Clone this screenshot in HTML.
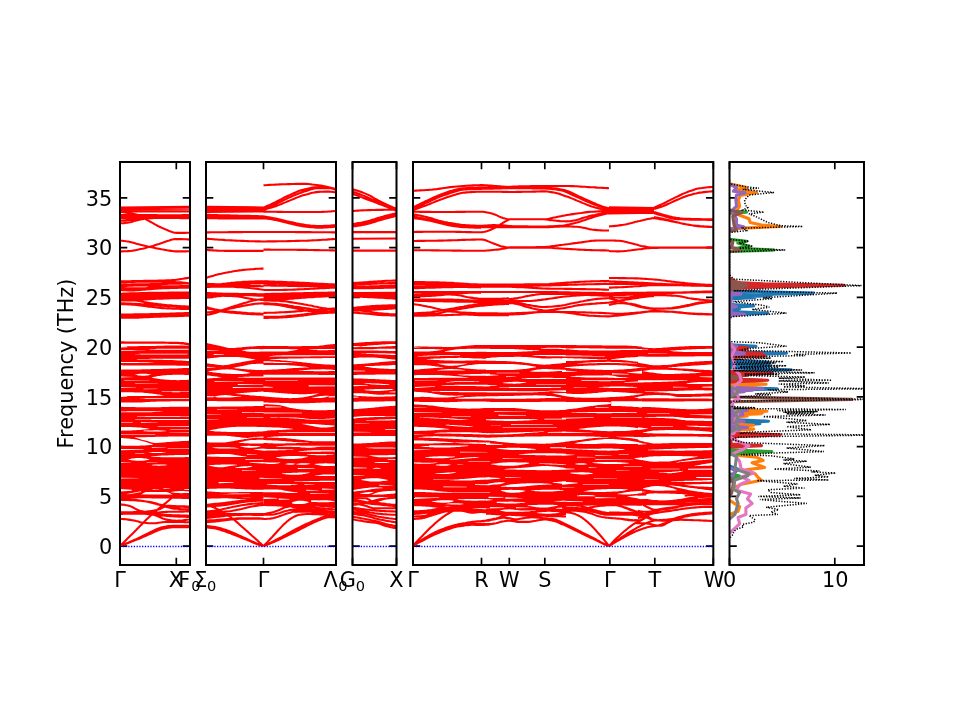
<!DOCTYPE html>
<html lang="en"><head><meta charset="utf-8"><title>Phonon band structure and DOS</title><style>html,body{margin:0;padding:0;background:#fff}body{width:960px;height:720px;overflow:hidden}</style></head><body>
<svg width="960" height="720" viewBox="0 0 960 720" style="display:block">
<rect width="960" height="720" fill="#fff"/>
<defs>
<clipPath id="c0"><rect x="120" y="162" width="70" height="403"/></clipPath>
<clipPath id="c1"><rect x="206" y="162" width="130" height="403"/></clipPath>
<clipPath id="c2"><rect x="352.5" y="162" width="44.0" height="403"/></clipPath>
<clipPath id="c3"><rect x="413" y="162" width="300.29999999999995" height="403"/></clipPath>
<clipPath id="c4"><rect x="729.5" y="162" width="134.5" height="403"/></clipPath>
</defs>
<path d="M120 546.10h7.3M190 546.10h-7.3M120 496.36h7.3M190 496.36h-7.3M120 446.61h7.3M190 446.61h-7.3M120 396.87h7.3M190 396.87h-7.3M120 347.12h7.3M190 347.12h-7.3M120 297.38h7.3M190 297.38h-7.3M120 247.63h7.3M190 247.63h-7.3M120 197.89h7.3M190 197.89h-7.3M120 565v-7.3M120 162v7.3M176.3 565v-7.3M176.3 162v7.3M190 565v-7.3M190 162v7.3M206 546.10h7.3M336 546.10h-7.3M206 496.36h7.3M336 496.36h-7.3M206 446.61h7.3M336 446.61h-7.3M206 396.87h7.3M336 396.87h-7.3M206 347.12h7.3M336 347.12h-7.3M206 297.38h7.3M336 297.38h-7.3M206 247.63h7.3M336 247.63h-7.3M206 197.89h7.3M336 197.89h-7.3M206 565v-7.3M206 162v7.3M263.5 565v-7.3M263.5 162v7.3M336 565v-7.3M336 162v7.3M352.5 546.10h7.3M396.5 546.10h-7.3M352.5 496.36h7.3M396.5 496.36h-7.3M352.5 446.61h7.3M396.5 446.61h-7.3M352.5 396.87h7.3M396.5 396.87h-7.3M352.5 347.12h7.3M396.5 347.12h-7.3M352.5 297.38h7.3M396.5 297.38h-7.3M352.5 247.63h7.3M396.5 247.63h-7.3M352.5 197.89h7.3M396.5 197.89h-7.3M352.5 565v-7.3M352.5 162v7.3M396.5 565v-7.3M396.5 162v7.3M413 546.10h7.3M713.3 546.10h-7.3M413 496.36h7.3M713.3 496.36h-7.3M413 446.61h7.3M713.3 446.61h-7.3M413 396.87h7.3M713.3 396.87h-7.3M413 347.12h7.3M713.3 347.12h-7.3M413 297.38h7.3M713.3 297.38h-7.3M413 247.63h7.3M713.3 247.63h-7.3M413 197.89h7.3M713.3 197.89h-7.3M413 565v-7.3M413 162v7.3M481.5 565v-7.3M481.5 162v7.3M509.3 565v-7.3M509.3 162v7.3M544.8 565v-7.3M544.8 162v7.3M609.8 565v-7.3M609.8 162v7.3M654.8 565v-7.3M654.8 162v7.3M713.3 565v-7.3M713.3 162v7.3M729.5 546.10h7.3M864 546.10h-7.3M729.5 496.36h7.3M864 496.36h-7.3M729.5 446.61h7.3M864 446.61h-7.3M729.5 396.87h7.3M864 396.87h-7.3M729.5 347.12h7.3M864 347.12h-7.3M729.5 297.38h7.3M864 297.38h-7.3M729.5 247.63h7.3M864 247.63h-7.3M729.5 197.89h7.3M864 197.89h-7.3M729.5 565v-7.3M729.5 162v7.3M834.8 565v-7.3M834.8 162v7.3" stroke="#000" stroke-width="1.67" fill="none"/>
<path clip-path="url(#c0)" d="M119.3 341.3L120.8 341.3L122.4 341.3L123.9 341.3L125.4 341.4L126.9 341.4L128.4 341.4L129.9 341.4L131.4 341.4L132.9 341.4L134.4 341.4L135.9 341.4L137.5 341.4L139.0 341.4L140.5 341.4L142.0 341.5L143.5 341.5L145.0 341.5L146.5 341.5L148.0 341.5L149.5 341.5L151.1 341.5L152.6 341.5L154.1 341.6L155.6 341.6L157.1 341.6L157.7 341.6L158.6 341.6L160.1 341.6L161.6 341.6L163.1 341.6L164.6 341.6L166.2 341.7L167.7 341.7L169.2 341.7L170.7 341.7L172.2 341.7L173.7 341.7L175.2 341.8L176.7 341.8L178.2 341.8L178.5 341.8L179.7 341.9L181.3 342.0L182.8 342.1L184.3 342.3L185.8 342.5L187.3 342.7L188.8 343.0L190.3 343.2L191.8 343.5L191.8 497.8L190.3 497.8L188.8 497.8L187.3 497.8L185.8 497.8L184.3 497.8L182.8 497.8L181.3 497.8L179.7 497.8L178.5 497.8L178.2 497.8L176.7 497.8L175.2 497.8L173.7 497.8L172.2 497.8L170.7 497.8L169.2 497.8L167.7 497.8L166.2 497.8L164.6 497.8L163.1 497.8L161.6 497.8L160.1 497.8L158.6 497.8L157.7 497.8L157.1 497.8L155.6 497.8L154.1 497.8L152.6 497.8L151.1 497.8L149.5 497.8L148.0 497.8L146.5 497.8L145.0 497.8L143.5 497.8L142.0 497.8L140.5 497.8L139.0 497.8L137.5 497.8L135.9 497.8L134.4 497.8L132.9 497.8L131.4 497.8L129.9 497.8L128.4 497.8L126.9 497.8L125.4 497.8L123.9 497.8L122.4 497.8L120.8 497.8L119.3 497.8Z" fill="#f00" stroke="none"/>
<path clip-path="url(#c0)" d="M119.3 343.7L120.8 343.7L122.4 343.7L123.9 343.7L125.4 343.7L126.9 343.7L128.4 343.7L129.9 343.7L131.4 343.7L132.9 343.7L134.5 343.7L136.0 343.7L137.5 343.7L139.0 343.7L140.5 343.7L142.0 343.7L143.5 343.7L145.0 343.7L146.6 343.7L148.1 343.7L149.3 343.8L149.6 343.8L151.1 343.8L152.6 343.8L154.1 343.8L155.6 343.8L157.2 343.8L158.7 343.8L160.2 343.8L161.7 343.8L163.2 343.8L164.7 343.8L166.2 343.8L167.7 343.8L169.3 343.9L170.8 343.9L172.3 343.9L173.8 343.9L174.3 343.9L175.3 343.9L176.8 344.0L178.3 344.1L179.8 344.2L181.4 344.4L182.7 344.5L182.9 344.5L184.4 344.7L185.9 345.0L187.4 345.3L188.9 345.6L188.9 345.7L187.4 345.7L185.9 345.7L184.4 345.6L182.9 345.6L182.7 345.6L181.4 345.6L179.8 345.5L178.3 345.5L176.8 345.5L175.3 345.5L174.3 345.5L173.8 345.5L172.3 345.5L170.8 345.5L169.3 345.5L167.7 345.6L166.2 345.6L164.7 345.6L163.2 345.7L161.7 345.7L160.2 345.7L158.7 345.8L157.2 345.8L155.6 345.9L154.1 345.9L152.6 345.9L151.1 346.0L149.6 346.0L149.3 346.0L148.1 346.0L146.6 346.0L145.0 346.1L143.5 346.1L142.0 346.1L140.5 346.1L139.0 346.1L137.5 346.2L136.0 346.2L134.5 346.2L132.9 346.2L131.4 346.2L129.9 346.2L128.4 346.3L126.9 346.3L125.4 346.3L123.9 346.3L122.4 346.3L120.8 346.3L119.3 346.3ZM120.0 350.2L121.6 350.2L123.1 350.2L124.7 350.2L126.3 350.2L127.9 350.3L129.4 350.3L131.0 350.3L132.6 350.3L132.7 350.3L134.2 350.4L135.7 350.4L137.3 350.4L138.9 350.4L140.4 350.4L142.0 350.5L143.6 350.5L145.2 350.5L145.2 350.7L143.6 350.7L142.0 350.7L140.4 350.8L138.9 350.8L137.3 350.8L135.7 350.9L134.2 350.9L132.7 350.9L132.6 350.9L131.0 350.9L129.4 350.9L127.9 351.0L126.3 351.0L124.7 351.0L123.1 351.0L121.6 351.0L120.0 351.0ZM149.3 349.2L150.8 349.1L152.3 349.0L153.9 349.0L155.4 348.9L156.9 348.8L158.4 348.8L159.9 348.8L161.4 348.7L162.9 348.7L164.4 348.7L165.9 348.7L166.0 348.7L167.4 348.7L168.9 348.7L170.4 348.7L171.9 348.7L173.4 348.7L174.9 348.7L176.4 348.7L178.0 348.7L179.5 348.7L181.0 348.7L182.5 348.7L184.0 348.8L185.5 348.8L187.0 348.8L188.5 348.8L188.5 349.8L187.0 349.8L185.5 349.8L184.0 349.8L182.5 349.8L181.0 349.8L179.5 349.8L178.0 349.8L176.4 349.8L174.9 349.8L173.4 349.8L171.9 349.8L170.4 349.8L168.9 349.8L167.4 349.8L166.0 349.8L165.9 349.8L164.4 349.8L162.9 349.8L161.4 349.8L159.9 349.8L158.4 349.7L156.9 349.7L155.4 349.7L153.9 349.6L152.3 349.6L150.8 349.5L149.3 349.5ZM135.2 353.9L136.7 353.9L138.2 353.9L139.7 353.8L141.2 353.8L142.7 353.8L144.2 353.8L145.7 353.7L147.2 353.7L148.7 353.7L150.2 353.7L151.7 353.7L153.2 353.7L154.7 353.7L156.2 353.7L157.7 353.7L157.7 353.7L159.2 353.7L160.7 353.7L162.2 353.7L163.7 353.7L165.2 353.7L166.7 353.7L168.2 353.7L169.7 353.7L171.2 353.7L172.7 353.7L174.2 353.7L175.7 353.7L177.2 353.7L178.7 353.7L180.2 353.7L181.7 353.8L183.2 353.8L184.7 353.8L186.2 353.8L187.7 353.8L187.7 354.3L186.2 354.4L184.7 354.4L183.2 354.4L181.7 354.4L180.2 354.4L178.7 354.4L177.2 354.4L175.7 354.5L174.2 354.5L172.7 354.5L171.2 354.5L169.7 354.5L168.2 354.5L166.7 354.5L165.2 354.5L163.7 354.5L162.2 354.5L160.7 354.5L159.2 354.5L157.7 354.5L157.7 354.5L156.2 354.5L154.7 354.5L153.2 354.5L151.7 354.5L150.2 354.5L148.7 354.5L147.2 354.4L145.7 354.4L144.2 354.4L142.7 354.4L141.2 354.4L139.7 354.3L138.2 354.3L136.7 354.3L135.2 354.2ZM136.8 359.2L138.3 359.1L139.8 359.1L141.3 359.0L142.9 359.0L144.4 359.0L145.9 358.9L147.4 358.9L148.9 358.9L150.4 358.8L151.9 358.8L153.4 358.8L154.9 358.8L156.4 358.7L157.9 358.7L159.4 358.7L160.9 358.7L162.4 358.7L163.9 358.7L165.4 358.7L166.0 358.7L166.9 358.7L168.4 358.7L169.9 358.7L171.4 358.7L172.9 358.7L174.4 358.7L176.0 358.7L177.5 358.7L179.0 358.7L180.5 358.7L182.0 358.7L183.5 358.7L185.0 358.7L186.5 358.8L188.0 358.8L189.5 358.8L191.0 358.8L191.0 361.2L189.5 361.1L188.0 361.0L186.5 360.9L185.0 360.8L183.5 360.7L182.0 360.6L180.5 360.5L179.0 360.4L177.5 360.4L176.0 360.3L174.4 360.2L172.9 360.1L171.4 360.1L169.9 360.0L168.4 360.0L166.9 359.9L166.0 359.9L165.4 359.9L163.9 359.9L162.4 359.8L160.9 359.8L159.4 359.8L157.9 359.7L156.4 359.7L154.9 359.7L153.4 359.7L151.9 359.6L150.4 359.6L148.9 359.6L147.4 359.6L145.9 359.6L144.4 359.5L142.9 359.5L141.3 359.5L139.8 359.5L138.3 359.5L136.8 359.5ZM119.3 361.9L120.9 361.9L122.4 361.9L124.0 361.9L125.5 361.9L127.1 361.9L128.7 361.9L130.2 361.9L131.8 361.9L133.3 362.0L134.9 362.0L136.4 362.0L138.0 362.0L139.5 362.0L141.0 362.0L141.1 362.0L142.6 362.0L144.2 362.0L145.7 362.1L147.3 362.1L148.8 362.2L150.4 362.2L151.9 362.3L153.5 362.3L153.5 362.6L151.9 362.6L150.4 362.7L148.8 362.7L147.3 362.7L145.7 362.8L144.2 362.8L142.6 362.8L141.1 362.8L141.0 362.8L139.5 362.8L138.0 362.9L136.4 362.9L134.9 362.9L133.3 362.9L131.8 362.9L130.2 362.9L128.7 362.9L127.1 362.9L125.5 362.9L124.0 362.9L122.4 362.9L120.9 362.9L119.3 362.9ZM119.3 365.3L120.9 365.3L122.4 365.3L123.9 365.4L125.4 365.4L127.0 365.4L128.5 365.4L130.0 365.4L131.5 365.4L133.1 365.4L134.6 365.4L136.1 365.4L137.6 365.4L139.2 365.4L140.7 365.4L142.2 365.4L143.7 365.4L145.3 365.5L146.8 365.5L148.3 365.5L149.8 365.5L151.4 365.5L152.9 365.5L153.5 365.5L154.4 365.5L155.9 365.5L157.5 365.5L159.0 365.5L160.5 365.5L162.0 365.6L163.6 365.6L165.1 365.6L166.6 365.6L168.1 365.6L169.7 365.6L171.2 365.6L172.7 365.6L174.2 365.6L175.8 365.6L177.3 365.7L178.8 365.7L180.3 365.7L181.9 365.7L183.4 365.7L184.9 365.7L186.4 365.7L188.0 365.7L189.5 365.7L191.0 365.8L191.0 367.8L189.5 367.9L188.0 368.0L186.4 368.0L184.9 368.1L183.4 368.1L181.9 368.2L180.3 368.3L178.8 368.3L177.3 368.4L175.8 368.4L174.2 368.5L172.7 368.5L171.2 368.6L169.7 368.6L168.1 368.7L166.6 368.7L165.1 368.8L163.6 368.8L162.0 368.9L160.5 368.9L159.0 368.9L157.5 369.0L155.9 369.0L154.4 369.1L153.5 369.1L152.9 369.1L151.4 369.1L149.8 369.2L148.3 369.2L146.8 369.2L145.3 369.3L143.7 369.3L142.2 369.3L140.7 369.4L139.2 369.4L137.6 369.4L136.1 369.4L134.6 369.5L133.1 369.5L131.5 369.5L130.0 369.5L128.5 369.6L127.0 369.6L125.4 369.6L123.9 369.6L122.4 369.6L120.9 369.7L119.3 369.7ZM135.2 374.6L136.8 374.3L138.3 374.0L139.9 373.8L141.5 373.7L143.1 373.7L143.5 373.7L144.7 373.7L146.2 373.8L147.8 374.0L149.4 374.2L151.0 374.6L151.0 374.8L149.4 375.1L147.8 375.4L146.2 375.6L144.7 375.7L143.5 375.8L143.1 375.7L141.5 375.7L139.9 375.6L138.3 375.4L136.8 375.1L135.2 374.8ZM119.3 376.6L134.3 376.9L134.3 377.1L119.3 377.4ZM151.8 377.2L153.3 376.9L154.8 376.7L156.4 376.4L157.9 376.1L159.4 375.9L160.9 375.7L162.4 375.5L163.9 375.3L165.4 375.2L166.0 375.2L166.9 375.1L168.4 375.0L169.9 374.9L171.4 374.9L172.9 374.8L174.4 374.7L175.9 374.7L177.4 374.7L178.5 374.7L178.9 374.7L180.5 374.7L182.0 374.7L183.5 374.8L185.0 374.9L186.5 375.0L188.0 375.1L189.5 375.2L191.0 375.3L191.0 379.5L189.5 379.6L188.0 379.8L186.5 379.9L185.0 380.0L183.5 380.1L182.0 380.1L180.5 380.1L178.9 380.2L178.5 380.2L177.4 380.2L175.9 380.1L174.4 380.1L172.9 380.0L171.4 380.0L169.9 379.9L168.4 379.8L166.9 379.7L166.0 379.7L165.4 379.6L163.9 379.5L162.4 379.3L160.9 379.2L159.4 378.9L157.9 378.7L156.4 378.5L154.8 378.2L153.3 377.9L151.8 377.6ZM124.3 380.1L149.3 380.2L149.3 380.5L124.3 380.6ZM135.2 383.2L157.7 383.2L157.7 383.6L135.2 383.7ZM119.3 387.1L136.0 387.3L136.0 387.5L119.3 387.8ZM143.5 388.7L157.7 388.8L157.7 389.0L143.5 389.2ZM119.3 392.2L120.9 392.2L122.4 392.2L123.9 392.2L125.4 392.2L126.9 392.2L128.5 392.2L130.0 392.3L131.5 392.3L133.0 392.3L134.6 392.4L136.1 392.4L137.6 392.5L139.1 392.5L140.7 392.6L141.0 392.6L142.2 392.6L143.7 392.7L145.2 392.9L146.7 393.0L148.3 393.2L149.8 393.4L151.3 393.6L152.8 393.8L153.5 393.8L154.4 393.9L155.9 394.1L157.4 394.4L158.9 394.6L160.5 394.8L162.0 395.1L163.5 395.3L163.5 395.5L162.0 395.6L160.5 395.7L158.9 395.8L157.4 395.8L155.9 395.9L154.4 395.9L153.5 395.9L152.8 395.9L151.3 395.9L149.8 395.9L148.3 395.9L146.7 395.9L145.2 395.9L143.7 395.9L142.2 395.9L141.0 395.9L140.7 395.9L139.1 395.9L137.6 395.9L136.1 395.9L134.6 395.9L133.0 395.9L131.5 395.9L130.0 395.9L128.5 395.9L126.9 395.9L125.4 395.9L123.9 395.9L122.4 395.9L120.9 395.9L119.3 395.9ZM161.8 391.6L163.4 391.5L165.0 391.5L166.6 391.4L168.1 391.4L169.7 391.4L171.3 391.4L172.9 391.3L174.3 391.3L174.4 391.3L176.0 391.3L177.6 391.3L179.1 391.3L180.7 391.4L182.3 391.4L183.9 391.4L185.4 391.4L187.0 391.4L188.6 391.5L190.2 391.5L190.2 392.0L188.6 392.0L187.0 392.1L185.4 392.1L183.9 392.1L182.3 392.1L180.7 392.1L179.1 392.2L177.6 392.2L176.0 392.2L174.4 392.2L174.3 392.2L172.9 392.2L171.3 392.1L169.7 392.1L168.1 392.1L166.6 392.1L165.0 392.0L163.4 392.0L161.8 391.9ZM140.2 398.2L141.7 398.2L143.2 398.2L144.7 398.2L146.2 398.1L147.7 398.1L149.3 398.1L150.8 398.1L152.3 398.0L153.8 398.0L155.3 398.0L156.8 398.0L157.7 398.0L158.3 398.0L159.9 398.0L161.4 398.0L162.9 398.0L164.4 398.0L165.9 398.0L167.4 398.0L169.0 398.0L170.5 398.0L172.0 398.0L173.5 398.0L175.0 398.0L176.5 398.0L178.0 398.0L179.6 398.1L181.1 398.1L182.6 398.1L184.1 398.1L185.6 398.1L187.1 398.1L188.7 398.1L190.2 398.2L190.2 398.7L188.7 398.7L187.1 398.7L185.6 398.7L184.1 398.7L182.6 398.8L181.1 398.8L179.6 398.8L178.0 398.8L176.5 398.8L175.0 398.8L173.5 398.8L172.0 398.8L170.5 398.8L169.0 398.8L167.4 398.8L165.9 398.8L164.4 398.8L162.9 398.8L161.4 398.8L159.9 398.8L158.3 398.8L157.7 398.8L156.8 398.8L155.3 398.8L153.8 398.8L152.3 398.8L150.8 398.8L149.3 398.8L147.7 398.7L146.2 398.7L144.7 398.7L143.2 398.6L141.7 398.6L140.2 398.6ZM119.3 402.3L120.9 402.4L122.4 402.4L123.9 402.5L125.4 402.5L127.0 402.5L128.5 402.6L130.0 402.6L131.5 402.6L133.1 402.6L134.6 402.6L136.1 402.6L136.8 402.6L137.6 402.6L139.2 402.5L140.7 402.5L142.2 402.4L143.7 402.3L145.3 402.2L146.8 402.1L148.3 402.0L149.8 401.9L151.4 401.8L152.9 401.8L153.5 401.8L154.4 401.7L155.9 401.7L157.5 401.6L159.0 401.6L160.5 401.6L162.0 401.5L163.6 401.5L165.1 401.4L166.6 401.4L168.1 401.4L169.7 401.4L171.2 401.3L172.7 401.3L174.2 401.3L174.3 401.3L175.8 401.3L177.3 401.3L178.8 401.3L180.3 401.3L181.9 401.3L183.4 401.3L184.9 401.3L186.4 401.3L188.0 401.3L189.5 401.3L191.0 401.3L191.0 406.8L189.5 406.8L188.0 406.8L186.4 406.8L184.9 406.8L183.4 406.8L181.9 406.8L180.3 406.8L178.8 406.8L177.3 406.8L175.8 406.8L174.3 406.8L174.2 406.8L172.7 406.8L171.2 406.8L169.7 406.8L168.1 406.9L166.6 406.9L165.1 407.0L163.6 407.1L162.0 407.1L160.5 407.2L159.0 407.2L157.5 407.3L155.9 407.3L154.4 407.3L153.5 407.3L152.9 407.3L151.4 407.3L149.8 407.3L148.3 407.3L146.8 407.3L145.3 407.3L143.7 407.3L142.2 407.2L140.7 407.2L139.2 407.2L137.6 407.2L136.8 407.2L136.1 407.2L134.6 407.1L133.1 407.1L131.5 407.1L130.0 407.0L128.5 407.0L127.0 407.0L125.4 406.9L123.9 406.9L122.4 406.8L120.9 406.8L119.3 406.8ZM119.3 411.6L120.9 411.5L122.4 411.5L124.0 411.4L125.5 411.4L127.1 411.3L128.6 411.3L130.2 411.3L131.7 411.2L133.3 411.2L134.8 411.2L136.4 411.2L137.9 411.2L139.5 411.2L141.0 411.2L142.5 411.2L144.1 411.2L145.6 411.2L147.2 411.2L148.7 411.2L150.3 411.2L151.8 411.3L153.4 411.3L154.9 411.3L156.5 411.4L158.0 411.4L159.6 411.5L161.1 411.5L162.7 411.6L162.7 411.8L161.1 411.8L159.6 411.9L158.0 411.9L156.5 412.0L154.9 412.1L153.4 412.1L151.8 412.2L150.3 412.2L148.7 412.2L147.2 412.3L145.6 412.3L144.1 412.3L142.5 412.3L141.0 412.3L139.5 412.3L137.9 412.3L136.4 412.3L134.8 412.3L133.3 412.3L131.7 412.3L130.2 412.3L128.6 412.3L127.1 412.3L125.5 412.3L124.0 412.3L122.4 412.2L120.9 412.2L119.3 412.2ZM136.8 416.2L138.4 416.1L139.9 416.1L141.4 416.1L142.9 416.1L144.5 416.0L146.0 416.0L147.5 416.0L149.0 416.0L150.5 416.0L152.1 415.9L153.6 415.9L155.1 415.9L156.6 415.9L157.7 415.9L158.2 415.9L159.7 415.9L161.2 415.9L162.7 415.9L164.3 415.9L165.8 415.9L167.3 415.9L168.8 415.9L170.4 415.9L171.9 415.9L173.4 416.0L174.9 416.0L176.5 416.0L178.0 416.0L179.5 416.0L181.0 416.0L182.5 416.0L184.1 416.1L185.6 416.1L187.1 416.1L188.6 416.1L190.2 416.2L190.2 416.5L188.6 416.5L187.1 416.6L185.6 416.6L184.1 416.6L182.5 416.6L181.0 416.6L179.5 416.7L178.0 416.7L176.5 416.7L174.9 416.7L173.4 416.7L171.9 416.7L170.4 416.7L168.8 416.7L167.3 416.7L165.8 416.7L164.3 416.7L162.7 416.7L161.2 416.7L159.7 416.7L158.2 416.7L157.7 416.8L156.6 416.7L155.1 416.7L153.6 416.7L152.1 416.7L150.5 416.7L149.0 416.7L147.5 416.7L146.0 416.7L144.5 416.6L142.9 416.6L141.4 416.6L139.9 416.6L138.4 416.5L136.8 416.5ZM135.2 419.3L136.7 419.3L138.2 419.3L139.8 419.3L141.3 419.3L142.8 419.2L144.3 419.2L145.9 419.2L147.4 419.2L148.9 419.2L150.4 419.2L152.0 419.1L153.5 419.1L155.0 419.1L156.6 419.1L158.1 419.1L159.6 419.1L161.1 419.1L162.7 419.1L164.2 419.1L165.7 419.1L166.0 419.1L167.2 419.1L168.8 419.1L170.3 419.1L171.8 419.1L173.4 419.1L174.9 419.1L176.4 419.1L177.9 419.1L179.5 419.1L181.0 419.1L182.5 419.1L184.1 419.1L185.6 419.1L187.1 419.1L188.6 419.2L190.2 419.2L190.2 419.8L188.6 419.8L187.1 419.9L185.6 419.9L184.1 419.9L182.5 419.9L181.0 419.9L179.5 419.9L177.9 419.9L176.4 419.9L174.9 419.9L173.4 419.9L171.8 419.9L170.3 419.9L168.8 419.9L167.2 419.9L166.0 419.9L165.7 419.9L164.2 419.9L162.7 419.9L161.1 419.9L159.6 419.9L158.1 419.9L156.6 419.9L155.0 419.9L153.5 419.9L152.0 419.9L150.4 419.8L148.9 419.8L147.4 419.8L145.9 419.8L144.3 419.8L142.8 419.8L141.3 419.7L139.8 419.7L138.2 419.7L136.7 419.7L135.2 419.7ZM119.3 422.0L132.7 422.1L132.7 422.4L119.3 422.5ZM141.0 422.0L157.7 422.2L157.7 422.5L141.0 422.7ZM119.3 427.0L120.8 427.0L122.3 427.0L123.8 427.0L125.3 427.0L126.8 427.1L128.3 427.1L129.8 427.1L131.3 427.1L132.7 427.2L132.8 427.2L134.3 427.2L135.8 427.3L137.3 427.4L138.8 427.5L140.3 427.6L141.8 427.8L143.3 427.9L144.8 428.1L146.3 428.3L147.8 428.5L149.3 428.7L149.3 429.0L147.8 429.2L146.3 429.3L144.8 429.5L143.3 429.6L141.8 429.7L140.3 429.9L138.8 430.0L137.3 430.1L135.8 430.2L134.3 430.3L132.8 430.3L132.7 430.3L131.3 430.4L129.8 430.4L128.3 430.5L126.8 430.5L125.3 430.6L123.8 430.6L122.3 430.6L120.8 430.7L119.3 430.7ZM157.7 426.5L190.2 426.3L190.2 427.0L157.7 427.0ZM170.2 429.2L190.2 429.2L190.2 429.7L170.2 429.7ZM143.5 430.8L145.0 430.6L146.5 430.5L148.0 430.5L149.5 430.4L151.0 430.4L152.5 430.4L154.0 430.3L155.5 430.3L157.0 430.3L157.7 430.3L158.5 430.3L160.0 430.4L161.5 430.5L163.0 430.6L164.5 430.7L166.0 430.8L166.0 431.2L164.5 431.3L163.0 431.3L161.5 431.4L160.0 431.5L158.5 431.5L157.7 431.5L157.0 431.5L155.5 431.5L154.0 431.5L152.5 431.5L151.0 431.5L149.5 431.4L148.0 431.4L146.5 431.3L145.0 431.3L143.5 431.2ZM169.3 432.4L190.2 432.3L190.2 432.8L169.3 432.8ZM119.3 434.1L155.2 434.1L155.2 434.4L119.3 434.5ZM135.2 437.3L136.7 437.3L138.2 437.3L139.7 437.3L141.2 437.2L142.7 437.2L144.2 437.2L145.2 437.2L145.7 437.2L147.2 437.1L148.7 437.1L150.3 437.0L151.8 437.0L153.3 436.9L154.8 436.9L156.0 436.8L156.3 436.8L157.8 436.8L159.3 436.8L160.8 436.7L162.3 436.7L163.8 436.7L165.3 436.7L166.0 436.7L166.9 436.7L168.4 436.6L169.9 436.6L171.4 436.6L172.9 436.6L174.4 436.6L175.9 436.6L177.4 436.6L178.9 436.5L180.4 436.5L181.9 436.5L183.5 436.5L185.0 436.5L186.5 436.5L188.0 436.5L189.5 436.5L191.0 436.5L191.0 440.7L189.5 440.7L188.0 440.8L186.5 440.9L185.0 441.0L183.5 441.0L181.9 441.1L180.4 441.2L178.9 441.3L177.4 441.4L175.9 441.5L174.4 441.6L172.9 441.7L171.4 441.8L169.9 441.9L168.4 442.0L166.9 442.1L166.0 442.2L165.3 442.2L163.8 442.4L162.3 442.5L160.8 442.7L159.3 442.8L157.8 442.9L156.3 443.0L156.0 443.0L154.8 442.9L153.3 442.7L151.8 442.4L150.3 442.0L148.7 441.5L147.2 441.1L145.7 440.6L145.2 440.5L144.2 440.3L142.7 439.9L141.2 439.4L139.7 439.0L138.2 438.6L136.7 438.1L135.2 437.7ZM119.3 438.0L120.8 438.0L122.4 438.1L123.9 438.2L125.4 438.3L126.9 438.4L128.4 438.5L129.9 438.7L131.5 438.9L132.7 439.0L133.0 439.0L134.5 439.3L136.0 439.5L137.5 439.8L139.0 440.2L140.5 440.6L142.1 441.0L143.5 441.3L143.6 441.4L145.1 441.8L146.6 442.2L148.1 442.7L149.6 443.2L151.2 443.8L152.7 444.3L152.7 444.8L151.2 445.0L149.6 445.1L148.1 445.2L146.6 445.3L145.1 445.4L143.6 445.5L143.5 445.5L142.1 445.6L140.5 445.6L139.0 445.7L137.5 445.7L136.0 445.8L134.5 445.8L133.0 445.8L132.7 445.8L131.5 445.8L129.9 445.8L128.4 445.8L126.9 445.8L125.4 445.7L123.9 445.7L122.4 445.6L120.8 445.6L119.3 445.5ZM119.3 449.0L143.5 449.3L143.5 449.8L119.3 450.2ZM151.8 446.9L166.0 447.2L166.0 447.5L151.8 447.8ZM167.7 448.2L190.2 448.2L190.2 448.8L167.7 448.8ZM135.2 453.2L144.3 453.3L144.3 453.7L135.2 453.8ZM149.3 452.3L150.8 452.2L152.4 452.1L153.9 452.1L155.4 452.0L156.9 452.0L157.7 452.0L158.4 452.0L159.9 452.0L161.5 452.1L163.0 452.2L164.5 452.3L166.0 452.4L166.0 452.6L164.5 452.7L163.0 452.8L161.5 452.9L159.9 453.0L158.4 453.0L157.7 453.0L156.9 453.0L155.4 453.0L153.9 452.9L152.4 452.9L150.8 452.8L149.3 452.7ZM151.0 456.2L152.5 456.1L154.0 456.0L155.5 456.0L157.0 455.9L158.5 455.8L160.0 455.7L161.5 455.6L163.1 455.5L164.6 455.5L166.0 455.4L166.1 455.4L167.6 455.4L169.1 455.3L170.6 455.3L172.1 455.2L173.6 455.2L175.1 455.1L176.6 455.1L178.1 455.0L179.6 455.0L181.1 455.0L182.6 454.9L184.1 454.9L185.6 454.9L187.2 454.9L188.7 454.8L190.2 454.8L190.2 456.9L188.7 457.0L187.2 457.1L185.6 457.1L184.1 457.2L182.6 457.2L181.1 457.2L179.6 457.3L178.1 457.3L176.6 457.3L175.1 457.3L173.6 457.3L172.1 457.3L170.6 457.3L169.1 457.3L167.6 457.3L166.1 457.3L166.0 457.3L164.6 457.3L163.1 457.3L161.5 457.2L160.0 457.1L158.5 457.0L157.0 456.9L155.5 456.8L154.0 456.7L152.5 456.6L151.0 456.4ZM128.5 459.3L130.1 459.0L131.7 458.6L133.3 458.4L134.9 458.2L136.5 458.1L138.1 458.0L139.3 458.0L139.7 458.0L141.3 458.1L142.9 458.2L144.5 458.4L146.1 458.6L147.7 459.0L149.3 459.3L149.3 459.5L147.7 459.9L146.1 460.2L144.5 460.5L142.9 460.7L141.3 460.8L139.7 460.8L139.3 460.8L138.1 460.8L136.5 460.7L134.9 460.6L133.3 460.4L131.7 460.2L130.1 459.9L128.5 459.5ZM119.3 462.2L131.0 462.4L131.0 462.8L119.3 463.0ZM146.8 462.2L157.7 462.3L157.7 462.5L146.8 462.7ZM151.8 464.8L153.4 464.7L155.0 464.6L156.6 464.5L158.2 464.4L159.3 464.4L159.8 464.4L161.3 464.4L162.9 464.5L164.5 464.6L166.1 464.7L167.7 464.9L167.7 465.1L166.1 465.3L164.5 465.4L162.9 465.6L161.3 465.6L159.8 465.7L159.3 465.7L158.2 465.7L156.6 465.6L155.0 465.5L153.4 465.4L151.8 465.2ZM119.3 477.8L138.5 478.0L138.5 478.3L119.3 478.6ZM119.3 489.0L131.8 489.7L131.8 490.8L119.3 491.5ZM152.7 489.0L159.3 489.2L159.3 489.6L152.7 489.8ZM163.5 488.0L170.2 488.2L170.2 488.6L163.5 488.8ZM184.3 489.0L190.2 489.0L190.2 489.8L184.3 489.8ZM171.0 492.0L172.6 491.7L174.2 491.5L175.8 491.3L177.4 491.2L179.0 491.1L180.2 491.1L180.6 491.1L182.2 491.1L183.8 491.1L185.4 491.2L187.0 491.3L188.6 491.5L190.2 491.7L190.2 492.7L188.6 492.9L187.0 493.0L185.4 493.1L183.8 493.1L182.2 493.2L180.6 493.2L180.2 493.2L179.0 493.1L177.4 493.1L175.8 492.9L174.2 492.7L172.6 492.4L171.0 492.2ZM139.3 495.7L140.9 494.7L142.4 493.7L143.9 492.8L145.4 492.2L146.8 492.0L146.9 492.0L148.5 492.0L150.0 492.0L151.5 492.0L153.0 492.0L154.6 492.0L156.1 492.0L157.6 492.0L159.1 492.0L160.6 492.0L162.2 492.0L163.7 492.0L165.2 492.0L166.0 492.0L166.7 492.0L168.2 492.4L169.8 493.1L171.3 494.0L172.8 495.0L174.3 496.0L174.3 496.2L172.8 496.2L171.3 496.2L169.8 496.3L168.2 496.3L166.7 496.3L166.0 496.3L165.2 496.3L163.7 496.3L162.2 496.3L160.6 496.3L159.1 496.3L157.6 496.3L156.1 496.3L154.6 496.3L153.0 496.3L151.5 496.3L150.0 496.3L148.5 496.3L146.9 496.3L146.8 496.3L145.4 496.3L143.9 496.2L142.4 496.1L140.9 496.0L139.3 495.8ZM126.8 494.0L141.0 491.3L141.0 492.0L126.8 494.7ZM119.3 396.0L127.2 396.2L127.2 396.8L119.3 397.0ZM119.3 346.3L127.2 346.6L127.2 347.3L119.3 347.5Z" fill="#fff" stroke="none"/>
<path clip-path="url(#c0)" d="M120.0 207.5L189.3 206.9M120.0 208.4L189.3 208.0M120.0 209.4L189.3 209.2M120.0 210.3L189.3 210.3M120.0 211.3L189.3 211.5M120.0 215.0L122.0 215.0L124.1 215.0L126.1 215.0L128.1 215.0L130.1 215.0L132.2 215.0L134.2 215.0L136.2 215.0L138.3 215.0L140.3 215.0L142.3 215.0L144.3 215.0L145.2 215.0L146.4 215.0L148.4 215.0L150.4 215.0L152.5 215.1L154.5 215.1L156.5 215.1L158.5 215.2L160.6 215.2L162.6 215.2L164.6 215.2L166.7 215.2L167.7 215.2L168.7 215.2L170.7 215.2L172.7 215.2L174.8 215.2L176.8 215.2L178.8 215.2L180.9 215.2L182.9 215.1L184.9 215.1L186.9 215.1L189.0 215.0L191.0 215.0M120.0 216.8L122.0 216.8L124.1 216.8L126.1 216.7L128.1 216.7L130.1 216.6L132.2 216.6L134.2 216.6L136.2 216.6L138.3 216.5L140.3 216.5L142.3 216.5L144.3 216.5L145.2 216.5L146.4 216.5L148.4 216.5L150.4 216.5L152.5 216.5L154.5 216.5L156.5 216.5L158.5 216.5L160.6 216.5L162.6 216.5L164.6 216.5L166.7 216.5L168.7 216.5L170.7 216.5L172.7 216.5L174.8 216.5L176.8 216.5L178.8 216.5L180.9 216.5L182.9 216.5L184.9 216.5L186.9 216.5L189.0 216.5L191.0 216.5M120.0 218.3L122.0 218.3L124.1 218.2L126.1 218.2L128.1 218.1L130.1 218.1L132.2 218.1L134.2 218.0L136.2 218.0L138.3 218.0L140.3 217.9L142.3 217.9L144.3 217.9L145.2 217.9L146.4 217.9L148.4 217.9L150.4 217.9L152.5 217.9L154.5 217.9L156.5 217.9L158.5 217.9L160.6 217.9L162.6 217.9L164.6 217.9L166.7 217.9L168.7 217.9L170.7 217.9L172.7 217.9L174.8 217.9L176.8 217.9L178.8 217.9L180.9 218.0L182.9 218.0L184.9 218.0L186.9 218.0L189.0 218.0L191.0 218.0M120.0 221.0L122.0 220.8L124.1 220.6L126.1 220.4L128.1 220.1L130.1 219.9L132.2 219.6L132.7 219.6L134.2 219.4L136.2 219.1L138.3 218.7L140.3 218.4L142.3 218.2L144.3 218.0L145.2 217.9L146.4 217.9L148.4 217.8L150.4 217.7L152.5 217.6L154.5 217.5L156.5 217.5L158.5 217.4L160.6 217.4L162.6 217.4L164.6 217.3L166.0 217.3L166.7 217.3L168.7 217.3L170.7 217.3L172.7 217.3L174.8 217.3L176.8 217.3L178.8 217.3L180.9 217.3L182.9 217.3L184.9 217.3L186.9 217.3L189.0 217.3L191.0 217.3M120.0 223.3L122.0 223.2L124.1 223.1L126.1 222.8L128.1 222.6L128.5 222.5L130.1 222.2L132.2 221.7L134.2 221.1L136.2 220.6L136.8 220.4L138.3 220.1L140.3 219.6L142.3 219.2L144.3 218.8L145.2 218.8L146.4 218.6L148.4 218.4L150.4 218.2L152.5 218.1L154.5 218.0L156.5 217.9L157.7 217.9L158.5 217.9L160.6 217.9L162.6 217.9L164.6 217.9L166.7 217.9L168.7 217.9L170.7 217.9L172.7 218.0L174.8 218.0L176.8 218.0L178.8 218.0L180.9 218.1L182.9 218.1L184.9 218.1L186.9 218.2L189.0 218.3L191.0 218.3M120.0 211.8L122.0 212.0L124.1 212.3L126.1 212.6L128.1 212.9L130.1 213.3L132.2 213.7L132.7 213.8L134.2 214.1L136.2 214.5L138.3 215.1L140.3 215.7L141.0 216.0L142.3 216.7L144.3 218.2L145.2 218.8L146.4 219.5L148.4 220.6L150.4 221.8L151.0 222.1L152.5 222.9L154.5 224.1L156.5 225.2L157.7 225.8L158.5 226.3L160.6 227.2L162.6 228.1L164.6 229.0L166.0 229.6L166.7 229.9L168.7 230.8L170.7 231.6L172.7 232.2L172.7 232.3L174.8 232.8L176.2 232.9L176.8 232.9L178.8 232.9L180.9 232.9L182.9 232.9L184.9 232.9L186.9 232.8L189.0 232.8L191.0 232.7M119.9 240.5L122.0 240.7L124.1 241.0L126.1 241.3L127.7 241.5L128.2 241.6L130.2 242.0L132.3 242.5L134.3 243.1L136.4 243.7L137.4 243.9L138.5 244.2L140.5 244.7L142.6 245.2L144.6 245.7L146.7 246.2L148.8 246.7L149.6 246.9L150.8 247.1L152.9 247.6L154.9 248.0L157.0 248.4L159.0 248.8L161.1 249.2L161.7 249.3L163.2 249.5L165.2 249.9L167.3 250.3L169.3 250.6L171.4 250.9L172.4 251.0L173.5 251.2L175.5 251.4L176.3 251.4L177.6 251.4L179.6 251.4L181.7 251.4L183.7 251.4L185.8 251.4L187.9 251.3L189.9 251.2M119.9 251.4L122.0 251.4L124.1 251.3L126.1 251.2L128.2 251.1L129.7 251.0L130.2 251.0L132.3 250.7L134.3 250.4L136.4 250.0L137.4 249.8L138.5 249.6L140.5 249.1L142.6 248.7L144.6 248.2L146.7 247.6L148.8 247.1L149.6 246.9L150.8 246.5L152.9 245.9L154.9 245.2L157.0 244.5L159.0 243.9L161.1 243.2L161.7 243.0L163.2 242.5L165.2 241.7L167.3 241.0L169.3 240.4L170.5 240.0L171.4 239.8L173.5 239.3L175.3 239.1L175.5 239.1L177.6 239.1L179.6 239.1L181.7 239.1L183.7 239.2L185.8 239.3L187.9 239.4L189.9 239.6M120.0 281.2L122.0 281.2L124.1 281.2L126.1 281.2L128.1 281.2L130.1 281.2L132.2 281.1L134.2 281.1L136.2 281.1L138.3 281.0L140.3 281.0L142.3 281.0L144.3 280.9L146.4 280.9L148.4 280.9L149.3 280.8L150.4 280.8L152.5 280.8L154.5 280.7L156.5 280.7L158.5 280.6L160.6 280.6L162.6 280.5L164.6 280.5L166.7 280.4L168.7 280.3L170.7 280.2L172.7 280.1L174.3 280.0L174.8 280.0L176.8 279.7L178.8 279.4L180.9 279.0L182.7 278.8L182.9 278.7L184.9 278.4L186.9 278.1L189.0 277.8L191.0 277.5M120.0 282.3L122.0 282.2L124.1 282.2L126.1 282.1L128.1 282.0L130.1 282.0L132.2 281.9L134.2 281.9L136.2 281.8L138.3 281.8L140.3 281.8L142.3 281.7L144.3 281.7L146.4 281.7L148.4 281.7L150.4 281.7L152.5 281.7L154.5 281.7L156.5 281.7L157.7 281.7L158.5 281.7L160.6 281.7L162.6 281.7L164.6 281.7L166.7 281.8L168.7 281.8L170.7 281.9L172.7 282.0L174.8 282.1L176.8 282.2L178.8 282.3L180.9 282.4L182.7 282.5L182.9 282.5L184.9 282.7L186.9 283.1L189.0 283.5L191.0 283.9M120.0 284.6L122.0 284.6L124.1 284.5L126.1 284.5L128.1 284.5L130.1 284.5L132.2 284.4L134.2 284.4L136.2 284.4L138.3 284.3L140.3 284.3L142.3 284.3L144.3 284.2L146.4 284.2L148.4 284.2L149.3 284.2L150.4 284.1L152.5 284.1L154.5 284.1L156.5 284.0L158.5 284.0L160.6 284.0L162.6 283.9L164.6 283.9L166.7 283.9L168.7 283.8L170.7 283.8L172.7 283.7L174.8 283.7L176.8 283.6L178.8 283.6L180.9 283.6L182.9 283.5L184.9 283.5L186.9 283.4L189.0 283.4L191.0 283.3M120.0 286.2L122.0 286.1L124.1 286.0L126.1 285.9L128.1 285.7L130.1 285.7L132.2 285.6L134.2 285.5L136.2 285.5L138.3 285.4L140.3 285.4L141.0 285.4L142.3 285.4L144.3 285.5L146.4 285.5L148.4 285.6L150.4 285.7L152.5 285.8L154.5 285.9L156.5 286.0L158.5 286.1L160.6 286.1L162.6 286.2L164.6 286.2L166.0 286.2L166.7 286.2L168.7 286.2L170.7 286.2L172.7 286.2L174.8 286.2L176.8 286.2L178.8 286.2L180.9 286.1L182.9 286.1L184.9 286.0L186.9 286.0L189.0 285.9L191.0 285.8M120.0 287.9L122.0 288.0L124.1 288.1L126.1 288.2L128.1 288.2L130.1 288.3L132.2 288.3L134.2 288.3L136.2 288.3L138.3 288.3L140.3 288.3L141.0 288.3L142.3 288.3L144.3 288.2L146.4 288.1L148.4 287.9L150.4 287.6L152.5 287.4L154.5 287.3L156.5 287.1L157.7 287.1L158.5 287.1L160.6 287.0L162.6 287.0L164.6 286.9L166.7 286.9L168.7 286.9L170.7 286.8L172.7 286.8L174.8 286.8L176.8 286.7L178.8 286.7L180.9 286.7L182.9 286.7L184.9 286.7L186.9 286.7L189.0 286.7L191.0 286.7M120.0 290.0L122.0 290.1L124.1 290.2L126.1 290.3L128.1 290.4L130.1 290.4L132.2 290.4L132.7 290.4L134.2 290.4L136.2 290.3L138.3 290.2L140.3 290.0L142.3 289.8L144.3 289.6L146.4 289.4L148.4 289.2L149.3 289.2L150.4 289.1L152.5 289.0L154.5 288.8L156.5 288.7L158.5 288.5L160.6 288.4L162.6 288.3L164.6 288.2L166.0 288.2L166.7 288.1L168.7 288.1L170.7 288.0L172.7 288.0L174.8 287.9L176.8 287.9L178.8 287.8L180.9 287.8L182.9 287.7L184.9 287.7L186.9 287.7L189.0 287.7L191.0 287.7M120.0 293.8L122.0 293.7L124.1 293.6L126.1 293.5L128.1 293.5L130.1 293.4L132.2 293.3L134.2 293.3L136.2 293.2L138.3 293.2L140.3 293.1L142.3 293.1L144.3 293.0L146.4 293.0L148.4 292.9L149.3 292.9L150.4 292.9L152.5 292.9L154.5 292.8L156.5 292.8L158.5 292.8L160.6 292.8L162.6 292.7L164.6 292.7L166.7 292.7L168.7 292.6L170.7 292.6L172.7 292.6L174.8 292.6L176.8 292.6L178.8 292.5L180.9 292.5L182.9 292.5L184.9 292.5L186.9 292.5L189.0 292.5L191.0 292.5M120.0 295.0L122.0 295.0L124.1 294.9L126.1 294.9L128.1 294.9L130.1 294.8L132.2 294.8L134.2 294.8L136.2 294.8L138.3 294.7L140.3 294.7L142.3 294.7L144.3 294.6L146.4 294.6L148.4 294.6L149.3 294.6L150.4 294.6L152.5 294.5L154.5 294.5L156.5 294.5L158.5 294.5L160.6 294.5L162.6 294.4L164.6 294.4L166.7 294.4L168.7 294.4L170.7 294.3L172.7 294.3L174.8 294.3L176.8 294.3L178.8 294.3L180.9 294.3L182.9 294.2L184.9 294.2L186.9 294.2L189.0 294.2L191.0 294.2M120.0 296.7L122.0 296.7L124.1 296.7L126.1 296.7L128.1 296.7L130.1 296.7L132.2 296.7L134.2 296.7L136.2 296.7L138.3 296.7L140.3 296.7L141.0 296.7L142.3 296.7L144.3 296.7L146.4 296.6L148.4 296.6L150.4 296.6L152.5 296.6L154.5 296.5L156.5 296.5L158.5 296.4L160.6 296.4L162.6 296.3L164.6 296.2L166.7 296.2L168.7 296.1L170.7 296.0L172.7 295.9L174.8 295.8L176.8 295.7L178.8 295.6L180.9 295.5L182.9 295.4L184.9 295.3L186.9 295.2L189.0 295.1L191.0 295.0M120.0 298.8L122.0 298.8L124.1 298.8L126.1 298.8L128.1 298.8L130.1 298.8L132.2 298.8L134.2 298.8L136.2 298.8L136.8 298.8L138.3 298.7L140.3 298.7L142.3 298.6L144.3 298.6L146.4 298.5L148.4 298.4L150.4 298.2L152.5 298.1L154.5 298.0L156.5 298.0L157.7 297.9L158.5 297.9L160.6 297.8L162.6 297.8L164.6 297.7L166.7 297.6L168.7 297.6L170.7 297.5L172.7 297.5L174.8 297.4L176.8 297.4L178.8 297.3L180.9 297.3L182.9 297.2L184.9 297.2L186.9 297.2L189.0 297.1L191.0 297.1M120.0 300.4L122.0 300.4L124.1 300.4L126.1 300.4L128.1 300.4L130.1 300.4L132.2 300.4L132.7 300.4L134.2 300.4L136.2 300.3L138.3 300.1L140.3 300.0L142.3 299.8L144.3 299.5L146.4 299.4L148.4 299.2L149.3 299.2L150.4 299.1L152.5 299.0L154.5 298.9L156.5 298.8L158.5 298.8L160.6 298.7L162.6 298.6L164.6 298.5L166.7 298.4L168.7 298.4L170.7 298.3L172.7 298.2L174.8 298.2L176.8 298.1L178.8 298.1L180.9 298.0L182.9 298.0L184.9 298.0L186.9 297.9L189.0 297.9L191.0 297.9M120.0 298.8L122.0 298.9L124.1 299.1L126.1 299.3L128.1 299.5L130.1 299.7L132.2 299.9L132.7 300.0L134.2 300.2L136.2 300.5L138.3 300.9L140.3 301.3L142.3 301.7L144.3 302.1L146.4 302.4L148.4 302.8L149.3 302.9L150.4 303.1L152.5 303.4L154.5 303.7L156.5 303.9L158.5 304.2L160.6 304.4L162.6 304.7L164.6 304.9L166.0 305.0L166.7 305.1L168.7 305.2L170.7 305.4L172.7 305.6L174.8 305.7L176.8 305.9L178.8 306.0L180.9 306.2L182.9 306.3L184.9 306.4L186.9 306.5L189.0 306.6L191.0 306.7M120.0 304.2L122.0 304.2L124.1 304.2L126.1 304.3L128.1 304.4L130.1 304.5L132.2 304.6L132.7 304.6L134.2 304.7L136.2 304.9L138.3 305.1L140.3 305.4L142.3 305.7L144.3 306.0L146.4 306.3L148.4 306.6L149.3 306.7L150.4 306.8L152.5 307.0L154.5 307.3L156.5 307.5L158.5 307.7L160.6 307.9L162.6 308.1L164.6 308.3L166.0 308.3L166.7 308.4L168.7 308.4L170.7 308.5L172.7 308.6L174.8 308.7L176.8 308.8L178.8 308.8L180.9 308.9L182.9 308.9L184.9 308.9L186.9 309.0L189.0 309.0L191.0 309.0M120.0 303.3L122.0 303.4L124.1 303.4L126.1 303.5L128.1 303.6L130.1 303.6L132.2 303.7L134.2 303.8L136.2 303.9L138.3 304.0L140.3 304.1L141.0 304.2L142.3 304.2L144.3 304.4L146.4 304.5L148.4 304.7L150.4 304.9L152.5 305.0L154.5 305.2L156.5 305.3L157.7 305.4L158.5 305.5L160.6 305.6L162.6 305.7L164.6 305.9L166.7 306.0L168.7 306.1L170.7 306.2L172.7 306.3L174.8 306.5L176.8 306.6L178.8 306.7L180.9 306.8L182.9 306.9L184.9 307.0L186.9 307.1L189.0 307.2L191.0 307.2M120.0 314.6L122.0 314.6L124.1 314.5L126.1 314.5L128.1 314.5L130.1 314.5L132.2 314.5L134.2 314.4L136.2 314.4L138.3 314.4L140.3 314.3L142.3 314.3L144.3 314.3L146.4 314.2L148.4 314.2L149.3 314.2L150.4 314.1L152.5 314.1L154.5 314.1L156.5 314.0L158.5 314.0L160.6 313.9L162.6 313.9L164.6 313.8L166.7 313.8L168.7 313.7L170.7 313.6L172.7 313.6L174.8 313.5L176.8 313.4L178.8 313.4L180.9 313.3L182.9 313.2L184.9 313.1L186.9 313.1L189.0 313.0L191.0 312.9M120.0 316.7L122.0 316.6L124.1 316.5L126.1 316.5L128.1 316.4L130.1 316.4L132.2 316.3L134.2 316.2L136.2 316.2L138.3 316.1L140.3 316.1L142.3 316.0L144.3 316.0L146.4 315.9L148.4 315.9L149.3 315.8L150.4 315.8L152.5 315.8L154.5 315.7L156.5 315.7L158.5 315.6L160.6 315.6L162.6 315.5L164.6 315.5L166.7 315.4L168.7 315.4L170.7 315.4L172.7 315.3L174.8 315.3L176.8 315.2L178.8 315.2L180.9 315.2L182.9 315.1L184.9 315.1L186.9 315.1L189.0 315.0L191.0 315.0M120.0 317.5L122.0 317.6L124.1 317.6L126.1 317.6L128.1 317.7L130.1 317.7L132.2 317.7L132.7 317.7L134.2 317.7L136.2 317.6L138.3 317.6L140.3 317.5L142.3 317.4L144.3 317.3L146.4 317.2L148.4 317.1L150.4 317.0L152.5 316.9L154.5 316.8L156.5 316.7L157.7 316.7L158.5 316.6L160.6 316.6L162.6 316.5L164.6 316.4L166.7 316.4L168.7 316.3L170.7 316.2L172.7 316.2L174.8 316.1L176.8 316.1L178.8 316.0L180.9 315.9L182.9 315.9L184.9 315.8L186.9 315.8L189.0 315.7L191.0 315.7M120.0 546.1L122.0 544.0L124.1 542.0L126.1 540.0L128.1 537.9L130.1 535.9L132.2 533.9L134.2 531.9L136.2 529.9L136.8 529.2L138.3 527.8L140.3 525.8L142.3 523.7L144.3 521.7L146.4 519.6L148.4 517.7L150.4 515.8L151.0 515.2L152.5 513.9L154.5 512.1L156.5 510.4L158.5 508.7L160.6 507.0L162.6 505.4L164.6 503.8L166.0 502.8L166.7 502.2L168.7 500.5L170.7 498.7L172.7 497.1L174.8 496.0L176.2 495.7L176.8 495.6L178.8 495.5L180.9 495.4L182.9 495.4L184.9 495.3L186.9 495.3L189.0 495.3L191.0 495.2M120.0 546.1L122.0 545.2L124.1 544.4L126.1 543.5L128.1 542.7L130.1 541.8L132.2 540.9L132.7 540.7L134.2 540.0L136.2 539.1L138.3 538.1L140.3 537.2L142.3 536.2L144.3 535.2L145.2 534.8L146.4 534.2L148.4 533.2L150.4 532.1L152.5 531.1L153.5 530.7L154.5 530.2L156.5 529.3L158.5 528.4L160.6 527.7L161.8 527.3L162.6 527.2L164.6 526.8L166.7 526.4L168.7 526.1L170.2 526.0L170.7 526.0L172.7 525.8L174.8 525.7L176.2 525.7L176.8 525.7L178.8 525.7L180.9 525.7L182.9 525.7L184.9 525.7L186.9 525.7L189.0 525.8L191.0 525.8M120.0 546.1L122.0 545.3L124.1 544.6L126.1 543.8L128.1 543.0L130.1 542.2L132.2 541.4L132.7 541.2L134.2 540.6L136.2 539.8L138.3 539.0L140.3 538.2L142.3 537.3L144.3 536.4L145.2 536.1L146.4 535.6L148.4 534.6L150.4 533.7L152.5 532.8L153.5 532.3L154.5 531.9L156.5 531.0L158.5 530.1L160.6 529.4L161.8 529.0L162.6 528.8L164.6 528.4L166.7 528.0L168.7 527.7L170.2 527.5L170.7 527.4L172.7 527.3L174.8 527.1L176.2 527.1L176.8 527.1L178.8 527.1L180.9 527.1L182.9 527.1L184.9 527.1L186.9 527.1L189.0 527.1L191.0 527.1M120.0 495.2L191.0 495.7M120.0 497.8L122.0 497.7L124.1 497.6L126.1 497.6L128.1 497.5L130.1 497.5L132.2 497.4L134.2 497.4L136.2 497.4L138.3 497.3L140.3 497.3L141.0 497.3L142.3 497.3L144.3 497.3L146.4 497.3L148.4 497.3L150.4 497.3L152.5 497.4L154.5 497.4L156.5 497.4L158.5 497.4L160.6 497.4L162.6 497.4L164.6 497.5L166.7 497.5L168.7 497.5L170.7 497.6L172.7 497.6L174.8 497.6L176.8 497.7L178.8 497.7L180.9 497.8L182.9 497.9L184.9 497.9L186.9 498.0L189.0 498.1L191.0 498.2M120.0 499.8L122.0 499.9L124.1 499.9L126.1 500.0L128.1 500.0L130.1 500.1L132.2 500.2L132.7 500.2L134.2 500.3L136.2 500.5L138.3 500.6L140.3 500.8L142.3 501.0L144.3 501.3L146.4 501.5L148.4 501.8L149.3 501.9L150.4 502.1L152.5 502.5L154.5 503.0L156.5 503.6L158.5 504.2L160.6 504.7L162.6 505.2L164.6 505.5L166.0 505.7L166.7 505.7L168.7 505.8L170.7 505.9L172.7 506.0L174.8 506.1L176.8 506.2L178.8 506.3L180.9 506.3L182.9 506.4L184.9 506.4L186.9 506.5L189.0 506.5L191.0 506.5M120.0 499.0L122.0 499.0L124.1 499.1L126.1 499.2L128.1 499.3L130.1 499.5L132.2 499.7L134.2 499.9L136.2 500.1L138.3 500.3L140.3 500.6L141.0 500.7L142.3 500.8L144.3 501.2L146.4 501.6L148.4 502.1L150.4 502.6L152.5 503.1L154.5 503.6L156.5 504.1L157.7 504.4L158.5 504.6L160.6 505.2L162.6 505.8L164.6 506.4L166.7 507.0L168.7 507.6L170.7 508.0L172.7 508.4L174.3 508.6L174.8 508.6L176.8 508.8L178.8 508.9L180.9 509.1L182.9 509.2L184.9 509.3L186.9 509.4L189.0 509.4L191.0 509.4M120.0 504.4L122.0 504.6L124.1 504.8L126.1 505.2L128.1 505.6L128.5 505.7L130.1 506.1L132.2 507.0L134.2 508.1L136.2 509.2L138.3 510.2L140.3 510.9L141.0 511.1L142.3 511.3L144.3 511.7L146.4 512.1L148.4 512.4L150.4 512.6L152.5 512.7L153.5 512.8L154.5 512.7L156.5 512.6L158.5 512.5L160.6 512.3L162.6 512.1L164.6 512.0L166.0 511.9L166.7 511.9L168.7 511.8L170.7 511.8L172.7 511.7L174.8 511.7L176.8 511.7L178.8 511.6L180.9 511.6L182.9 511.6L184.9 511.5L186.9 511.5L189.0 511.5L191.0 511.5M120.0 512.3L122.0 512.3L124.1 512.3L126.1 512.3L128.1 512.3L130.1 512.2L132.2 512.2L134.2 512.1L136.2 512.1L138.3 512.0L140.3 511.9L141.0 511.9L142.3 511.9L144.3 511.7L146.4 511.6L148.4 511.3L150.4 511.1L152.5 510.8L154.5 510.4L156.5 510.1L157.7 509.8L158.5 509.6L160.6 508.7L162.6 507.5L164.6 506.7L166.0 506.5L166.7 506.5L168.7 506.5L170.7 506.5L172.7 506.5L174.8 506.5L176.8 506.6L178.8 506.6L180.9 506.7L182.9 506.8L184.9 506.9L186.9 507.0L189.0 507.1L191.0 507.3M120.0 514.0L122.0 513.9L124.1 513.8L126.1 513.7L128.1 513.7L130.1 513.6L132.2 513.6L134.2 513.6L136.2 513.6L138.3 513.6L140.3 513.6L141.0 513.6L142.3 513.6L144.3 513.7L146.4 513.9L148.4 514.1L150.4 514.4L152.5 514.7L153.5 514.8L154.5 515.0L156.5 515.7L158.5 516.5L160.6 517.5L162.6 518.4L164.6 519.1L166.0 519.4L166.7 519.5L168.7 519.9L170.7 520.2L172.7 520.5L174.8 520.6L176.2 520.7L176.8 520.7L178.8 520.6L180.9 520.5L182.9 520.4L184.9 520.1L186.9 519.8L189.0 519.5L191.0 519.0M120.0 518.8L122.0 519.0L124.1 519.1L126.1 519.3L128.1 519.6L130.1 519.9L132.2 520.2L132.7 520.2L134.2 520.5L136.2 521.1L138.3 521.6L140.3 522.2L142.3 522.6L143.5 522.8L144.3 522.8L146.4 523.0L148.4 523.2L150.4 523.3L152.5 523.3L153.5 523.3L154.5 523.3L156.5 523.1L158.5 522.8L160.6 522.5L162.6 522.2L164.6 522.0L166.0 521.9L166.7 521.9L168.7 521.9L170.7 521.9L172.7 521.9L174.8 521.9L176.8 522.0L178.8 522.0L180.9 522.0L182.9 522.0L184.9 522.1L186.9 522.2L189.0 522.2L191.0 522.3M120.0 513.0L122.0 513.0L124.1 513.0L126.1 513.0L128.1 513.0L130.1 513.0L132.2 513.0L134.2 513.0L136.2 513.0L138.3 513.1L140.3 513.1L142.3 513.1L144.3 513.1L146.4 513.1L148.4 513.2L149.3 513.2L150.4 513.2L152.5 513.3L154.5 513.5L156.5 513.8L158.5 514.0L160.6 514.3L162.6 514.5L164.6 514.7L166.0 514.8L166.7 514.9L168.7 515.0L170.7 515.1L172.7 515.2L174.8 515.3L176.8 515.3L178.8 515.4L180.9 515.5L182.9 515.6L184.9 515.6L186.9 515.6L189.0 515.7L191.0 515.7M120.0 513.3L122.0 513.3L124.1 513.3L126.1 513.4L128.1 513.4L130.1 513.4L132.2 513.4L134.2 513.5L136.2 513.5L138.3 513.5L140.3 513.6L142.3 513.6L144.3 513.7L146.4 513.7L148.4 513.8L149.3 513.8L150.4 513.9L152.5 514.1L154.5 514.3L156.5 514.6L158.5 514.9L160.6 515.2L162.6 515.5L164.6 515.7L166.0 515.8L166.7 515.9L168.7 516.0L170.7 516.1L172.7 516.3L174.8 516.4L176.8 516.5L178.8 516.6L180.9 516.7L182.9 516.8L184.9 516.8L186.9 516.9L189.0 516.9L191.0 516.9" fill="none" stroke="#f00" stroke-width="2.08" stroke-linejoin="round"/>
<path clip-path="url(#c1)" d="M205.3 342.7L206.9 343.0L208.4 343.4L209.9 343.7L211.5 344.0L213.0 344.4L214.5 344.7L216.0 345.0L217.6 345.4L218.7 345.6L219.1 345.7L220.6 346.0L222.2 346.4L223.7 346.8L225.2 347.2L226.8 347.6L228.3 347.9L229.8 348.0L231.2 348.1L231.4 348.1L232.9 348.0L234.4 347.9L235.9 347.8L237.0 347.7L237.5 347.6L239.0 347.5L240.5 347.4L242.1 347.2L243.6 347.1L245.1 347.0L246.7 346.8L248.2 346.7L249.7 346.6L251.3 346.5L252.0 346.4L252.8 346.4L254.3 346.3L255.8 346.2L257.4 346.1L258.9 346.0L260.4 346.0L262.0 345.9L263.5 345.8L263.5 497.0L262.0 497.0L260.4 497.0L258.9 497.0L257.4 497.0L255.8 497.0L254.3 497.0L252.8 497.0L252.0 497.0L251.3 497.0L249.7 497.0L248.2 497.0L246.7 497.0L245.1 497.0L243.6 497.0L242.1 497.0L240.5 497.0L239.0 497.0L237.5 497.0L237.0 497.0L235.9 497.0L234.4 497.0L232.9 497.0L231.4 497.0L231.2 497.0L229.8 497.0L228.3 497.0L226.8 497.0L225.2 497.0L223.7 497.0L222.2 497.0L220.6 497.0L219.1 497.0L218.7 497.0L217.6 497.0L216.0 497.0L214.5 497.0L213.0 497.0L211.5 497.0L209.9 497.0L208.4 497.0L206.9 497.0L205.3 497.0ZM263.5 345.8L265.0 345.9L266.5 345.9L268.0 345.9L269.5 345.9L271.0 346.0L272.5 346.0L274.0 346.0L275.5 346.0L277.0 346.1L278.5 346.1L280.0 346.1L281.5 346.1L283.0 346.1L284.5 346.1L286.0 346.1L287.5 346.1L289.0 346.2L290.5 346.2L292.0 346.2L293.5 346.2L295.0 346.2L295.3 346.2L296.5 346.2L298.0 346.2L299.5 346.2L301.0 346.2L302.5 346.1L304.0 346.1L305.5 346.1L307.0 346.1L308.5 346.1L310.0 346.1L311.5 346.1L313.0 346.0L314.5 346.0L316.0 346.0L316.2 346.0L317.5 345.9L319.0 345.8L320.5 345.6L322.0 345.4L323.5 345.2L325.0 345.0L326.5 344.8L327.0 344.8L328.0 344.6L329.5 344.5L331.0 344.3L332.5 344.2L334.0 344.0L335.5 343.9L337.0 343.8L337.0 505.0L335.5 505.0L334.0 505.0L332.5 505.0L331.0 505.0L329.5 505.0L328.0 505.0L327.0 505.0L326.5 505.0L325.0 505.0L323.5 505.0L322.0 505.0L320.5 505.0L319.0 505.0L317.5 505.0L316.2 505.0L316.0 505.0L314.5 505.0L313.0 505.0L311.5 505.0L310.0 505.0L308.5 505.0L307.0 505.0L305.5 505.0L304.0 505.0L302.5 505.0L301.0 505.0L299.5 505.0L298.0 505.0L296.5 505.0L295.3 505.0L295.0 505.0L293.5 505.0L292.0 505.0L290.5 505.0L289.0 505.0L287.5 505.0L286.0 505.0L284.5 505.0L283.0 505.0L281.5 505.0L280.0 505.0L278.5 505.0L277.0 505.0L275.5 505.0L274.0 505.0L272.5 505.0L271.0 505.0L269.5 505.0L268.0 505.0L266.5 505.0L265.0 505.0L263.5 505.0Z" fill="#f00" stroke="none"/>
<path clip-path="url(#c1)" d="M207.0 349.9L218.7 350.2L218.7 350.5L207.0 350.8ZM213.7 354.1L223.7 354.3L223.7 354.7L213.7 354.9ZM242.0 350.2L243.5 349.9L245.1 349.7L246.6 349.5L248.1 349.3L249.7 349.2L251.2 349.1L252.0 349.1L252.8 349.1L254.3 349.1L255.8 349.1L257.4 349.1L258.9 349.1L260.4 349.2L262.0 349.2L263.5 349.3L263.5 351.3L262.0 351.5L260.4 351.6L258.9 351.7L257.4 351.8L255.8 351.8L254.3 351.8L252.8 351.8L252.0 351.8L251.2 351.8L249.7 351.7L248.1 351.6L246.6 351.4L245.1 351.1L243.5 350.8L242.0 350.5ZM205.3 358.7L206.8 358.5L208.4 358.4L209.9 358.3L211.4 358.1L212.9 358.0L214.4 357.8L214.5 357.8L215.9 357.7L217.5 357.5L219.0 357.3L220.5 357.1L222.0 357.0L222.8 357.0L223.5 357.0L225.0 357.0L226.5 357.0L228.1 357.0L229.6 357.0L231.1 357.0L232.6 357.0L234.1 357.0L235.3 357.0L235.6 357.0L237.2 357.0L238.7 357.1L240.2 357.3L241.7 357.4L243.2 357.6L244.7 357.8L246.2 358.0L247.8 358.2L247.8 358.2L249.3 358.4L250.8 358.7L252.3 358.9L253.8 359.2L255.3 359.5L255.3 359.8L253.8 360.1L252.3 360.3L250.8 360.5L249.3 360.8L247.8 361.0L247.8 361.0L246.2 361.3L244.7 361.5L243.2 361.8L241.7 362.1L240.2 362.4L238.7 362.7L237.2 362.9L235.6 363.2L235.3 363.2L234.1 363.5L232.6 363.8L231.1 364.1L229.6 364.4L228.1 364.7L226.5 364.9L225.0 365.1L223.5 365.2L222.8 365.2L222.0 365.2L220.5 365.1L219.0 364.9L217.5 364.7L215.9 364.5L214.5 364.3L214.4 364.3L212.9 364.1L211.4 363.9L209.9 363.7L208.4 363.5L206.8 363.3L205.3 363.0ZM233.7 367.7L235.2 367.4L236.8 367.1L238.4 366.8L239.9 366.5L241.5 366.2L243.1 365.9L243.7 365.8L244.7 365.5L246.2 365.2L247.8 364.8L249.4 364.4L250.9 364.2L252.0 364.1L252.5 364.1L254.1 364.0L255.6 363.9L257.2 363.8L258.8 363.7L260.4 363.7L261.9 363.7L263.5 363.7L263.5 370.2L261.9 370.1L260.4 370.1L258.8 370.0L257.2 369.9L255.6 369.9L254.1 369.8L252.5 369.7L252.0 369.7L250.9 369.6L249.4 369.5L247.8 369.4L246.2 369.3L244.7 369.2L243.7 369.1L243.1 369.0L241.5 368.9L239.9 368.7L238.4 368.6L236.8 368.4L235.2 368.2L233.7 368.0ZM205.3 366.8L215.3 367.2L215.3 367.5L205.3 367.8ZM208.7 371.3L210.2 371.1L211.8 370.8L213.3 370.6L214.8 370.4L216.4 370.2L217.9 370.0L218.7 369.9L219.5 369.8L221.0 369.7L222.6 369.6L224.1 369.4L225.6 369.4L227.0 369.3L227.2 369.3L228.7 369.4L230.3 369.5L231.8 369.6L233.4 369.8L234.9 370.1L236.4 370.3L238.0 370.5L239.5 370.8L239.5 370.8L241.1 371.0L242.6 371.2L244.2 371.5L245.7 371.8L247.2 372.1L248.8 372.4L250.3 372.7L250.3 373.0L248.8 373.2L247.2 373.5L245.7 373.7L244.2 373.8L242.6 374.0L241.1 374.1L239.5 374.1L239.5 374.1L238.0 374.1L236.4 374.0L234.9 374.0L233.4 374.0L231.8 373.9L230.3 373.8L228.7 373.8L227.2 373.7L227.0 373.7L225.6 373.6L224.1 373.5L222.6 373.4L221.0 373.2L219.5 373.1L218.7 373.0L217.9 372.9L216.4 372.8L214.8 372.6L213.3 372.4L211.8 372.1L210.2 371.9L208.7 371.7ZM205.3 375.3L206.9 375.5L208.5 375.6L210.1 375.8L211.7 376.0L213.2 376.2L214.5 376.3L214.8 376.4L216.4 376.6L218.0 376.8L219.6 377.1L221.2 377.3L221.2 377.5L219.6 377.6L218.0 377.7L216.4 377.9L214.8 378.0L214.5 378.0L213.2 378.1L211.7 378.2L210.1 378.3L208.5 378.4L206.9 378.6L205.3 378.7ZM237.8 377.0L239.3 376.9L240.9 376.9L242.4 376.9L243.9 376.8L245.4 376.8L246.9 376.7L248.4 376.7L249.9 376.6L251.4 376.6L252.0 376.6L252.9 376.6L254.4 376.5L256.0 376.5L257.5 376.5L259.0 376.4L260.5 376.4L262.0 376.4L263.5 376.3L263.5 377.8L262.0 377.8L260.5 377.8L259.0 377.8L257.5 377.8L256.0 377.8L254.4 377.8L252.9 377.8L252.0 377.8L251.4 377.8L249.9 377.8L248.4 377.8L246.9 377.7L245.4 377.7L243.9 377.6L242.4 377.6L240.9 377.5L239.3 377.4L237.8 377.3ZM214.5 381.2L243.7 381.4L243.7 381.8L214.5 382.0ZM237.8 384.1L262.8 384.3L262.8 384.7L237.8 384.9ZM232.8 387.0L263.5 387.2L263.5 387.8L232.8 388.0ZM263.5 349.1L265.1 349.1L266.6 349.1L268.2 349.1L269.7 349.1L271.3 349.1L272.9 349.1L274.4 349.1L276.0 349.1L277.5 349.1L279.1 349.1L280.7 349.1L282.2 349.1L282.8 349.1L283.8 349.1L285.3 349.1L286.9 349.1L288.5 349.1L290.0 349.2L291.6 349.2L293.2 349.2L294.7 349.3L296.3 349.3L297.8 349.3L297.8 349.7L296.3 350.0L294.7 350.2L293.2 350.5L291.6 350.8L290.0 351.0L288.5 351.2L286.9 351.4L285.3 351.5L283.8 351.6L282.8 351.6L282.2 351.6L280.7 351.6L279.1 351.6L277.5 351.6L276.0 351.6L274.4 351.6L272.9 351.6L271.3 351.6L269.7 351.6L268.2 351.6L266.6 351.6L265.1 351.6L263.5 351.6ZM308.7 349.7L310.2 349.5L311.8 349.4L313.4 349.3L315.0 349.2L316.5 349.2L318.1 349.1L319.7 349.1L320.3 349.1L321.3 349.1L322.8 349.1L324.4 349.1L326.0 349.1L327.6 349.1L329.1 349.1L330.7 349.1L332.3 349.1L333.9 349.2L335.4 349.2L337.0 349.2L337.0 350.0L335.4 350.0L333.9 350.1L332.3 350.1L330.7 350.1L329.1 350.1L327.6 350.2L326.0 350.2L324.4 350.2L322.8 350.2L321.3 350.2L320.3 350.2L319.7 350.2L318.1 350.2L316.5 350.1L315.0 350.1L313.4 350.0L311.8 350.0L310.2 349.9L308.7 349.8ZM268.7 356.2L270.2 356.0L271.7 355.9L273.2 355.8L274.7 355.7L276.3 355.6L277.8 355.5L279.3 355.4L280.8 355.4L282.3 355.3L282.8 355.3L283.9 355.3L285.4 355.3L286.9 355.3L288.4 355.3L289.9 355.3L291.4 355.2L293.0 355.2L294.5 355.2L296.0 355.2L297.5 355.2L299.0 355.2L300.6 355.2L302.1 355.2L303.6 355.2L305.1 355.2L306.6 355.2L308.1 355.2L309.7 355.2L311.2 355.2L312.0 355.2L312.7 355.2L314.2 355.2L315.7 355.2L317.3 355.2L318.8 355.2L320.3 355.2L321.8 355.2L323.3 355.2L324.9 355.2L326.4 355.2L327.9 355.2L329.4 355.3L330.9 355.3L332.4 355.3L334.0 355.3L335.5 355.3L337.0 355.3L337.0 356.2L335.5 356.2L334.0 356.2L332.4 356.2L330.9 356.2L329.4 356.2L327.9 356.2L326.4 356.2L324.9 356.2L323.3 356.3L321.8 356.3L320.3 356.3L318.8 356.3L317.3 356.3L315.7 356.3L314.2 356.3L312.7 356.3L312.0 356.3L311.2 356.3L309.7 356.4L308.1 356.4L306.6 356.4L305.1 356.4L303.6 356.4L302.1 356.4L300.6 356.5L299.0 356.5L297.5 356.5L296.0 356.5L294.5 356.5L293.0 356.5L291.4 356.5L289.9 356.6L288.4 356.6L286.9 356.6L285.4 356.6L283.9 356.6L282.8 356.6L282.3 356.6L280.8 356.6L279.3 356.6L277.8 356.5L276.3 356.5L274.7 356.5L273.2 356.4L271.7 356.4L270.2 356.4L268.7 356.3ZM270.3 359.1L271.8 359.0L273.4 359.0L274.9 359.0L276.4 358.9L277.9 358.9L279.4 358.8L280.9 358.8L282.5 358.8L284.0 358.7L285.5 358.7L287.0 358.7L288.5 358.6L290.0 358.6L291.5 358.6L293.1 358.5L294.6 358.5L296.1 358.5L297.6 358.4L299.1 358.4L300.6 358.4L302.2 358.4L303.7 358.3L303.7 358.3L305.2 358.3L306.7 358.3L308.2 358.3L309.7 358.3L311.2 358.3L312.8 358.2L314.3 358.2L315.8 358.2L317.3 358.2L318.8 358.2L320.3 358.2L321.8 358.2L323.4 358.1L324.9 358.1L326.4 358.1L327.9 358.1L329.4 358.1L330.9 358.1L332.5 358.0L334.0 358.0L335.5 358.0L337.0 358.0L337.0 364.9L335.5 364.9L334.0 364.8L332.5 364.8L330.9 364.7L329.4 364.6L327.9 364.5L326.4 364.5L324.9 364.4L323.4 364.3L321.8 364.2L320.3 364.1L318.8 364.0L317.3 363.8L315.8 363.7L314.3 363.6L312.8 363.4L311.2 363.2L309.7 363.1L308.2 362.9L306.7 362.7L305.2 362.6L303.7 362.4L303.7 362.4L302.2 362.3L300.6 362.1L299.1 361.9L297.6 361.8L296.1 361.6L294.6 361.5L293.1 361.3L291.5 361.2L290.0 361.0L288.5 360.9L287.0 360.8L285.5 360.6L284.0 360.5L282.5 360.4L280.9 360.3L279.4 360.1L277.9 360.0L276.4 359.9L274.9 359.8L273.4 359.7L271.8 359.6L270.3 359.5ZM265.3 361.3L266.8 361.4L268.3 361.4L269.8 361.4L271.3 361.5L272.8 361.5L274.3 361.6L275.8 361.7L277.3 361.7L278.8 361.8L280.3 361.9L281.8 361.9L282.8 362.0L283.3 362.0L284.8 362.1L286.3 362.2L287.8 362.3L289.3 362.5L290.8 362.6L292.3 362.7L293.8 362.9L295.3 363.0L295.3 363.2L293.8 363.1L292.3 363.1L290.8 363.1L289.3 363.1L287.8 363.1L286.3 363.1L284.8 363.0L283.3 363.0L282.8 363.0L281.8 363.0L280.3 363.0L278.8 362.9L277.3 362.9L275.8 362.9L274.3 362.9L272.8 362.8L271.3 362.8L269.8 362.8L268.3 362.7L266.8 362.7L265.3 362.7ZM263.5 364.9L265.0 364.9L266.5 364.9L268.0 364.9L269.5 364.9L271.0 364.9L272.5 364.9L274.0 364.9L275.5 364.9L277.1 364.9L278.6 364.9L278.7 364.9L280.1 364.9L281.6 365.0L283.1 365.0L284.6 365.1L286.1 365.1L287.6 365.2L289.1 365.3L290.6 365.4L292.1 365.5L293.6 365.6L295.1 365.7L295.3 365.8L296.6 365.8L298.1 366.0L299.6 366.1L301.1 366.3L302.6 366.4L304.2 366.6L305.7 366.8L307.2 367.0L308.7 367.2L308.7 367.5L307.2 367.5L305.7 367.6L304.2 367.6L302.6 367.7L301.1 367.7L299.6 367.8L298.1 367.9L296.6 367.9L295.3 368.0L295.1 368.0L293.6 368.1L292.1 368.2L290.6 368.3L289.1 368.5L287.6 368.6L286.1 368.8L284.6 368.9L283.1 369.0L281.6 369.1L280.1 369.3L278.7 369.3L278.6 369.3L277.1 369.4L275.5 369.5L274.0 369.6L272.5 369.6L271.0 369.7L269.5 369.7L268.0 369.8L266.5 369.8L265.0 369.9L263.5 369.9ZM298.7 370.8L300.2 370.6L301.7 370.4L303.3 370.2L304.8 370.1L306.3 369.9L307.9 369.8L309.4 369.7L310.9 369.6L312.5 369.6L314.0 369.5L315.5 369.4L317.1 369.4L318.6 369.4L320.1 369.4L321.7 369.3L323.2 369.3L324.5 369.3L324.7 369.3L326.3 369.4L327.8 369.4L329.3 369.5L330.9 369.6L332.4 369.8L333.9 370.0L335.5 370.1L337.0 370.3L337.0 371.0L335.5 371.0L333.9 371.1L332.4 371.1L330.9 371.1L329.3 371.1L327.8 371.2L326.3 371.2L324.7 371.2L324.5 371.2L323.2 371.2L321.7 371.2L320.1 371.2L318.6 371.2L317.1 371.2L315.5 371.2L314.0 371.2L312.5 371.1L310.9 371.1L309.4 371.1L307.9 371.1L306.3 371.1L304.8 371.1L303.3 371.1L301.7 371.1L300.2 371.0L298.7 371.0ZM263.5 374.7L265.0 374.7L266.5 374.7L268.0 374.7L269.5 374.7L271.0 374.7L272.5 374.7L274.0 374.7L275.5 374.7L277.0 374.7L278.5 374.7L280.0 374.7L281.5 374.7L283.0 374.7L284.5 374.7L286.0 374.7L287.5 374.7L289.0 374.7L290.5 374.7L292.0 374.7L293.5 374.7L295.0 374.7L295.3 374.7L296.5 374.7L298.0 374.7L299.5 374.7L301.0 374.7L302.5 374.7L304.0 374.7L305.5 374.7L307.0 374.7L308.5 374.7L310.0 374.7L311.5 374.8L313.0 374.8L314.5 374.8L316.0 374.8L317.5 374.8L319.0 374.9L320.5 374.9L322.0 374.9L323.5 374.9L325.0 375.0L326.5 375.0L328.0 375.0L329.5 375.0L331.0 375.1L332.5 375.1L334.0 375.1L335.5 375.1L337.0 375.2L337.0 377.4L335.5 377.4L334.0 377.4L332.5 377.4L331.0 377.4L329.5 377.4L328.0 377.4L326.5 377.4L325.0 377.4L323.5 377.4L322.0 377.4L320.5 377.4L319.0 377.4L317.5 377.4L316.0 377.4L314.5 377.4L313.0 377.4L311.5 377.4L310.0 377.4L308.5 377.4L307.0 377.4L305.5 377.4L304.0 377.4L302.5 377.4L301.0 377.4L299.5 377.4L298.0 377.4L296.5 377.4L295.3 377.4L295.0 377.4L293.5 377.4L292.0 377.4L290.5 377.4L289.0 377.4L287.5 377.4L286.0 377.4L284.5 377.5L283.0 377.5L281.5 377.5L280.0 377.5L278.5 377.5L277.0 377.5L275.5 377.5L274.0 377.5L272.5 377.6L271.0 377.6L269.5 377.6L268.0 377.6L266.5 377.6L265.0 377.6L263.5 377.7ZM265.3 380.2L297.8 380.3L297.8 380.7L265.3 380.8ZM263.5 386.6L272.8 387.0L272.8 387.5L263.5 387.8ZM308.7 385.3L337.0 385.5L337.0 386.3L308.7 386.6ZM263.5 361.2L270.3 361.3L270.3 362.7L263.5 362.8ZM263.5 375.3L265.3 375.2L265.3 377.5L263.5 377.7ZM213.7 396.8L215.2 396.4L216.7 396.0L218.2 395.7L219.8 395.5L221.3 395.3L222.8 395.2L224.4 395.1L225.3 395.1L225.9 395.1L227.4 395.2L228.9 395.3L230.5 395.5L232.0 395.7L233.5 395.9L235.1 396.1L236.6 396.3L237.0 396.3L238.1 396.4L239.6 396.6L241.2 396.8L241.2 396.9L239.6 396.9L238.1 397.0L237.0 397.0L236.6 397.0L235.1 397.1L233.5 397.2L232.0 397.3L230.5 397.4L228.9 397.5L227.4 397.5L225.9 397.6L225.3 397.6L224.4 397.6L222.8 397.6L221.3 397.5L219.8 397.5L218.2 397.4L216.7 397.3L215.2 397.1L213.7 397.0ZM235.3 393.7L236.9 393.5L238.5 393.4L240.0 393.2L241.6 393.1L243.2 393.0L244.7 392.8L246.3 392.7L247.8 392.6L247.9 392.6L249.4 392.5L251.0 392.3L252.5 392.2L254.1 392.1L255.7 392.0L257.2 391.9L258.8 391.8L260.4 391.7L261.9 391.6L263.5 391.5L263.5 396.3L261.9 396.2L260.4 396.1L258.8 396.0L257.2 395.9L255.7 395.7L254.1 395.6L252.5 395.5L251.0 395.4L249.4 395.2L247.9 395.1L247.8 395.1L246.3 394.9L244.7 394.8L243.2 394.6L241.6 394.5L240.0 394.3L238.5 394.2L236.9 394.0L235.3 393.8ZM205.3 400.9L206.9 400.9L208.4 401.0L209.9 401.0L211.5 401.0L213.0 401.1L214.5 401.1L216.0 401.1L217.6 401.2L219.1 401.2L220.6 401.2L222.2 401.2L223.7 401.3L225.2 401.3L226.8 401.3L228.3 401.3L229.8 401.3L231.4 401.3L232.9 401.3L234.4 401.3L235.3 401.3L235.9 401.3L237.5 401.3L239.0 401.3L240.5 401.3L242.1 401.3L243.6 401.3L245.1 401.3L246.7 401.3L248.2 401.3L249.7 401.3L251.3 401.3L252.8 401.3L254.3 401.3L255.8 401.3L257.4 401.3L258.9 401.3L260.4 401.3L262.0 401.3L263.5 401.3L263.5 405.9L262.0 406.0L260.4 406.0L258.9 406.0L257.4 406.1L255.8 406.1L254.3 406.1L252.8 406.2L251.3 406.2L249.7 406.3L248.2 406.3L246.7 406.3L245.1 406.3L243.6 406.4L242.1 406.4L240.5 406.4L239.0 406.5L237.5 406.5L235.9 406.5L235.3 406.5L234.4 406.5L232.9 406.5L231.4 406.5L229.8 406.6L228.3 406.6L226.8 406.6L225.2 406.6L223.7 406.6L222.2 406.6L220.6 406.7L219.1 406.7L217.6 406.7L216.0 406.7L214.5 406.7L213.0 406.7L211.5 406.7L209.9 406.7L208.4 406.7L206.9 406.7L205.3 406.8ZM217.0 409.2L237.0 409.4L237.0 409.7L217.0 409.8ZM242.0 412.2L263.5 412.3L263.5 412.8L242.0 413.0ZM207.0 414.2L221.2 414.4L221.2 414.7L207.0 414.8ZM247.0 417.2L263.5 417.3L263.5 417.7L247.0 417.8ZM207.0 419.2L218.7 419.4L218.7 419.7L207.0 419.8ZM209.5 430.5L211.0 430.1L212.5 429.8L214.0 429.5L215.5 429.2L217.0 428.9L218.5 428.6L220.0 428.4L221.5 428.2L222.8 428.0L223.0 428.0L224.5 427.8L226.0 427.7L227.5 427.5L229.0 427.3L230.5 427.2L232.0 427.1L233.5 427.0L235.0 426.9L236.5 426.8L238.0 426.8L239.5 426.8L241.0 426.8L242.5 426.8L244.0 426.8L245.5 426.8L247.0 426.8L248.5 426.8L250.0 426.8L251.5 426.8L253.0 426.8L254.5 426.8L256.0 426.8L257.5 426.9L259.0 426.9L260.5 426.9L262.0 427.0L263.5 427.0L263.5 431.3L262.0 431.4L260.5 431.5L259.0 431.6L257.5 431.6L256.0 431.7L254.5 431.7L253.0 431.8L251.5 431.8L250.0 431.9L248.5 431.9L247.0 431.9L245.5 432.0L244.0 432.0L242.5 432.0L241.0 432.0L239.5 432.0L238.0 432.0L236.5 432.0L235.0 432.0L233.5 432.0L232.0 431.9L230.5 431.9L229.0 431.9L227.5 431.9L226.0 431.8L224.5 431.8L223.0 431.8L222.8 431.8L221.5 431.7L220.0 431.6L218.5 431.6L217.0 431.5L215.5 431.4L214.0 431.2L212.5 431.1L211.0 431.0L209.5 430.8ZM205.3 435.7L206.8 435.7L208.3 435.7L209.8 435.7L211.4 435.7L212.9 435.7L214.4 435.7L215.9 435.7L217.4 435.7L218.9 435.7L220.4 435.7L221.9 435.7L222.8 435.7L223.4 435.7L224.9 435.7L226.4 435.8L227.9 435.9L229.4 436.1L230.9 436.3L232.4 436.4L233.9 436.6L235.3 436.8L235.4 436.8L236.9 436.9L238.5 437.1L240.0 437.3L241.5 437.5L243.0 437.7L244.5 437.8L245.3 437.8L246.0 437.9L247.5 437.9L249.0 438.0L250.5 438.0L252.0 438.0L252.0 438.2L250.5 438.3L249.0 438.5L247.5 438.7L246.0 438.9L245.3 439.0L244.5 439.1L243.0 439.4L241.5 439.6L240.0 439.9L238.5 440.1L236.9 440.4L235.4 440.6L235.3 440.7L233.9 440.9L232.4 441.2L230.9 441.5L229.4 441.8L227.9 442.1L226.4 442.3L224.9 442.5L223.4 442.6L222.8 442.6L221.9 442.6L220.4 442.6L218.9 442.6L217.4 442.6L215.9 442.6L214.4 442.5L212.9 442.5L211.4 442.5L209.8 442.4L208.3 442.3L206.8 442.3L205.3 442.2ZM238.7 442.6L240.2 442.2L241.8 441.8L243.3 441.4L244.9 441.1L246.4 440.8L248.0 440.5L249.5 440.3L251.1 440.1L252.0 440.1L252.6 440.0L254.2 440.0L255.7 439.9L257.3 439.8L258.8 439.7L260.4 439.7L261.9 439.7L263.5 439.7L263.5 443.4L261.9 443.4L260.4 443.4L258.8 443.4L257.3 443.4L255.7 443.4L254.2 443.4L252.6 443.4L252.0 443.4L251.1 443.4L249.5 443.4L248.0 443.3L246.4 443.3L244.9 443.2L243.3 443.1L241.8 443.0L240.2 442.9L238.7 442.8ZM248.7 437.2L263.5 436.5L263.5 437.8L248.7 437.5ZM263.5 391.8L265.0 391.9L266.6 392.0L268.1 392.1L269.6 392.2L271.2 392.3L272.7 392.4L274.2 392.6L274.5 392.6L275.8 392.7L277.3 392.8L278.8 392.9L280.4 393.1L281.9 393.2L283.4 393.3L285.0 393.4L286.5 393.6L288.0 393.7L289.6 393.8L291.1 393.8L291.2 393.8L292.6 393.9L294.1 394.0L295.7 394.0L297.2 394.1L298.7 394.2L300.3 394.2L301.8 394.2L303.3 394.2L303.7 394.2L304.9 394.2L306.4 394.2L307.9 394.1L309.5 394.1L311.0 394.0L312.5 393.8L314.1 393.7L315.6 393.5L317.1 393.4L318.7 393.2L318.7 393.5L317.1 394.0L315.6 394.5L314.1 394.9L312.5 395.4L311.0 395.8L309.5 396.1L307.9 396.5L306.4 396.8L304.9 397.0L303.7 397.2L303.3 397.2L301.8 397.4L300.3 397.6L298.7 397.7L297.2 397.9L295.7 398.0L294.1 398.1L292.6 398.1L291.2 398.2L291.1 398.2L289.6 398.2L288.0 398.1L286.5 398.1L285.0 398.0L283.4 397.9L281.9 397.8L280.4 397.7L278.8 397.6L277.3 397.5L275.8 397.4L274.5 397.3L274.2 397.3L272.7 397.2L271.2 397.1L269.6 396.9L268.1 396.8L266.6 396.7L265.0 396.5L263.5 396.3ZM312.0 397.8L313.5 397.4L315.0 397.0L316.5 396.7L318.1 396.4L319.6 396.2L321.1 396.0L322.0 395.9L322.6 395.9L324.1 395.8L325.6 395.7L327.2 395.7L328.7 395.7L328.7 396.3L327.2 396.8L325.6 397.2L324.1 397.6L322.6 397.8L322.0 397.8L321.1 397.9L319.6 397.9L318.1 397.9L316.5 398.0L315.0 398.0L313.5 398.0L312.0 398.0ZM263.5 402.6L265.0 402.6L266.5 402.6L268.0 402.6L269.5 402.7L271.0 402.7L272.5 402.7L274.0 402.7L275.5 402.8L277.0 402.8L278.5 402.8L278.7 402.8L280.0 402.9L281.5 402.9L283.0 403.0L284.5 403.0L286.0 403.0L287.5 403.1L289.0 403.1L290.5 403.2L291.2 403.2L292.0 403.2L293.5 403.2L295.0 403.2L296.5 403.2L298.0 403.2L299.5 403.2L301.0 403.2L302.5 403.2L303.7 403.2L304.0 403.2L305.5 403.2L307.0 403.2L308.5 403.2L310.0 403.1L311.5 403.0L313.0 403.0L314.5 402.9L316.0 402.8L317.5 402.8L319.0 402.7L320.3 402.7L320.5 402.7L322.0 402.6L323.5 402.6L325.0 402.6L326.5 402.5L328.0 402.5L329.5 402.5L331.0 402.4L332.5 402.4L334.0 402.4L335.5 402.4L337.0 402.3L337.0 409.5L335.5 409.6L334.0 409.8L332.5 409.9L331.0 410.0L329.5 410.1L328.0 410.1L326.5 410.2L325.0 410.3L323.5 410.3L322.0 410.3L320.5 410.3L320.3 410.3L319.0 410.3L317.5 410.3L316.0 410.3L314.5 410.2L313.0 410.2L311.5 410.1L310.0 410.0L308.5 410.0L307.0 409.9L305.5 409.8L304.0 409.7L303.7 409.7L302.5 409.6L301.0 409.4L299.5 409.3L298.0 409.1L296.5 408.9L295.0 408.6L293.5 408.4L292.0 408.1L291.2 408.0L290.5 407.9L289.0 407.5L287.5 407.2L286.0 406.7L284.5 406.3L283.0 405.9L281.5 405.5L280.0 405.3L278.7 405.1L278.5 405.1L277.0 404.9L275.5 404.8L274.0 404.7L272.5 404.6L271.0 404.5L269.5 404.4L268.0 404.3L266.5 404.3L265.0 404.3L263.5 404.2ZM265.3 406.3L281.2 406.8L281.2 407.2L265.3 407.6ZM263.5 412.6L302.0 412.8L302.0 413.2L263.5 413.4ZM270.3 417.3L271.8 417.3L273.4 417.3L274.9 417.3L276.4 417.3L277.9 417.4L279.4 417.4L280.9 417.4L282.5 417.4L284.0 417.4L285.5 417.4L287.0 417.4L288.5 417.5L290.0 417.5L291.5 417.5L293.1 417.5L294.6 417.6L295.3 417.6L296.1 417.6L297.6 417.7L299.1 417.8L300.6 418.0L302.2 418.1L303.7 418.3L305.2 418.5L306.7 418.7L308.2 418.8L309.7 418.9L311.2 419.0L312.0 419.0L312.8 419.0L314.3 419.0L315.8 419.0L317.3 419.0L318.8 419.0L320.3 419.0L321.8 418.9L323.4 418.9L324.9 418.9L326.4 418.8L327.9 418.8L329.4 418.7L330.9 418.6L332.5 418.5L334.0 418.4L335.5 418.3L337.0 418.2L337.0 418.8L335.5 419.0L334.0 419.1L332.5 419.2L330.9 419.3L329.4 419.4L327.9 419.4L326.4 419.5L324.9 419.5L323.4 419.6L321.8 419.6L320.3 419.6L318.8 419.6L317.3 419.7L315.8 419.7L314.3 419.7L312.8 419.7L312.0 419.7L311.2 419.7L309.7 419.6L308.2 419.5L306.7 419.4L305.2 419.3L303.7 419.1L302.2 419.0L300.6 418.8L299.1 418.7L297.6 418.6L296.1 418.5L295.3 418.4L294.6 418.4L293.1 418.3L291.5 418.3L290.0 418.2L288.5 418.1L287.0 418.1L285.5 418.0L284.0 418.0L282.5 417.9L280.9 417.9L279.4 417.8L277.9 417.8L276.4 417.7L274.9 417.7L273.4 417.7L271.8 417.7L270.3 417.7ZM302.0 423.7L303.5 423.7L305.1 423.7L306.6 423.8L308.2 423.8L309.7 423.9L311.3 424.0L312.0 424.0L312.8 424.0L314.4 424.1L315.9 424.2L317.5 424.3L319.0 424.5L320.6 424.6L322.0 424.7L322.1 424.7L323.7 424.8L325.2 424.9L326.8 425.0L328.3 425.1L329.9 425.2L331.4 425.3L333.0 425.4L334.5 425.5L334.5 426.3L333.0 426.7L331.4 427.0L329.9 427.2L328.3 427.3L326.8 427.5L325.2 427.5L323.7 427.6L322.1 427.6L322.0 427.6L320.6 427.5L319.0 427.3L317.5 427.1L315.9 426.7L314.4 426.4L312.8 426.1L312.0 425.9L311.3 425.8L309.7 425.5L308.2 425.2L306.6 424.9L305.1 424.6L303.5 424.3L302.0 424.0ZM263.5 427.2L265.0 427.2L266.6 427.2L268.1 427.2L269.7 427.3L271.2 427.3L272.8 427.4L274.3 427.4L275.9 427.5L277.4 427.5L278.7 427.6L278.9 427.6L280.5 427.7L282.0 427.8L283.6 427.9L285.1 428.0L286.7 428.2L288.2 428.3L289.7 428.5L291.3 428.7L292.8 428.8L292.8 429.2L291.3 429.3L289.7 429.4L288.2 429.5L286.7 429.6L285.1 429.7L283.6 429.8L282.0 429.9L280.5 430.0L278.9 430.1L278.7 430.1L277.4 430.1L275.9 430.2L274.3 430.2L272.8 430.3L271.2 430.3L269.7 430.4L268.1 430.4L266.6 430.5L265.0 430.5L263.5 430.5ZM278.7 432.3L280.2 432.3L281.7 432.3L283.3 432.2L284.8 432.2L286.3 432.2L287.9 432.1L289.4 432.1L290.9 432.1L292.5 432.1L294.0 432.0L295.6 432.0L297.1 432.0L298.6 432.0L299.5 432.0L300.2 432.0L301.7 432.0L303.2 432.0L304.8 432.0L306.3 432.0L307.8 432.0L309.4 432.0L310.9 432.0L312.4 432.0L314.0 432.0L315.5 432.0L317.0 432.0L318.6 432.0L320.1 432.0L321.6 432.0L323.2 432.0L324.7 432.1L326.3 432.1L327.8 432.1L329.3 432.1L330.9 432.1L332.4 432.1L333.9 432.1L335.5 432.1L337.0 432.2L337.0 432.7L335.5 432.7L333.9 432.7L332.4 432.7L330.9 432.7L329.3 432.7L327.8 432.8L326.3 432.8L324.7 432.8L323.2 432.8L321.6 432.8L320.1 432.8L318.6 432.8L317.0 432.8L315.5 432.8L314.0 432.8L312.4 432.8L310.9 432.8L309.4 432.8L307.8 432.8L306.3 432.8L304.8 432.8L303.2 432.8L301.7 432.8L300.2 432.8L299.5 432.8L298.6 432.8L297.1 432.8L295.6 432.8L294.0 432.8L292.5 432.8L290.9 432.8L289.4 432.8L287.9 432.8L286.3 432.8L284.8 432.7L283.3 432.7L281.7 432.7L280.2 432.7L278.7 432.7ZM267.0 437.2L268.5 437.0L270.0 436.9L271.6 436.8L273.1 436.7L274.6 436.6L276.1 436.5L277.7 436.4L279.2 436.3L280.7 436.2L282.2 436.2L282.8 436.2L283.7 436.1L285.3 436.1L286.8 436.1L288.3 436.0L289.8 436.0L291.3 436.0L292.9 436.0L294.4 435.9L295.9 435.9L297.4 435.9L299.0 435.9L299.5 435.9L300.5 435.9L302.0 435.9L303.5 435.9L305.0 435.9L306.6 435.9L308.1 435.9L309.6 436.0L311.1 436.0L312.7 436.0L314.2 436.0L315.7 436.0L316.2 436.0L317.2 436.0L318.7 436.0L320.3 436.0L321.8 436.0L323.3 436.0L324.8 436.1L326.3 436.1L327.9 436.1L329.4 436.1L330.9 436.1L332.4 436.1L334.0 436.1L335.5 436.2L337.0 436.2L337.0 441.3L335.5 441.3L334.0 441.3L332.4 441.3L330.9 441.3L329.4 441.3L327.9 441.3L326.3 441.3L324.8 441.3L323.3 441.3L321.8 441.3L320.3 441.3L318.7 441.3L317.2 441.3L316.2 441.3L315.7 441.3L314.2 441.3L312.7 441.2L311.1 441.1L309.6 440.9L308.1 440.7L306.6 440.5L305.0 440.3L303.5 440.1L302.0 439.9L300.5 439.8L299.5 439.7L299.0 439.6L297.4 439.4L295.9 439.3L294.4 439.1L292.9 438.9L291.3 438.7L289.8 438.6L288.3 438.4L286.8 438.3L285.3 438.1L283.7 438.0L282.8 438.0L282.2 438.0L280.7 437.9L279.2 437.9L277.7 437.8L276.1 437.7L274.6 437.7L273.1 437.7L271.6 437.6L270.0 437.6L268.5 437.6L267.0 437.6ZM263.5 440.1L265.0 440.1L266.5 440.2L268.0 440.2L269.5 440.3L271.0 440.3L272.5 440.4L274.0 440.4L275.5 440.5L277.1 440.6L278.6 440.7L278.7 440.7L280.1 440.7L281.6 440.9L283.1 441.0L284.6 441.1L286.1 441.2L287.6 441.4L289.1 441.5L290.6 441.6L292.1 441.8L293.6 441.9L295.1 442.0L295.3 442.0L296.6 442.1L298.1 442.2L299.6 442.2L301.1 442.3L302.6 442.4L304.2 442.5L305.7 442.5L307.2 442.6L308.7 442.7L308.7 443.0L307.2 443.0L305.7 443.0L304.2 443.1L302.6 443.1L301.1 443.1L299.6 443.1L298.1 443.1L296.6 443.1L295.3 443.2L295.1 443.2L293.6 443.2L292.1 443.2L290.6 443.2L289.1 443.3L287.6 443.3L286.1 443.3L284.6 443.4L283.1 443.4L281.6 443.4L280.1 443.4L278.7 443.4L278.6 443.4L277.1 443.4L275.5 443.4L274.0 443.4L272.5 443.3L271.0 443.3L269.5 443.2L268.0 443.2L266.5 443.1L265.0 443.1L263.5 443.0ZM291.2 445.5L337.0 445.7L337.0 446.6L291.2 446.8ZM263.5 427.0L267.0 427.2L267.0 430.9L263.5 431.3ZM212.8 447.5L214.4 447.4L215.9 447.3L217.4 447.3L218.9 447.2L220.4 447.2L222.0 447.2L223.5 447.2L225.0 447.2L225.3 447.2L226.5 447.2L228.0 447.2L229.5 447.3L231.1 447.4L232.6 447.5L234.1 447.6L235.6 447.8L237.1 448.0L238.7 448.2L238.7 448.5L237.1 448.5L235.6 448.5L234.1 448.6L232.6 448.6L231.1 448.6L229.5 448.6L228.0 448.6L226.5 448.6L225.3 448.6L225.0 448.6L223.5 448.6L222.0 448.5L220.4 448.5L218.9 448.4L217.4 448.3L215.9 448.2L214.4 448.1L212.8 448.0ZM240.3 446.1L241.9 446.0L243.4 445.9L244.9 445.9L246.5 445.9L248.0 445.8L248.7 445.8L249.6 445.8L251.1 445.9L252.6 445.9L254.2 445.9L255.7 446.0L257.3 446.1L258.8 446.2L260.3 446.3L260.3 446.7L258.8 447.0L257.3 447.3L255.7 447.5L254.2 447.6L252.6 447.7L251.1 447.7L249.6 447.7L248.7 447.8L248.0 447.7L246.5 447.6L244.9 447.4L243.4 447.1L241.9 446.7L240.3 446.3ZM253.7 449.2L263.5 448.6L263.5 450.8L253.7 449.5ZM205.3 454.8L206.8 454.7L208.4 454.5L209.9 454.4L211.4 454.3L212.9 454.2L214.4 454.2L215.9 454.1L217.4 454.1L218.9 454.0L220.5 454.0L222.0 454.0L223.5 454.0L225.0 454.0L226.5 454.0L227.0 454.0L228.0 454.0L229.5 454.1L231.0 454.3L232.6 454.5L234.1 454.8L235.6 455.1L237.1 455.3L238.6 455.6L239.5 455.7L240.1 455.7L241.6 455.9L243.1 456.1L244.7 456.2L246.2 456.3L246.2 456.7L244.7 456.7L243.1 456.8L241.6 456.9L240.1 456.9L239.5 456.9L238.6 456.9L237.1 456.9L235.6 456.9L234.1 456.9L232.6 456.9L231.0 456.9L229.5 456.9L228.0 456.9L227.0 456.9L226.5 456.9L225.0 456.9L223.5 456.9L222.0 456.9L220.5 456.9L218.9 456.8L217.4 456.8L215.9 456.8L214.4 456.8L212.9 456.7L211.4 456.7L209.9 456.6L208.4 456.6L206.8 456.5L205.3 456.5ZM247.0 454.0L257.0 454.2L257.0 454.6L247.0 454.8ZM245.3 459.0L263.5 459.2L263.5 459.7L245.3 459.8ZM249.5 462.3L263.5 461.9L263.5 463.6L249.5 462.7ZM208.7 465.0L210.2 465.0L211.8 464.9L213.4 464.9L215.0 464.8L216.5 464.8L218.1 464.7L219.7 464.7L220.3 464.7L221.3 464.6L222.8 464.6L224.4 464.5L226.0 464.5L227.6 464.5L229.1 464.4L230.7 464.4L231.2 464.4L232.3 464.4L233.9 464.5L235.4 464.7L237.0 464.8L237.0 465.2L235.4 465.3L233.9 465.5L232.3 465.7L231.2 465.8L230.7 465.9L229.1 466.1L227.6 466.4L226.0 466.7L224.4 467.0L222.8 467.2L221.3 467.3L220.3 467.3L219.7 467.3L218.1 467.3L216.5 467.1L215.0 466.9L213.4 466.6L211.8 466.2L210.2 465.8L208.7 465.3ZM235.3 467.3L236.8 467.1L238.4 466.9L239.9 466.7L241.4 466.5L242.9 466.4L243.7 466.3L244.4 466.3L245.9 466.2L247.5 466.2L249.0 466.1L250.5 466.1L252.0 466.1L252.0 466.5L250.5 466.9L249.0 467.3L247.5 467.6L245.9 467.9L244.4 468.0L243.7 468.0L242.9 468.0L241.4 468.0L239.9 468.0L238.4 467.9L236.8 467.8L235.3 467.7ZM242.0 470.0L256.2 470.2L256.2 470.6L242.0 470.8ZM259.5 477.8L263.5 477.8L263.5 478.8L259.5 478.8ZM218.7 481.9L233.7 482.3L233.7 482.8L218.7 483.2ZM205.3 489.0L206.9 488.9L208.4 488.9L209.9 488.8L211.5 488.8L213.0 488.7L214.5 488.7L216.0 488.7L217.6 488.6L219.1 488.6L220.6 488.6L222.2 488.6L223.7 488.6L225.2 488.6L226.8 488.6L227.0 488.6L228.3 488.6L229.8 488.6L231.4 488.7L232.9 488.7L234.4 488.8L235.9 488.9L237.5 488.9L239.0 489.0L240.5 489.1L242.1 489.2L243.6 489.3L245.1 489.4L246.7 489.5L248.2 489.5L249.7 489.6L251.3 489.6L252.0 489.7L252.8 489.7L254.3 489.7L255.8 489.7L257.4 489.8L258.9 489.8L260.4 489.8L262.0 489.8L263.5 489.8L263.5 492.2L262.0 492.1L260.4 492.1L258.9 492.0L257.4 492.0L255.8 492.0L254.3 491.9L252.8 491.9L252.0 491.9L251.3 491.9L249.7 491.9L248.2 491.9L246.7 492.0L245.1 492.0L243.6 492.0L242.1 492.1L240.5 492.1L239.0 492.1L237.5 492.2L235.9 492.2L234.4 492.2L232.9 492.3L231.4 492.3L229.8 492.3L228.3 492.3L227.0 492.3L226.8 492.3L225.2 492.3L223.7 492.3L222.2 492.3L220.6 492.2L219.1 492.1L217.6 492.0L216.0 492.0L214.5 491.8L213.0 491.7L211.5 491.6L209.9 491.5L208.4 491.4L206.9 491.2L205.3 491.1ZM221.2 494.3L222.7 494.2L224.2 494.1L225.8 494.0L227.3 493.9L228.8 493.8L230.4 493.7L231.9 493.6L233.4 493.6L235.0 493.6L235.3 493.6L236.5 493.6L238.1 493.6L239.6 493.6L241.1 493.6L242.7 493.6L244.2 493.6L245.7 493.6L247.3 493.6L248.8 493.6L250.3 493.7L250.3 494.0L248.8 494.2L247.3 494.3L245.7 494.5L244.2 494.6L242.7 494.7L241.1 494.8L239.6 494.9L238.1 495.0L236.5 495.0L235.3 495.0L235.0 495.0L233.4 495.0L231.9 495.0L230.4 495.0L228.8 494.9L227.3 494.9L225.8 494.8L224.2 494.7L222.7 494.6L221.2 494.5ZM252.0 498.3L263.5 497.5L263.5 498.7L252.0 498.7ZM205.3 499.0L206.9 498.8L208.4 498.7L209.9 498.6L211.5 498.5L213.0 498.5L214.5 498.4L216.1 498.4L217.6 498.4L219.1 498.3L220.7 498.3L222.2 498.3L222.8 498.3L223.7 498.3L225.3 498.4L226.8 498.5L228.3 498.6L229.9 498.8L231.4 499.0L232.9 499.1L234.5 499.3L235.3 499.4L236.0 499.5L237.5 499.7L239.1 499.9L240.6 500.1L242.1 500.3L243.7 500.5L243.7 500.8L242.1 501.1L240.6 501.4L239.1 501.6L237.5 501.9L236.0 502.2L235.3 502.3L234.5 502.5L232.9 502.9L231.4 503.3L229.9 503.7L228.3 504.1L226.8 504.4L225.3 504.7L223.7 504.8L222.8 504.8L222.2 504.8L220.7 504.8L219.1 504.8L217.6 504.8L216.1 504.8L214.5 504.8L213.0 504.8L211.5 504.8L209.9 504.8L208.4 504.8L206.9 504.8L205.3 504.8ZM276.2 446.3L277.7 446.2L279.2 446.1L280.7 446.0L282.3 445.9L283.8 445.8L285.3 445.7L286.8 445.6L288.4 445.6L289.9 445.6L291.4 445.5L292.9 445.5L294.4 445.5L295.3 445.5L296.0 445.5L297.5 445.5L299.0 445.6L300.5 445.7L302.1 445.7L303.6 445.8L305.1 445.9L306.6 446.0L308.1 446.1L308.7 446.1L309.7 446.1L311.2 446.2L312.7 446.2L314.2 446.2L315.8 446.3L317.3 446.3L318.8 446.3L320.3 446.3L320.3 446.7L318.8 446.9L317.3 447.1L315.8 447.3L314.2 447.5L312.7 447.6L311.2 447.7L309.7 447.7L308.7 447.8L308.1 447.7L306.6 447.7L305.1 447.6L303.6 447.5L302.1 447.4L300.5 447.2L299.0 447.1L297.5 447.0L296.0 446.9L295.3 446.9L294.4 446.9L292.9 446.9L291.4 446.8L289.9 446.8L288.4 446.8L286.8 446.8L285.3 446.7L283.8 446.7L282.3 446.7L280.7 446.7L279.2 446.7L277.7 446.7L276.2 446.7ZM263.5 448.8L265.0 448.9L266.5 448.9L268.0 448.9L269.5 449.0L271.0 449.0L272.6 449.0L274.1 449.1L275.6 449.1L277.1 449.1L278.6 449.2L278.7 449.2L280.1 449.2L281.6 449.2L283.1 449.3L284.6 449.3L286.1 449.3L287.6 449.4L289.1 449.4L290.7 449.4L292.2 449.5L293.7 449.5L293.7 449.8L292.2 449.9L290.7 449.9L289.1 450.0L287.6 450.1L286.1 450.1L284.6 450.2L283.1 450.2L281.6 450.3L280.1 450.3L278.7 450.3L278.6 450.3L277.1 450.4L275.6 450.4L274.1 450.5L272.6 450.5L271.0 450.5L269.5 450.6L268.0 450.6L266.5 450.6L265.0 450.6L263.5 450.7ZM298.7 451.3L300.2 451.2L301.7 451.0L303.3 450.9L304.8 450.8L306.3 450.7L307.9 450.6L309.4 450.5L310.9 450.4L312.5 450.3L314.0 450.3L315.5 450.3L316.2 450.2L317.1 450.3L318.6 450.3L320.1 450.3L321.7 450.3L323.2 450.3L324.7 450.3L326.3 450.3L327.8 450.3L329.3 450.3L330.9 450.3L332.4 450.4L333.9 450.4L335.5 450.4L337.0 450.5L337.0 451.3L335.5 451.4L333.9 451.4L332.4 451.4L330.9 451.5L329.3 451.5L327.8 451.5L326.3 451.6L324.7 451.6L323.2 451.6L321.7 451.6L320.1 451.7L318.6 451.7L317.1 451.7L316.2 451.7L315.5 451.7L314.0 451.7L312.5 451.7L310.9 451.7L309.4 451.7L307.9 451.7L306.3 451.7L304.8 451.7L303.3 451.7L301.7 451.7L300.2 451.7L298.7 451.7ZM307.0 454.3L308.6 454.3L310.1 454.2L311.7 454.1L313.3 454.1L314.8 454.0L316.4 454.0L318.0 454.0L319.5 454.0L320.3 454.0L321.1 454.0L322.7 454.0L324.3 454.0L325.8 454.1L327.4 454.2L329.0 454.2L330.5 454.3L332.1 454.4L333.7 454.5L333.7 454.8L332.1 454.9L330.5 455.0L329.0 455.1L327.4 455.1L325.8 455.2L324.3 455.2L322.7 455.2L321.1 455.2L320.3 455.2L319.5 455.2L318.0 455.2L316.4 455.2L314.8 455.1L313.3 455.1L311.7 455.0L310.1 454.9L308.6 454.8L307.0 454.7ZM276.2 457.3L277.7 457.1L279.2 456.9L280.7 456.8L282.2 456.6L283.7 456.5L285.2 456.3L286.7 456.2L288.2 456.1L289.7 456.1L291.2 456.1L291.2 456.1L292.8 456.1L294.3 456.1L295.8 456.1L297.3 456.1L298.8 456.1L300.3 456.2L301.8 456.2L303.3 456.2L304.8 456.3L306.3 456.4L307.8 456.5L307.8 457.0L306.3 457.3L304.8 457.6L303.3 457.9L301.8 458.2L300.3 458.4L298.8 458.6L297.3 458.7L295.8 458.8L294.3 458.9L292.8 459.0L291.2 459.0L291.2 459.0L289.7 459.0L288.2 459.0L286.7 458.9L285.2 458.8L283.7 458.7L282.2 458.5L280.7 458.4L279.2 458.2L277.7 457.9L276.2 457.7ZM263.5 462.2L265.0 462.2L266.6 462.3L268.1 462.4L269.6 462.4L271.2 462.5L272.7 462.5L272.8 462.5L274.2 462.5L275.7 462.5L277.3 462.5L278.8 462.5L280.3 462.5L280.3 462.8L278.8 463.2L277.3 463.5L275.7 463.8L274.2 463.9L272.8 464.0L272.7 464.0L271.2 464.0L269.6 464.0L268.1 463.9L266.6 463.8L265.0 463.6L263.5 463.3ZM285.3 464.0L287.0 463.6L288.7 463.3L290.3 463.2L292.0 463.2L293.7 463.4L295.3 463.7L295.3 464.0L293.7 464.4L292.0 464.7L290.3 464.8L288.7 464.8L287.0 464.6L285.3 464.3ZM296.2 464.0L297.7 463.7L299.3 463.5L300.9 463.3L302.5 463.2L303.7 463.2L304.0 463.2L305.6 463.2L307.2 463.3L308.8 463.4L310.3 463.7L310.3 464.0L308.8 464.3L307.2 464.6L305.6 464.7L304.0 464.8L303.7 464.8L302.5 464.8L300.9 464.8L299.3 464.7L297.7 464.6L296.2 464.3ZM314.5 464.0L316.0 463.8L317.5 463.7L319.0 463.6L320.5 463.5L322.0 463.4L323.5 463.4L325.0 463.3L326.2 463.3L326.5 463.3L328.0 463.4L329.5 463.4L331.0 463.5L332.5 463.6L334.0 463.7L335.5 463.8L337.0 464.0L337.0 465.5L335.5 465.7L334.0 465.8L332.5 466.0L331.0 466.0L329.5 466.1L328.0 466.1L326.5 466.1L326.2 466.1L325.0 466.1L323.5 466.0L322.0 465.8L320.5 465.6L319.0 465.3L317.5 465.0L316.0 464.7L314.5 464.3ZM297.8 468.0L314.5 468.3L314.5 468.7L297.8 469.0ZM282.0 473.3L283.5 473.3L285.1 473.2L286.6 473.1L288.1 473.0L289.6 473.0L291.2 472.9L292.7 472.8L294.2 472.8L295.3 472.8L295.8 472.7L297.3 472.7L298.8 472.6L300.3 472.6L301.9 472.5L303.4 472.5L304.9 472.4L306.4 472.4L308.0 472.4L309.5 472.3L309.5 472.8L308.0 473.2L306.4 473.6L304.9 473.9L303.4 474.1L301.9 474.4L300.3 474.6L298.8 474.7L297.3 474.8L295.8 474.8L295.3 474.8L294.2 474.8L292.7 474.8L291.2 474.7L289.6 474.7L288.1 474.5L286.6 474.4L285.1 474.2L283.5 473.9L282.0 473.7ZM315.3 475.3L316.9 475.2L318.4 475.0L320.0 474.9L321.5 474.7L323.1 474.6L324.6 474.5L326.2 474.5L327.7 474.4L328.7 474.4L329.3 474.4L330.8 474.4L332.4 474.4L333.9 474.4L335.5 474.4L337.0 474.4L337.0 476.1L335.5 476.1L333.9 476.1L332.4 476.1L330.8 476.1L329.3 476.1L328.7 476.1L327.7 476.1L326.2 476.1L324.6 476.0L323.1 476.0L321.5 475.9L320.0 475.9L318.4 475.8L316.9 475.7L315.3 475.7ZM263.5 478.0L282.0 478.2L282.0 478.5L263.5 478.7ZM294.5 481.3L296.0 481.3L297.5 481.3L299.1 481.2L300.6 481.2L302.1 481.2L303.6 481.1L305.1 481.1L306.6 481.1L308.2 481.0L309.7 481.0L311.2 481.0L312.7 480.9L314.2 480.9L315.8 480.9L317.3 480.9L318.8 480.9L320.3 480.8L320.3 480.8L321.8 480.8L323.3 480.8L324.9 480.8L326.4 480.8L327.9 480.7L329.4 480.7L330.9 480.7L332.4 480.7L334.0 480.7L335.5 480.7L337.0 480.7L337.0 481.9L335.5 481.9L334.0 481.9L332.4 481.9L330.9 481.9L329.4 481.9L327.9 481.9L326.4 481.9L324.9 481.9L323.3 481.9L321.8 481.9L320.3 481.9L320.3 481.9L318.8 481.9L317.3 481.9L315.8 481.9L314.2 481.9L312.7 481.9L311.2 481.9L309.7 481.9L308.2 481.8L306.6 481.8L305.1 481.8L303.6 481.8L302.1 481.8L300.6 481.8L299.1 481.7L297.5 481.7L296.0 481.7L294.5 481.7ZM267.0 484.3L268.5 484.3L270.1 484.2L271.6 484.2L273.2 484.1L274.7 484.1L276.2 484.0L277.8 484.0L279.3 484.0L280.9 484.0L282.4 484.0L282.8 484.0L284.0 484.0L285.5 484.0L287.0 484.0L288.6 484.1L290.1 484.1L291.7 484.2L293.2 484.3L294.8 484.3L296.3 484.4L297.8 484.5L297.8 484.8L296.3 484.9L294.8 485.0L293.2 485.1L291.7 485.1L290.1 485.2L288.6 485.2L287.0 485.2L285.5 485.2L284.0 485.2L282.8 485.2L282.4 485.2L280.9 485.2L279.3 485.2L277.8 485.2L276.2 485.1L274.7 485.1L273.2 485.0L271.6 484.9L270.1 484.9L268.5 484.8L267.0 484.7ZM304.5 484.2L314.5 484.4L314.5 484.8L304.5 485.0ZM263.5 489.4L265.1 489.4L266.6 489.4L268.2 489.4L269.7 489.5L271.3 489.5L272.9 489.5L274.4 489.5L276.0 489.6L277.5 489.6L278.7 489.7L279.1 489.7L280.7 489.8L282.2 490.1L283.8 490.4L285.3 490.7L286.9 491.0L288.5 491.3L289.5 491.5L290.0 491.6L291.6 491.8L293.2 492.0L294.7 492.2L296.3 492.3L297.8 492.5L297.8 492.8L296.3 492.9L294.7 493.0L293.2 493.0L291.6 493.0L290.0 493.0L289.5 493.0L288.5 493.0L286.9 492.9L285.3 492.7L283.8 492.5L282.2 492.4L280.7 492.2L279.1 492.2L278.7 492.2L277.5 492.2L276.0 492.2L274.4 492.2L272.9 492.2L271.3 492.2L269.7 492.2L268.2 492.2L266.6 492.3L265.1 492.3L263.5 492.3ZM306.2 489.8L318.7 490.2L318.7 490.5L306.2 490.8ZM322.0 488.6L333.7 489.0L333.7 489.4L322.0 489.8ZM310.3 493.2L328.7 493.4L328.7 493.8L310.3 494.0ZM263.5 497.3L277.0 498.0L277.0 498.5L263.5 499.0ZM278.7 498.6L289.5 499.0L289.5 499.4L278.7 499.8ZM292.0 503.2L293.5 502.6L295.0 502.1L296.5 501.7L298.1 501.4L299.6 501.2L301.1 501.1L301.2 501.1L302.6 501.1L304.1 501.2L305.6 501.3L307.2 501.6L308.7 501.9L308.7 502.3L307.2 502.8L305.6 503.3L304.1 503.7L302.6 503.9L301.2 504.0L301.1 504.0L299.6 504.0L298.1 504.0L296.5 503.9L295.0 503.9L293.5 503.7L292.0 503.5ZM311.2 500.2L331.2 500.8L331.2 501.3L311.2 501.9ZM263.5 490.2L267.0 490.3L267.0 492.2L263.5 492.2ZM263.5 448.8L266.2 448.8L266.2 450.7L263.5 450.7ZM263.5 505.2L265.0 505.3L266.5 505.3L268.0 505.3L269.5 505.4L271.0 505.5L272.5 505.6L274.0 505.6L274.5 505.7L275.5 505.7L277.0 505.9L278.5 506.0L280.0 506.2L281.5 506.4L283.0 506.7L284.5 506.9L284.5 507.2L283.0 507.9L281.5 508.5L280.0 509.1L278.5 509.7L277.0 510.1L275.5 510.5L274.5 510.7L274.0 510.7L272.5 510.9L271.0 511.1L269.5 511.3L268.0 511.5L266.5 511.6L265.0 511.6L263.5 511.7ZM292.0 502.3L293.5 501.8L295.0 501.4L296.5 501.0L298.1 500.8L299.6 500.7L300.3 500.7L301.1 500.7L302.6 500.8L304.1 501.0L305.6 501.3L307.2 501.7L308.7 502.2L308.7 502.5L307.2 503.0L305.6 503.4L304.1 503.7L302.6 503.9L301.1 504.0L300.3 504.0L299.6 504.0L298.1 503.9L296.5 503.7L295.0 503.5L293.5 503.1L292.0 502.7ZM312.0 501.3L313.5 501.1L315.0 500.9L316.5 500.7L318.0 500.5L319.5 500.4L321.0 500.3L322.5 500.3L323.7 500.2L324.0 500.3L325.5 500.3L327.0 500.3L328.5 500.4L330.0 500.5L331.5 500.7L333.0 500.9L334.5 501.1L334.5 501.7L333.0 501.8L331.5 502.0L330.0 502.1L328.5 502.2L327.0 502.3L325.5 502.3L324.0 502.3L323.7 502.3L322.5 502.3L321.0 502.3L319.5 502.3L318.0 502.2L316.5 502.1L315.0 502.0L313.5 501.8L312.0 501.7ZM205.3 396.2L213.7 396.3L213.7 397.2L205.3 397.3ZM328.7 396.0L337.0 396.2L337.0 397.3L328.7 397.5Z" fill="#fff" stroke="none"/>
<path clip-path="url(#c1)" d="M263.5 185.3L265.6 185.2L267.6 185.0L269.7 184.9L271.7 184.8L273.7 184.7L275.8 184.6L277.8 184.5L279.8 184.4L281.9 184.3L282.2 184.3L283.9 184.2L286.0 184.2L288.0 184.1L290.0 184.1L292.1 184.0L294.1 184.0L296.1 183.9L298.2 183.9L300.2 183.9L302.3 183.9L304.1 183.9L304.3 183.9L306.3 183.9L308.4 184.0L310.4 184.2L312.4 184.5L314.5 184.7L316.5 185.0L318.6 185.3L318.7 185.3L320.6 185.6L322.6 185.9L324.7 186.3L326.7 186.7L328.7 187.2L328.9 187.2L330.8 187.7L332.8 188.4L334.9 189.2L336.9 190.0M204.9 206.8L263.5 207.5M204.9 208.1L263.5 208.5M204.9 209.4L263.5 209.5M204.9 210.7L263.5 210.5M204.9 212.0L263.5 211.5M263.5 207.6L265.6 206.7L267.6 205.8L269.7 204.9L271.7 203.9L273.7 202.9L274.9 202.4L275.8 202.0L277.8 200.9L279.8 199.9L281.9 198.8L283.9 197.8L286.0 196.7L288.0 195.8L289.5 195.1L290.0 194.9L292.1 193.9L294.1 193.0L296.1 192.1L298.2 191.3L300.2 190.6L302.3 189.9L304.1 189.4L304.3 189.3L306.3 188.9L308.4 188.4L310.4 188.0L312.4 187.6L314.5 187.4L315.8 187.4L316.5 187.3L318.6 187.3L320.6 187.3L322.6 187.2L324.7 187.2L326.0 187.2L326.7 187.2L328.7 187.4L330.8 187.7L332.8 188.2L334.9 188.8L336.9 189.4M263.5 208.6L265.6 208.0L267.6 207.3L269.7 206.5L271.7 205.7L273.7 204.9L274.9 204.4L275.8 204.1L277.8 203.1L279.8 202.1L281.9 201.1L283.9 200.1L286.0 199.1L288.0 198.1L289.5 197.4L290.0 197.2L292.1 196.3L294.1 195.4L296.1 194.5L298.2 193.7L300.2 192.9L302.3 192.2L304.1 191.6L304.3 191.5L306.3 190.9L308.4 190.2L310.4 189.6L312.4 189.0L314.5 188.5L316.5 188.2L318.6 188.1L318.7 188.1L320.6 188.1L322.6 188.1L324.7 188.1L326.7 188.1L328.7 188.1L328.9 188.1L330.8 188.3L332.8 188.8L334.9 189.6L336.9 190.4M263.5 209.7L265.6 209.2L267.6 208.6L269.7 208.1L271.7 207.5L273.7 206.8L274.9 206.5L275.8 206.2L277.8 205.4L279.8 204.6L281.9 203.8L283.9 202.9L286.0 202.1L288.0 201.2L289.5 200.6L290.0 200.4L292.1 199.6L294.1 198.8L296.1 197.9L298.2 197.1L300.2 196.3L302.3 195.6L304.1 195.1L304.3 195.0L306.3 194.4L308.4 193.9L310.4 193.3L312.4 192.8L314.5 192.4L316.5 192.1L318.6 191.9L318.7 191.9L320.6 191.8L322.6 191.7L324.7 191.6L326.7 191.6L328.7 191.6L328.9 191.6L330.8 191.7L332.8 191.9L334.9 192.3L336.9 192.8M263.5 211.6L265.6 211.6L267.6 211.7L269.7 211.7L271.7 211.8L273.7 211.8L275.8 211.8L277.8 211.9L279.8 211.9L281.9 211.9L283.9 212.0L286.0 212.0L288.0 212.0L289.5 212.0L290.0 212.0L292.1 212.0L294.1 212.0L296.1 212.0L298.2 212.0L300.2 212.0L302.3 212.0L304.3 212.0L306.3 212.0L308.4 212.0L310.4 212.0L312.4 212.0L314.5 212.0L316.5 212.0L318.6 212.0L318.7 212.0L320.6 212.0L322.6 211.9L324.7 211.8L326.7 211.7L328.7 211.5L330.8 211.4L332.8 211.2L334.9 211.0L336.9 210.8M204.9 214.8L206.9 214.8L209.0 214.9L211.0 215.0L213.0 215.0L215.0 215.1L217.0 215.1L219.1 215.2L221.1 215.2L223.1 215.3L225.1 215.3L227.2 215.4L229.2 215.4L231.2 215.5L233.2 215.5L235.2 215.6L237.3 215.6L238.5 215.7L239.3 215.7L241.3 215.7L243.3 215.8L245.3 215.8L247.4 215.9L249.4 215.9L251.4 216.0L253.4 216.0L255.5 216.1L257.5 216.1L259.5 216.2L261.5 216.2L263.5 216.2M204.9 216.4L206.9 216.5L209.0 216.5L211.0 216.6L213.0 216.6L215.0 216.7L217.0 216.7L219.1 216.8L221.1 216.8L223.1 216.8L225.1 216.9L227.2 216.9L229.2 217.0L231.2 217.0L233.2 217.0L235.2 217.1L237.3 217.1L238.5 217.1L239.3 217.1L241.3 217.1L243.3 217.2L245.3 217.2L247.4 217.2L249.4 217.3L251.4 217.3L253.4 217.3L255.5 217.3L257.5 217.3L259.5 217.4L261.5 217.4L263.5 217.4M204.9 218.1L206.9 218.1L209.0 218.2L211.0 218.2L213.0 218.3L215.0 218.3L217.0 218.3L219.1 218.4L221.1 218.4L223.1 218.4L225.1 218.5L227.2 218.5L229.2 218.5L231.2 218.5L233.2 218.5L235.2 218.5L237.3 218.5L238.5 218.5L239.3 218.5L241.3 218.5L243.3 218.5L245.3 218.5L247.4 218.5L249.4 218.5L251.4 218.5L253.4 218.5L255.5 218.5L257.5 218.5L259.5 218.5L261.5 218.5L263.5 218.5M263.5 216.4L265.6 216.7L267.6 217.1L269.7 217.4L271.7 217.8L273.7 218.2L274.9 218.4L275.8 218.6L277.8 219.0L279.8 219.5L281.9 220.0L283.9 220.5L286.0 221.0L288.0 221.4L289.5 221.8L290.0 221.9L292.1 222.3L294.1 222.8L296.1 223.3L298.2 223.7L300.2 224.1L302.3 224.4L304.1 224.7L304.3 224.7L306.3 225.0L308.4 225.2L310.4 225.5L312.4 225.7L314.5 225.8L316.5 226.0L318.6 226.0L318.7 226.0L320.6 226.0L322.6 226.0L324.7 225.9L326.7 225.9L328.7 225.8L330.8 225.6L332.8 225.4L334.9 225.2L336.9 225.0M263.5 218.1L265.6 218.4L267.6 218.7L269.7 219.0L271.7 219.3L273.7 219.7L274.9 219.9L275.8 220.0L277.8 220.5L279.8 221.0L281.9 221.5L283.9 222.0L286.0 222.5L288.0 223.0L289.5 223.4L290.0 223.5L292.1 224.0L294.1 224.5L296.1 225.0L298.2 225.4L300.2 225.8L302.3 226.2L304.1 226.4L304.3 226.5L306.3 226.7L308.4 226.9L310.4 227.1L312.4 227.3L314.5 227.5L316.5 227.6L318.6 227.6L318.7 227.6L320.6 227.6L322.6 227.6L324.7 227.5L326.7 227.4L328.7 227.3L330.8 227.2L332.8 227.0L334.9 226.8L336.9 226.6M204.9 232.4L206.9 232.4L209.0 232.4L211.0 232.3L213.0 232.3L215.1 232.3L217.1 232.3L219.1 232.2L221.2 232.2L223.2 232.2L225.2 232.2L227.3 232.2L229.3 232.1L231.3 232.1L233.3 232.1L235.4 232.1L237.4 232.1L239.4 232.1L241.5 232.1L243.5 232.0L245.5 232.0L247.6 232.0L249.6 232.0L251.6 232.0L253.6 232.0L255.7 232.0L257.7 232.0L259.7 232.0L261.8 232.0L263.5 232.0L263.8 232.0L265.8 232.0L267.9 232.0L269.9 232.0L271.9 232.0L274.0 232.0L276.0 232.0L278.0 232.0L280.0 232.0L282.1 232.0L284.1 232.0L286.1 232.0L288.2 232.0L290.2 232.0L292.2 232.0L294.3 232.0L296.3 232.1L298.3 232.1L300.3 232.1L302.4 232.1L304.4 232.1L306.4 232.1L308.5 232.1L310.5 232.1L312.5 232.2L314.6 232.2L316.6 232.2L318.6 232.2L320.7 232.2L322.7 232.3L324.7 232.3L326.7 232.3L328.8 232.3L330.8 232.3L332.8 232.4L334.9 232.4L336.9 232.4M204.9 238.5L206.9 238.7L209.0 238.9L211.0 239.0L213.0 239.2L215.1 239.4L217.1 239.5L219.1 239.7L221.2 239.8L223.2 239.9L225.2 240.1L227.3 240.2L229.3 240.3L231.3 240.4L233.3 240.5L235.4 240.6L237.4 240.7L238.5 240.7L239.4 240.8L241.5 240.9L243.5 240.9L245.5 241.0L247.6 241.1L249.6 241.2L251.6 241.2L253.6 241.3L255.7 241.4L257.7 241.4L259.7 241.4L261.8 241.5L263.5 241.5L263.8 241.5L265.8 241.5L267.9 241.4L269.9 241.4L271.9 241.4L274.0 241.4L276.0 241.4L278.0 241.3L280.0 241.3L282.1 241.3L284.1 241.2L286.1 241.2L288.2 241.1L290.2 241.1L292.2 241.0L294.3 241.0L296.3 240.9L298.3 240.9L300.3 240.8L302.4 240.8L304.1 240.7L304.4 240.7L306.4 240.7L308.5 240.6L310.5 240.5L312.5 240.4L314.6 240.3L316.6 240.2L318.6 240.1L320.7 240.0L322.7 239.8L324.7 239.7L326.7 239.6L328.8 239.4L330.8 239.3L332.8 239.1L334.9 239.0L336.9 238.8M204.9 249.9L206.9 250.0L209.0 250.1L211.0 250.3L213.0 250.4L215.0 250.5L217.0 250.6L219.1 250.7L221.1 250.7L223.1 250.8L225.1 250.9L227.2 250.9L229.2 250.9L231.2 250.9L231.2 250.9L233.2 250.9L235.2 250.9L237.3 250.9L239.3 250.9L241.3 250.9L243.3 250.9L245.3 250.9L247.4 250.9L249.4 250.9L251.4 250.9L253.4 250.9L255.5 250.9L257.5 250.9L259.5 250.9L261.5 250.9L263.5 250.9M263.5 249.6L265.6 249.6L267.6 249.6L269.7 249.6L271.7 249.7L273.7 249.7L275.8 249.7L277.8 249.7L279.8 249.7L281.9 249.7L283.9 249.7L286.0 249.7L288.0 249.8L290.0 249.8L292.1 249.8L294.1 249.8L296.1 249.8L298.2 249.9L300.2 249.9L302.3 249.9L304.1 249.9L304.3 249.9L306.3 249.9L308.4 250.0L310.4 250.0L312.4 250.0L314.5 250.1L316.5 250.1L318.6 250.1L320.6 250.2L322.6 250.2L324.7 250.2L326.7 250.3L328.7 250.3L330.8 250.4L332.8 250.4L334.9 250.5L336.9 250.5M205.3 278.1L207.3 277.4L209.3 276.8L211.4 276.2L213.4 275.7L215.4 275.1L217.4 274.6L219.4 274.1L221.4 273.7L222.8 273.3L223.4 273.2L225.4 272.8L227.4 272.4L229.4 272.0L231.4 271.7L233.4 271.3L235.4 271.0L237.4 270.7L239.4 270.4L239.5 270.4L241.4 270.2L243.4 269.9L245.4 269.7L247.5 269.5L249.5 269.4L251.5 269.2L252.0 269.2L253.5 269.1L255.5 268.9L257.5 268.8L259.5 268.7L261.5 268.6L263.5 268.6M205.3 283.8L207.3 283.9L209.3 284.0L211.4 284.1L213.4 284.1L215.4 284.2L217.4 284.2L218.7 284.2L219.4 284.2L221.4 284.1L223.4 283.9L225.4 283.7L227.4 283.4L229.4 283.2L231.4 282.9L233.4 282.7L235.3 282.5L235.4 282.5L237.4 282.3L239.4 282.2L241.4 282.1L243.4 281.9L245.4 281.8L247.5 281.7L249.5 281.6L251.5 281.5L252.0 281.5L253.5 281.5L255.5 281.4L257.5 281.3L259.5 281.3L261.5 281.3L263.5 281.2M205.3 285.4L207.3 285.4L209.3 285.4L211.4 285.4L213.4 285.3L215.4 285.3L217.4 285.3L219.4 285.2L221.4 285.2L223.4 285.1L225.4 285.0L227.0 285.0L227.4 285.0L229.4 284.9L231.4 284.7L233.4 284.6L235.4 284.4L237.4 284.2L239.4 284.0L241.4 283.9L243.4 283.8L243.7 283.8L245.4 283.7L247.5 283.6L249.5 283.6L251.5 283.5L253.5 283.5L255.5 283.4L257.5 283.4L259.5 283.4L261.5 283.3L263.5 283.3M205.3 286.2L207.3 286.2L209.3 286.1L211.4 286.1L213.4 286.1L215.4 286.0L217.4 286.0L219.4 285.9L221.4 285.9L223.4 285.9L225.4 285.9L227.4 285.9L229.4 285.8L231.4 285.8L233.4 285.8L235.3 285.8L235.4 285.8L237.4 285.8L239.4 285.8L241.4 285.9L243.4 285.9L245.4 285.9L247.5 285.9L249.5 285.9L251.5 286.0L253.5 286.0L255.5 286.1L257.5 286.1L259.5 286.1L261.5 286.2L263.5 286.2M205.3 287.1L207.3 287.0L209.3 286.9L211.4 286.8L213.4 286.8L215.4 286.7L217.4 286.7L219.4 286.7L221.4 286.7L223.4 286.7L225.4 286.7L227.0 286.7L227.4 286.7L229.4 286.7L231.4 286.8L233.4 286.8L235.4 286.9L237.4 287.1L239.4 287.2L241.4 287.3L243.4 287.5L243.7 287.5L245.4 287.6L247.5 287.8L249.5 288.0L251.5 288.2L253.5 288.4L255.5 288.7L256.2 288.8L257.5 288.9L259.5 289.2L261.5 289.5L263.5 289.7M205.3 292.9L207.3 293.0L209.3 293.1L211.4 293.2L213.4 293.3L215.4 293.4L217.4 293.5L219.4 293.5L221.4 293.6L223.4 293.7L225.4 293.7L227.0 293.8L227.4 293.8L229.4 293.8L231.4 293.8L233.4 293.9L235.4 293.9L237.4 293.9L239.4 294.0L241.4 294.0L243.4 294.0L245.4 294.0L247.5 294.1L249.5 294.1L251.5 294.1L253.5 294.1L255.5 294.1L257.5 294.2L259.5 294.2L261.5 294.2L263.5 294.2M205.3 295.0L207.3 295.0L209.3 295.0L211.4 295.0L213.4 295.0L215.4 295.0L217.4 295.0L218.7 295.0L219.4 295.0L221.4 295.0L223.4 295.0L225.4 295.0L227.4 295.0L229.4 295.0L231.4 295.0L233.4 295.0L235.3 295.0L235.4 295.0L237.4 295.0L239.4 295.0L241.4 295.1L243.4 295.1L245.4 295.1L247.5 295.2L249.5 295.2L251.5 295.3L253.5 295.4L255.5 295.5L257.5 295.6L259.5 295.6L261.5 295.7L263.5 295.8M205.3 297.5L207.3 297.3L209.3 297.1L211.4 297.0L213.4 296.8L214.5 296.7L215.4 296.6L217.4 296.3L219.4 296.1L221.4 295.9L222.8 295.8L223.4 295.8L225.4 295.9L227.4 295.9L229.4 296.0L231.4 296.0L233.4 296.1L235.3 296.2L235.4 296.3L237.4 296.4L239.4 296.7L241.4 297.1L243.4 297.5L245.4 297.9L247.5 298.3L247.8 298.3L249.5 298.6L251.5 298.9L253.5 299.3L255.5 299.5L256.2 299.6L257.5 299.7L259.5 299.8L261.5 299.9L263.5 300.0M205.3 306.7L207.3 307.3L209.3 307.9L211.4 308.4L213.4 308.9L214.5 309.2L215.4 309.4L217.4 309.8L219.4 310.2L221.4 310.6L222.8 310.8L223.4 310.9L225.4 311.2L227.4 311.4L229.4 311.6L231.4 311.7L233.4 311.9L235.3 312.1L235.4 312.1L237.4 312.3L239.4 312.4L241.4 312.6L243.4 312.8L245.4 312.9L247.5 313.1L249.5 313.2L251.5 313.3L252.0 313.3L253.5 313.4L255.5 313.5L257.5 313.6L259.5 313.6L261.5 313.7L263.5 313.8M205.3 307.9L207.3 308.4L209.3 308.9L211.4 309.3L213.4 309.8L214.5 310.0L215.4 310.2L217.4 310.6L219.4 311.1L221.4 311.4L222.8 311.7L223.4 311.7L225.4 312.0L227.4 312.2L229.4 312.4L231.4 312.6L233.4 312.8L235.3 312.9L235.4 312.9L237.4 313.1L239.4 313.3L241.4 313.4L243.4 313.6L245.4 313.8L247.5 313.9L249.5 314.0L251.5 314.1L252.0 314.2L253.5 314.2L255.5 314.3L257.5 314.4L259.5 314.5L261.5 314.5L263.5 314.6M205.3 315.0L207.3 314.8L209.3 314.5L211.4 314.1L213.4 313.6L214.5 313.3L215.4 313.1L217.4 312.3L219.4 311.5L221.4 310.6L222.8 310.0L223.4 309.8L225.4 309.1L227.4 308.4L229.4 307.7L231.4 307.1L233.4 306.4L235.3 305.8L235.4 305.8L237.4 305.2L239.4 304.5L241.4 303.9L243.4 303.3L245.4 302.7L247.5 302.2L247.8 302.1L249.5 301.6L251.5 301.1L253.5 300.5L255.5 300.1L256.2 300.0L257.5 299.8L259.5 299.5L261.5 299.3L263.5 299.2M205.3 312.5L207.3 312.4L209.3 312.2L211.4 312.0L213.4 311.8L214.5 311.7L215.4 311.5L217.4 311.2L219.4 310.8L221.4 310.3L222.8 310.0L223.4 309.9L225.4 309.5L227.4 309.1L229.4 308.7L231.4 308.3L233.4 307.9L235.3 307.5L235.4 307.5L237.4 307.1L239.4 306.7L241.4 306.2L243.4 305.8L245.4 305.4L247.5 305.1L247.8 305.0L249.5 304.7L251.5 304.4L253.5 304.1L255.5 303.8L256.2 303.8L257.5 303.6L259.5 303.5L261.5 303.4L263.5 303.3M263.5 281.2L265.5 281.3L267.6 281.4L269.6 281.5L271.7 281.5L273.7 281.6L275.8 281.7L277.8 281.8L279.8 281.8L281.9 281.9L283.9 282.0L286.0 282.1L288.0 282.2L290.0 282.3L292.1 282.4L294.1 282.4L295.3 282.5L296.2 282.5L298.2 282.6L300.2 282.7L302.3 282.8L304.3 282.9L306.4 283.0L308.4 283.1L310.5 283.2L312.5 283.3L314.5 283.5L316.6 283.6L318.6 283.7L320.3 283.8L320.7 283.8L322.7 283.9L324.8 284.0L326.8 284.1L328.8 284.2L330.9 284.3L332.9 284.4L335.0 284.5L337.0 284.6M263.5 283.3L265.5 283.3L267.6 283.4L269.6 283.4L271.7 283.4L273.7 283.4L275.8 283.5L277.8 283.5L279.8 283.6L281.9 283.6L283.9 283.7L286.0 283.7L287.0 283.8L288.0 283.8L290.0 283.9L292.1 283.9L294.1 284.1L296.2 284.2L298.2 284.3L300.2 284.4L302.3 284.6L304.3 284.7L306.4 284.8L308.4 284.9L310.5 285.0L312.0 285.0L312.5 285.0L314.5 285.1L316.6 285.1L318.6 285.2L320.7 285.2L322.7 285.3L324.8 285.3L326.8 285.3L328.8 285.4L330.9 285.4L332.9 285.4L335.0 285.4L337.0 285.4M263.5 285.4L265.5 285.5L267.6 285.5L269.6 285.5L271.7 285.6L273.7 285.6L275.8 285.6L277.8 285.7L279.8 285.7L281.9 285.7L283.9 285.8L286.0 285.8L287.0 285.8L288.0 285.9L290.0 285.9L292.1 285.9L294.1 286.0L296.2 286.0L298.2 286.1L300.2 286.1L302.3 286.1L304.3 286.2L306.4 286.2L308.4 286.2L310.5 286.2L312.0 286.2L312.5 286.2L314.5 286.2L316.6 286.2L318.6 286.2L320.7 286.2L322.7 286.2L324.8 286.2L326.8 286.2L328.8 286.2L330.9 286.2L332.9 286.2L335.0 286.2L337.0 286.2M263.5 290.0L265.5 290.0L267.6 290.0L269.6 290.0L271.7 290.0L273.7 290.0L275.8 290.0L277.8 290.0L278.7 290.0L279.8 290.0L281.9 290.0L283.9 289.9L286.0 289.9L288.0 289.8L290.0 289.8L292.1 289.7L294.1 289.6L296.2 289.5L298.2 289.4L300.2 289.3L302.3 289.2L303.7 289.2L304.3 289.1L306.4 289.0L308.4 289.0L310.5 288.8L312.5 288.7L314.5 288.6L316.6 288.5L318.6 288.4L320.3 288.3L320.7 288.3L322.7 288.2L324.8 288.1L326.8 288.0L328.8 287.9L330.9 287.8L332.9 287.7L335.0 287.6L337.0 287.5M263.5 294.2L265.5 294.1L267.6 294.0L269.6 294.0L271.7 293.9L273.7 293.9L275.8 293.8L277.8 293.8L279.8 293.7L281.9 293.7L283.9 293.6L286.0 293.6L288.0 293.5L290.0 293.5L292.1 293.4L294.1 293.4L295.3 293.3L296.2 293.3L298.2 293.3L300.2 293.2L302.3 293.2L304.3 293.1L306.4 293.1L308.4 293.0L310.5 293.0L312.5 293.0L314.5 292.9L316.6 292.9L318.6 292.8L320.7 292.8L322.7 292.8L324.8 292.7L326.8 292.7L328.8 292.6L330.9 292.6L332.9 292.6L335.0 292.5L337.0 292.5M263.5 295.4L265.5 295.4L267.6 295.3L269.6 295.2L271.7 295.2L273.7 295.1L275.8 295.1L277.8 295.0L279.8 295.0L281.9 294.9L283.9 294.9L286.0 294.8L288.0 294.8L290.0 294.7L292.1 294.7L294.1 294.6L295.3 294.6L296.2 294.6L298.2 294.5L300.2 294.5L302.3 294.4L304.3 294.4L306.4 294.3L308.4 294.3L310.5 294.3L312.5 294.2L314.5 294.2L316.6 294.1L318.6 294.1L320.7 294.0L322.7 294.0L324.8 294.0L326.8 293.9L328.8 293.9L330.9 293.9L332.9 293.8L335.0 293.8L337.0 293.8M263.5 296.7L265.5 296.6L267.6 296.5L269.6 296.4L271.7 296.4L273.7 296.3L275.8 296.2L277.8 296.2L279.8 296.1L281.9 296.0L283.9 295.9L286.0 295.9L287.0 295.8L288.0 295.8L290.0 295.7L292.1 295.6L294.1 295.6L296.2 295.5L298.2 295.4L300.2 295.3L302.3 295.2L304.3 295.2L306.4 295.1L308.4 295.1L310.5 295.0L312.0 295.0L312.5 295.0L314.5 295.0L316.6 295.0L318.6 294.9L320.7 294.9L322.7 294.9L324.8 294.9L326.8 294.9L328.8 294.9L330.9 294.8L332.9 294.8L335.0 294.8L337.0 294.8M263.5 298.3L265.5 298.3L267.6 298.2L269.6 298.2L271.7 298.1L273.7 298.1L275.8 298.0L277.8 297.9L278.7 297.9L279.8 297.9L281.9 297.8L283.9 297.7L286.0 297.6L288.0 297.5L290.0 297.4L292.1 297.3L294.1 297.2L296.2 297.0L298.2 296.9L300.2 296.8L302.3 296.7L303.7 296.7L304.3 296.6L306.4 296.6L308.4 296.5L310.5 296.4L312.5 296.3L314.5 296.2L316.6 296.1L318.6 296.1L320.7 296.0L322.7 295.9L324.8 295.8L326.8 295.8L328.8 295.7L330.9 295.6L332.9 295.5L335.0 295.5L337.0 295.4M263.5 300.0L265.5 300.0L267.6 299.9L269.6 299.9L271.7 299.8L273.7 299.8L275.8 299.7L277.8 299.6L278.7 299.6L279.8 299.5L281.9 299.4L283.9 299.3L286.0 299.1L288.0 298.9L290.0 298.8L292.1 298.6L294.1 298.4L295.3 298.3L296.2 298.3L298.2 298.1L300.2 298.0L302.3 297.8L304.3 297.6L306.4 297.5L308.4 297.3L310.5 297.2L312.0 297.1L312.5 297.1L314.5 296.9L316.6 296.8L318.6 296.7L320.7 296.6L322.7 296.5L324.8 296.4L326.8 296.3L328.8 296.2L330.9 296.1L332.9 296.0L335.0 295.9L337.0 295.8M263.5 300.4L265.5 300.4L267.6 300.5L269.6 300.5L271.7 300.6L273.7 300.6L275.8 300.7L277.8 300.8L278.7 300.8L279.8 300.9L281.9 301.1L283.9 301.3L286.0 301.5L288.0 301.8L290.0 302.1L292.1 302.4L294.1 302.7L295.3 302.9L296.2 303.0L298.2 303.4L300.2 303.7L302.3 304.0L304.3 304.4L306.4 304.8L308.4 305.2L310.5 305.5L312.0 305.8L312.5 305.9L314.5 306.4L316.6 306.8L318.6 307.3L320.7 307.7L322.7 308.1L324.5 308.3L324.8 308.4L326.8 308.6L328.8 308.7L330.9 308.9L332.9 309.0L335.0 309.1L337.0 309.2M263.5 304.2L265.5 304.2L267.6 304.2L269.6 304.3L271.7 304.4L273.7 304.5L274.5 304.6L275.8 304.7L277.8 304.9L279.8 305.3L281.9 305.7L283.9 306.1L286.0 306.5L287.0 306.7L288.0 306.9L290.0 307.2L292.1 307.7L294.1 308.1L296.2 308.5L298.2 308.9L299.5 309.2L300.2 309.3L302.3 309.8L304.3 310.3L306.4 310.7L307.8 310.8L308.4 310.9L310.5 311.0L312.5 311.1L314.5 311.2L316.6 311.2L318.6 311.2L320.3 311.2L320.7 311.2L322.7 311.2L324.8 311.2L326.8 311.2L328.8 311.2L330.9 311.1L332.9 311.0L335.0 310.9L337.0 310.8M263.5 303.3L265.5 303.4L267.6 303.4L269.6 303.5L271.7 303.7L273.7 303.8L275.8 303.9L277.8 304.1L278.7 304.2L279.8 304.3L281.9 304.5L283.9 304.8L286.0 305.1L288.0 305.4L290.0 305.8L292.1 306.1L294.1 306.5L295.3 306.7L296.2 306.8L298.2 307.1L300.2 307.4L302.3 307.7L304.3 308.0L306.4 308.3L308.4 308.6L310.5 308.9L312.0 309.2L312.5 309.2L314.5 309.5L316.6 309.8L318.6 310.1L320.7 310.3L322.7 310.6L324.5 310.8L324.8 310.9L326.8 311.1L328.8 311.4L330.9 311.7L332.9 312.0L335.0 312.2L337.0 312.5M263.5 312.9L265.5 312.9L267.6 312.8L269.6 312.8L271.7 312.7L273.7 312.7L275.8 312.6L277.8 312.5L279.8 312.4L281.9 312.3L283.9 312.2L286.0 312.1L287.0 312.1L288.0 312.0L290.0 311.9L292.1 311.8L294.1 311.6L296.2 311.4L298.2 311.3L300.2 311.1L302.3 310.9L303.7 310.8L304.3 310.8L306.4 310.6L308.4 310.5L310.5 310.3L312.5 310.2L314.5 310.0L316.6 309.9L318.6 309.7L320.3 309.6L320.7 309.6L322.7 309.4L324.8 309.3L326.8 309.1L328.8 308.9L330.9 308.8L332.9 308.6L335.0 308.5L337.0 308.3M263.5 316.7L265.5 316.7L267.6 316.7L269.6 316.7L271.7 316.7L273.7 316.7L275.8 316.7L277.8 316.7L278.7 316.7L279.8 316.7L281.9 316.6L283.9 316.5L286.0 316.3L288.0 316.1L290.0 315.9L292.1 315.7L294.1 315.5L295.3 315.4L296.2 315.3L298.2 315.1L300.2 314.9L302.3 314.6L304.3 314.4L306.4 314.1L308.4 313.8L310.5 313.5L312.0 313.3L312.5 313.3L314.5 313.0L316.6 312.7L318.6 312.4L320.7 312.1L322.7 311.9L324.5 311.7L324.8 311.6L326.8 311.4L328.8 311.2L330.9 311.0L332.9 310.8L335.0 310.6L337.0 310.4M263.5 317.9L265.5 317.9L267.6 317.9L269.6 317.8L271.7 317.8L273.7 317.7L275.8 317.6L277.8 317.6L279.8 317.5L281.9 317.4L283.9 317.2L286.0 317.1L287.0 317.1L288.0 317.0L290.0 316.9L292.1 316.7L294.1 316.5L296.2 316.3L298.2 316.0L300.2 315.8L302.3 315.6L303.7 315.4L304.3 315.3L306.4 315.1L308.4 314.8L310.5 314.5L312.5 314.2L314.5 313.9L316.6 313.7L318.6 313.5L320.3 313.3L320.7 313.3L322.7 313.2L324.8 313.0L326.8 312.9L328.8 312.8L330.9 312.7L332.9 312.6L335.0 312.5L337.0 312.5M205.3 495.7L207.3 495.6L209.3 495.5L211.4 495.5L213.4 495.4L215.4 495.4L217.4 495.4L219.4 495.3L221.4 495.3L223.4 495.3L225.4 495.3L227.4 495.3L229.4 495.3L231.4 495.3L233.4 495.3L235.3 495.2L235.4 495.3L237.4 495.3L239.4 495.3L241.4 495.3L243.4 495.3L245.4 495.4L247.5 495.4L249.5 495.5L251.5 495.6L253.5 495.6L255.5 495.7L257.5 495.8L259.5 495.9L261.5 496.0L263.5 496.1M205.3 497.8L207.3 497.6L209.3 497.6L211.4 497.5L213.4 497.4L215.4 497.4L217.4 497.4L219.4 497.4L221.4 497.3L223.4 497.3L225.4 497.3L227.0 497.3L227.4 497.3L229.4 497.4L231.4 497.5L233.4 497.6L235.4 497.8L237.4 497.9L239.4 498.0L241.4 498.1L243.4 498.2L243.7 498.2L245.4 498.2L247.5 498.2L249.5 498.2L251.5 498.1L253.5 498.1L255.5 498.1L257.5 498.0L259.5 497.9L261.5 497.9L263.5 497.8M205.3 504.8L207.3 504.7L209.3 504.5L211.4 504.3L213.4 504.1L215.4 503.9L217.4 503.7L219.4 503.5L221.4 503.3L222.8 503.2L223.4 503.1L225.4 502.9L227.4 502.6L229.4 502.3L231.4 502.1L233.4 501.8L235.4 501.6L237.4 501.3L239.4 501.1L239.5 501.1L241.4 500.9L243.4 500.7L245.4 500.5L247.5 500.3L249.5 500.1L251.5 500.0L252.0 500.0L253.5 499.9L255.5 499.9L257.5 499.8L259.5 499.7L261.5 499.7L263.5 499.7M205.3 506.5L207.3 506.4L209.3 506.3L211.4 506.2L213.4 506.1L215.4 505.9L217.4 505.8L218.7 505.7L219.4 505.6L221.4 505.4L223.4 505.1L225.4 504.9L227.4 504.6L229.4 504.3L231.2 504.0L231.4 504.0L233.4 503.6L235.4 503.3L237.4 502.9L239.4 502.6L241.4 502.2L243.4 501.9L243.7 501.9L245.4 501.7L247.5 501.5L249.5 501.3L251.5 501.1L252.0 501.1L253.5 501.0L255.5 500.9L257.5 500.8L259.5 500.7L261.5 500.7L263.5 500.7M205.3 504.5L207.3 505.1L209.3 505.7L211.4 506.5L213.4 507.3L214.5 507.8L215.4 508.1L217.4 509.2L219.4 510.3L221.4 511.5L222.8 512.3L223.4 512.7L225.4 513.8L227.4 515.0L229.4 516.3L230.3 516.9L231.4 517.7L233.4 519.3L235.3 520.8L235.4 520.9L237.4 522.6L239.4 524.4L241.4 526.2L243.4 528.0L243.7 528.2L245.4 529.8L247.5 531.6L249.5 533.4L251.5 535.2L252.0 535.7L253.5 537.0L255.5 538.8L257.5 540.6L259.5 542.4L261.5 544.3L263.5 546.1M205.3 511.5L207.3 511.4L209.3 511.2L211.4 511.0L213.4 510.8L214.5 510.7L215.4 510.6L217.4 510.2L219.4 509.8L221.4 509.4L223.4 508.9L225.4 508.5L227.0 508.2L227.4 508.1L229.4 507.7L231.4 507.3L233.4 506.8L235.4 506.4L237.4 506.0L239.4 505.7L239.5 505.7L241.4 505.3L243.4 505.0L245.4 504.7L247.5 504.4L249.5 504.1L251.5 503.9L252.0 503.8L253.5 503.7L255.5 503.5L257.5 503.4L259.5 503.2L261.5 503.1L263.5 503.0M205.3 513.2L207.3 512.9L209.3 512.7L211.4 512.5L213.4 512.3L215.4 512.2L217.4 512.0L218.7 511.9L219.4 511.9L221.4 511.8L223.4 511.7L225.4 511.6L227.0 511.5L227.4 511.5L229.4 511.3L231.4 511.0L233.4 510.6L235.4 510.2L237.4 509.8L239.4 509.4L239.5 509.4L241.4 509.0L243.4 508.5L245.4 508.0L247.5 507.5L249.5 507.0L251.5 506.6L252.0 506.5L253.5 506.2L255.5 505.9L257.5 505.6L259.5 505.3L261.5 505.1L263.5 504.8M205.3 514.4L207.3 514.3L209.3 514.2L211.4 514.2L213.4 514.1L215.4 514.0L217.4 514.0L218.7 514.0L219.4 514.0L221.4 514.0L223.4 514.0L225.4 514.0L227.4 514.0L229.4 514.0L231.4 514.0L233.4 514.0L235.3 514.0L235.4 514.0L237.4 514.0L239.4 514.0L241.4 514.0L243.4 514.0L245.4 514.0L247.5 514.0L249.5 514.0L251.5 514.0L252.0 514.0L253.5 514.0L255.5 514.0L257.5 514.0L259.5 514.0L261.5 514.0L263.5 514.0M205.3 516.1L207.3 515.9L209.3 515.7L211.4 515.5L213.4 515.3L215.4 515.2L217.4 515.1L218.7 515.0L219.4 515.0L221.4 514.9L223.4 514.9L225.4 514.8L227.4 514.8L229.4 514.7L231.4 514.7L233.4 514.7L235.3 514.7L235.4 514.7L237.4 514.7L239.4 514.7L241.4 514.7L243.4 514.7L245.4 514.7L247.5 514.7L249.5 514.7L251.5 514.7L253.5 514.7L255.5 514.7L257.5 514.7L259.5 514.8L261.5 514.8L263.5 514.8M205.3 518.2L207.3 517.9L209.3 517.7L211.4 517.5L213.4 517.3L215.4 517.0L217.4 516.8L218.7 516.7L219.4 516.6L221.4 516.3L223.4 516.1L225.4 515.8L227.4 515.6L229.4 515.4L231.2 515.2L231.4 515.2L233.4 515.1L235.4 515.0L237.4 515.0L239.4 514.9L241.4 514.9L243.4 514.8L243.7 514.8L245.4 514.8L247.5 514.8L249.5 514.8L251.5 514.8L253.5 514.9L255.5 514.9L257.5 514.9L259.5 514.9L261.5 515.0L263.5 515.0M205.3 522.3L207.3 522.2L209.3 522.0L211.4 521.8L213.4 521.6L215.4 521.4L217.4 521.2L218.7 521.1L219.4 521.0L221.4 520.7L223.4 520.4L225.4 520.1L227.4 519.9L229.4 519.6L231.2 519.4L231.4 519.4L233.4 519.2L235.4 519.0L237.4 518.9L239.4 518.7L241.4 518.6L243.4 518.6L243.7 518.6L245.4 518.6L247.5 518.6L249.5 518.6L251.5 518.6L253.5 518.6L255.5 518.6L256.2 518.6L257.5 518.6L259.5 518.7L261.5 518.8L263.5 519.0M205.3 520.7L207.3 520.6L209.3 520.4L211.4 520.3L213.4 520.2L215.4 520.1L217.4 519.9L218.7 519.8L219.4 519.8L221.4 519.6L223.4 519.5L225.4 519.3L227.4 519.1L229.4 519.0L231.2 518.8L231.4 518.8L233.4 518.7L235.4 518.5L237.4 518.4L239.4 518.3L241.4 518.2L243.4 518.2L243.7 518.2L245.4 518.2L247.5 518.2L249.5 518.2L251.5 518.2L253.5 518.2L255.5 518.3L257.5 518.3L259.5 518.4L261.5 518.5L263.5 518.6M205.3 526.0L207.3 526.1L209.3 526.3L211.4 526.5L213.4 526.8L214.5 526.9L215.4 527.1L217.4 527.5L219.4 528.0L221.4 528.6L222.8 529.0L223.4 529.2L225.4 529.8L227.4 530.5L229.4 531.2L231.2 531.9L231.4 532.0L233.4 532.9L235.4 533.8L237.4 534.7L239.4 535.6L239.5 535.7L241.4 536.5L243.4 537.4L245.4 538.3L247.5 539.2L247.8 539.4L249.5 540.2L251.5 541.1L253.5 542.0L255.5 542.9L256.2 543.2L257.5 543.7L259.5 544.5L261.5 545.3L263.5 546.1M205.3 527.3L207.3 527.4L209.3 527.6L211.4 527.9L213.4 528.2L214.5 528.3L215.4 528.5L217.4 529.0L219.4 529.6L221.4 530.2L222.8 530.7L223.4 530.8L225.4 531.5L227.4 532.2L229.4 532.9L231.2 533.6L231.4 533.7L233.4 534.5L235.4 535.3L237.4 536.1L239.4 536.9L239.5 536.9L241.4 537.7L243.4 538.5L245.4 539.3L247.5 540.1L247.8 540.2L249.5 540.9L251.5 541.8L253.5 542.7L255.5 543.5L256.2 543.8L257.5 544.2L259.5 544.9L261.5 545.5L263.5 546.1M263.5 505.0L265.5 505.0L267.6 505.1L269.6 505.1L271.7 505.2L273.7 505.2L275.8 505.3L277.8 505.4L278.7 505.4L279.8 505.5L281.9 505.6L283.9 505.7L286.0 505.8L287.0 505.8L288.0 505.8L290.0 505.8L292.1 505.8L294.1 505.7L296.2 505.6L298.2 505.6L300.2 505.5L302.3 505.4L303.7 505.4L304.3 505.4L306.4 505.4L308.4 505.3L310.5 505.3L312.5 505.3L314.5 505.2L316.6 505.2L318.6 505.2L320.7 505.1L322.7 505.1L324.8 505.1L326.8 505.1L328.8 505.1L330.9 505.0L332.9 505.0L335.0 505.0L337.0 505.0M263.5 514.0L265.5 513.7L267.6 513.3L269.6 512.9L270.3 512.8L271.7 512.4L273.7 511.9L275.8 511.2L277.8 510.6L278.7 510.2L279.8 509.8L281.9 508.8L283.9 507.8L285.3 507.3L286.0 507.2L288.0 506.7L290.0 506.2L292.1 505.9L294.1 505.7L295.3 505.7L296.2 505.7L298.2 505.7L300.2 505.7L302.3 505.7L304.3 505.7L306.4 505.7L308.4 505.7L310.5 505.7L312.0 505.7L312.5 505.7L314.5 505.7L316.6 505.7L318.6 505.8L320.7 505.9L322.7 506.0L324.8 506.2L326.8 506.3L328.8 506.5L330.9 506.7L332.9 506.9L335.0 507.1L337.0 507.3M263.5 514.8L265.5 514.8L267.6 514.8L269.6 514.8L270.3 514.8L271.7 514.8L273.7 514.4L275.8 513.9L277.8 513.4L278.7 513.2L279.8 512.9L281.9 512.2L283.9 511.5L286.0 510.9L287.0 510.7L288.0 510.5L290.0 510.0L292.1 509.7L294.1 509.5L295.3 509.4L296.2 509.4L298.2 509.4L300.2 509.5L302.3 509.5L304.3 509.6L306.4 509.6L308.4 509.7L310.5 509.8L312.0 509.8L312.5 509.9L314.5 510.0L316.6 510.1L318.6 510.2L320.7 510.4L322.7 510.6L324.8 510.8L326.8 511.0L328.8 511.2L330.9 511.5L332.9 511.8L335.0 512.0L337.0 512.3M263.5 519.0L265.5 519.0L267.6 518.8L269.6 518.7L270.3 518.6L271.7 518.4L273.7 518.0L275.8 517.4L277.8 516.8L278.7 516.5L279.8 516.1L281.9 515.4L283.9 514.6L286.0 513.9L287.0 513.6L288.0 513.3L290.0 512.7L292.1 512.1L294.1 511.6L295.3 511.5L296.2 511.4L298.2 511.3L300.2 511.2L302.3 511.1L303.7 511.1L304.3 511.1L306.4 511.2L308.4 511.3L310.5 511.6L312.5 511.9L314.5 512.2L316.6 512.6L318.6 512.9L320.3 513.2L320.7 513.2L322.7 513.6L324.8 513.9L326.8 514.3L328.8 514.7L330.9 515.1L332.9 515.6L335.0 516.0L337.0 516.5M263.5 504.8L265.5 504.7L267.6 504.6L269.6 504.5L270.3 504.4L271.7 504.3L273.7 504.2L275.8 504.1L277.8 504.0L278.7 504.0L279.8 504.0L281.9 504.3L283.9 504.6L286.0 505.0L287.0 505.2L288.0 505.5L290.0 506.1L292.1 506.7L294.1 507.2L295.3 507.3L296.2 507.4L298.2 507.4L300.2 507.5L302.3 507.5L304.3 507.6L306.4 507.6L308.4 507.6L310.5 507.7L312.0 507.8L312.5 507.8L314.5 507.9L316.6 508.0L318.6 508.1L320.7 508.2L322.7 508.4L324.8 508.6L326.8 508.7L328.8 508.9L330.9 509.1L332.9 509.4L335.0 509.6L337.0 509.8M295.3 511.9L297.4 511.8L299.5 511.8L301.6 511.7L303.7 511.7L303.7 511.7L305.8 511.7L307.8 511.7L309.9 511.7L312.0 511.7L314.1 511.7L316.2 511.7L318.2 511.7L320.3 511.7L322.4 511.7L324.5 511.9L326.6 512.2L328.7 512.5L330.8 512.9L332.8 513.4L334.9 513.9L337.0 514.4M263.5 546.1L265.5 544.0L267.6 541.9L269.6 539.8L270.3 539.0L271.7 537.6L273.7 535.3L275.8 533.0L277.8 530.8L278.7 529.8L279.8 528.6L281.9 526.4L283.9 524.3L286.0 522.4L287.0 521.5L288.0 520.7L290.0 519.1L292.1 517.8L293.7 516.9L294.1 516.7L296.2 515.8L298.2 515.1L299.5 514.8L300.2 514.7L302.3 514.4L304.3 514.2L306.4 514.0L307.8 514.0L308.4 514.0L310.5 514.0L312.5 514.1L314.5 514.2L316.6 514.2L318.6 514.3L320.3 514.4L320.7 514.4L322.7 514.5L324.8 514.7L326.8 514.8L328.8 515.0L330.9 515.2L332.9 515.4L335.0 515.6L337.0 515.8M263.5 546.1L265.5 545.1L267.6 544.1L269.6 543.1L271.7 542.1L273.7 541.1L274.5 540.7L275.8 540.0L277.8 538.9L279.8 537.9L281.9 536.8L283.9 535.7L286.0 534.6L287.0 534.0L288.0 533.5L290.0 532.4L292.1 531.2L294.1 530.1L296.2 529.0L298.2 528.0L299.5 527.3L300.2 527.0L302.3 526.0L304.3 525.0L306.4 524.0L308.4 523.1L310.5 522.2L312.0 521.5L312.5 521.3L314.5 520.4L316.6 519.6L318.6 518.8L320.3 518.2L320.7 518.0L322.7 517.3L324.8 516.7L326.8 516.1L327.0 516.1L328.8 515.7L330.9 515.3L332.9 514.9L335.0 514.6L337.0 514.4M263.5 546.1L265.5 545.3L267.6 544.5L269.6 543.7L271.7 542.9L273.7 542.0L274.5 541.7L275.8 541.1L277.8 540.2L279.8 539.3L281.9 538.3L283.9 537.4L286.0 536.4L287.0 535.9L288.0 535.4L290.0 534.4L292.1 533.4L294.1 532.4L296.2 531.4L298.2 530.3L299.5 529.7L300.2 529.3L302.3 528.2L304.3 527.2L306.4 526.1L308.4 525.1L310.5 524.1L312.0 523.3L312.5 523.1L314.5 522.1L316.6 521.2L318.6 520.3L320.3 519.7L320.7 519.5L322.7 518.7L324.8 518.0L326.8 517.4L328.7 517.2L328.8 517.2L330.9 517.2L332.9 517.2L335.0 517.4L337.0 517.8" fill="none" stroke="#f00" stroke-width="2.08" stroke-linejoin="round"/>
<path clip-path="url(#c2)" d="M351.8 343.2L353.3 343.0L354.9 342.9L356.4 342.8L357.9 342.7L359.4 342.5L360.9 342.4L362.4 342.3L363.9 342.2L365.5 342.1L367.0 342.0L368.5 342.0L369.3 341.9L370.0 341.9L371.5 341.8L373.0 341.7L374.5 341.6L376.1 341.6L377.6 341.5L379.1 341.4L380.6 341.4L382.1 341.3L383.6 341.3L385.1 341.3L386.0 341.2L386.7 341.2L388.2 341.2L389.7 341.2L391.2 341.2L392.7 341.2L394.2 341.2L395.7 341.2L397.2 341.2L397.2 497.0L395.7 497.0L394.2 497.0L392.7 497.0L391.2 497.0L389.7 497.0L388.2 497.0L386.7 497.0L386.0 497.0L385.1 497.0L383.6 497.0L382.1 497.0L380.6 497.0L379.1 497.0L377.6 497.0L376.1 497.0L374.5 497.0L373.0 497.0L371.5 497.0L370.0 497.0L369.3 497.0L368.5 497.0L367.0 497.0L365.5 497.0L363.9 497.0L362.4 497.0L360.9 497.0L359.4 497.0L357.9 497.0L356.4 497.0L354.9 497.0L353.3 497.0L351.8 497.0Z" fill="#f00" stroke="none"/>
<path clip-path="url(#c2)" d="M359.3 346.6L360.8 346.4L362.4 346.2L363.9 346.1L365.4 345.9L366.9 345.8L368.4 345.6L369.9 345.5L371.5 345.3L373.0 345.2L373.5 345.2L374.5 345.1L376.0 345.0L377.5 344.9L379.1 344.8L380.6 344.7L382.1 344.6L383.6 344.5L385.1 344.4L386.0 344.3L386.6 344.3L388.1 344.2L389.7 344.1L391.2 344.1L392.7 344.0L394.2 343.9L395.7 343.9L397.2 343.8L397.2 346.0L395.7 346.0L394.2 346.1L392.7 346.1L391.2 346.2L389.7 346.2L388.1 346.3L386.6 346.3L386.0 346.3L385.1 346.4L383.6 346.5L382.1 346.6L380.6 346.7L379.1 346.8L377.5 346.9L376.0 346.9L374.5 347.0L373.5 347.0L373.0 347.0L371.5 347.0L369.9 347.0L368.4 347.0L366.9 347.0L365.4 347.0L363.9 346.9L362.4 346.9L360.8 346.9L359.3 346.8ZM351.8 349.3L353.3 349.3L354.9 349.3L356.4 349.3L357.9 349.3L359.4 349.3L360.9 349.3L362.4 349.3L363.9 349.3L365.5 349.3L367.0 349.3L368.5 349.3L369.3 349.3L370.0 349.3L371.5 349.3L373.0 349.2L374.5 349.1L376.1 349.0L377.6 348.8L379.1 348.7L380.6 348.7L381.8 348.7L382.1 348.7L383.6 348.7L385.1 348.7L386.7 348.7L388.2 348.7L389.7 348.7L391.2 348.7L392.7 348.7L394.2 348.7L395.7 348.7L397.2 348.7L397.2 351.0L395.7 351.0L394.2 351.0L392.7 350.9L391.2 350.9L389.7 350.9L388.2 350.9L386.7 350.8L385.1 350.8L383.6 350.8L382.1 350.8L381.8 350.8L380.6 350.7L379.1 350.7L377.6 350.6L376.1 350.6L374.5 350.6L373.0 350.5L371.5 350.5L370.0 350.5L369.3 350.5L368.5 350.5L367.0 350.5L365.5 350.5L363.9 350.5L362.4 350.5L360.9 350.5L359.4 350.5L357.9 350.5L356.4 350.5L354.9 350.5L353.3 350.5L351.8 350.5ZM361.0 353.5L362.5 353.4L364.0 353.4L365.5 353.4L367.0 353.3L368.6 353.3L370.1 353.3L371.6 353.3L373.1 353.3L374.6 353.3L376.1 353.3L377.6 353.3L377.7 353.2L379.1 353.3L380.6 353.3L382.1 353.3L383.7 353.3L385.2 353.3L386.7 353.4L388.2 353.4L389.7 353.5L391.2 353.5L392.7 353.6L394.2 353.7L395.7 353.8L397.2 353.8L397.2 355.2L395.7 355.1L394.2 355.0L392.7 355.0L391.2 354.9L389.7 354.8L388.2 354.8L386.7 354.7L385.2 354.6L383.7 354.6L382.1 354.5L380.6 354.5L379.1 354.4L377.7 354.3L377.6 354.3L376.1 354.3L374.6 354.2L373.1 354.1L371.6 354.1L370.1 354.0L368.6 354.0L367.0 353.9L365.5 353.8L364.0 353.8L362.5 353.7L361.0 353.7ZM351.8 358.2L353.3 358.1L354.9 358.0L356.4 357.8L357.9 357.7L359.4 357.6L360.9 357.6L362.4 357.5L363.9 357.5L365.5 357.4L367.0 357.4L368.5 357.4L369.3 357.4L370.0 357.4L371.5 357.5L373.0 357.5L374.5 357.6L376.1 357.7L377.6 357.8L379.1 358.0L380.6 358.1L382.1 358.3L383.6 358.4L385.1 358.6L386.0 358.7L386.7 358.7L388.2 358.9L389.7 359.0L391.2 359.2L392.7 359.4L394.2 359.5L395.7 359.7L397.2 359.9L397.2 360.8L395.7 360.8L394.2 361.0L392.7 361.1L391.2 361.2L389.7 361.3L388.2 361.4L386.7 361.5L386.0 361.6L385.1 361.7L383.6 361.8L382.1 361.9L380.6 362.1L379.1 362.3L377.6 362.4L376.1 362.6L374.5 362.8L373.0 362.9L371.5 363.1L370.0 363.2L369.3 363.2L368.5 363.3L367.0 363.4L365.5 363.6L363.9 363.7L362.4 363.8L360.9 363.9L359.4 364.0L357.9 364.1L356.4 364.2L354.9 364.3L353.3 364.4L351.8 364.5ZM364.3 366.2L365.9 366.1L367.5 366.1L369.0 366.0L370.6 366.0L372.2 365.9L373.7 365.9L375.3 365.8L376.9 365.8L377.7 365.8L378.4 365.7L380.0 365.7L381.6 365.6L383.1 365.5L384.7 365.5L386.3 365.4L387.8 365.4L389.4 365.3L391.0 365.2L392.5 365.1L394.1 365.1L395.7 365.0L397.2 364.9L397.2 369.1L395.7 369.1L394.1 369.1L392.5 369.0L391.0 369.0L389.4 368.9L387.8 368.8L386.3 368.8L384.7 368.7L383.1 368.6L381.6 368.5L380.0 368.4L378.4 368.3L377.7 368.2L376.9 368.2L375.3 368.1L373.7 367.9L372.2 367.7L370.6 367.5L369.0 367.3L367.5 367.0L365.9 366.8L364.3 366.5ZM351.8 370.5L365.2 370.8L365.2 371.2L351.8 371.6ZM351.8 374.9L353.3 374.9L354.9 374.9L356.4 374.9L357.9 374.8L359.4 374.8L360.9 374.8L362.4 374.8L363.9 374.8L365.5 374.7L367.0 374.7L368.5 374.7L370.0 374.7L371.5 374.7L373.0 374.7L373.5 374.7L374.5 374.7L376.1 374.6L377.6 374.6L379.1 374.6L380.6 374.6L382.1 374.6L383.6 374.6L385.1 374.6L386.7 374.6L388.2 374.6L389.7 374.5L391.2 374.5L392.7 374.5L394.2 374.5L395.7 374.5L397.2 374.5L397.2 380.2L395.7 380.1L394.2 380.0L392.7 379.9L391.2 379.9L389.7 379.8L388.2 379.7L386.7 379.7L385.1 379.6L383.6 379.5L382.1 379.5L380.6 379.4L379.1 379.3L377.6 379.3L376.1 379.2L374.5 379.1L373.5 379.1L373.0 379.1L371.5 379.0L370.0 378.9L368.5 378.9L367.0 378.8L365.5 378.8L363.9 378.7L362.4 378.6L360.9 378.6L359.4 378.5L357.9 378.5L356.4 378.4L354.9 378.4L353.3 378.3L351.8 378.2ZM364.3 383.2L365.9 383.3L367.5 383.3L369.0 383.3L370.6 383.3L372.1 383.4L373.7 383.4L375.3 383.5L376.0 383.5L376.8 383.5L378.4 383.6L380.0 383.7L381.5 383.8L383.1 383.9L384.6 384.0L386.2 384.2L387.8 384.3L389.3 384.5L389.3 385.0L387.8 385.0L386.2 385.0L384.6 384.9L383.1 384.9L381.5 384.9L380.0 384.8L378.4 384.8L376.8 384.7L376.0 384.7L375.3 384.6L373.7 384.5L372.1 384.4L370.6 384.3L369.0 384.1L367.5 383.9L365.9 383.7L364.3 383.5ZM351.8 384.9L367.7 385.3L367.7 385.7L351.8 386.2ZM364.3 389.7L365.9 389.6L367.5 389.5L369.0 389.4L370.6 389.3L372.2 389.2L373.7 389.2L375.3 389.1L376.9 389.1L377.7 389.1L378.5 389.1L380.0 389.1L381.6 389.0L383.2 389.0L384.7 389.0L386.3 389.0L387.9 389.0L389.4 389.0L391.0 389.0L391.0 389.5L389.4 389.7L387.9 389.8L386.3 389.9L384.7 390.1L383.2 390.2L381.6 390.2L380.0 390.3L378.5 390.3L377.7 390.3L376.9 390.3L375.3 390.3L373.7 390.3L372.2 390.3L370.6 390.3L369.0 390.2L367.5 390.2L365.9 390.1L364.3 390.0ZM364.3 389.7L365.9 389.6L367.5 389.5L369.1 389.5L370.6 389.4L372.2 389.4L373.8 389.3L375.4 389.3L376.0 389.2L376.9 389.2L378.5 389.2L380.1 389.2L381.6 389.1L383.2 389.1L384.8 389.1L386.4 389.1L387.9 389.0L389.5 389.0L391.1 389.0L392.7 389.0L392.7 389.7L391.1 389.9L389.5 390.1L387.9 390.3L386.4 390.5L384.8 390.6L383.2 390.7L381.6 390.8L380.1 390.9L378.5 390.9L376.9 390.9L376.0 390.9L375.4 390.9L373.8 390.9L372.2 390.8L370.6 390.7L369.1 390.6L367.5 390.4L365.9 390.2L364.3 390.0ZM389.3 391.7L397.2 391.3L397.2 392.6L389.3 392.2ZM351.8 393.2L353.3 393.2L354.9 393.2L356.4 393.2L357.9 393.2L359.4 393.3L360.9 393.3L362.4 393.3L363.9 393.4L365.2 393.4L365.5 393.4L367.0 393.5L368.5 393.7L370.0 393.9L371.5 394.1L373.0 394.3L374.5 394.5L376.1 394.6L377.6 394.7L377.7 394.7L379.1 394.7L380.6 394.7L382.1 394.7L383.6 394.7L385.1 394.6L386.7 394.6L388.2 394.6L389.7 394.6L391.2 394.5L392.7 394.5L394.2 394.4L395.7 394.3L397.2 394.2L397.2 395.9L395.7 396.0L394.2 396.2L392.7 396.3L391.2 396.4L389.7 396.4L388.2 396.5L386.7 396.6L385.1 396.6L383.6 396.7L382.1 396.7L380.6 396.7L379.1 396.7L377.7 396.8L377.6 396.7L376.1 396.7L374.5 396.7L373.0 396.7L371.5 396.6L370.0 396.6L368.5 396.5L367.0 396.4L365.5 396.3L365.2 396.3L363.9 396.3L362.4 396.2L360.9 396.1L359.4 396.0L357.9 395.9L356.4 395.7L354.9 395.6L353.3 395.5L351.8 395.3ZM351.8 401.8L353.3 401.7L354.9 401.7L356.4 401.7L357.9 401.7L359.4 401.6L360.9 401.6L362.4 401.6L363.9 401.6L365.5 401.5L367.0 401.5L368.5 401.5L369.3 401.5L370.0 401.5L371.5 401.5L373.0 401.5L374.5 401.4L376.1 401.4L377.6 401.4L379.1 401.4L380.6 401.4L382.1 401.4L383.6 401.4L385.1 401.3L386.0 401.3L386.7 401.3L388.2 401.3L389.7 401.3L391.2 401.3L392.7 401.2L394.2 401.2L395.7 401.2L397.2 401.2L397.2 405.7L395.7 405.7L394.2 405.8L392.7 405.9L391.2 406.0L389.7 406.1L388.2 406.2L386.7 406.3L386.0 406.3L385.1 406.4L383.6 406.5L382.1 406.7L380.6 406.8L379.1 407.0L377.6 407.2L376.1 407.3L374.5 407.5L373.0 407.7L371.5 407.8L370.0 407.9L369.3 408.0L368.5 408.1L367.0 408.2L365.5 408.3L363.9 408.4L362.4 408.5L360.9 408.7L359.4 408.8L357.9 408.9L356.4 409.0L354.9 409.1L353.3 409.2L351.8 409.2ZM351.8 417.2L353.3 417.0L354.9 416.8L356.4 416.7L357.9 416.5L359.4 416.4L360.9 416.3L362.4 416.2L363.9 416.1L365.5 416.0L367.0 415.9L368.5 415.9L369.3 415.9L370.0 415.9L371.5 415.9L373.0 415.9L374.5 416.0L376.1 416.0L377.6 416.0L379.1 416.0L380.6 416.1L382.1 416.1L383.6 416.1L385.1 416.2L386.0 416.2L386.7 416.2L388.2 416.2L389.7 416.2L391.2 416.2L392.7 416.3L394.2 416.3L395.7 416.3L397.2 416.3L397.2 416.7L395.7 416.7L394.2 416.7L392.7 416.7L391.2 416.7L389.7 416.8L388.2 416.8L386.7 416.8L386.0 416.8L385.1 416.9L383.6 416.9L382.1 416.9L380.6 417.0L379.1 417.0L377.6 417.0L376.1 417.1L374.5 417.1L373.0 417.2L371.5 417.2L370.0 417.3L369.3 417.3L368.5 417.4L367.0 417.4L365.5 417.5L363.9 417.6L362.4 417.7L360.9 417.8L359.4 418.0L357.9 418.1L356.4 418.2L354.9 418.4L353.3 418.5L351.8 418.7ZM366.0 420.3L367.6 420.2L369.1 420.1L370.7 420.1L372.2 420.0L373.8 419.9L375.4 419.8L376.9 419.7L378.5 419.6L380.1 419.6L381.6 419.5L381.8 419.5L383.2 419.4L384.8 419.4L386.3 419.3L387.9 419.3L389.4 419.2L391.0 419.2L392.6 419.1L394.1 419.1L395.7 419.0L397.2 419.0L397.2 420.2L395.7 420.2L394.1 420.2L392.6 420.3L391.0 420.3L389.4 420.4L387.9 420.4L386.3 420.4L384.8 420.5L383.2 420.5L381.8 420.5L381.6 420.5L380.1 420.5L378.5 420.5L376.9 420.6L375.4 420.6L373.8 420.6L372.2 420.6L370.7 420.6L369.1 420.6L367.6 420.7L366.0 420.7ZM355.2 423.2L369.3 423.4L369.3 423.7L355.2 423.8ZM385.2 429.0L397.2 429.0L397.2 429.7L385.2 429.7ZM351.8 431.8L371.0 432.0L371.0 432.3L351.8 432.6ZM351.8 436.2L353.3 436.2L354.9 436.2L356.4 436.1L357.9 436.1L359.4 436.1L360.9 436.1L362.4 436.1L363.9 436.1L365.5 436.1L367.0 436.1L368.5 436.1L369.3 436.1L370.0 436.1L371.5 436.1L373.0 436.1L374.5 436.1L376.1 436.1L377.6 436.0L379.1 436.0L380.6 436.0L382.1 436.0L383.6 436.0L385.1 436.0L386.0 436.0L386.7 436.0L388.2 436.0L389.7 436.0L391.2 436.0L392.7 436.0L394.2 435.9L395.7 435.9L397.2 435.9L397.2 441.3L395.7 441.4L394.2 441.4L392.7 441.5L391.2 441.5L389.7 441.6L388.2 441.6L386.7 441.7L386.0 441.8L385.1 441.8L383.6 441.9L382.1 442.0L380.6 442.1L379.1 442.2L377.6 442.4L376.1 442.5L374.5 442.6L373.0 442.8L371.5 442.9L370.0 443.0L369.3 443.0L368.5 443.0L367.0 443.1L365.5 443.2L363.9 443.3L362.4 443.3L360.9 443.4L359.4 443.4L357.9 443.5L356.4 443.6L354.9 443.6L353.3 443.6L351.8 443.7ZM366.0 447.8L367.6 447.7L369.1 447.7L370.7 447.6L372.2 447.6L373.8 447.6L375.4 447.5L376.9 447.5L378.5 447.5L380.1 447.5L381.6 447.5L381.8 447.5L383.2 447.5L384.8 447.5L386.3 447.5L387.9 447.5L389.4 447.6L391.0 447.6L392.6 447.6L394.1 447.7L395.7 447.7L397.2 447.8L397.2 448.6L395.7 448.6L394.1 448.6L392.6 448.6L391.0 448.6L389.4 448.6L387.9 448.6L386.3 448.6L384.8 448.6L383.2 448.6L381.8 448.6L381.6 448.6L380.1 448.6L378.5 448.5L376.9 448.5L375.4 448.5L373.8 448.4L372.2 448.3L370.7 448.3L369.1 448.2L367.6 448.1L366.0 448.0ZM369.3 455.2L370.9 455.2L372.4 455.2L374.0 455.2L375.5 455.2L377.1 455.2L378.6 455.2L380.2 455.2L381.7 455.2L381.8 455.2L383.3 455.2L384.8 455.2L386.4 455.2L387.9 455.2L389.5 455.1L391.0 455.1L392.6 455.0L394.1 455.0L395.7 454.9L397.2 454.8L397.2 456.9L395.7 457.0L394.1 457.1L392.6 457.2L391.0 457.2L389.5 457.3L387.9 457.3L386.4 457.3L384.8 457.3L383.3 457.3L381.8 457.3L381.7 457.3L380.2 457.3L378.6 457.2L377.1 457.0L375.5 456.8L374.0 456.5L372.4 456.2L370.9 455.8L369.3 455.5ZM351.8 456.5L367.7 456.9L367.7 457.2L351.8 457.5ZM387.7 459.0L397.2 459.0L397.2 459.8L387.7 459.8ZM374.3 462.2L375.8 462.1L377.3 462.0L378.8 461.9L380.3 461.9L381.8 461.9L383.3 461.9L384.8 462.0L386.3 462.1L387.8 462.2L389.3 462.3L389.3 462.7L387.8 462.8L386.3 462.9L384.8 463.0L383.3 463.0L381.8 463.0L380.3 463.0L378.8 462.9L377.3 462.8L375.8 462.7L374.3 462.5ZM351.8 467.3L366.8 467.8L366.8 468.2L351.8 468.6ZM372.7 468.2L374.3 467.9L376.0 467.8L376.8 467.8L377.7 467.8L379.3 467.9L381.0 468.2L381.0 468.5L379.3 468.7L377.7 468.8L376.8 468.8L376.0 468.8L374.3 468.7L372.7 468.5ZM351.8 475.0L364.3 475.4L364.3 475.7L351.8 476.0ZM361.0 479.7L362.6 479.3L364.1 479.0L365.7 478.8L367.3 478.6L368.8 478.4L370.4 478.3L372.0 478.2L373.5 478.2L374.3 478.2L375.1 478.2L376.7 478.2L378.3 478.3L379.8 478.5L381.4 478.7L383.0 479.0L384.5 479.3L386.1 479.6L387.7 480.0L387.7 480.5L386.1 480.7L384.5 480.9L383.0 481.1L381.4 481.3L379.8 481.4L378.3 481.4L376.7 481.5L375.1 481.5L374.3 481.5L373.5 481.5L372.0 481.4L370.4 481.4L368.8 481.2L367.3 481.0L365.7 480.8L364.1 480.6L362.6 480.3L361.0 480.0ZM379.3 484.8L392.7 485.2L392.7 485.4L379.3 485.7ZM351.8 490.2L353.4 489.9L354.9 489.7L356.5 489.4L358.0 489.1L359.5 488.9L361.1 488.7L362.6 488.5L364.2 488.3L365.2 488.2L365.7 488.1L367.2 487.9L368.8 487.8L370.3 487.6L371.9 487.5L373.4 487.4L375.0 487.3L376.0 487.3L376.5 487.3L378.0 487.4L379.6 487.5L381.1 487.6L382.7 487.8L382.7 488.2L381.1 488.2L379.6 488.3L378.0 488.4L376.5 488.5L376.0 488.6L375.0 488.7L373.4 488.9L371.9 489.1L370.3 489.4L368.8 489.7L367.2 489.9L365.7 490.2L365.2 490.2L364.2 490.4L362.6 490.6L361.1 490.7L359.5 490.9L358.0 491.1L356.5 491.2L354.9 491.4L353.4 491.5L351.8 491.7ZM360.2 493.3L361.8 493.0L363.5 492.7L365.2 492.4L366.8 492.2L367.7 492.2L368.5 492.1L370.2 492.0L371.8 491.9L373.5 491.9L373.5 492.3L371.8 493.0L370.2 493.6L368.5 494.0L367.7 494.0L366.8 494.0L365.2 494.0L363.5 493.9L361.8 493.8L360.2 493.7ZM371.8 494.4L373.4 493.9L375.0 493.3L376.6 492.8L378.2 492.3L379.8 492.0L381.4 491.7L382.7 491.5L383.0 491.5L384.5 491.3L386.1 491.2L387.7 491.1L389.3 490.9L390.9 490.9L392.5 490.8L394.1 490.7L395.7 490.7L397.2 490.7L397.2 493.2L395.7 493.3L394.1 493.5L392.5 493.7L390.9 493.8L389.3 494.0L387.7 494.1L386.1 494.2L384.5 494.3L383.0 494.4L382.7 494.4L381.4 494.5L379.8 494.6L378.2 494.6L376.6 494.7L375.0 494.8L373.4 494.8L371.8 494.8ZM351.8 346.0L359.8 346.3L359.8 347.0L351.8 347.3ZM351.8 396.5L358.5 396.8L358.5 397.5L351.8 397.8Z" fill="#fff" stroke="none"/>
<path clip-path="url(#c2)" d="M351.6 189.1L353.7 189.6L355.8 190.2L357.8 190.8L359.9 191.5L362.0 192.3L364.1 193.1L366.1 193.9L367.2 194.4L368.2 194.8L370.3 195.9L372.4 197.0L374.4 198.3L376.5 199.5L378.6 200.7L379.8 201.2L380.7 201.7L382.7 202.7L384.8 203.7L386.9 204.6L389.0 205.6L391.0 206.5L393.1 207.4L395.2 208.2L397.2 209.0M351.6 191.2L353.7 192.0L355.8 192.7L357.8 193.5L359.9 194.3L362.0 195.1L364.1 195.9L366.1 196.8L367.2 197.2L368.2 197.7L370.3 198.6L372.4 199.6L374.4 200.6L376.5 201.6L378.6 202.6L379.8 203.1L380.7 203.5L382.7 204.4L384.8 205.3L386.9 206.2L389.0 207.0L391.0 207.9L393.1 208.7L395.2 209.5L397.2 210.2M351.6 193.5L353.7 194.3L355.8 195.1L357.8 195.8L359.9 196.6L362.0 197.4L364.1 198.2L366.1 199.0L367.2 199.4L368.2 199.7L370.3 200.5L372.4 201.3L374.4 202.1L376.5 202.9L378.6 203.7L380.7 204.4L382.7 205.2L384.8 206.0L386.0 206.5L386.9 206.8L389.0 207.7L391.0 208.5L393.1 209.3L395.2 210.2L397.2 211.0M351.6 211.0L353.7 210.9L355.8 210.7L357.8 210.6L359.9 210.5L362.0 210.4L364.1 210.3L366.1 210.2L368.2 210.1L370.3 210.1L372.4 210.0L373.5 210.0L374.4 210.0L376.5 209.9L378.6 209.9L380.7 209.9L382.7 209.9L384.8 209.8L386.9 209.8L389.0 209.8L391.0 209.8L393.1 209.8L395.2 209.8L397.2 209.7M351.6 224.0L353.7 223.8L355.8 223.5L357.8 223.1L359.9 222.8L362.0 222.4L364.1 221.9L366.1 221.5L367.2 221.2L368.2 221.0L370.3 220.5L372.4 219.8L374.4 219.2L376.5 218.5L378.6 217.8L379.8 217.5L380.7 217.2L382.7 216.7L384.8 216.1L386.9 215.5L389.0 215.0L391.0 214.4L393.1 213.9L395.2 213.4L397.2 212.9M351.6 226.5L353.7 226.3L355.8 226.1L357.8 225.8L359.9 225.4L362.0 225.1L364.1 224.7L366.1 224.2L367.2 224.0L368.2 223.8L370.3 223.2L372.4 222.6L374.4 221.9L376.5 221.2L378.6 220.6L379.8 220.2L380.7 220.0L382.7 219.4L384.8 218.8L386.9 218.3L389.0 217.7L391.0 217.2L393.1 216.7L395.2 216.1L397.2 215.6M351.6 225.2L353.7 225.0L355.8 224.7L357.8 224.4L359.9 224.0L362.0 223.6L364.1 223.2L366.1 222.7L367.2 222.5L368.2 222.3L370.3 221.7L372.4 221.1L374.4 220.4L376.5 219.7L378.6 219.1L379.8 218.8L380.7 218.5L382.7 217.9L384.8 217.4L386.9 216.9L389.0 216.3L391.0 215.8L393.1 215.3L395.2 214.8L397.2 214.4M351.6 232.1L397.2 232.1M351.6 238.8L397.2 238.5M351.6 250.6L397.2 250.6M351.5 283.2L353.6 283.0L355.7 282.9L357.8 282.8L359.9 282.6L361.9 282.5L364.0 282.3L366.1 282.2L368.2 282.0L370.0 281.9L370.2 281.9L372.3 281.8L374.4 281.6L376.5 281.5L378.5 281.3L380.6 281.2L382.7 281.1L384.6 281.0L384.8 280.9L386.8 280.8L388.9 280.8L391.0 280.7L393.1 280.6L395.1 280.5L397.2 280.5M351.5 284.8L353.6 284.7L355.7 284.6L357.8 284.5L359.9 284.4L361.9 284.3L364.0 284.1L366.1 284.0L368.2 283.9L370.0 283.9L370.2 283.9L372.3 283.8L374.4 283.7L376.5 283.6L378.5 283.5L380.6 283.4L382.7 283.4L384.8 283.3L386.8 283.2L388.9 283.1L391.0 283.1L393.1 283.0L395.1 282.9L397.2 282.9M351.5 286.8L353.6 286.8L355.7 286.7L357.8 286.7L359.9 286.7L361.9 286.6L364.0 286.6L366.1 286.5L368.2 286.5L370.2 286.4L372.3 286.4L374.4 286.3L374.9 286.3L376.5 286.2L378.5 286.2L380.6 286.1L382.7 286.0L384.8 285.9L386.8 285.8L388.9 285.8L391.0 285.6L393.1 285.5L395.1 285.4L397.2 285.3M351.5 288.2L353.6 288.2L355.7 288.2L357.8 288.2L359.9 288.2L361.9 288.2L364.0 288.2L366.1 288.1L368.2 288.1L370.2 288.1L372.3 288.1L374.4 288.1L374.9 288.0L376.5 288.0L378.5 288.0L380.6 287.9L382.7 287.9L384.8 287.8L386.8 287.8L388.9 287.7L391.0 287.7L393.1 287.6L395.1 287.5L397.2 287.5M351.5 293.1L397.2 292.9M351.5 294.6L353.6 294.6L355.7 294.6L357.8 294.6L359.9 294.6L361.9 294.6L364.0 294.6L366.1 294.6L368.2 294.6L370.2 294.6L372.3 294.6L374.4 294.6L374.9 294.6L376.5 294.6L378.5 294.6L380.6 294.6L382.7 294.6L384.8 294.6L386.8 294.6L388.9 294.6L391.0 294.6L393.1 294.6L395.1 294.6L397.2 294.6M351.5 296.0L353.6 296.1L355.7 296.1L357.8 296.1L359.9 296.2L361.9 296.2L364.0 296.3L366.1 296.3L368.2 296.4L370.2 296.4L372.3 296.4L374.4 296.5L374.9 296.5L376.5 296.5L378.5 296.6L380.6 296.6L382.7 296.7L384.8 296.7L386.8 296.8L388.9 296.8L391.0 296.8L393.1 296.9L395.1 296.9L397.2 297.0M351.5 296.5L353.6 296.6L355.7 296.6L357.8 296.7L359.9 296.8L361.9 296.8L364.0 296.9L366.1 297.0L368.2 297.1L370.0 297.2L370.2 297.2L372.3 297.3L374.4 297.4L376.5 297.5L378.5 297.6L380.6 297.7L382.7 297.8L384.6 298.0L384.8 298.0L386.8 298.1L388.9 298.2L391.0 298.3L393.1 298.5L395.1 298.6L397.2 298.7M351.5 308.2L353.6 307.9L355.7 307.7L357.8 307.4L359.9 307.2L361.9 307.0L364.0 306.8L365.2 306.7L366.1 306.6L368.2 306.5L370.2 306.3L372.3 306.1L374.4 306.0L376.5 305.9L378.5 305.8L379.7 305.7L380.6 305.7L382.7 305.6L384.8 305.5L386.8 305.5L388.9 305.4L391.0 305.3L393.1 305.3L395.1 305.3L397.2 305.2M351.5 309.6L353.6 309.5L355.7 309.4L357.8 309.2L359.9 309.1L361.9 308.9L364.0 308.7L365.2 308.6L366.1 308.6L368.2 308.4L370.2 308.1L372.3 307.9L374.4 307.6L376.5 307.4L378.5 307.3L379.7 307.2L380.6 307.2L382.7 307.1L384.8 307.0L386.8 306.9L388.9 306.8L391.0 306.8L393.1 306.7L395.1 306.7L397.2 306.7M351.5 310.6L353.6 310.5L355.7 310.5L357.8 310.4L359.9 310.3L361.9 310.2L364.0 310.2L365.2 310.1L366.1 310.1L368.2 310.0L370.2 309.9L372.3 309.8L374.4 309.6L374.9 309.6L376.5 309.5L378.5 309.4L380.6 309.3L382.7 309.2L384.8 309.0L386.8 308.9L388.9 308.8L391.0 308.6L393.1 308.5L395.1 308.3L397.2 308.2M351.5 312.5L353.6 312.7L355.7 312.8L357.8 312.9L359.9 313.1L361.9 313.2L364.0 313.4L365.2 313.5L366.1 313.6L368.2 313.8L370.2 314.0L372.3 314.3L374.4 314.5L376.5 314.7L378.5 314.9L379.7 315.0L380.6 315.0L382.7 315.1L384.8 315.2L386.8 315.3L388.9 315.3L391.0 315.4L393.1 315.4L395.1 315.4L397.2 315.4M351.5 309.8L353.6 310.0L355.7 310.1L357.8 310.3L359.9 310.5L361.9 310.7L364.0 310.9L365.2 311.1L366.1 311.2L368.2 311.5L370.2 311.8L372.3 312.2L374.4 312.6L376.5 312.9L378.5 313.2L379.7 313.3L380.6 313.4L382.7 313.6L384.8 313.8L386.8 313.9L388.9 314.1L391.0 314.2L393.1 314.3L395.1 314.4L397.2 314.5M351.8 519.0L353.9 519.4L356.0 519.9L358.0 520.3L360.1 520.6L362.2 521.0L364.2 521.4L365.2 521.5L366.3 521.7L368.3 521.9L370.4 522.2L372.5 522.4L374.5 522.6L376.6 523.0L377.7 523.2L378.7 523.4L380.7 524.1L382.8 525.0L384.9 525.7L386.0 526.1L386.9 526.3L389.0 526.8L391.1 527.3L393.1 527.7L395.2 528.1L397.2 528.3M351.8 516.5L353.9 516.9L356.0 517.3L358.0 517.6L360.1 518.0L362.2 518.4L364.2 518.8L365.2 519.0L366.3 519.2L368.3 519.6L370.4 520.0L372.5 520.4L374.5 520.8L376.6 521.2L377.7 521.5L378.7 521.8L380.7 522.4L382.8 523.1L384.9 523.7L386.0 524.0L386.9 524.2L389.0 524.7L391.1 525.1L393.1 525.6L395.2 525.9L397.2 526.2M351.8 514.0L353.9 514.1L356.0 514.3L358.0 514.6L360.1 514.9L362.2 515.2L364.2 515.5L365.2 515.7L366.3 515.9L368.3 516.4L370.4 517.0L372.5 517.6L374.5 518.2L376.6 518.8L377.7 519.0L378.7 519.2L380.7 519.7L382.8 520.1L384.9 520.5L386.9 520.9L389.0 521.2L391.1 521.6L393.1 521.9L395.2 522.2L397.2 522.5M351.8 511.9L353.9 512.1L356.0 512.3L358.0 512.5L360.1 512.8L362.2 513.1L364.2 513.4L365.2 513.6L366.3 513.8L368.3 514.2L370.4 514.8L372.5 515.3L374.5 515.8L376.6 516.3L377.7 516.5L378.7 516.7L380.7 517.0L382.8 517.4L384.9 517.7L386.9 518.0L389.0 518.3L391.1 518.5L393.1 518.8L395.2 519.0L397.2 519.2M351.8 509.4L353.9 509.7L356.0 510.0L358.0 510.4L360.1 510.7L362.2 511.0L364.2 511.3L365.2 511.5L366.3 511.7L368.3 512.1L370.4 512.5L372.5 512.8L374.5 513.2L376.6 513.5L377.7 513.6L378.7 513.7L380.7 513.9L382.8 514.1L384.9 514.2L386.9 514.4L389.0 514.5L391.1 514.7L393.1 514.8L395.2 514.8L397.2 514.8M351.8 507.3L353.9 507.7L356.0 508.1L358.0 508.4L360.1 508.7L362.2 509.0L364.2 509.3L365.2 509.4L366.3 509.6L368.3 509.8L370.4 510.0L372.5 510.2L374.5 510.4L376.6 510.6L377.7 510.7L378.7 510.7L380.7 510.9L382.8 511.0L384.9 511.1L386.9 511.2L389.0 511.3L391.1 511.4L393.1 511.4L395.2 511.5L397.2 511.5M351.8 503.2L353.9 503.4L356.0 503.8L358.0 504.1L360.1 504.5L362.2 505.0L364.2 505.4L365.2 505.7L366.3 506.0L368.3 506.8L370.4 507.5L372.5 508.1L373.5 508.2L374.5 508.2L376.6 508.2L378.7 508.2L380.7 508.3L382.8 508.3L384.9 508.3L386.9 508.3L389.0 508.3L391.1 508.3L393.1 508.3L395.2 508.3L397.2 508.3M351.8 500.7L353.9 501.1L356.0 501.5L358.0 501.8L360.1 502.2L361.0 502.3L362.2 502.5L364.2 502.8L366.3 503.1L368.3 503.4L370.4 503.6L372.5 503.9L373.5 504.0L374.5 504.1L376.6 504.3L378.7 504.5L380.7 504.7L382.8 504.9L384.9 505.1L386.0 505.2L386.9 505.3L389.0 505.6L391.1 505.8L393.1 506.0L395.2 506.3L397.2 506.5M351.8 498.2L353.9 498.2L356.0 498.2L358.0 498.2L360.1 498.2L362.2 498.2L364.2 498.2L365.2 498.2L366.3 498.3L368.3 499.2L370.4 500.5L372.5 501.6L373.5 501.9L374.5 502.1L376.6 502.6L378.7 502.9L380.7 503.3L382.8 503.6L384.9 503.9L386.9 504.2L389.0 504.4L391.1 504.6L393.1 504.7L395.2 504.8L397.2 504.8M351.8 504.8L353.9 504.7L356.0 504.6L358.0 504.3L360.1 504.0L362.2 503.7L364.2 503.3L365.2 503.2L366.3 502.9L368.3 502.3L370.4 501.6L372.5 500.9L373.5 500.7L374.5 500.4L376.6 499.9L378.7 499.5L380.7 499.1L381.8 499.0L382.8 498.9L384.9 498.6L386.9 498.4L389.0 498.2L391.1 498.0L393.1 497.9L395.2 497.8L397.2 497.8M351.8 496.5L397.2 495.7M351.8 499.0L353.9 499.5L356.0 500.0L358.0 500.5L360.1 500.9L361.0 501.1L362.2 501.3L364.2 501.7L366.3 502.1L368.3 502.3L369.3 502.3L370.4 502.3L372.5 502.0L374.5 501.5L376.6 500.9L377.7 500.7L378.7 500.4L380.7 499.9L382.8 499.3L384.9 498.8L386.0 498.6L386.9 498.4L389.0 498.1L391.1 497.9L393.1 497.6L395.2 497.4L397.2 497.3" fill="none" stroke="#f00" stroke-width="2.08" stroke-linejoin="round"/>
<path clip-path="url(#c3)" d="M412.5 346.2L414.0 346.3L415.5 346.3L417.1 346.4L418.6 346.4L420.1 346.5L421.6 346.5L423.1 346.5L424.7 346.6L426.2 346.6L427.7 346.6L429.2 346.7L430.7 346.7L432.3 346.7L433.8 346.7L435.0 346.8L435.3 346.8L436.8 346.8L438.3 346.8L439.9 346.8L441.4 346.8L442.9 346.9L444.4 346.9L445.9 346.9L447.5 346.9L449.0 346.9L450.5 346.9L451.7 346.9L452.0 346.9L453.5 346.9L455.0 346.8L456.6 346.7L458.1 346.5L459.6 346.4L461.1 346.2L462.6 346.0L464.2 345.9L465.7 345.8L467.2 345.7L468.7 345.5L470.2 345.4L471.8 345.3L473.3 345.2L474.8 345.1L476.3 345.1L476.7 345.1L477.8 345.1L479.4 345.1L480.9 345.1L482.4 345.1L483.9 345.1L485.4 345.1L487.0 345.1L488.5 345.1L490.0 345.2L490.0 505.3L488.5 505.3L487.0 505.3L485.4 505.3L483.9 505.3L482.4 505.3L480.9 505.3L479.4 505.3L477.8 505.3L476.7 505.3L476.3 505.3L474.8 505.3L473.3 505.3L471.8 505.3L470.2 505.3L468.7 505.3L467.2 505.3L465.7 505.3L464.2 505.3L462.6 505.3L461.1 505.3L459.6 505.3L458.1 505.3L456.6 505.3L455.0 505.3L453.5 505.3L452.0 505.3L451.7 505.3L450.5 505.3L449.0 505.3L447.5 505.3L445.9 505.3L444.4 505.3L442.9 505.3L441.4 505.3L439.9 505.3L438.3 505.3L436.8 505.3L435.3 505.3L435.0 505.3L433.8 505.3L432.3 505.3L430.7 505.3L429.2 505.3L427.7 505.3L426.2 505.3L424.7 505.3L423.1 505.3L421.6 505.3L420.1 505.3L418.6 505.3L417.1 505.3L415.5 505.3L414.0 505.3L412.5 505.3ZM486.0 345.1L566.0 345.1L566.0 505.3L486.0 505.3ZM562.0 345.1L563.5 345.1L565.0 345.1L566.5 345.1L568.0 345.1L569.5 345.1L571.1 345.1L572.6 345.1L574.1 345.1L575.6 345.1L577.1 345.2L578.6 345.2L580.1 345.2L581.6 345.2L583.1 345.2L584.6 345.2L586.2 345.2L587.7 345.2L589.2 345.2L590.7 345.3L592.2 345.3L593.7 345.3L595.2 345.3L596.7 345.3L598.2 345.3L599.7 345.3L601.2 345.3L602.8 345.4L604.3 345.4L605.8 345.4L607.3 345.4L608.8 345.4L609.0 345.4L610.3 345.4L611.8 345.4L613.3 345.5L614.8 345.5L616.3 345.5L617.8 345.5L619.4 345.5L620.9 345.5L622.4 345.6L623.9 345.6L625.4 345.6L626.9 345.6L628.4 345.7L628.7 345.7L629.9 345.7L631.4 345.8L632.9 345.9L634.5 346.0L636.0 346.1L637.5 346.3L639.0 346.4L640.5 346.6L642.0 346.8L642.0 505.3L640.5 505.3L639.0 505.3L637.5 505.3L636.0 505.3L634.5 505.3L632.9 505.3L631.4 505.3L629.9 505.3L628.7 505.3L628.4 505.3L626.9 505.3L625.4 505.3L623.9 505.3L622.4 505.3L620.9 505.3L619.4 505.3L617.8 505.3L616.3 505.3L614.8 505.3L613.3 505.3L611.8 505.3L610.3 505.3L609.0 505.3L608.8 505.3L607.3 505.3L605.8 505.3L604.3 505.3L602.8 505.3L601.2 505.3L599.7 505.3L598.2 505.3L596.7 505.3L595.2 505.3L593.7 505.3L592.2 505.3L590.7 505.3L589.2 505.3L587.7 505.3L586.2 505.3L584.6 505.3L583.1 505.3L581.6 505.3L580.1 505.3L578.6 505.3L577.1 505.3L575.6 505.3L574.1 505.3L572.6 505.3L571.1 505.3L569.5 505.3L568.0 505.3L566.5 505.3L565.0 505.3L563.5 505.3L562.0 505.3ZM638.0 346.5L639.5 346.8L641.0 347.0L642.6 347.3L644.1 347.5L645.6 347.7L647.1 347.8L648.6 348.0L650.2 348.1L651.7 348.1L653.2 348.2L654.0 348.2L654.7 348.2L656.2 348.1L657.8 348.1L659.3 348.0L660.8 347.9L662.3 347.8L663.8 347.6L665.4 347.5L666.9 347.4L668.4 347.3L669.9 347.2L671.3 347.1L671.4 347.1L673.0 347.0L674.5 346.9L676.0 346.8L677.5 346.7L679.0 346.6L680.6 346.5L682.1 346.5L683.6 346.4L685.1 346.3L686.6 346.2L688.2 346.2L689.7 346.1L691.2 346.1L692.2 346.1L692.7 346.1L694.2 346.1L695.8 346.0L697.3 346.0L698.8 346.0L700.3 346.0L701.8 346.0L703.4 346.0L704.9 346.0L706.4 345.9L707.9 345.9L709.4 345.9L711.0 345.9L712.5 345.9L714.0 345.9L714.0 505.3L712.5 505.3L711.0 505.3L709.4 505.3L707.9 505.3L706.4 505.3L704.9 505.3L703.4 505.3L701.8 505.3L700.3 505.3L698.8 505.3L697.3 505.3L695.8 505.3L694.2 505.3L692.7 505.3L692.2 505.3L691.2 505.3L689.7 505.3L688.2 505.3L686.6 505.3L685.1 505.3L683.6 505.3L682.1 505.3L680.6 505.3L679.0 505.3L677.5 505.3L676.0 505.3L674.5 505.3L673.0 505.3L671.4 505.3L671.3 505.3L669.9 505.3L668.4 505.3L666.9 505.3L665.4 505.3L663.8 505.3L662.3 505.3L660.8 505.3L659.3 505.3L657.8 505.3L656.2 505.3L654.7 505.3L654.0 505.3L653.2 505.3L651.7 505.3L650.2 505.3L648.6 505.3L647.1 505.3L645.6 505.3L644.1 505.3L642.6 505.3L641.0 505.3L639.5 505.3L638.0 505.3ZM486.0 503.5L566.0 503.5L566.0 513.9L486.0 513.9Z" fill="#f00" stroke="none"/>
<path clip-path="url(#c3)" d="M412.5 349.1L414.0 349.1L415.6 349.1L417.1 349.1L418.7 349.1L420.2 349.1L421.8 349.1L423.3 349.1L424.8 349.1L426.4 349.1L427.9 349.1L429.5 349.1L430.8 349.1L431.0 349.1L432.5 349.1L434.1 349.1L435.6 349.2L437.2 349.2L438.7 349.3L440.2 349.4L441.8 349.4L443.3 349.5L443.3 349.8L441.8 350.1L440.2 350.3L438.7 350.6L437.2 350.8L435.6 351.0L434.1 351.1L432.5 351.3L431.0 351.3L430.8 351.3L429.5 351.4L427.9 351.4L426.4 351.4L424.8 351.5L423.3 351.5L421.8 351.5L420.2 351.5L418.7 351.6L417.1 351.6L415.6 351.6L414.0 351.6L412.5 351.6ZM445.0 351.3L446.5 351.0L448.0 350.7L449.5 350.4L451.0 350.2L452.5 349.9L454.0 349.7L455.5 349.5L457.0 349.3L458.5 349.2L460.0 349.1L461.5 349.0L463.0 349.0L464.5 348.9L466.0 348.9L467.5 348.8L469.0 348.8L470.5 348.7L472.0 348.7L473.5 348.7L475.0 348.7L476.5 348.7L476.7 348.7L478.0 348.7L479.5 348.7L481.0 348.7L482.5 348.7L484.0 348.7L485.5 348.7L487.0 348.7L488.5 348.7L490.0 348.7L490.0 351.7L488.5 351.7L487.0 351.7L485.5 351.7L484.0 351.7L482.5 351.8L481.0 351.8L479.5 351.8L478.0 351.8L476.7 351.8L476.5 351.8L475.0 351.9L473.5 351.9L472.0 351.9L470.5 351.9L469.0 351.9L467.5 351.9L466.0 352.0L464.5 352.0L463.0 352.0L461.5 352.0L460.0 352.0L458.5 352.0L457.0 352.0L455.5 352.0L454.0 351.9L452.5 351.9L451.0 351.9L449.5 351.8L448.0 351.8L446.5 351.7L445.0 351.7ZM417.5 356.2L419.0 356.1L420.5 356.0L422.1 355.9L423.6 355.8L425.1 355.7L426.6 355.7L428.1 355.6L429.6 355.5L431.2 355.5L432.7 355.4L434.2 355.4L435.7 355.4L437.2 355.3L438.8 355.3L439.2 355.3L440.3 355.3L441.8 355.3L443.3 355.3L444.8 355.3L446.3 355.3L447.9 355.3L449.4 355.3L450.9 355.3L452.4 355.3L453.9 355.3L455.4 355.3L457.0 355.3L458.5 355.3L460.0 355.3L460.0 355.7L458.5 355.7L457.0 355.8L455.4 355.8L453.9 355.8L452.4 355.9L450.9 355.9L449.4 355.9L447.9 356.0L446.3 356.0L444.8 356.1L443.3 356.1L441.8 356.1L440.3 356.1L439.2 356.2L438.8 356.2L437.2 356.2L435.7 356.2L434.2 356.3L432.7 356.3L431.2 356.3L429.6 356.3L428.1 356.4L426.6 356.4L425.1 356.4L423.6 356.4L422.1 356.4L420.5 356.5L419.0 356.5L417.5 356.5ZM426.7 359.1L428.2 359.0L429.7 358.9L431.2 358.8L432.7 358.7L434.2 358.6L435.7 358.6L437.2 358.5L438.7 358.4L440.2 358.4L441.7 358.3L443.3 358.3L443.3 358.2L444.8 358.2L446.3 358.1L447.8 358.1L449.3 358.0L450.8 358.0L452.3 358.0L453.8 357.9L455.3 357.9L456.8 357.9L458.3 357.8L459.8 357.8L460.0 357.8L461.3 357.8L462.9 357.9L464.4 357.9L465.9 358.0L467.4 358.1L468.9 358.1L470.4 358.2L471.9 358.3L473.4 358.4L474.9 358.4L476.4 358.5L476.7 358.5L477.9 358.5L479.4 358.6L481.0 358.6L482.5 358.7L484.0 358.7L485.5 358.7L487.0 358.8L488.5 358.8L490.0 358.8L490.0 360.8L488.5 360.7L487.0 360.6L485.5 360.5L484.0 360.5L482.5 360.4L481.0 360.4L479.4 360.4L477.9 360.3L476.7 360.3L476.4 360.3L474.9 360.3L473.4 360.4L471.9 360.4L470.4 360.5L468.9 360.5L467.4 360.6L465.9 360.6L464.4 360.7L462.9 360.7L461.3 360.7L460.0 360.8L459.8 360.7L458.3 360.7L456.8 360.7L455.3 360.7L453.8 360.7L452.3 360.6L450.8 360.6L449.3 360.5L447.8 360.5L446.3 360.4L444.8 360.4L443.3 360.3L443.3 360.3L441.7 360.3L440.2 360.2L438.7 360.1L437.2 360.1L435.7 360.0L434.2 359.9L432.7 359.8L431.2 359.7L429.7 359.6L428.2 359.4L426.7 359.3ZM437.5 363.5L439.0 363.5L440.6 363.5L442.1 363.5L443.6 363.5L445.2 363.5L446.7 363.5L448.2 363.5L449.8 363.5L450.0 363.5L451.3 363.5L452.9 363.5L454.4 363.5L455.9 363.5L457.5 363.5L459.0 363.4L460.5 363.4L462.1 363.4L463.6 363.4L465.1 363.4L466.7 363.3L466.7 363.7L465.1 364.1L463.6 364.4L462.1 364.8L460.5 365.0L459.0 365.2L457.5 365.4L455.9 365.5L454.4 365.6L452.9 365.7L451.3 365.7L450.0 365.8L449.8 365.7L448.2 365.7L446.7 365.6L445.2 365.4L443.6 365.1L442.1 364.8L440.6 364.5L439.0 364.1L437.5 363.7ZM412.5 365.2L414.0 365.2L415.6 365.2L417.1 365.2L418.7 365.2L420.2 365.2L421.8 365.2L423.3 365.3L424.8 365.3L426.4 365.3L426.7 365.3L427.9 365.4L429.5 365.5L431.0 365.7L432.5 365.9L434.1 366.1L435.6 366.4L437.2 366.5L437.5 366.6L438.7 366.7L440.2 366.9L441.8 367.0L443.3 367.2L443.3 367.5L441.8 367.6L440.2 367.7L438.7 367.8L437.5 367.8L437.2 367.9L435.6 368.0L434.1 368.1L432.5 368.2L431.0 368.3L429.5 368.4L427.9 368.6L426.7 368.7L426.4 368.7L424.8 368.8L423.3 368.9L421.8 369.1L420.2 369.2L418.7 369.4L417.1 369.5L415.6 369.6L414.0 369.8L412.5 369.9ZM457.5 367.2L459.0 366.9L460.6 366.6L462.1 366.3L463.7 366.0L465.2 365.8L466.8 365.5L468.3 365.3L469.9 365.1L471.4 364.9L473.0 364.7L474.5 364.5L476.1 364.3L477.6 364.2L479.2 364.1L480.7 364.1L480.8 364.1L482.3 364.1L483.8 364.1L485.4 364.1L486.9 364.1L488.5 364.1L490.0 364.1L490.0 369.7L488.5 369.7L486.9 369.6L485.4 369.6L483.8 369.6L482.3 369.5L480.8 369.5L480.7 369.5L479.2 369.4L477.6 369.4L476.1 369.3L474.5 369.2L473.0 369.0L471.4 368.9L469.9 368.8L468.3 368.7L466.8 368.5L465.2 368.4L463.7 368.2L462.1 368.1L460.6 367.9L459.0 367.7L457.5 367.5ZM437.5 370.3L439.0 370.1L440.6 369.8L442.1 369.6L443.6 369.4L445.1 369.3L446.7 369.2L448.2 369.1L449.7 369.1L450.0 369.1L451.2 369.1L452.8 369.1L454.3 369.2L455.8 369.2L457.4 369.3L458.9 369.4L460.4 369.6L461.9 369.7L463.5 369.9L465.0 370.2L465.0 370.5L463.5 370.5L461.9 370.5L460.4 370.5L458.9 370.5L457.4 370.5L455.8 370.5L454.3 370.5L452.8 370.5L451.2 370.5L450.0 370.5L449.7 370.5L448.2 370.5L446.7 370.5L445.1 370.5L443.6 370.6L442.1 370.6L440.6 370.6L439.0 370.6L437.5 370.7ZM412.5 375.3L414.0 375.3L415.5 375.2L417.0 375.1L418.5 375.1L420.0 375.0L421.6 375.0L423.1 375.0L424.6 375.0L426.1 374.9L427.6 374.9L429.1 374.9L430.6 374.9L432.1 374.9L433.6 374.9L435.0 374.9L435.1 374.9L436.6 374.9L438.2 375.0L439.7 375.0L441.2 375.1L442.7 375.2L444.2 375.3L445.7 375.4L447.2 375.5L448.7 375.6L450.2 375.7L451.7 375.8L453.2 376.0L454.8 376.1L455.8 376.2L456.3 376.2L457.8 376.3L459.3 376.5L460.8 376.6L462.3 376.8L463.8 376.9L465.3 377.1L466.8 377.2L468.3 377.4L468.3 377.7L466.8 377.7L465.3 377.7L463.8 377.8L462.3 377.8L460.8 377.8L459.3 377.8L457.8 377.8L456.3 377.8L455.8 377.8L454.8 377.8L453.2 377.8L451.7 377.8L450.2 377.8L448.7 377.8L447.2 377.8L445.7 377.8L444.2 377.8L442.7 377.8L441.2 377.8L439.7 377.8L438.2 377.8L436.6 377.8L435.1 377.8L435.0 377.8L433.6 377.8L432.1 377.8L430.6 377.8L429.1 377.8L427.6 377.9L426.1 377.9L424.6 377.9L423.1 377.9L421.6 377.9L420.0 377.9L418.5 377.9L417.0 377.9L415.5 378.0L414.0 378.0L412.5 378.0ZM457.5 374.7L459.0 374.6L460.6 374.5L462.1 374.5L463.7 374.4L465.2 374.3L466.8 374.3L468.3 374.2L469.9 374.2L471.4 374.1L472.5 374.1L473.0 374.1L474.5 374.0L476.1 374.0L477.6 373.9L479.2 373.9L480.7 373.9L482.3 373.8L483.8 373.8L485.4 373.8L486.9 373.7L488.5 373.7L490.0 373.7L490.0 375.8L488.5 375.8L486.9 375.8L485.4 375.8L483.8 375.8L482.3 375.8L480.7 375.8L479.2 375.8L477.6 375.8L476.1 375.8L474.5 375.8L473.0 375.8L472.5 375.8L471.4 375.7L469.9 375.7L468.3 375.6L466.8 375.6L465.2 375.5L463.7 375.4L462.1 375.3L460.6 375.2L459.0 375.1L457.5 375.0ZM415.0 380.5L437.5 380.7L437.5 380.9L415.0 381.0ZM445.8 382.2L447.3 382.0L448.9 381.9L450.4 381.7L451.9 381.6L453.4 381.4L454.9 381.3L456.4 381.3L458.0 381.2L459.5 381.2L460.0 381.2L461.0 381.2L462.5 381.2L464.0 381.2L465.5 381.2L467.0 381.2L468.6 381.2L470.1 381.2L471.6 381.2L473.1 381.2L474.6 381.2L476.1 381.3L477.7 381.3L479.2 381.3L479.2 381.8L477.7 381.8L476.1 381.8L474.6 381.8L473.1 381.9L471.6 381.9L470.1 381.9L468.6 381.9L467.0 381.9L465.5 381.9L464.0 381.9L462.5 382.0L461.0 382.0L460.0 382.0L459.5 382.0L458.0 382.0L456.4 382.1L454.9 382.1L453.4 382.2L451.9 382.2L450.4 382.3L448.9 382.4L447.3 382.4L445.8 382.5ZM441.7 385.3L443.2 385.3L444.7 385.2L446.2 385.1L447.7 385.1L449.2 385.0L450.7 385.0L452.2 384.9L453.8 384.9L455.3 384.8L456.8 384.8L458.3 384.8L459.8 384.7L461.3 384.7L462.8 384.7L464.3 384.7L465.8 384.7L467.3 384.7L468.3 384.7L468.9 384.7L470.4 384.7L471.9 384.7L473.4 384.7L474.9 384.7L476.4 384.7L477.9 384.7L479.4 384.7L480.9 384.7L482.4 384.8L484.0 384.8L485.5 384.8L487.0 384.8L488.5 384.9L490.0 384.9L490.0 386.6L488.5 386.5L487.0 386.5L485.5 386.4L484.0 386.4L482.4 386.3L480.9 386.3L479.4 386.3L477.9 386.2L476.4 386.2L474.9 386.1L473.4 386.1L471.9 386.1L470.4 386.0L468.9 386.0L468.3 386.0L467.3 386.0L465.8 386.0L464.3 385.9L462.8 385.9L461.3 385.9L459.8 385.9L458.3 385.8L456.8 385.8L455.3 385.8L453.8 385.8L452.2 385.8L450.7 385.7L449.2 385.7L447.7 385.7L446.2 385.7L444.7 385.7L443.2 385.7L441.7 385.7ZM415.0 387.0L435.0 386.3L435.0 386.8L415.0 388.0ZM486.0 349.1L487.5 349.1L489.0 349.1L490.6 349.1L492.1 349.1L493.6 349.1L495.1 349.1L496.7 349.1L498.2 349.1L499.7 349.1L501.2 349.1L502.8 349.1L504.3 349.1L505.8 349.1L507.3 349.1L508.9 349.1L510.4 349.1L511.0 349.1L511.9 349.1L513.4 349.1L515.0 349.2L516.5 349.2L518.0 349.3L519.5 349.4L521.0 349.5L522.6 349.6L524.1 349.7L525.6 349.8L527.1 349.9L527.7 349.9L528.7 350.0L530.2 350.0L531.7 350.1L533.2 350.2L534.8 350.3L536.3 350.3L537.8 350.4L539.3 350.5L539.3 350.8L537.8 350.9L536.3 351.0L534.8 351.0L533.2 351.1L531.7 351.2L530.2 351.2L528.7 351.3L527.7 351.3L527.1 351.4L525.6 351.4L524.1 351.5L522.6 351.6L521.0 351.7L519.5 351.7L518.0 351.8L516.5 351.9L515.0 351.9L513.4 352.0L511.9 352.0L511.0 352.0L510.4 352.0L508.9 352.0L507.3 352.0L505.8 352.0L504.3 352.0L502.8 352.0L501.2 352.0L499.7 352.0L498.2 352.0L496.7 352.0L495.1 352.0L493.6 351.9L492.1 351.9L490.6 351.9L489.0 351.9L487.5 351.9L486.0 351.8ZM541.0 348.3L542.6 348.2L544.1 348.0L545.7 347.9L547.2 347.8L548.8 347.7L550.4 347.7L551.9 347.7L552.7 347.7L553.5 347.7L555.1 347.7L556.6 347.7L558.2 347.8L559.8 347.8L561.3 347.9L562.9 348.0L564.4 348.1L566.0 348.2L566.0 349.5L564.4 349.4L562.9 349.2L561.3 349.1L559.8 349.0L558.2 348.8L556.6 348.8L555.1 348.7L553.5 348.7L552.7 348.7L551.9 348.7L550.4 348.7L548.8 348.7L547.2 348.7L545.7 348.7L544.1 348.7L542.6 348.7L541.0 348.7ZM532.7 355.5L534.2 355.4L535.7 355.3L537.2 355.2L538.7 355.2L540.2 355.1L541.8 355.0L543.3 355.0L544.8 355.0L546.3 354.9L547.8 354.9L548.5 354.9L549.3 354.9L550.8 354.9L552.4 354.9L553.9 354.9L555.4 354.9L556.9 354.9L558.4 355.0L559.9 355.0L561.5 355.0L563.0 355.1L564.5 355.1L566.0 355.2L566.0 356.2L564.5 356.2L563.0 356.2L561.5 356.2L559.9 356.2L558.4 356.2L556.9 356.2L555.4 356.2L553.9 356.2L552.4 356.2L550.8 356.2L549.3 356.2L548.5 356.2L547.8 356.2L546.3 356.2L544.8 356.1L543.3 356.1L541.8 356.1L540.2 356.1L538.7 356.0L537.2 356.0L535.7 355.9L534.2 355.9L532.7 355.8ZM486.0 358.2L487.5 358.1L489.0 357.9L490.5 357.8L492.0 357.6L493.5 357.5L495.1 357.4L496.6 357.3L498.1 357.2L499.6 357.1L501.1 357.0L502.6 357.0L502.7 357.0L504.1 357.0L505.6 357.0L507.1 356.9L508.6 356.9L510.2 356.9L511.7 356.9L513.2 356.9L514.7 356.8L516.2 356.8L517.7 356.8L519.2 356.8L519.3 356.8L520.7 356.8L522.2 356.9L523.7 356.9L525.2 357.0L526.8 357.1L528.3 357.2L529.8 357.3L531.3 357.5L532.8 357.6L534.3 357.7L535.8 357.8L536.0 357.8L537.3 357.9L538.8 358.1L540.3 358.3L541.8 358.4L543.4 358.5L544.3 358.5L544.9 358.5L546.4 358.5L547.9 358.5L549.4 358.4L550.9 358.4L552.4 358.3L553.9 358.3L555.4 358.3L556.8 358.2L556.9 358.3L558.5 358.3L560.0 358.3L561.5 358.4L563.0 358.5L564.5 358.6L566.0 358.7L566.0 362.8L564.5 363.0L563.0 363.1L561.5 363.3L560.0 363.4L558.5 363.5L556.9 363.7L556.8 363.7L555.4 363.8L553.9 364.0L552.4 364.1L550.9 364.3L549.4 364.4L547.9 364.5L546.4 364.6L544.9 364.7L544.3 364.7L543.4 364.7L541.8 364.6L540.3 364.5L538.8 364.3L537.3 364.2L536.0 364.1L535.8 364.1L534.3 363.9L532.8 363.7L531.3 363.5L529.8 363.3L528.3 363.1L526.8 362.9L525.2 362.7L523.7 362.5L522.2 362.3L520.7 362.1L519.3 362.0L519.2 362.0L517.7 361.9L516.2 361.8L514.7 361.6L513.2 361.5L511.7 361.4L510.2 361.3L508.6 361.2L507.1 361.2L505.6 361.1L504.1 361.0L502.7 361.0L502.6 361.0L501.1 361.0L499.6 360.9L498.1 360.9L496.6 360.9L495.1 360.8L493.5 360.8L492.0 360.8L490.5 360.8L489.0 360.8L487.5 360.8L486.0 360.8ZM486.0 364.1L487.5 364.1L489.0 364.1L490.5 364.1L492.1 364.1L493.6 364.1L495.1 364.1L496.6 364.1L498.1 364.1L499.6 364.1L501.2 364.1L502.7 364.1L504.2 364.1L505.7 364.1L507.2 364.1L508.7 364.1L510.2 364.1L511.0 364.1L511.8 364.1L513.3 364.1L514.8 364.2L516.3 364.3L517.8 364.4L519.3 364.5L520.8 364.7L522.4 364.8L523.5 364.9L523.9 365.0L525.4 365.1L526.9 365.3L528.4 365.5L529.9 365.7L531.5 366.0L533.0 366.3L534.5 366.5L536.0 366.8L536.0 367.2L534.5 367.5L533.0 367.7L531.5 368.0L529.9 368.3L528.4 368.5L526.9 368.7L525.4 368.9L523.9 369.0L523.5 369.1L522.4 369.2L520.8 369.3L519.3 369.5L517.8 369.6L516.3 369.7L514.8 369.8L513.3 369.9L511.8 369.9L511.0 369.9L510.2 369.9L508.7 369.9L507.2 369.9L505.7 369.9L504.2 369.9L502.7 369.9L501.2 369.9L499.6 369.9L498.1 369.9L496.6 369.9L495.1 369.9L493.6 369.9L492.1 369.9L490.5 369.9L489.0 369.9L487.5 369.9L486.0 369.9ZM530.2 371.2L531.7 370.8L533.3 370.4L534.8 370.1L536.4 369.8L538.0 369.6L539.5 369.4L541.1 369.2L542.6 369.1L544.2 369.1L544.3 369.1L545.7 369.1L547.3 369.1L548.9 369.2L550.4 369.2L552.0 369.3L553.5 369.4L555.1 369.4L556.7 369.5L556.8 369.5L558.2 369.6L559.8 369.6L561.3 369.7L562.9 369.8L564.4 369.8L566.0 369.9L566.0 370.8L564.4 370.8L562.9 370.9L561.3 371.0L559.8 371.0L558.2 371.1L556.8 371.2L556.7 371.2L555.1 371.3L553.5 371.4L552.0 371.5L550.4 371.6L548.9 371.7L547.3 371.8L545.7 371.8L544.3 371.8L544.2 371.8L542.6 371.8L541.1 371.8L539.5 371.8L538.0 371.8L536.4 371.8L534.8 371.7L533.3 371.7L531.7 371.6L530.2 371.5ZM496.8 372.7L519.3 372.8L519.3 373.2L496.8 373.3ZM486.0 374.1L498.5 374.9L498.5 375.3L486.0 376.0ZM506.0 376.0L516.0 376.2L516.0 376.5L506.0 376.7ZM521.8 378.2L523.4 378.2L524.9 378.2L526.4 378.1L527.9 378.1L529.4 378.0L531.0 378.0L532.5 378.0L534.0 377.9L535.5 377.9L537.1 377.9L538.6 377.9L540.1 377.9L541.6 377.8L543.2 377.8L544.3 377.8L544.7 377.8L546.2 377.8L547.7 377.8L549.2 377.8L550.8 377.8L552.3 377.8L553.8 377.9L555.3 377.9L556.9 377.9L558.4 377.9L559.9 377.9L561.4 377.9L563.0 377.9L564.5 378.0L566.0 378.0L566.0 378.8L564.5 378.9L563.0 378.9L561.4 378.9L559.9 379.0L558.4 379.0L556.9 379.0L555.3 379.0L553.8 379.0L552.3 379.1L550.8 379.1L549.2 379.1L547.7 379.1L546.2 379.1L544.7 379.1L544.3 379.1L543.2 379.1L541.6 379.1L540.1 379.1L538.6 379.1L537.1 379.0L535.5 379.0L534.0 379.0L532.5 379.0L531.0 378.9L529.4 378.9L527.9 378.9L526.4 378.8L524.9 378.8L523.4 378.7L521.8 378.7ZM502.7 382.7L504.2 382.5L505.8 382.3L507.3 382.2L508.9 382.1L510.4 382.0L512.0 381.9L513.6 381.8L514.3 381.8L515.1 381.8L516.7 381.8L518.2 381.8L519.8 381.9L521.3 381.9L522.9 381.9L524.4 381.9L526.0 382.0L526.0 382.5L524.4 382.8L522.9 383.0L521.3 383.2L519.8 383.4L518.2 383.5L516.7 383.6L515.1 383.7L514.3 383.7L513.6 383.7L512.0 383.6L510.4 383.6L508.9 383.6L507.3 383.5L505.8 383.3L504.2 383.2L502.7 383.0ZM536.0 384.2L566.0 384.2L566.0 384.8L536.0 384.8ZM486.0 384.9L496.8 385.3L496.8 385.8L486.0 386.2ZM499.3 387.3L500.8 387.3L502.3 387.3L503.8 387.2L505.3 387.2L506.9 387.2L508.4 387.2L509.9 387.1L511.4 387.1L512.9 387.1L514.4 387.1L515.9 387.1L517.4 387.1L518.9 387.0L520.4 387.0L521.9 387.0L523.4 387.0L524.9 387.0L526.4 387.0L527.7 387.0L527.9 387.0L529.4 387.0L530.9 387.0L532.4 387.0L533.9 387.0L535.4 387.0L536.9 387.0L538.4 387.0L539.9 387.0L541.4 387.0L543.0 387.0L544.5 387.0L546.0 387.0L547.5 387.0L549.0 387.0L550.5 387.1L552.0 387.1L553.5 387.1L555.0 387.1L556.5 387.1L558.0 387.1L559.5 387.1L561.0 387.2L561.0 387.7L559.5 387.7L558.0 387.7L556.5 387.8L555.0 387.8L553.5 387.8L552.0 387.8L550.5 387.9L549.0 387.9L547.5 387.9L546.0 387.9L544.5 387.9L543.0 387.9L541.4 387.9L539.9 388.0L538.4 388.0L536.9 388.0L535.4 388.0L533.9 388.0L532.4 388.0L530.9 388.0L529.4 388.0L527.9 388.0L527.7 388.0L526.4 388.0L524.9 388.0L523.4 388.0L521.9 388.0L520.4 388.0L518.9 388.0L517.4 388.0L515.9 387.9L514.4 387.9L512.9 387.9L511.4 387.9L509.9 387.9L508.4 387.8L506.9 387.8L505.3 387.8L503.8 387.8L502.3 387.7L500.8 387.7L499.3 387.7ZM548.5 390.7L566.0 390.3L566.0 392.0L548.5 391.0ZM565.3 348.7L566.8 348.6L568.3 348.5L569.8 348.5L571.3 348.4L572.8 348.4L574.4 348.3L575.9 348.3L577.4 348.3L578.7 348.2L578.9 348.3L580.4 348.3L581.9 348.3L583.4 348.3L584.9 348.3L586.4 348.3L587.9 348.3L589.4 348.4L590.9 348.4L592.4 348.4L593.9 348.5L595.4 348.5L596.9 348.5L598.4 348.5L599.9 348.6L601.4 348.6L602.9 348.6L604.4 348.6L605.9 348.7L607.4 348.7L608.9 348.7L609.0 348.7L610.4 348.7L611.9 348.7L613.4 348.7L614.9 348.7L616.4 348.7L617.9 348.7L619.5 348.7L621.0 348.7L622.5 348.7L624.0 348.7L625.5 348.7L627.0 348.7L628.5 348.7L628.7 348.7L630.0 348.7L631.5 348.7L633.0 348.7L634.5 348.8L636.0 348.8L637.5 348.9L639.0 349.0L640.5 349.0L642.0 349.1L642.0 349.9L640.5 349.9L639.0 349.9L637.5 349.9L636.0 349.9L634.5 349.9L633.0 349.9L631.5 349.9L630.0 349.9L628.7 349.9L628.5 349.9L627.0 349.9L625.5 350.0L624.0 350.0L622.5 350.1L621.0 350.1L619.5 350.2L617.9 350.2L616.4 350.3L614.9 350.4L613.4 350.4L611.9 350.5L610.4 350.5L609.0 350.5L608.9 350.5L607.4 350.5L605.9 350.5L604.4 350.5L602.9 350.5L601.4 350.5L599.9 350.5L598.4 350.5L596.9 350.4L595.4 350.4L593.9 350.4L592.4 350.4L590.9 350.4L589.4 350.4L587.9 350.3L586.4 350.3L584.9 350.3L583.4 350.3L581.9 350.2L580.4 350.2L578.9 350.2L578.7 350.2L577.4 350.1L575.9 350.0L574.4 349.9L572.8 349.8L571.3 349.7L569.8 349.5L568.3 349.3L566.8 349.2L565.3 349.0ZM562.0 355.3L563.5 355.4L565.1 355.4L566.6 355.4L568.2 355.4L569.7 355.4L571.3 355.5L572.8 355.5L574.4 355.5L575.9 355.5L577.5 355.6L579.0 355.6L580.6 355.6L582.1 355.7L583.7 355.7L585.2 355.7L586.8 355.7L587.0 355.8L588.3 355.8L589.9 355.8L591.4 355.8L593.0 355.9L594.5 355.9L596.0 355.9L597.6 356.0L599.1 356.0L600.7 356.1L602.2 356.1L603.8 356.1L605.3 356.2L605.3 356.5L603.8 356.5L602.2 356.5L600.7 356.5L599.1 356.6L597.6 356.6L596.0 356.6L594.5 356.6L593.0 356.6L591.4 356.6L589.9 356.6L588.3 356.6L587.0 356.6L586.8 356.6L585.2 356.6L583.7 356.6L582.1 356.6L580.6 356.6L579.0 356.6L577.5 356.5L575.9 356.5L574.4 356.5L572.8 356.5L571.3 356.5L569.7 356.5L568.2 356.4L566.6 356.4L565.1 356.4L563.5 356.4L562.0 356.3ZM562.0 358.0L563.5 358.0L565.0 358.1L566.5 358.1L568.0 358.2L569.5 358.2L571.0 358.3L572.5 358.3L574.0 358.4L575.5 358.4L577.0 358.4L578.5 358.5L578.7 358.5L580.0 358.5L581.5 358.6L583.0 358.7L584.5 358.7L586.0 358.8L587.5 358.8L589.0 358.9L590.5 358.9L592.0 359.0L593.5 359.0L595.0 359.1L595.3 359.1L596.5 359.1L598.0 359.2L599.5 359.2L601.0 359.2L602.5 359.3L604.0 359.3L605.5 359.3L607.0 359.3L607.0 359.7L605.5 359.7L604.0 359.7L602.5 359.7L601.0 359.8L599.5 359.8L598.0 359.8L596.5 359.9L595.3 359.9L595.0 359.9L593.5 360.0L592.0 360.1L590.5 360.1L589.0 360.2L587.5 360.3L586.0 360.4L584.5 360.5L583.0 360.6L581.5 360.7L580.0 360.7L578.7 360.8L578.5 360.8L577.0 360.8L575.5 360.8L574.0 360.9L572.5 360.9L571.0 360.9L569.5 360.9L568.0 361.0L566.5 361.0L565.0 361.0L563.5 361.0L562.0 361.0ZM611.2 359.3L612.7 359.1L614.2 358.9L615.8 358.8L617.3 358.6L618.9 358.4L620.3 358.2L620.4 358.2L622.0 358.1L623.5 357.9L625.0 357.7L626.6 357.6L628.1 357.4L628.7 357.4L629.7 357.4L631.2 357.3L632.8 357.2L634.3 357.2L635.8 357.1L637.4 357.1L638.9 357.0L640.5 357.0L642.0 357.0L642.0 362.4L640.5 362.2L638.9 362.0L637.4 361.8L635.8 361.6L634.3 361.4L632.8 361.2L631.2 361.0L629.7 360.9L628.7 360.8L628.1 360.7L626.6 360.5L625.0 360.3L623.5 360.2L622.0 360.0L620.4 359.9L620.3 359.9L618.9 359.9L617.3 359.8L615.8 359.7L614.2 359.7L612.7 359.7L611.2 359.7ZM577.8 363.3L579.4 363.2L580.9 363.1L582.4 362.9L583.9 362.8L585.4 362.7L586.9 362.6L588.5 362.5L590.0 362.4L591.5 362.3L593.0 362.3L594.5 362.2L595.3 362.2L596.0 362.1L597.6 362.1L599.1 362.0L600.6 362.0L602.1 361.9L603.6 361.9L605.1 361.9L606.7 361.8L608.2 361.8L609.0 361.8L609.7 361.8L611.2 361.9L612.7 361.9L614.2 361.9L615.8 362.0L617.3 362.1L618.8 362.1L620.3 362.2L621.8 362.3L623.3 362.4L624.5 362.4L624.9 362.4L626.4 362.5L627.9 362.6L629.4 362.7L630.9 362.8L632.4 362.9L634.0 363.1L635.5 363.2L637.0 363.3L637.0 363.7L635.5 363.6L634.0 363.5L632.4 363.5L630.9 363.4L629.4 363.4L627.9 363.3L626.4 363.3L624.9 363.3L624.5 363.2L623.3 363.2L621.8 363.2L620.3 363.2L618.8 363.1L617.3 363.1L615.8 363.1L614.2 363.0L612.7 363.0L611.2 363.0L609.7 363.0L609.0 363.0L608.2 363.0L606.7 363.0L605.1 363.0L603.6 363.0L602.1 363.1L600.6 363.1L599.1 363.1L597.6 363.1L596.0 363.2L595.3 363.2L594.5 363.2L593.0 363.2L591.5 363.2L590.0 363.3L588.5 363.3L586.9 363.4L585.4 363.4L583.9 363.5L582.4 363.5L580.9 363.6L579.4 363.6L577.8 363.7ZM564.5 367.4L566.0 367.3L567.5 367.1L569.0 367.0L570.5 366.8L572.0 366.7L573.5 366.5L575.0 366.4L576.5 366.3L578.0 366.2L578.7 366.2L579.5 366.1L581.0 366.0L582.5 365.9L584.0 365.8L585.5 365.8L587.0 365.7L588.6 365.6L590.1 365.6L591.6 365.5L593.1 365.4L594.6 365.4L595.3 365.3L596.1 365.3L597.6 365.2L599.1 365.2L600.6 365.1L602.1 365.1L603.6 365.0L605.1 365.0L606.6 364.9L608.1 364.9L609.0 364.9L609.6 364.9L611.1 364.9L612.6 365.0L614.1 365.0L615.6 365.1L617.1 365.1L618.6 365.2L620.1 365.3L621.6 365.3L623.1 365.4L624.5 365.5L624.6 365.5L626.1 365.6L627.6 365.7L629.1 365.9L630.6 366.0L632.1 366.2L633.7 366.4L635.2 366.5L636.7 366.7L638.2 367.0L639.7 367.2L641.2 367.4L641.2 367.8L639.7 367.9L638.2 368.1L636.7 368.3L635.2 368.5L633.7 368.6L632.1 368.8L630.6 368.9L629.1 369.0L627.6 369.1L626.1 369.2L624.6 369.3L624.5 369.3L623.1 369.4L621.6 369.5L620.1 369.6L618.6 369.6L617.1 369.7L615.6 369.8L614.1 369.8L612.6 369.9L611.1 369.9L609.6 369.9L609.0 369.9L608.1 369.9L606.6 369.9L605.1 369.9L603.6 369.9L602.1 369.8L600.6 369.8L599.1 369.8L597.6 369.7L596.1 369.7L595.3 369.7L594.6 369.6L593.1 369.6L591.6 369.5L590.1 369.5L588.6 369.4L587.0 369.3L585.5 369.2L584.0 369.2L582.5 369.1L581.0 369.0L579.5 368.9L578.7 368.8L578.0 368.8L576.5 368.7L575.0 368.6L573.5 368.5L572.0 368.4L570.5 368.3L569.0 368.1L567.5 368.0L566.0 367.9L564.5 367.8ZM562.0 370.5L577.0 371.2L577.0 371.5L562.0 372.0ZM627.0 372.4L642.0 370.8L642.0 373.7L627.0 372.7ZM570.3 376.2L571.9 376.1L573.4 376.0L574.9 375.9L576.5 375.8L578.0 375.8L579.5 375.7L581.1 375.7L582.6 375.6L584.1 375.6L585.7 375.5L587.0 375.5L587.2 375.5L588.8 375.5L590.3 375.5L591.8 375.4L593.4 375.4L594.9 375.4L596.4 375.4L598.0 375.4L599.5 375.4L601.0 375.4L602.6 375.4L604.1 375.3L605.6 375.3L607.2 375.3L608.7 375.3L609.0 375.3L610.2 375.4L611.8 375.5L613.3 375.8L614.9 376.1L616.4 376.4L617.9 376.7L619.5 376.9L620.3 377.0L621.0 377.0L622.5 377.2L624.1 377.3L625.6 377.3L627.1 377.4L628.7 377.4L628.7 377.7L627.1 377.8L625.6 377.9L624.1 377.9L622.5 378.0L621.0 378.0L620.3 378.0L619.5 378.0L617.9 378.0L616.4 377.9L614.9 377.9L613.3 377.8L611.8 377.7L610.2 377.7L609.0 377.7L608.7 377.7L607.2 377.6L605.6 377.6L604.1 377.6L602.6 377.6L601.0 377.6L599.5 377.6L598.0 377.5L596.4 377.5L594.9 377.5L593.4 377.5L591.8 377.5L590.3 377.5L588.8 377.4L587.2 377.4L587.0 377.4L585.7 377.4L584.1 377.3L582.6 377.3L581.1 377.2L579.5 377.1L578.0 377.0L576.5 376.9L574.9 376.8L573.4 376.7L571.9 376.6L570.3 376.5ZM612.0 373.2L628.7 374.1L628.7 374.5L612.0 374.5ZM581.2 380.2L582.7 380.2L584.2 380.2L585.7 380.2L587.3 380.3L588.8 380.3L590.3 380.3L591.8 380.3L593.4 380.3L594.9 380.3L596.4 380.3L597.9 380.3L599.4 380.3L601.0 380.3L602.5 380.3L604.0 380.3L605.5 380.3L607.1 380.3L608.6 380.3L609.0 380.3L610.1 380.3L611.6 380.3L613.1 380.3L614.7 380.3L616.2 380.2L617.7 380.2L619.2 380.2L620.8 380.1L622.3 380.1L623.8 380.0L625.3 380.0L625.3 380.5L623.8 380.6L622.3 380.7L620.8 380.8L619.2 380.9L617.7 380.9L616.2 381.0L614.7 381.1L613.1 381.1L611.6 381.1L610.1 381.2L609.0 381.2L608.6 381.2L607.1 381.2L605.5 381.2L604.0 381.2L602.5 381.2L601.0 381.2L599.4 381.2L597.9 381.1L596.4 381.1L594.9 381.1L593.4 381.1L591.8 381.1L590.3 381.1L588.8 381.0L587.3 381.0L585.7 381.0L584.2 380.9L582.7 380.9L581.2 380.8ZM624.5 382.3L642.0 381.2L642.0 382.4L624.5 382.7ZM598.7 387.0L600.2 386.9L601.7 386.9L603.3 386.8L604.8 386.8L606.3 386.7L607.9 386.7L609.4 386.7L610.9 386.6L612.5 386.6L614.0 386.6L615.5 386.6L616.2 386.6L617.1 386.6L618.6 386.6L620.1 386.6L621.7 386.6L623.2 386.6L624.7 386.6L626.3 386.7L627.8 386.7L629.3 386.7L630.9 386.8L632.4 386.8L633.9 386.9L635.5 386.9L637.0 387.0L637.0 387.5L635.5 387.6L633.9 387.7L632.4 387.7L630.9 387.8L629.3 387.8L627.8 387.9L626.3 387.9L624.7 387.9L623.2 388.0L621.7 388.0L620.1 388.0L618.6 388.0L617.1 388.0L616.2 388.0L615.5 388.0L614.0 388.0L612.5 388.0L610.9 387.9L609.4 387.9L607.9 387.8L606.3 387.8L604.8 387.7L603.3 387.6L601.7 387.5L600.2 387.4L598.7 387.3ZM573.7 387.2L587.0 387.2L587.0 387.6L573.7 387.7ZM669.7 350.8L671.2 350.6L672.7 350.5L674.3 350.4L675.8 350.3L677.3 350.1L678.8 350.0L680.4 349.9L681.9 349.8L683.4 349.7L685.0 349.7L686.5 349.6L688.0 349.5L688.0 349.5L689.5 349.4L691.1 349.4L692.6 349.3L694.1 349.2L695.7 349.2L697.2 349.1L698.7 349.1L700.2 349.0L701.8 348.9L703.3 348.9L704.8 348.9L706.4 348.8L707.9 348.8L709.4 348.7L710.9 348.7L712.5 348.7L714.0 348.7L714.0 352.0L712.5 352.0L710.9 352.0L709.4 352.0L707.9 352.0L706.4 352.0L704.8 352.0L703.3 352.0L701.8 352.0L700.2 352.0L698.7 352.0L697.2 352.0L695.7 352.0L694.1 352.0L692.6 352.0L691.1 352.0L689.5 352.0L688.0 352.0L688.0 352.0L686.5 352.0L685.0 352.0L683.4 351.9L681.9 351.8L680.4 351.8L678.8 351.7L677.3 351.6L675.8 351.5L674.3 351.4L672.7 351.2L671.2 351.1L669.7 351.0ZM638.0 349.2L648.0 349.3L648.0 349.7L638.0 349.8ZM648.0 353.2L667.2 353.2L667.2 353.6L648.0 353.7ZM638.0 356.6L639.5 356.6L641.0 356.6L642.6 356.6L644.1 356.6L645.6 356.7L646.3 356.7L647.1 356.7L648.6 356.7L650.2 356.8L651.7 356.8L653.2 356.8L654.0 356.8L654.7 356.8L656.2 356.8L657.8 356.8L659.3 356.8L660.8 356.8L662.3 356.7L663.8 356.7L665.4 356.7L666.9 356.7L667.2 356.7L668.4 356.7L669.9 356.6L671.4 356.6L673.0 356.6L674.5 356.6L676.0 356.6L677.5 356.6L679.0 356.6L679.7 356.6L680.6 356.6L682.1 356.6L683.6 356.5L685.1 356.5L686.6 356.5L688.2 356.5L689.7 356.4L691.2 356.4L692.7 356.4L694.2 356.4L695.8 356.3L696.3 356.3L697.3 356.3L698.8 356.3L700.3 356.3L701.8 356.3L703.4 356.3L704.9 356.2L706.4 356.2L707.9 356.2L709.4 356.2L711.0 356.2L712.5 356.2L714.0 356.2L714.0 360.8L712.5 360.8L711.0 360.8L709.4 360.9L707.9 360.9L706.4 361.0L704.9 361.1L703.4 361.2L701.8 361.2L700.3 361.3L698.8 361.4L697.3 361.5L696.3 361.6L695.8 361.6L694.2 361.7L692.7 361.9L691.2 362.0L689.7 362.1L688.2 362.3L686.6 362.5L685.1 362.6L683.6 362.8L682.1 363.0L680.6 363.1L679.7 363.2L679.0 363.3L677.5 363.5L676.0 363.8L674.5 364.0L673.0 364.3L671.4 364.5L669.9 364.7L668.4 364.8L667.2 364.9L666.9 364.9L665.4 365.0L663.8 365.1L662.3 365.1L660.8 365.2L659.3 365.3L657.8 365.3L656.2 365.3L654.7 365.3L654.0 365.3L653.2 365.3L651.7 365.1L650.2 364.9L648.6 364.5L647.1 364.2L646.3 364.1L645.6 364.0L644.1 363.7L642.6 363.5L641.0 363.3L639.5 363.1L638.0 362.8ZM668.0 367.4L669.5 367.3L671.1 367.2L672.6 367.1L674.1 367.0L675.7 366.9L677.2 366.7L678.7 366.6L680.3 366.5L681.8 366.4L683.3 366.3L684.9 366.2L686.4 366.1L687.9 366.0L688.0 366.0L689.5 365.9L691.0 365.8L692.5 365.7L694.1 365.6L695.6 365.5L697.1 365.4L698.7 365.3L700.2 365.2L701.7 365.1L703.3 365.0L704.7 364.9L704.8 364.9L706.3 364.8L707.9 364.7L709.4 364.5L710.9 364.4L712.5 364.2L714.0 364.1L714.0 370.3L712.5 370.3L710.9 370.2L709.4 370.1L707.9 370.1L706.3 370.0L704.8 369.9L704.7 369.9L703.3 369.8L701.7 369.8L700.2 369.7L698.7 369.6L697.1 369.4L695.6 369.3L694.1 369.2L692.5 369.1L691.0 369.0L689.5 368.9L688.0 368.8L687.9 368.8L686.4 368.7L684.9 368.6L683.3 368.5L681.8 368.5L680.3 368.4L678.7 368.3L677.2 368.2L675.7 368.1L674.1 368.0L672.6 367.9L671.1 367.8L669.5 367.8L668.0 367.7ZM638.0 367.2L646.3 367.5L646.3 367.8L638.0 368.1ZM643.0 371.0L644.5 370.7L646.1 370.5L647.6 370.2L649.1 370.0L650.7 369.8L652.2 369.7L653.7 369.7L654.0 369.7L655.3 369.7L656.8 369.7L658.4 369.7L659.9 369.7L661.4 369.7L663.0 369.8L664.5 369.8L666.0 369.8L667.2 369.8L667.6 369.8L669.1 369.9L670.6 369.9L672.2 370.0L673.7 370.1L675.2 370.2L676.8 370.3L678.3 370.4L679.7 370.5L679.8 370.5L681.4 370.6L682.9 370.7L684.4 370.9L686.0 371.0L687.5 371.1L689.1 371.3L690.6 371.4L692.1 371.6L693.7 371.7L695.2 371.9L696.7 372.1L698.3 372.3L699.8 372.5L701.3 372.7L701.3 373.0L699.8 373.0L698.3 373.1L696.7 373.1L695.2 373.2L693.7 373.2L692.1 373.3L690.6 373.3L689.1 373.4L687.5 373.4L686.0 373.5L684.4 373.5L682.9 373.6L681.4 373.6L679.8 373.7L679.7 373.7L678.3 373.7L676.8 373.8L675.2 373.8L673.7 373.9L672.2 374.0L670.6 374.0L669.1 374.1L667.6 374.1L667.2 374.1L666.0 374.1L664.5 374.0L663.0 373.9L661.4 373.7L659.9 373.6L658.4 373.4L656.8 373.2L655.3 373.0L654.0 372.8L653.7 372.8L652.2 372.6L650.7 372.4L649.1 372.2L647.6 372.0L646.1 371.8L644.5 371.6L643.0 371.3ZM638.0 380.2L639.5 380.2L641.1 380.2L642.6 380.2L644.1 380.2L645.7 380.2L647.2 380.2L648.8 380.2L650.3 380.2L651.8 380.2L653.4 380.2L654.9 380.2L656.4 380.2L658.0 380.2L659.5 380.2L661.0 380.2L662.6 380.2L663.0 380.2L664.1 380.2L665.7 380.2L667.2 380.2L668.7 380.2L670.3 380.2L671.8 380.2L673.3 380.2L674.9 380.2L676.4 380.2L677.9 380.2L679.5 380.3L681.0 380.3L682.6 380.3L684.1 380.3L685.6 380.3L687.2 380.3L687.2 380.7L685.6 380.8L684.1 380.8L682.6 380.9L681.0 381.0L679.5 381.1L677.9 381.2L676.4 381.3L674.9 381.3L673.3 381.4L671.8 381.5L670.3 381.6L668.7 381.6L667.2 381.7L665.7 381.7L664.1 381.8L663.0 381.8L662.6 381.8L661.0 381.9L659.5 381.9L658.0 382.0L656.4 382.0L654.9 382.1L653.4 382.1L651.8 382.2L650.3 382.2L648.8 382.2L647.2 382.3L645.7 382.3L644.1 382.3L642.6 382.4L641.1 382.4L639.5 382.4L638.0 382.4ZM686.3 383.5L687.9 383.3L689.4 383.0L690.9 382.8L692.5 382.6L694.0 382.4L695.6 382.3L697.1 382.2L698.6 382.1L700.2 382.0L700.5 382.0L701.7 382.0L703.2 381.9L704.8 381.9L706.3 381.9L707.9 381.9L709.4 381.9L710.9 381.8L712.5 381.8L714.0 381.8L714.0 384.1L712.5 384.1L710.9 384.1L709.4 384.1L707.9 384.1L706.3 384.1L704.8 384.1L703.2 384.1L701.7 384.1L700.5 384.1L700.2 384.1L698.6 384.1L697.1 384.1L695.6 384.0L694.0 384.0L692.5 384.0L690.9 384.0L689.4 383.9L687.9 383.9L686.3 383.8ZM673.0 386.8L688.0 387.0L688.0 387.3L673.0 387.5ZM702.2 386.8L714.0 386.6L714.0 387.7L702.2 387.5ZM699.7 376.4L714.0 376.2L714.0 377.4L699.7 377.1ZM431.7 391.3L433.2 391.3L434.7 391.3L436.3 391.2L437.8 391.2L439.3 391.2L440.9 391.1L442.4 391.1L443.9 391.1L445.5 391.1L447.0 391.0L448.6 391.0L450.1 391.0L451.6 391.0L453.2 391.0L454.7 390.9L456.2 390.9L457.8 390.9L459.3 390.9L460.0 390.9L460.8 390.9L462.4 390.9L463.9 390.9L465.4 390.9L467.0 390.9L468.5 390.9L470.0 390.9L471.6 390.9L473.1 390.9L474.6 390.9L476.2 390.9L477.7 390.9L479.3 390.9L480.8 390.9L482.3 390.9L483.9 390.9L485.4 390.9L486.9 390.9L488.5 390.9L490.0 390.9L490.0 392.3L488.5 392.3L486.9 392.3L485.4 392.3L483.9 392.3L482.3 392.3L480.8 392.3L479.3 392.3L477.7 392.3L476.2 392.3L474.6 392.3L473.1 392.3L471.6 392.3L470.0 392.2L468.5 392.2L467.0 392.2L465.4 392.2L463.9 392.2L462.4 392.2L460.8 392.2L460.0 392.2L459.3 392.2L457.8 392.1L456.2 392.1L454.7 392.1L453.2 392.1L451.6 392.1L450.1 392.0L448.6 392.0L447.0 392.0L445.5 392.0L443.9 391.9L442.4 391.9L440.9 391.9L439.3 391.8L437.8 391.8L436.3 391.8L434.7 391.7L433.2 391.7L431.7 391.7ZM412.5 391.8L414.0 391.8L415.6 391.8L417.1 391.9L418.7 392.0L420.2 392.1L421.7 392.2L423.3 392.3L424.8 392.4L426.4 392.6L426.7 392.6L427.9 392.7L429.4 392.9L431.0 393.1L432.5 393.4L434.1 393.7L435.6 394.0L437.1 394.3L438.7 394.5L440.2 394.8L441.8 394.9L443.3 395.1L443.3 395.1L444.8 395.2L446.4 395.3L447.9 395.4L449.5 395.5L451.0 395.6L452.6 395.6L454.1 395.7L455.6 395.7L455.8 395.7L457.2 395.7L458.7 395.6L460.3 395.5L461.8 395.4L463.3 395.3L463.3 395.7L461.8 395.9L460.3 396.2L458.7 396.4L457.2 396.6L455.8 396.8L455.6 396.8L454.1 396.9L452.6 397.1L451.0 397.2L449.5 397.3L447.9 397.4L446.4 397.5L444.8 397.6L443.3 397.6L443.3 397.6L441.8 397.6L440.2 397.6L438.7 397.5L437.1 397.5L435.6 397.4L434.1 397.4L432.5 397.3L431.0 397.2L429.4 397.1L427.9 397.1L426.7 397.0L426.4 397.0L424.8 396.9L423.3 396.8L421.7 396.7L420.2 396.6L418.7 396.5L417.1 396.3L415.6 396.2L414.0 396.1L412.5 395.9ZM455.0 398.2L456.5 398.0L458.0 397.8L459.6 397.7L461.1 397.5L462.6 397.4L464.1 397.3L465.7 397.1L467.2 397.0L468.7 396.9L470.2 396.9L471.7 396.8L472.5 396.8L473.3 396.7L474.8 396.7L476.3 396.6L477.8 396.6L479.3 396.5L480.9 396.5L482.4 396.4L483.9 396.4L485.4 396.4L487.0 396.4L488.5 396.3L490.0 396.3L490.0 398.4L488.5 398.5L487.0 398.5L485.4 398.6L483.9 398.6L482.4 398.7L480.9 398.7L479.3 398.8L477.8 398.8L476.3 398.8L474.8 398.8L473.3 398.8L472.5 398.8L471.7 398.8L470.2 398.8L468.7 398.8L467.2 398.8L465.7 398.8L464.1 398.8L462.6 398.7L461.1 398.7L459.6 398.7L458.0 398.6L456.5 398.6L455.0 398.5ZM412.5 401.8L414.0 401.8L415.5 401.8L417.1 401.8L418.6 401.8L420.1 401.9L421.6 401.9L423.1 401.9L424.7 401.9L426.2 401.9L427.7 402.0L429.2 402.0L430.7 402.0L430.8 402.0L432.3 402.0L433.8 402.0L435.3 402.1L436.8 402.1L438.3 402.1L439.9 402.1L441.4 402.1L442.9 402.1L444.4 402.2L445.9 402.2L447.5 402.2L447.5 402.2L449.0 402.2L450.5 402.1L452.0 402.1L453.5 402.0L455.0 402.0L456.6 401.9L458.1 401.8L459.6 401.8L461.1 401.7L462.6 401.6L464.2 401.6L465.7 401.5L467.2 401.5L468.3 401.5L468.7 401.5L470.2 401.5L471.8 401.5L473.3 401.5L474.8 401.5L476.3 401.5L477.8 401.5L479.4 401.5L480.9 401.6L482.4 401.6L483.9 401.6L485.4 401.6L487.0 401.7L488.5 401.7L490.0 401.8L490.0 407.6L488.5 407.7L487.0 407.9L485.4 408.0L483.9 408.1L482.4 408.2L480.9 408.3L479.4 408.4L477.8 408.5L476.3 408.5L474.8 408.6L473.3 408.6L471.8 408.6L470.2 408.7L468.7 408.7L468.3 408.7L467.2 408.7L465.7 408.6L464.2 408.6L462.6 408.6L461.1 408.5L459.6 408.4L458.1 408.3L456.6 408.2L455.0 408.1L453.5 408.0L452.0 407.9L450.5 407.8L449.0 407.7L447.5 407.6L447.5 407.6L445.9 407.4L444.4 407.3L442.9 407.1L441.4 406.9L439.9 406.7L438.3 406.4L436.8 406.2L435.3 406.0L433.8 405.8L432.3 405.6L430.8 405.5L430.7 405.5L429.2 405.4L427.7 405.2L426.2 405.1L424.7 405.0L423.1 404.9L421.6 404.8L420.1 404.7L418.6 404.6L417.1 404.5L415.5 404.4L414.0 404.3L412.5 404.2ZM412.5 407.4L426.7 407.5L426.7 407.8L412.5 407.9ZM412.5 412.2L441.7 412.4L441.7 412.8L412.5 412.9ZM451.7 416.2L470.8 416.3L470.8 416.7L451.7 416.8ZM420.0 417.3L421.5 417.4L423.0 417.4L424.5 417.4L426.0 417.4L427.6 417.5L429.1 417.5L430.6 417.5L432.1 417.6L433.6 417.6L435.1 417.7L436.6 417.7L438.1 417.8L439.6 417.9L441.1 417.9L442.7 418.0L443.3 418.0L444.2 418.0L445.7 418.1L447.2 418.2L448.7 418.3L450.2 418.4L451.7 418.5L453.2 418.6L454.7 418.7L456.2 418.8L457.8 418.9L459.3 419.0L460.0 419.0L460.8 419.0L462.3 419.1L463.8 419.2L465.3 419.3L466.8 419.4L468.3 419.5L468.3 419.8L466.8 419.8L465.3 419.8L463.8 419.8L462.3 419.8L460.8 419.8L460.0 419.8L459.3 419.8L457.8 419.8L456.2 419.7L454.7 419.7L453.2 419.6L451.7 419.5L450.2 419.3L448.7 419.2L447.2 419.1L445.7 419.0L444.2 418.9L443.3 418.8L442.7 418.8L441.1 418.7L439.6 418.6L438.1 418.6L436.6 418.5L435.1 418.4L433.6 418.3L432.1 418.2L430.6 418.2L429.1 418.1L427.6 418.0L426.0 417.9L424.5 417.9L423.0 417.8L421.5 417.7L420.0 417.7ZM445.8 424.7L447.4 424.7L449.0 424.8L450.5 424.9L452.1 425.0L453.7 425.1L455.2 425.2L456.8 425.3L458.4 425.4L460.0 425.5L460.0 425.5L461.5 425.6L463.1 425.7L464.7 425.8L466.2 426.0L467.8 426.1L469.4 426.2L470.9 426.4L472.5 426.5L472.5 427.0L470.9 427.0L469.4 426.9L467.8 426.9L466.2 426.8L464.7 426.7L463.1 426.7L461.5 426.6L460.0 426.5L460.0 426.5L458.4 426.4L456.8 426.3L455.2 426.2L453.7 426.0L452.1 425.9L450.5 425.7L449.0 425.5L447.4 425.4L445.8 425.2ZM412.5 426.8L414.0 426.8L415.6 426.8L417.1 426.8L418.6 426.9L420.1 426.9L421.7 427.0L423.2 427.0L424.7 427.1L426.2 427.1L426.7 427.2L427.8 427.2L429.3 427.3L430.8 427.4L432.4 427.5L433.9 427.6L435.4 427.7L436.9 427.8L438.5 427.9L439.2 428.0L440.0 428.1L441.5 428.2L443.1 428.3L444.6 428.5L446.1 428.7L447.6 428.8L449.2 429.0L449.2 429.3L447.6 429.4L446.1 429.5L444.6 429.5L443.1 429.6L441.5 429.7L440.0 429.8L439.2 429.8L438.5 429.9L436.9 430.0L435.4 430.1L433.9 430.2L432.4 430.3L430.8 430.5L429.3 430.5L427.8 430.6L426.7 430.7L426.2 430.7L424.7 430.7L423.2 430.8L421.7 430.8L420.1 430.8L418.6 430.9L417.1 430.9L415.6 430.9L414.0 430.9L412.5 430.9ZM434.2 433.0L435.7 432.9L437.2 432.8L438.7 432.7L440.2 432.6L441.7 432.6L443.2 432.5L444.7 432.5L446.2 432.4L447.7 432.3L449.3 432.3L450.8 432.3L452.3 432.2L453.8 432.2L455.3 432.2L456.8 432.2L458.3 432.2L459.8 432.2L460.0 432.2L461.3 432.2L462.8 432.2L464.3 432.2L465.9 432.2L467.4 432.2L468.9 432.3L470.4 432.3L471.9 432.4L473.4 432.4L474.9 432.5L476.4 432.5L477.9 432.6L479.4 432.7L480.9 432.8L482.5 432.9L484.0 433.0L485.5 433.1L487.0 433.2L488.5 433.3L490.0 433.4L490.0 434.7L488.5 434.6L487.0 434.6L485.5 434.5L484.0 434.5L482.5 434.4L480.9 434.4L479.4 434.3L477.9 434.3L476.4 434.3L474.9 434.2L473.4 434.2L471.9 434.1L470.4 434.1L468.9 434.0L467.4 434.0L465.9 434.0L464.3 433.9L462.8 433.9L461.3 433.9L460.0 433.8L459.8 433.8L458.3 433.8L456.8 433.8L455.3 433.7L453.8 433.7L452.3 433.7L450.8 433.6L449.3 433.6L447.7 433.6L446.2 433.5L444.7 433.5L443.2 433.5L441.7 433.5L440.2 433.4L438.7 433.4L437.2 433.4L435.7 433.4L434.2 433.3ZM412.5 434.1L428.3 434.2L428.3 434.3L412.5 434.4ZM418.3 437.2L419.9 437.1L421.4 436.9L422.9 436.8L424.4 436.7L426.0 436.6L427.5 436.5L429.0 436.5L430.5 436.4L432.1 436.4L433.6 436.3L435.0 436.3L435.1 436.3L436.6 436.3L438.2 436.3L439.7 436.4L441.2 436.4L442.7 436.4L444.3 436.4L445.8 436.4L447.3 436.5L448.8 436.5L450.4 436.5L451.9 436.6L453.4 436.6L454.9 436.6L456.5 436.7L458.0 436.7L459.5 436.7L460.0 436.8L461.0 436.8L462.6 436.8L464.1 436.9L465.6 436.9L467.1 437.0L468.7 437.0L470.2 437.1L471.7 437.1L473.2 437.2L474.8 437.3L476.3 437.3L476.7 437.3L477.8 437.4L479.3 437.4L480.9 437.5L482.4 437.5L483.9 437.6L485.4 437.7L487.0 437.7L488.5 437.8L490.0 437.8L490.0 440.7L488.5 440.6L487.0 440.5L485.4 440.5L483.9 440.4L482.4 440.3L480.9 440.3L479.3 440.2L477.8 440.1L476.7 440.1L476.3 440.1L474.8 440.0L473.2 439.9L471.7 439.8L470.2 439.8L468.7 439.7L467.1 439.6L465.6 439.5L464.1 439.5L462.6 439.4L461.0 439.3L460.0 439.2L459.5 439.2L458.0 439.1L456.5 439.1L454.9 439.0L453.4 438.9L451.9 438.8L450.4 438.7L448.8 438.7L447.3 438.6L445.8 438.5L444.3 438.4L442.7 438.3L441.2 438.3L439.7 438.2L438.2 438.1L436.6 438.1L435.1 438.0L435.0 438.0L433.6 437.9L432.1 437.9L430.5 437.8L429.0 437.8L427.5 437.7L426.0 437.7L424.4 437.7L422.9 437.6L421.4 437.6L419.9 437.5L418.3 437.5ZM412.5 440.3L414.0 440.4L415.6 440.4L417.1 440.4L418.7 440.5L420.2 440.5L421.8 440.6L423.3 440.6L424.8 440.7L426.4 440.7L427.9 440.8L429.5 440.9L430.8 440.9L431.0 440.9L432.6 441.0L434.1 441.1L435.6 441.1L437.2 441.2L438.7 441.3L440.3 441.4L441.8 441.5L443.4 441.6L444.9 441.7L446.5 441.8L448.0 441.9L449.5 442.0L451.1 442.1L452.6 442.2L454.2 442.3L454.2 442.7L452.6 442.7L451.1 442.8L449.5 442.9L448.0 442.9L446.5 443.0L444.9 443.0L443.4 443.1L441.8 443.1L440.3 443.2L438.7 443.2L437.2 443.3L435.6 443.3L434.1 443.3L432.6 443.4L431.0 443.4L430.8 443.4L429.5 443.4L427.9 443.5L426.4 443.5L424.8 443.5L423.3 443.5L421.8 443.6L420.2 443.6L418.7 443.6L417.1 443.6L415.6 443.6L414.0 443.7L412.5 443.7ZM455.0 442.7L456.5 442.6L458.0 442.6L459.6 442.5L461.1 442.5L462.6 442.4L464.1 442.4L465.7 442.4L467.2 442.4L468.7 442.4L470.2 442.3L471.7 442.3L472.5 442.3L473.3 442.3L474.8 442.3L476.3 442.3L477.8 442.4L479.3 442.4L480.9 442.4L482.4 442.4L483.9 442.4L485.4 442.5L487.0 442.5L488.5 442.5L490.0 442.6L490.0 444.0L488.5 444.0L487.0 444.0L485.4 443.9L483.9 443.9L482.4 443.9L480.9 443.9L479.3 443.8L477.8 443.8L476.3 443.8L474.8 443.7L473.3 443.7L472.5 443.7L471.7 443.6L470.2 443.6L468.7 443.6L467.2 443.5L465.7 443.5L464.1 443.4L462.6 443.3L461.1 443.3L459.6 443.2L458.0 443.1L456.5 443.1L455.0 443.0ZM429.2 445.3L468.3 445.5L468.3 445.8L429.2 446.0ZM486.0 390.9L487.5 390.9L489.0 390.9L490.5 391.0L492.0 391.0L493.5 391.0L495.0 391.0L496.6 391.0L498.1 391.0L499.6 391.0L501.1 391.0L502.6 391.1L504.1 391.1L505.6 391.1L507.1 391.1L508.6 391.1L510.1 391.1L511.6 391.1L513.1 391.1L514.7 391.1L516.2 391.1L517.7 391.2L519.2 391.2L519.3 391.2L520.7 391.2L522.2 391.2L523.7 391.2L525.2 391.2L526.7 391.2L528.2 391.2L529.7 391.2L531.2 391.2L532.7 391.2L534.3 391.3L535.8 391.3L537.3 391.3L538.8 391.3L540.3 391.3L541.8 391.3L543.3 391.3L544.8 391.3L546.3 391.3L547.8 391.3L549.3 391.3L549.3 391.7L547.8 391.7L546.3 391.8L544.8 391.9L543.3 391.9L541.8 392.0L540.3 392.1L538.8 392.1L537.3 392.2L535.8 392.3L534.3 392.3L532.7 392.4L531.2 392.4L529.7 392.4L528.2 392.5L526.7 392.5L525.2 392.5L523.7 392.6L522.2 392.6L520.7 392.6L519.3 392.6L519.2 392.6L517.7 392.6L516.2 392.6L514.7 392.6L513.1 392.6L511.6 392.6L510.1 392.6L508.6 392.6L507.1 392.6L505.6 392.6L504.1 392.6L502.6 392.6L501.1 392.5L499.6 392.5L498.1 392.5L496.6 392.5L495.0 392.5L493.5 392.5L492.0 392.4L490.5 392.4L489.0 392.4L487.5 392.4L486.0 392.3ZM552.7 393.2L566.0 393.0L566.0 396.3L552.7 393.5ZM486.0 396.3L487.5 396.3L489.0 396.3L490.5 396.3L492.0 396.2L493.5 396.2L495.0 396.2L496.5 396.2L498.0 396.2L499.5 396.1L501.0 396.1L502.5 396.1L504.0 396.0L505.5 396.0L507.0 396.0L508.5 396.0L510.0 395.9L511.0 395.9L511.5 395.9L513.0 395.9L514.5 395.8L516.0 395.8L517.5 395.7L519.0 395.7L520.5 395.7L522.0 395.6L523.5 395.6L525.0 395.5L526.5 395.5L528.0 395.4L529.5 395.4L531.0 395.4L532.5 395.4L534.0 395.3L535.5 395.3L536.0 395.3L537.0 395.3L538.5 395.4L540.0 395.4L541.5 395.5L543.0 395.6L544.5 395.6L546.0 395.8L547.5 395.9L549.0 396.0L550.5 396.1L552.0 396.3L552.7 396.3L553.5 396.4L555.0 396.6L556.5 396.9L558.0 397.2L559.5 397.5L561.0 397.8L561.0 398.2L559.5 398.1L558.0 398.1L556.5 398.0L555.0 398.0L553.5 398.0L552.7 398.0L552.0 398.0L550.5 398.0L549.0 398.0L547.5 398.1L546.0 398.1L544.5 398.2L543.0 398.2L541.5 398.3L540.0 398.3L538.5 398.4L537.0 398.4L536.0 398.4L535.5 398.4L534.0 398.5L532.5 398.5L531.0 398.5L529.5 398.6L528.0 398.6L526.5 398.6L525.0 398.7L523.5 398.7L522.0 398.7L520.5 398.7L519.0 398.8L517.5 398.8L516.0 398.8L514.5 398.8L513.0 398.8L511.5 398.8L511.0 398.8L510.0 398.8L508.5 398.8L507.0 398.8L505.5 398.8L504.0 398.8L502.5 398.8L501.0 398.8L499.5 398.7L498.0 398.7L496.5 398.7L495.0 398.7L493.5 398.6L492.0 398.6L490.5 398.6L489.0 398.5L487.5 398.5L486.0 398.4ZM486.0 402.2L487.5 402.2L489.0 402.1L490.5 402.1L492.0 402.1L493.5 402.1L495.1 402.1L496.6 402.1L498.1 402.1L499.6 402.1L501.1 402.1L502.6 402.1L504.1 402.0L505.6 402.0L507.1 402.0L508.6 402.0L510.2 402.0L511.0 402.0L511.7 402.0L513.2 402.0L514.7 402.0L516.2 402.0L517.7 402.0L519.2 402.0L520.7 402.0L522.2 401.9L523.7 401.9L525.2 401.9L526.8 401.9L527.7 401.9L528.3 401.9L529.8 401.9L531.3 401.9L532.8 401.9L534.3 401.9L535.8 401.9L537.3 401.9L538.8 401.9L540.3 401.9L541.8 401.8L543.4 401.8L544.3 401.8L544.9 401.8L546.4 401.8L547.9 401.8L549.4 401.8L550.9 401.8L552.4 401.8L553.9 401.8L555.4 401.8L556.9 401.8L558.5 401.8L560.0 401.8L561.5 401.8L563.0 401.8L564.5 401.8L566.0 401.8L566.0 409.8L564.5 409.9L563.0 410.0L561.5 410.1L560.0 410.1L558.5 410.2L556.9 410.2L555.4 410.3L553.9 410.3L552.4 410.3L550.9 410.3L549.4 410.3L547.9 410.3L546.4 410.3L544.9 410.3L544.3 410.3L543.4 410.3L541.8 410.3L540.3 410.2L538.8 410.1L537.3 410.0L535.8 409.9L534.3 409.8L532.8 409.7L531.3 409.5L529.8 409.4L528.3 409.3L527.7 409.2L526.8 409.2L525.2 409.1L523.7 408.9L522.2 408.8L520.7 408.6L519.2 408.5L517.7 408.3L516.2 408.2L514.7 408.1L513.2 408.0L511.7 408.0L511.0 408.0L510.2 408.0L508.6 408.0L507.1 408.0L505.6 408.0L504.1 408.0L502.6 408.0L501.1 408.0L499.6 408.0L498.1 408.0L496.6 408.0L495.1 408.0L493.5 408.0L492.0 408.0L490.5 408.0L489.0 408.0L487.5 408.0L486.0 408.0ZM494.3 411.3L526.0 411.5L526.0 411.8L494.3 412.0ZM498.5 414.8L526.0 415.1L526.0 415.5L498.5 415.8ZM486.0 419.2L487.5 419.2L489.0 419.2L490.6 419.2L492.1 419.1L493.6 419.1L495.1 419.1L496.6 419.1L498.2 419.1L499.7 419.0L501.2 419.0L502.7 419.0L504.2 419.0L505.8 419.0L507.3 419.0L508.8 419.0L510.3 419.0L511.0 419.0L511.8 419.0L513.4 419.0L514.9 419.0L516.4 419.0L517.9 419.0L519.4 419.0L521.0 419.0L522.5 419.1L524.0 419.1L525.5 419.1L527.0 419.1L528.5 419.1L530.1 419.2L531.6 419.2L533.1 419.2L534.6 419.3L536.1 419.3L537.7 419.3L537.7 419.7L536.1 419.8L534.6 419.9L533.1 420.0L531.6 420.2L530.1 420.3L528.5 420.4L527.0 420.4L525.5 420.5L524.0 420.6L522.5 420.7L521.0 420.7L519.4 420.8L517.9 420.8L516.4 420.9L514.9 420.9L513.4 420.9L511.8 420.9L511.0 420.9L510.3 420.9L508.8 420.9L507.3 420.9L505.8 420.9L504.2 420.9L502.7 420.8L501.2 420.8L499.7 420.8L498.2 420.7L496.6 420.7L495.1 420.6L493.6 420.5L492.1 420.5L490.6 420.4L489.0 420.3L487.5 420.2L486.0 420.1ZM544.3 418.7L566.0 418.5L566.0 419.5L544.3 419.5ZM511.0 424.1L552.7 424.2L552.7 424.7L511.0 424.8ZM491.0 425.4L501.0 425.5L501.0 425.8L491.0 425.8ZM502.7 427.2L556.8 427.3L556.8 427.7L502.7 427.8ZM486.0 433.4L487.5 433.4L489.1 433.3L490.6 433.3L492.1 433.2L493.7 433.2L495.2 433.1L496.7 433.1L498.3 433.0L499.8 433.0L501.4 432.9L502.9 432.9L504.4 432.8L506.0 432.8L507.5 432.7L509.0 432.7L510.6 432.6L511.0 432.6L512.1 432.5L513.6 432.5L515.2 432.4L516.7 432.4L518.2 432.3L519.8 432.3L521.3 432.2L522.8 432.2L524.4 432.1L525.9 432.1L527.4 432.0L527.7 432.0L529.0 432.0L530.5 431.9L532.1 431.9L533.6 431.8L535.1 431.8L536.7 431.7L538.2 431.7L539.7 431.6L541.3 431.6L542.8 431.5L544.3 431.5L544.3 431.8L542.8 431.9L541.3 432.0L539.7 432.1L538.2 432.3L536.7 432.4L535.1 432.5L533.6 432.6L532.1 432.7L530.5 432.8L529.0 432.9L527.7 433.0L527.4 433.0L525.9 433.1L524.4 433.3L522.8 433.4L521.3 433.5L519.8 433.7L518.2 433.8L516.7 433.9L515.2 434.0L513.6 434.1L512.1 434.2L511.0 434.2L510.6 434.3L509.0 434.3L507.5 434.3L506.0 434.4L504.4 434.4L502.9 434.5L501.4 434.5L499.8 434.5L498.3 434.6L496.7 434.6L495.2 434.6L493.7 434.6L492.1 434.6L490.6 434.6L489.1 434.7L487.5 434.7L486.0 434.7ZM547.7 432.0L566.0 431.8L566.0 432.8L547.7 432.8ZM486.0 438.0L487.5 437.9L489.0 437.8L490.5 437.7L492.0 437.6L493.5 437.6L495.1 437.5L496.6 437.4L498.1 437.3L499.6 437.3L501.1 437.2L502.6 437.2L502.7 437.2L504.1 437.1L505.6 437.1L507.1 437.0L508.6 437.0L510.2 437.0L511.7 436.9L513.2 436.9L514.7 436.8L516.2 436.8L517.7 436.8L519.2 436.8L519.3 436.8L520.7 436.7L522.2 436.7L523.7 436.7L525.2 436.6L526.8 436.6L528.3 436.6L529.8 436.5L531.3 436.5L532.8 436.5L534.3 436.5L535.8 436.4L537.3 436.4L538.8 436.4L540.3 436.4L541.8 436.4L543.4 436.3L544.3 436.3L544.9 436.3L546.4 436.3L547.9 436.3L549.4 436.3L550.9 436.3L552.4 436.3L553.9 436.2L555.4 436.2L556.9 436.2L558.5 436.2L560.0 436.2L561.5 436.2L563.0 436.2L564.5 436.2L566.0 436.2L566.0 441.8L564.5 442.0L563.0 442.2L561.5 442.3L560.0 442.5L558.5 442.7L556.9 442.9L555.4 443.0L553.9 443.2L552.4 443.3L550.9 443.4L549.4 443.5L547.9 443.6L546.4 443.6L544.9 443.7L544.3 443.7L543.4 443.7L541.8 443.7L540.3 443.7L538.8 443.7L537.3 443.6L535.8 443.6L534.3 443.6L532.8 443.6L531.3 443.6L529.8 443.6L528.3 443.6L526.8 443.5L525.2 443.5L523.7 443.5L522.2 443.5L520.7 443.4L519.3 443.4L519.2 443.4L517.7 443.4L516.2 443.3L514.7 443.2L513.2 443.1L511.7 443.0L510.2 442.9L508.6 442.7L507.1 442.6L505.6 442.5L504.1 442.3L502.7 442.2L502.6 442.2L501.1 442.0L499.6 441.9L498.1 441.7L496.6 441.5L495.1 441.3L493.5 441.1L492.0 440.9L490.5 440.7L489.0 440.5L487.5 440.3L486.0 440.1ZM486.0 443.2L502.7 444.3L502.7 444.7L486.0 445.1ZM562.0 393.2L563.5 393.3L565.0 393.5L566.5 393.6L568.0 393.7L569.5 393.8L571.1 393.8L572.6 393.9L574.1 393.9L575.6 394.0L577.1 394.0L578.6 394.0L578.7 394.0L580.1 394.0L581.6 393.9L583.1 393.9L584.6 393.8L586.2 393.7L587.7 393.6L589.2 393.5L590.7 393.4L592.2 393.2L593.7 393.1L595.2 393.0L595.3 393.0L596.7 392.9L598.2 392.7L599.7 392.5L601.2 392.4L602.8 392.2L604.3 392.0L605.8 391.9L607.3 391.8L608.8 391.8L609.0 391.8L610.3 391.8L611.8 391.8L613.3 391.9L614.8 391.9L616.3 392.0L617.8 392.1L619.4 392.2L620.9 392.3L622.4 392.4L623.9 392.5L624.5 392.6L625.4 392.6L626.9 392.7L628.4 392.8L629.9 392.9L631.4 393.0L632.9 393.1L634.5 393.2L636.0 393.3L637.5 393.4L639.0 393.5L640.5 393.6L642.0 393.7L642.0 394.0L640.5 394.3L639.0 394.5L637.5 394.8L636.0 395.0L634.5 395.2L632.9 395.4L631.4 395.6L629.9 395.8L628.4 396.0L626.9 396.1L625.4 396.3L624.5 396.3L623.9 396.4L622.4 396.5L620.9 396.6L619.4 396.7L617.8 396.7L616.3 396.8L614.8 396.9L613.3 397.0L611.8 397.0L610.3 397.1L609.0 397.2L608.8 397.2L607.3 397.3L605.8 397.4L604.3 397.5L602.8 397.6L601.2 397.6L599.7 397.7L598.2 397.8L596.7 397.8L595.3 397.8L595.2 397.8L593.7 397.8L592.2 397.8L590.7 397.8L589.2 397.8L587.7 397.8L586.2 397.8L584.6 397.7L583.1 397.7L581.6 397.7L580.1 397.6L578.7 397.6L578.6 397.6L577.1 397.5L575.6 397.4L574.1 397.3L572.6 397.1L571.1 397.0L569.5 396.8L568.0 396.5L566.5 396.3L565.0 396.0L563.5 395.8L562.0 395.5ZM634.5 397.2L642.0 396.3L642.0 398.4L634.5 397.5ZM562.0 402.0L563.5 402.0L565.0 402.0L566.6 402.0L568.1 402.0L569.6 402.0L571.1 402.0L572.7 402.0L574.2 402.0L575.7 402.0L577.2 402.0L578.7 402.0L578.8 402.0L580.3 402.0L581.8 402.0L583.3 402.0L584.9 402.0L586.4 402.0L587.9 402.0L589.4 402.0L590.9 402.1L592.5 402.1L594.0 402.1L595.3 402.1L595.5 402.1L597.0 402.1L598.6 402.1L600.1 402.1L601.6 402.1L603.1 402.1L604.7 402.1L606.2 402.1L607.7 402.1L609.2 402.2L610.8 402.2L610.8 404.0L609.2 404.1L607.7 404.2L606.2 404.4L604.7 404.5L603.1 404.7L601.6 404.8L600.1 405.0L598.6 405.1L597.0 405.3L595.5 405.5L595.3 405.5L594.0 405.7L592.5 405.9L590.9 406.1L589.4 406.3L587.9 406.6L586.4 406.8L584.9 407.1L583.3 407.3L581.8 407.6L580.3 407.8L578.8 408.0L578.7 408.0L577.2 408.2L575.7 408.4L574.2 408.6L572.7 408.7L571.1 408.9L569.6 409.1L568.1 409.2L566.6 409.4L565.0 409.5L563.5 409.7L562.0 409.8ZM611.2 401.3L612.7 401.3L614.2 401.3L615.8 401.3L617.3 401.3L618.9 401.3L620.4 401.3L622.0 401.3L623.5 401.3L625.0 401.3L626.6 401.3L628.1 401.3L628.7 401.3L629.7 401.3L631.2 401.3L632.8 401.3L634.3 401.3L635.8 401.3L637.4 401.3L638.9 401.3L640.5 401.3L642.0 401.3L642.0 407.6L640.5 407.4L638.9 407.3L637.4 407.1L635.8 407.0L634.3 406.9L632.8 406.7L631.2 406.6L629.7 406.6L628.7 406.5L628.1 406.5L626.6 406.4L625.0 406.3L623.5 406.3L622.0 406.2L620.4 406.1L618.9 406.1L617.3 406.0L615.8 406.0L614.2 406.0L612.7 405.9L611.2 405.9ZM595.3 407.0L608.7 407.2L608.7 407.7L595.3 407.8ZM571.2 412.5L572.7 412.5L574.2 412.4L575.8 412.4L577.3 412.3L578.8 412.3L580.4 412.3L581.9 412.2L583.4 412.2L584.9 412.2L586.5 412.2L588.0 412.1L589.5 412.1L591.1 412.1L592.6 412.1L594.1 412.0L595.7 412.0L597.2 412.0L598.7 412.0L600.3 412.0L601.8 412.0L603.3 412.0L603.7 412.0L604.8 412.0L606.4 412.0L607.9 412.0L609.4 412.0L611.0 412.0L612.5 412.0L614.0 412.0L615.6 412.0L617.1 412.0L618.6 412.1L620.2 412.1L621.7 412.1L623.2 412.1L624.8 412.1L626.3 412.1L627.8 412.2L629.3 412.2L630.9 412.2L632.4 412.2L633.9 412.3L635.5 412.3L637.0 412.3L637.0 412.8L635.5 412.9L633.9 412.9L632.4 412.9L630.9 412.9L629.3 413.0L627.8 413.0L626.3 413.0L624.8 413.0L623.2 413.1L621.7 413.1L620.2 413.1L618.6 413.1L617.1 413.1L615.6 413.1L614.0 413.1L612.5 413.1L611.0 413.2L609.4 413.2L607.9 413.2L606.4 413.2L604.8 413.2L603.7 413.2L603.3 413.2L601.8 413.2L600.3 413.2L598.7 413.2L597.2 413.2L595.7 413.1L594.1 413.1L592.6 413.1L591.1 413.1L589.5 413.1L588.0 413.1L586.5 413.1L584.9 413.1L583.4 413.0L581.9 413.0L580.4 413.0L578.8 413.0L577.3 412.9L575.8 412.9L574.2 412.9L572.7 412.9L571.2 412.8ZM562.0 417.8L593.7 417.2L593.7 417.7L562.0 418.8ZM611.2 417.2L642.0 417.2L642.0 417.8L611.2 417.8ZM578.7 429.0L580.2 428.8L581.7 428.6L583.2 428.4L584.8 428.2L586.3 428.0L587.8 427.8L589.3 427.7L590.9 427.5L592.4 427.4L593.9 427.3L595.3 427.2L595.4 427.2L597.0 427.1L598.5 427.0L600.0 426.9L601.5 426.8L603.1 426.7L604.6 426.6L606.1 426.5L607.6 426.5L609.0 426.5L609.2 426.5L610.7 426.5L612.2 426.5L613.7 426.5L615.3 426.5L616.8 426.6L618.3 426.6L619.8 426.6L621.3 426.7L622.9 426.7L624.4 426.7L624.5 426.8L625.9 426.8L627.4 426.9L629.0 427.0L630.5 427.2L632.0 427.3L633.5 427.5L635.1 427.7L636.6 427.9L638.1 428.2L639.6 428.4L641.2 428.7L641.2 429.0L639.6 429.3L638.1 429.5L636.6 429.7L635.1 429.9L633.5 430.2L632.0 430.3L630.5 430.5L629.0 430.7L627.4 430.8L625.9 430.9L624.5 430.9L624.4 430.9L622.9 431.0L621.3 431.0L619.8 431.0L618.3 431.1L616.8 431.1L615.3 431.1L613.7 431.1L612.2 431.2L610.7 431.2L609.2 431.2L609.0 431.2L607.6 431.2L606.1 431.1L604.6 431.1L603.1 431.0L601.5 430.9L600.0 430.8L598.5 430.7L597.0 430.6L595.4 430.5L595.3 430.5L593.9 430.4L592.4 430.3L590.9 430.2L589.3 430.1L587.8 430.0L586.3 429.9L584.8 429.8L583.2 429.7L581.7 429.6L580.2 429.5L578.7 429.3ZM562.0 431.8L592.8 432.2L592.8 432.5L562.0 433.0ZM562.0 436.2L563.5 436.2L565.0 436.2L566.5 436.2L568.0 436.2L569.5 436.2L571.0 436.2L572.5 436.2L574.0 436.2L575.5 436.2L577.1 436.2L578.6 436.2L578.7 436.2L580.1 436.3L581.6 436.3L583.1 436.3L584.6 436.3L586.1 436.4L587.6 436.4L589.1 436.5L590.6 436.5L592.1 436.6L593.6 436.6L595.1 436.7L595.3 436.7L596.6 436.7L598.1 436.8L599.6 436.8L601.1 436.9L602.6 436.9L604.2 437.0L605.7 437.0L607.2 437.1L608.7 437.2L608.7 437.5L607.2 437.5L605.7 437.5L604.2 437.6L602.6 437.6L601.1 437.7L599.6 437.8L598.1 437.8L596.6 437.9L595.3 438.0L595.1 438.0L593.6 438.1L592.1 438.3L590.6 438.4L589.1 438.6L587.6 438.8L586.1 439.0L584.6 439.3L583.1 439.5L581.6 439.7L580.1 439.9L578.7 440.1L578.6 440.1L577.1 440.3L575.5 440.5L574.0 440.7L572.5 440.8L571.0 441.0L569.5 441.2L568.0 441.4L566.5 441.6L565.0 441.8L563.5 442.0L562.0 442.2ZM616.2 436.7L617.7 436.7L619.2 436.7L620.7 436.7L622.2 436.7L623.8 436.7L625.3 436.7L626.8 436.7L628.3 436.7L628.7 436.8L629.8 436.8L631.4 436.8L632.9 436.8L634.4 436.9L635.9 436.9L637.4 437.0L639.0 437.0L640.5 437.1L642.0 437.2L642.0 440.1L640.5 439.8L639.0 439.5L637.4 439.2L635.9 439.0L634.4 438.7L632.9 438.5L631.4 438.3L629.8 438.1L628.7 438.0L628.3 438.0L626.8 437.8L625.3 437.7L623.8 437.5L622.2 437.4L620.7 437.3L619.2 437.2L617.7 437.1L616.2 437.0ZM574.5 443.2L576.0 442.9L577.5 442.6L579.0 442.3L580.5 442.0L582.0 441.8L583.5 441.5L585.0 441.3L586.5 441.1L588.0 440.9L589.5 440.7L591.0 440.5L591.2 440.5L592.5 440.3L594.0 440.2L595.5 440.0L597.0 439.8L598.5 439.7L600.0 439.5L601.5 439.4L603.0 439.2L604.5 439.1L606.0 439.1L607.5 439.0L609.0 439.0L610.5 439.0L612.0 439.1L613.5 439.1L615.0 439.2L616.5 439.3L618.0 439.5L619.5 439.6L621.0 439.7L622.5 439.9L624.0 440.0L624.5 440.1L625.5 440.2L627.0 440.4L628.5 440.5L630.0 440.8L631.5 441.0L633.0 441.2L634.5 441.5L636.0 441.8L637.5 442.1L639.0 442.4L640.5 442.7L642.0 443.0L642.0 444.0L640.5 444.0L639.0 444.0L637.5 444.0L636.0 444.0L634.5 444.0L633.0 444.0L631.5 444.0L630.0 444.0L628.5 444.0L627.0 444.0L625.5 444.0L624.5 444.0L624.0 444.0L622.5 444.0L621.0 443.9L619.5 443.9L618.0 443.8L616.5 443.7L615.0 443.6L613.5 443.5L612.0 443.5L610.5 443.4L609.0 443.4L607.5 443.4L606.0 443.5L604.5 443.5L603.0 443.6L601.5 443.6L600.0 443.7L598.5 443.8L597.0 443.9L595.5 443.9L594.0 444.0L592.5 444.0L591.2 444.0L591.0 444.0L589.5 444.0L588.0 444.0L586.5 444.0L585.0 443.9L583.5 443.9L582.0 443.8L580.5 443.8L579.0 443.7L577.5 443.7L576.0 443.6L574.5 443.5ZM644.7 391.5L646.2 391.5L647.7 391.5L649.2 391.5L650.7 391.4L652.2 391.4L653.7 391.4L655.2 391.4L656.7 391.4L658.2 391.3L659.7 391.3L661.2 391.3L662.8 391.3L663.0 391.2L664.3 391.2L665.8 391.2L667.3 391.2L668.8 391.1L670.3 391.1L671.8 391.0L673.3 391.0L674.8 391.0L676.3 390.9L677.8 390.9L679.3 390.8L679.7 390.8L680.8 390.8L682.3 390.7L683.9 390.7L685.4 390.6L686.9 390.6L688.4 390.5L689.9 390.5L691.4 390.4L692.9 390.4L694.4 390.3L695.9 390.3L696.3 390.3L697.4 390.3L698.9 390.3L700.4 390.3L701.9 390.3L703.4 390.3L705.0 390.4L706.5 390.4L708.0 390.4L709.5 390.4L711.0 390.4L712.5 390.5L714.0 390.5L714.0 393.0L712.5 393.1L711.0 393.2L709.5 393.3L708.0 393.4L706.5 393.5L705.0 393.5L703.4 393.6L701.9 393.7L700.4 393.7L698.9 393.8L697.4 393.8L696.3 393.8L695.9 393.8L694.4 393.9L692.9 393.9L691.4 393.9L689.9 393.9L688.4 393.9L686.9 394.0L685.4 394.0L683.9 394.0L682.3 394.0L680.8 394.0L679.7 394.0L679.3 394.0L677.8 394.0L676.3 393.9L674.8 393.8L673.3 393.6L671.8 393.5L670.3 393.3L668.8 393.1L667.3 392.9L665.8 392.8L664.3 392.7L663.0 392.6L662.8 392.6L661.2 392.5L659.7 392.4L658.2 392.3L656.7 392.3L655.2 392.2L653.7 392.1L652.2 392.1L650.7 392.0L649.2 391.9L647.7 391.9L646.2 391.9L644.7 391.8ZM638.0 393.2L643.0 393.4L643.0 393.8L638.0 394.2ZM638.0 396.8L639.5 396.5L641.0 396.3L642.6 396.0L644.1 395.8L645.6 395.6L647.1 395.5L648.6 395.3L650.2 395.2L651.7 395.2L653.2 395.1L654.7 395.1L654.7 395.1L656.2 395.1L657.8 395.1L659.3 395.1L660.8 395.2L662.3 395.2L663.8 395.2L665.4 395.3L666.9 395.3L667.2 395.3L668.4 395.4L669.9 395.6L671.4 395.8L673.0 396.1L674.5 396.4L676.0 396.7L677.5 396.9L679.0 397.0L679.7 397.0L680.6 397.0L682.1 397.0L683.6 397.0L685.1 397.0L686.6 396.9L688.2 396.9L689.7 396.9L691.2 396.9L692.7 396.8L694.2 396.8L695.8 396.8L696.3 396.8L697.3 396.7L698.8 396.7L700.3 396.7L701.8 396.6L703.4 396.6L704.9 396.6L706.4 396.5L707.9 396.5L709.4 396.5L711.0 396.4L712.5 396.4L714.0 396.3L714.0 398.7L712.5 398.7L711.0 398.7L709.4 398.7L707.9 398.6L706.4 398.6L704.9 398.6L703.4 398.6L701.8 398.6L700.3 398.6L698.8 398.6L697.3 398.6L696.3 398.6L695.8 398.6L694.2 398.6L692.7 398.6L691.2 398.5L689.7 398.5L688.2 398.5L686.6 398.5L685.1 398.5L683.6 398.5L682.1 398.4L680.6 398.4L679.7 398.4L679.0 398.4L677.5 398.4L676.0 398.4L674.5 398.4L673.0 398.4L671.4 398.4L669.9 398.4L668.4 398.3L667.2 398.3L666.9 398.3L665.4 398.3L663.8 398.3L662.3 398.3L660.8 398.2L659.3 398.2L657.8 398.2L656.2 398.2L654.7 398.2L654.7 398.2L653.2 398.2L651.7 398.2L650.2 398.2L648.6 398.2L647.1 398.2L645.6 398.2L644.1 398.3L642.6 398.3L641.0 398.3L639.5 398.4L638.0 398.4ZM638.0 401.5L639.5 401.5L641.0 401.5L642.6 401.5L644.1 401.5L645.6 401.5L647.1 401.5L648.6 401.5L650.2 401.5L651.7 401.5L653.2 401.5L654.7 401.5L654.7 401.5L656.2 401.5L657.8 401.5L659.3 401.5L660.8 401.5L662.3 401.5L663.8 401.5L665.4 401.5L666.9 401.4L668.4 401.4L669.9 401.4L671.3 401.4L671.4 401.4L673.0 401.4L674.5 401.4L676.0 401.4L677.5 401.4L679.0 401.4L680.6 401.4L682.1 401.4L683.6 401.4L685.1 401.3L686.6 401.3L688.2 401.3L689.7 401.3L691.2 401.3L692.2 401.3L692.7 401.3L694.2 401.3L695.8 401.3L697.3 401.3L698.8 401.3L700.3 401.3L701.8 401.3L703.4 401.3L704.9 401.3L706.4 401.3L707.9 401.3L709.4 401.3L711.0 401.3L712.5 401.3L714.0 401.3L714.0 408.0L712.5 408.2L711.0 408.3L709.4 408.4L707.9 408.6L706.4 408.7L704.9 408.8L703.4 408.9L701.8 409.0L700.3 409.1L698.8 409.1L697.3 409.2L695.8 409.2L694.2 409.2L692.7 409.2L692.2 409.2L691.2 409.2L689.7 409.2L688.2 409.2L686.6 409.2L685.1 409.1L683.6 409.0L682.1 409.0L680.6 408.9L679.0 408.8L677.5 408.7L676.0 408.7L674.5 408.6L673.0 408.5L671.4 408.4L671.3 408.4L669.9 408.3L668.4 408.2L666.9 408.1L665.4 408.0L663.8 407.9L662.3 407.8L660.8 407.7L659.3 407.6L657.8 407.5L656.2 407.4L654.7 407.3L654.7 407.3L653.2 407.3L651.7 407.2L650.2 407.1L648.6 407.1L647.1 407.0L645.6 407.0L644.1 406.9L642.6 406.9L641.0 406.8L639.5 406.8L638.0 406.8ZM647.2 413.2L669.7 413.3L669.7 413.7L647.2 413.8ZM689.7 414.5L714.0 414.2L714.0 415.5L689.7 414.8ZM644.7 417.3L646.2 417.2L647.7 417.2L649.2 417.1L650.7 417.0L652.2 417.0L653.7 416.9L655.2 416.9L656.7 416.8L658.2 416.8L659.7 416.8L661.2 416.8L662.8 416.8L664.3 416.8L665.8 416.8L667.3 416.8L668.8 416.8L670.3 416.8L671.3 416.8L671.8 416.8L673.3 416.8L674.8 416.9L676.3 417.0L677.8 417.1L679.3 417.3L680.8 417.4L682.3 417.6L683.9 417.7L685.4 417.9L686.9 418.0L688.0 418.0L688.4 418.0L689.9 418.1L691.4 418.1L692.9 418.1L694.4 418.2L695.9 418.2L697.4 418.2L698.9 418.3L700.4 418.3L701.9 418.3L703.4 418.3L705.0 418.4L706.5 418.4L708.0 418.4L709.5 418.4L711.0 418.4L712.5 418.4L714.0 418.4L714.0 420.9L712.5 420.9L711.0 420.9L709.5 420.9L708.0 420.9L706.5 420.9L705.0 420.9L703.4 420.8L701.9 420.8L700.4 420.8L698.9 420.8L697.4 420.7L695.9 420.7L694.4 420.7L692.9 420.6L691.4 420.6L689.9 420.6L688.4 420.5L688.0 420.5L686.9 420.4L685.4 420.3L683.9 420.1L682.3 419.9L680.8 419.7L679.3 419.4L677.8 419.2L676.3 419.0L674.8 418.7L673.3 418.6L671.8 418.4L671.3 418.4L670.3 418.4L668.8 418.3L667.3 418.2L665.8 418.2L664.3 418.1L662.8 418.0L661.2 418.0L659.7 417.9L658.2 417.9L656.7 417.8L655.2 417.8L653.7 417.8L652.2 417.7L650.7 417.7L649.2 417.7L647.7 417.7L646.2 417.7L644.7 417.7ZM651.3 426.2L673.0 426.3L673.0 426.8L651.3 427.0ZM686.3 425.7L687.9 425.7L689.4 425.7L690.9 425.7L692.5 425.7L694.0 425.8L695.6 425.8L697.1 425.8L698.6 425.9L700.2 425.9L700.5 425.9L701.7 426.0L703.2 426.0L704.8 426.1L706.3 426.2L707.9 426.3L709.4 426.4L710.9 426.5L712.5 426.6L714.0 426.7L714.0 427.3L712.5 427.3L710.9 427.3L709.4 427.3L707.9 427.3L706.3 427.3L704.8 427.2L703.2 427.2L701.7 427.2L700.5 427.2L700.2 427.2L698.6 427.1L697.1 427.0L695.6 426.9L694.0 426.8L692.5 426.7L690.9 426.5L689.4 426.4L687.9 426.2L686.3 426.0ZM638.0 427.2L648.0 428.4L648.0 428.8L638.0 430.1ZM643.0 432.6L644.5 432.2L646.0 431.9L647.5 431.5L649.0 431.2L650.6 430.9L652.1 430.7L653.6 430.6L654.7 430.5L655.1 430.5L656.6 430.4L658.1 430.4L659.6 430.3L661.1 430.2L662.6 430.2L664.1 430.2L665.7 430.1L667.2 430.1L668.7 430.1L670.2 430.1L671.3 430.1L671.7 430.1L673.2 430.1L674.7 430.1L676.2 430.1L677.7 430.1L679.3 430.2L680.8 430.2L682.3 430.2L683.8 430.3L685.3 430.3L686.8 430.3L688.3 430.4L689.8 430.4L691.3 430.5L692.2 430.5L692.9 430.5L694.4 430.6L695.9 430.7L697.4 430.7L698.9 430.8L700.4 430.9L701.9 431.0L703.4 431.2L704.9 431.3L706.4 431.4L708.0 431.6L709.5 431.7L711.0 431.9L712.5 432.0L714.0 432.2L714.0 434.0L712.5 434.0L711.0 434.0L709.5 434.0L708.0 434.0L706.4 433.9L704.9 433.9L703.4 433.9L701.9 433.9L700.4 433.9L698.9 433.9L697.4 433.9L695.9 433.9L694.4 433.9L692.9 433.8L692.2 433.8L691.3 433.8L689.8 433.8L688.3 433.8L686.8 433.8L685.3 433.8L683.8 433.8L682.3 433.8L680.8 433.7L679.3 433.7L677.7 433.7L676.2 433.7L674.7 433.7L673.2 433.7L671.7 433.7L671.3 433.7L670.2 433.7L668.7 433.6L667.2 433.6L665.7 433.6L664.1 433.6L662.6 433.6L661.1 433.5L659.6 433.5L658.1 433.5L656.6 433.5L655.1 433.4L654.7 433.4L653.6 433.4L652.1 433.3L650.6 433.3L649.0 433.2L647.5 433.2L646.0 433.1L644.5 433.1L643.0 433.0ZM638.0 437.3L639.5 437.3L641.0 437.2L642.6 437.2L644.1 437.1L645.6 437.0L646.3 437.0L647.1 437.0L648.6 436.9L650.2 436.8L651.7 436.8L653.2 436.7L654.7 436.7L654.7 436.7L656.2 436.6L657.8 436.6L659.3 436.6L660.8 436.6L662.3 436.6L663.8 436.6L665.4 436.6L666.9 436.5L668.4 436.5L669.9 436.5L671.4 436.5L673.0 436.5L674.5 436.5L676.0 436.5L677.5 436.5L679.0 436.5L679.7 436.5L680.6 436.5L682.1 436.5L683.6 436.5L685.1 436.5L686.6 436.5L688.2 436.5L689.7 436.5L691.2 436.6L692.7 436.6L694.2 436.6L695.8 436.6L697.3 436.6L698.8 436.7L700.3 436.7L701.8 436.7L703.4 436.7L704.9 436.8L706.4 436.8L707.9 436.8L709.4 436.9L711.0 436.9L712.5 437.0L714.0 437.0L714.0 443.0L712.5 443.0L711.0 443.0L709.4 443.0L707.9 443.0L706.4 443.0L704.9 443.0L703.4 443.0L701.8 443.0L700.3 443.0L698.8 443.0L697.3 443.0L695.8 443.0L694.2 443.0L692.7 443.0L691.2 443.0L689.7 443.0L688.2 443.0L686.6 443.0L685.1 443.0L683.6 443.0L682.1 443.0L680.6 443.0L679.7 443.0L679.0 443.0L677.5 443.0L676.0 443.0L674.5 443.0L673.0 443.1L671.4 443.1L669.9 443.1L668.4 443.2L666.9 443.2L665.4 443.3L663.8 443.3L662.3 443.3L660.8 443.4L659.3 443.4L657.8 443.4L656.2 443.4L654.7 443.4L654.7 443.4L653.2 443.4L651.7 443.2L650.2 442.9L648.6 442.6L647.1 442.3L646.3 442.2L645.6 442.0L644.1 441.7L642.6 441.3L641.0 440.9L639.5 440.5L638.0 440.1ZM638.0 443.2L646.3 443.7L646.3 444.2L638.0 444.7ZM420.8 446.2L422.4 446.1L423.9 446.1L425.4 446.1L427.0 446.1L428.5 446.0L430.0 446.0L431.6 446.0L433.1 446.0L434.6 445.9L436.2 445.9L437.7 445.9L439.2 445.9L440.8 445.8L441.7 445.8L442.3 445.8L443.8 445.8L445.3 445.8L446.9 445.8L448.4 445.7L449.9 445.7L451.5 445.7L453.0 445.7L454.5 445.7L456.1 445.6L457.6 445.6L459.1 445.6L460.7 445.6L462.2 445.6L463.7 445.6L465.3 445.5L466.8 445.5L468.3 445.5L468.3 446.0L466.8 446.2L465.3 446.3L463.7 446.5L462.2 446.6L460.7 446.7L459.1 446.9L457.6 447.0L456.1 447.1L454.5 447.2L453.0 447.2L451.5 447.3L449.9 447.4L448.4 447.4L446.9 447.4L445.3 447.5L443.8 447.5L442.3 447.5L441.7 447.5L440.8 447.5L439.2 447.5L437.7 447.5L436.2 447.4L434.6 447.4L433.1 447.3L431.6 447.3L430.0 447.2L428.5 447.1L427.0 447.0L425.4 446.9L423.9 446.8L422.4 446.6L420.8 446.5ZM412.5 449.2L430.8 449.5L430.8 449.8L412.5 450.2ZM460.0 451.8L487.5 451.9L487.5 452.3L460.0 452.6ZM425.0 457.2L426.5 457.0L428.0 456.9L429.5 456.8L431.0 456.7L432.5 456.6L434.0 456.5L435.5 456.4L437.0 456.4L438.5 456.3L440.0 456.3L441.5 456.3L443.0 456.3L444.5 456.3L446.0 456.3L447.5 456.4L449.0 456.4L450.5 456.4L452.0 456.4L453.5 456.5L455.0 456.5L455.0 457.0L453.5 457.2L452.0 457.4L450.5 457.6L449.0 457.8L447.5 458.0L446.0 458.1L444.5 458.2L443.0 458.3L441.5 458.3L440.0 458.3L438.5 458.3L437.0 458.3L435.5 458.3L434.0 458.2L432.5 458.2L431.0 458.1L429.5 458.0L428.0 457.8L426.5 457.7L425.0 457.5ZM450.0 459.3L451.5 459.1L453.1 458.9L454.6 458.7L456.1 458.5L457.7 458.4L459.2 458.2L460.7 458.0L462.3 457.9L463.8 457.8L464.2 457.8L465.4 457.7L466.9 457.6L468.4 457.4L470.0 457.3L471.5 457.3L473.0 457.2L474.6 457.1L476.1 457.0L477.6 457.0L479.2 456.9L479.2 457.3L477.6 457.5L476.1 457.7L474.6 457.9L473.0 458.0L471.5 458.2L470.0 458.3L468.4 458.5L466.9 458.6L465.4 458.7L464.2 458.8L463.8 458.9L462.3 459.0L460.7 459.1L459.2 459.2L457.7 459.3L456.1 459.4L454.6 459.5L453.1 459.5L451.5 459.6L450.0 459.7ZM412.5 462.2L414.1 462.3L415.6 462.4L417.2 462.5L418.8 462.6L420.3 462.6L421.9 462.7L423.4 462.7L425.0 462.7L426.6 462.7L426.7 462.8L428.1 462.7L429.7 462.7L431.2 462.7L432.8 462.7L434.4 462.6L435.9 462.6L437.5 462.5L437.5 462.8L435.9 463.1L434.4 463.3L432.8 463.5L431.2 463.6L429.7 463.7L428.1 463.8L426.7 463.8L426.6 463.8L425.0 463.8L423.4 463.8L421.9 463.8L420.3 463.8L418.8 463.7L417.2 463.7L415.6 463.6L414.1 463.5L412.5 463.3ZM468.3 461.2L490.0 461.2L490.0 461.8L468.3 461.8ZM435.8 464.8L437.3 464.6L438.8 464.4L440.3 464.3L441.8 464.2L443.3 464.2L444.8 464.2L446.3 464.2L447.8 464.3L449.3 464.4L450.8 464.5L450.8 464.8L449.3 465.2L447.8 465.4L446.3 465.7L444.8 465.8L443.3 465.8L441.8 465.8L440.3 465.7L438.8 465.6L437.3 465.4L435.8 465.2ZM457.5 464.2L463.3 464.2L463.3 464.6L457.5 464.8ZM435.0 473.5L436.6 473.4L438.2 473.3L439.8 473.2L441.4 473.0L443.0 472.9L444.6 472.8L445.8 472.8L446.2 472.7L447.8 472.6L449.4 472.5L451.0 472.4L452.6 472.3L454.2 472.3L455.8 472.2L455.8 472.7L454.2 473.0L452.6 473.3L451.0 473.6L449.4 473.8L447.8 473.9L446.2 474.0L445.8 474.0L444.6 474.0L443.0 474.0L441.4 474.0L439.8 474.0L438.2 473.9L436.6 473.9L435.0 473.8ZM450.0 479.8L451.5 479.7L453.1 479.7L454.6 479.6L456.2 479.5L457.7 479.4L459.2 479.2L460.8 479.1L462.3 479.0L463.8 478.9L465.4 478.8L466.9 478.7L468.3 478.6L468.5 478.6L470.0 478.4L471.5 478.3L473.1 478.1L474.6 478.0L476.2 477.8L477.7 477.7L479.2 477.6L480.8 477.5L480.8 477.5L482.3 477.5L483.8 477.4L485.4 477.4L486.9 477.4L488.5 477.3L490.0 477.3L490.0 479.4L488.5 479.5L486.9 479.5L485.4 479.6L483.8 479.7L482.3 479.8L480.8 479.8L480.8 479.8L479.2 479.9L477.7 480.0L476.2 480.1L474.6 480.2L473.1 480.3L471.5 480.4L470.0 480.5L468.5 480.5L468.3 480.5L466.9 480.5L465.4 480.5L463.8 480.5L462.3 480.5L460.8 480.5L459.2 480.5L457.7 480.4L456.2 480.4L454.6 480.4L453.1 480.3L451.5 480.2L450.0 480.2ZM433.3 479.5L450.0 479.6L450.0 479.8L433.3 479.9ZM443.3 486.5L466.7 486.7L466.7 487.2L443.3 487.3ZM475.0 484.2L490.0 484.0L490.0 485.2L475.0 485.1ZM412.5 489.4L414.0 489.4L415.5 489.4L417.1 489.5L418.6 489.5L420.1 489.6L421.6 489.6L423.2 489.7L424.7 489.7L426.2 489.8L426.7 489.8L427.7 489.9L429.3 490.0L430.8 490.2L432.3 490.3L433.8 490.5L435.3 490.8L436.9 491.0L438.4 491.2L439.9 491.3L441.4 491.5L443.0 491.6L443.3 491.7L444.5 491.7L446.0 491.8L447.5 491.9L449.1 492.0L450.6 492.1L452.1 492.2L453.6 492.2L455.1 492.3L456.7 492.3L456.7 492.7L455.1 492.7L453.6 492.8L452.1 492.8L450.6 492.8L449.1 492.8L447.5 492.8L446.0 492.8L444.5 492.8L443.3 492.8L443.0 492.8L441.4 492.8L439.9 492.8L438.4 492.7L436.9 492.6L435.3 492.6L433.8 492.5L432.3 492.4L430.8 492.3L429.3 492.3L427.7 492.2L426.7 492.2L426.2 492.2L424.7 492.1L423.2 492.1L421.6 492.1L420.1 492.0L418.6 492.0L417.1 492.0L415.5 491.9L414.0 491.9L412.5 491.9ZM456.7 492.2L490.0 492.2L490.0 492.8L456.7 492.8ZM412.5 498.0L439.2 497.3L439.2 497.8L412.5 499.0ZM458.3 499.3L459.8 499.3L461.3 499.3L462.9 499.2L464.4 499.2L465.9 499.2L467.4 499.2L468.9 499.2L470.4 499.2L471.9 499.2L473.4 499.2L474.9 499.2L476.4 499.2L476.7 499.2L477.9 499.2L479.4 499.2L481.0 499.2L482.5 499.3L484.0 499.3L485.5 499.4L487.0 499.5L488.5 499.6L490.0 499.7L490.0 500.5L488.5 500.5L487.0 500.5L485.5 500.5L484.0 500.5L482.5 500.5L481.0 500.5L479.4 500.5L477.9 500.5L476.7 500.5L476.4 500.5L474.9 500.5L473.4 500.5L471.9 500.4L470.4 500.4L468.9 500.3L467.4 500.2L465.9 500.2L464.4 500.1L462.9 500.0L461.3 499.9L459.8 499.8L458.3 499.7ZM431.7 501.5L433.2 501.2L434.8 501.0L436.3 500.8L437.9 500.6L439.4 500.4L441.0 500.3L442.5 500.3L443.3 500.2L444.0 500.3L445.6 500.3L447.1 500.3L448.7 500.3L450.2 500.3L451.8 500.4L453.3 500.5L453.3 501.0L451.8 501.3L450.2 501.6L448.7 501.9L447.1 502.1L445.6 502.2L444.0 502.3L443.3 502.3L442.5 502.3L441.0 502.3L439.4 502.3L437.9 502.3L436.3 502.2L434.8 502.1L433.2 502.0L431.7 501.8ZM496.8 448.3L498.3 448.2L499.8 448.1L501.4 448.0L502.9 448.0L504.4 447.9L505.9 447.9L507.4 447.8L508.9 447.8L510.4 447.8L511.9 447.8L513.4 447.8L514.9 447.8L515.2 447.8L516.4 447.8L517.9 447.8L519.4 447.8L520.9 447.9L522.4 447.9L523.9 448.0L525.5 448.1L527.0 448.2L528.5 448.4L530.0 448.5L531.5 448.7L533.0 448.8L534.5 449.0L536.0 449.2L536.0 449.7L534.5 449.7L533.0 449.8L531.5 449.8L530.0 449.9L528.5 449.9L527.0 449.9L525.5 450.0L523.9 450.0L522.4 450.0L520.9 450.0L519.4 450.0L517.9 450.0L516.4 450.0L515.2 450.0L514.9 450.0L513.4 450.0L511.9 449.9L510.4 449.9L508.9 449.8L507.4 449.7L505.9 449.6L504.4 449.5L502.9 449.3L501.4 449.2L499.8 449.0L498.3 448.8L496.8 448.7ZM550.2 447.3L566.0 447.2L566.0 448.3L550.2 448.2ZM519.3 454.3L520.8 454.2L522.3 454.1L523.8 453.9L525.4 453.8L526.9 453.7L528.4 453.6L529.9 453.5L531.4 453.4L532.9 453.3L534.4 453.3L535.9 453.2L537.4 453.2L538.9 453.2L540.2 453.2L540.4 453.2L541.9 453.2L543.4 453.2L544.9 453.2L546.4 453.2L547.9 453.2L549.4 453.2L550.9 453.2L552.5 453.3L554.0 453.3L555.5 453.3L557.0 453.4L558.5 453.4L560.0 453.5L561.5 453.6L563.0 453.6L564.5 453.7L566.0 453.8L566.0 455.7L564.5 455.7L563.0 455.6L561.5 455.6L560.0 455.6L558.5 455.6L557.0 455.6L555.5 455.5L554.0 455.5L552.5 455.5L550.9 455.5L549.4 455.4L547.9 455.4L546.4 455.4L544.9 455.3L543.4 455.3L541.9 455.3L540.4 455.3L540.2 455.2L538.9 455.2L537.4 455.2L535.9 455.2L534.4 455.1L532.9 455.1L531.4 455.0L529.9 455.0L528.4 455.0L526.9 454.9L525.4 454.9L523.8 454.8L522.3 454.8L520.8 454.7L519.3 454.7ZM502.7 458.1L522.7 458.2L522.7 458.6L502.7 458.8ZM491.0 464.0L492.5 463.8L494.1 463.6L495.6 463.4L497.1 463.2L498.7 463.0L500.2 462.8L501.7 462.7L503.3 462.6L504.8 462.5L506.3 462.4L507.9 462.3L509.3 462.3L509.4 462.3L510.9 462.3L512.5 462.3L514.0 462.3L515.5 462.3L517.1 462.4L518.6 462.4L520.1 462.4L521.7 462.4L523.2 462.5L524.7 462.5L526.3 462.6L527.8 462.7L529.3 462.8L529.3 463.3L527.8 463.7L526.3 464.0L524.7 464.3L523.2 464.6L521.7 464.8L520.1 465.1L518.6 465.3L517.1 465.4L515.5 465.6L514.0 465.7L512.5 465.8L510.9 465.8L509.4 465.8L509.3 465.8L507.9 465.8L506.3 465.8L504.8 465.8L503.3 465.7L501.7 465.6L500.2 465.5L498.7 465.4L497.1 465.2L495.6 465.0L494.1 464.8L492.5 464.6L491.0 464.3ZM539.3 463.3L540.9 463.4L542.5 463.4L544.0 463.4L545.6 463.5L547.2 463.5L548.7 463.5L550.3 463.6L551.9 463.6L552.7 463.7L553.5 463.7L555.0 463.8L556.6 463.8L558.2 463.9L559.7 464.0L561.3 464.1L562.9 464.1L564.4 464.2L566.0 464.3L566.0 464.8L564.4 464.8L562.9 464.8L561.3 464.7L559.7 464.7L558.2 464.7L556.6 464.6L555.0 464.6L553.5 464.5L552.7 464.5L551.9 464.5L550.3 464.4L548.7 464.3L547.2 464.3L545.6 464.2L544.0 464.1L542.5 464.0L540.9 463.9L539.3 463.8ZM504.3 469.0L505.8 468.9L507.3 468.8L508.8 468.7L510.3 468.6L511.9 468.5L513.4 468.4L514.9 468.3L516.4 468.2L517.9 468.1L519.4 468.0L520.9 467.9L522.4 467.8L523.5 467.8L523.9 467.7L525.4 467.6L526.9 467.5L528.4 467.3L529.9 467.2L531.4 467.0L532.9 466.8L534.4 466.7L535.9 466.5L537.4 466.4L538.9 466.3L540.4 466.2L541.9 466.1L543.4 466.1L544.3 466.1L544.9 466.1L546.4 466.1L548.0 466.1L549.5 466.2L551.0 466.3L552.5 466.4L554.0 466.5L555.5 466.7L557.0 466.8L558.5 467.0L560.0 467.2L561.5 467.4L563.0 467.6L564.5 467.9L566.0 468.2L566.0 469.4L564.5 469.5L563.0 469.6L561.5 469.7L560.0 469.8L558.5 469.9L557.0 469.9L555.5 470.0L554.0 470.1L552.5 470.1L551.0 470.2L549.5 470.2L548.0 470.2L546.4 470.2L544.9 470.2L544.3 470.2L543.4 470.2L541.9 470.2L540.4 470.2L538.9 470.2L537.4 470.2L535.9 470.1L534.4 470.1L532.9 470.1L531.4 470.0L529.9 470.0L528.4 470.0L526.9 469.9L525.4 469.9L523.9 469.8L523.5 469.8L522.4 469.8L520.9 469.8L519.4 469.7L517.9 469.7L516.4 469.7L514.9 469.6L513.4 469.6L511.9 469.5L510.3 469.5L508.8 469.5L507.3 469.4L505.8 469.4L504.3 469.3ZM486.0 477.3L500.2 478.0L500.2 478.5L486.0 479.7ZM505.2 477.2L521.0 477.4L521.0 477.8L505.2 477.9ZM486.0 484.4L487.6 484.0L489.2 483.6L490.8 483.3L492.4 483.0L494.0 482.8L495.6 482.6L497.2 482.4L498.5 482.3L498.8 482.3L500.4 482.3L502.0 482.2L503.6 482.2L505.2 482.2L505.2 482.5L503.6 482.9L502.0 483.3L500.4 483.7L498.8 484.0L498.5 484.0L497.2 484.2L495.6 484.4L494.0 484.6L492.4 484.8L490.8 485.0L489.2 485.1L487.6 485.2L486.0 485.2ZM501.0 486.3L502.5 486.0L504.1 485.7L505.6 485.4L507.2 485.1L508.7 484.8L510.2 484.5L511.8 484.3L513.3 484.2L514.9 484.0L515.2 484.0L516.4 483.9L517.9 483.8L519.5 483.7L521.0 483.6L522.6 483.6L524.1 483.5L525.6 483.4L527.2 483.3L528.7 483.3L530.3 483.2L531.8 483.2L533.3 483.2L534.9 483.2L536.0 483.2L536.4 483.2L538.0 483.2L539.5 483.2L541.1 483.3L542.6 483.3L544.1 483.4L545.7 483.5L547.2 483.6L548.8 483.7L550.3 483.9L551.8 484.0L551.8 484.3L550.3 484.4L548.8 484.5L547.2 484.6L545.7 484.7L544.1 484.7L542.6 484.8L541.1 484.9L539.5 485.0L538.0 485.1L536.4 485.2L536.0 485.2L534.9 485.3L533.3 485.5L531.8 485.6L530.3 485.8L528.7 485.9L527.2 486.1L525.6 486.3L524.1 486.4L522.6 486.5L521.0 486.7L519.5 486.8L517.9 486.9L516.4 486.9L515.2 486.9L514.9 486.9L513.3 486.9L511.8 486.9L510.2 486.9L508.7 486.9L507.2 486.9L505.6 486.8L504.1 486.8L502.5 486.7L501.0 486.7ZM552.7 482.2L566.0 481.5L566.0 484.2L552.7 482.5ZM501.0 490.2L502.5 490.1L504.0 490.0L505.5 490.0L507.0 489.9L508.6 489.9L510.1 489.8L511.0 489.8L511.6 489.8L513.1 489.9L514.6 489.9L516.1 489.9L517.6 490.0L519.1 490.1L520.6 490.2L522.1 490.3L523.7 490.5L525.2 490.7L525.2 491.2L523.7 491.6L522.1 491.9L520.6 492.2L519.1 492.4L517.6 492.5L516.1 492.6L514.6 492.7L513.1 492.7L511.6 492.7L511.0 492.8L510.1 492.7L508.6 492.6L507.0 492.4L505.5 492.0L504.0 491.6L502.5 491.2L501.0 490.7ZM531.0 490.5L532.5 490.4L534.1 490.3L535.6 490.1L537.2 490.0L538.7 490.0L540.3 489.9L541.8 489.8L543.4 489.7L544.9 489.7L546.5 489.7L548.0 489.7L548.5 489.7L549.6 489.7L551.1 489.7L552.7 489.7L554.2 489.7L555.8 489.7L557.3 489.8L558.9 489.8L560.4 489.9L562.0 489.9L563.5 490.0L563.5 490.5L562.0 490.7L560.4 490.8L558.9 491.0L557.3 491.1L555.8 491.2L554.2 491.3L552.7 491.4L551.1 491.5L549.6 491.5L548.5 491.5L548.0 491.5L546.5 491.5L544.9 491.5L543.4 491.5L541.8 491.4L540.3 491.4L538.7 491.3L537.2 491.3L535.6 491.2L534.1 491.1L532.5 491.0L531.0 490.8ZM488.5 496.7L504.3 497.0L504.3 497.3L488.5 497.7ZM505.2 497.5L522.7 498.0L522.7 498.3L505.2 498.8ZM486.0 499.0L492.7 499.7L492.7 500.0L486.0 500.7ZM554.3 501.0L566.0 500.7L566.0 502.3L554.3 501.3ZM562.0 447.8L563.5 447.9L565.0 448.0L566.6 448.1L568.1 448.2L569.6 448.3L571.1 448.3L572.7 448.4L574.2 448.5L575.7 448.6L577.2 448.6L578.8 448.7L580.3 448.7L581.8 448.8L583.3 448.8L584.9 448.8L586.4 448.8L587.0 448.8L587.9 448.8L589.4 448.8L591.0 448.8L592.5 448.8L594.0 448.8L595.5 448.7L597.1 448.7L598.6 448.7L600.1 448.7L601.6 448.6L603.2 448.6L604.7 448.6L606.2 448.6L607.7 448.6L609.0 448.6L609.3 448.6L610.8 448.6L612.3 448.6L613.8 448.7L615.4 448.7L616.9 448.8L618.4 448.8L619.9 448.9L621.5 449.0L623.0 449.1L624.5 449.2L624.5 449.7L623.0 449.8L621.5 450.0L619.9 450.1L618.4 450.2L616.9 450.4L615.4 450.5L613.8 450.5L612.3 450.6L610.8 450.6L609.3 450.7L609.0 450.7L607.7 450.7L606.2 450.6L604.7 450.6L603.2 450.6L601.6 450.5L600.1 450.5L598.6 450.4L597.1 450.3L595.5 450.2L594.0 450.2L592.5 450.1L591.0 450.0L589.4 449.9L587.9 449.9L587.0 449.8L586.4 449.8L584.9 449.7L583.3 449.7L581.8 449.6L580.3 449.5L578.8 449.5L577.2 449.4L575.7 449.3L574.2 449.2L572.7 449.2L571.1 449.1L569.6 449.0L568.1 448.9L566.6 448.8L565.0 448.8L563.5 448.7L562.0 448.6ZM562.0 454.0L574.5 454.7L574.5 455.0L562.0 455.7ZM577.0 456.8L595.3 457.0L595.3 457.3L577.0 457.6ZM595.3 455.0L612.0 455.2L612.0 455.5L595.3 455.7ZM618.7 454.2L628.7 454.3L628.7 454.7L618.7 454.8ZM634.5 458.3L642.0 457.3L642.0 460.2L634.5 458.7ZM595.3 459.2L632.8 459.4L632.8 459.8L595.3 460.0ZM592.0 462.5L593.5 462.4L595.1 462.3L596.6 462.2L598.1 462.1L599.6 462.1L601.2 462.0L602.7 462.0L604.2 462.0L605.8 461.9L607.3 461.9L608.8 461.9L609.0 461.9L610.3 461.9L611.9 461.9L613.4 462.0L614.9 462.0L616.4 462.1L618.0 462.2L619.5 462.2L621.0 462.3L622.6 462.5L624.1 462.6L625.6 462.7L627.1 462.8L628.7 463.0L628.7 463.5L627.1 463.6L625.6 463.7L624.1 463.8L622.6 463.8L621.0 463.9L619.5 463.9L618.0 464.0L616.4 464.0L614.9 464.0L613.4 464.0L611.9 464.0L610.3 464.0L609.0 464.0L608.8 464.0L607.3 464.0L605.8 463.9L604.2 463.9L602.7 463.8L601.2 463.7L599.6 463.6L598.1 463.5L596.6 463.3L595.1 463.2L593.5 463.0L592.0 462.8ZM575.3 463.8L577.0 463.5L578.7 463.3L580.3 463.2L581.2 463.2L582.0 463.2L583.7 463.3L585.3 463.6L587.0 464.0L587.0 464.3L585.3 464.6L583.7 464.8L582.0 464.8L581.2 464.8L580.3 464.8L578.7 464.7L577.0 464.5L575.3 464.2ZM562.0 468.2L574.5 468.8L574.5 469.2L562.0 469.8ZM588.7 467.1L597.0 467.2L597.0 467.6L588.7 467.8ZM616.2 470.2L629.5 470.2L629.5 470.6L616.2 470.7ZM623.7 466.2L642.0 466.2L642.0 466.8L623.7 466.8ZM570.3 472.8L571.8 472.6L573.3 472.5L574.8 472.4L576.3 472.4L577.8 472.4L579.3 472.3L580.8 472.3L582.3 472.3L582.8 472.3L583.8 472.3L585.3 472.4L586.8 472.5L588.3 472.6L589.8 472.8L591.3 473.0L592.8 473.2L592.8 473.7L591.3 473.9L589.8 474.1L588.3 474.2L586.8 474.3L585.3 474.4L583.8 474.4L582.8 474.4L582.3 474.4L580.8 474.4L579.3 474.3L577.8 474.2L576.3 474.1L574.8 473.9L573.3 473.7L571.8 473.4L570.3 473.2ZM593.7 478.2L617.0 478.2L617.0 478.6L593.7 478.7ZM562.0 481.5L577.8 482.8L577.8 483.3L562.0 484.7ZM582.8 484.2L608.7 484.3L608.7 484.7L582.8 484.8ZM562.0 487.1L574.5 487.2L574.5 487.5L562.0 487.6ZM583.7 491.2L585.2 490.9L586.7 490.7L588.2 490.5L589.8 490.3L591.3 490.1L592.8 489.9L594.3 489.8L595.9 489.6L597.4 489.5L598.9 489.4L599.5 489.4L600.4 489.4L601.9 489.3L603.5 489.3L605.0 489.2L606.5 489.2L608.0 489.1L609.6 489.1L611.1 489.0L612.6 489.0L614.1 489.0L615.6 489.0L616.2 489.0L617.2 489.0L618.7 489.0L620.2 489.1L621.7 489.1L623.3 489.2L624.8 489.2L626.3 489.3L627.8 489.4L627.8 489.8L626.3 490.1L624.8 490.4L623.3 490.7L621.7 490.9L620.2 491.1L618.7 491.3L617.2 491.4L616.2 491.5L615.6 491.5L614.1 491.6L612.6 491.6L611.1 491.7L609.6 491.8L608.0 491.8L606.5 491.8L605.0 491.9L603.5 491.9L601.9 491.9L600.4 491.9L599.5 491.9L598.9 491.9L597.4 491.9L595.9 491.9L594.3 491.9L592.8 491.8L591.3 491.8L589.8 491.8L588.2 491.7L586.7 491.6L585.2 491.6L583.7 491.5ZM617.8 493.8L619.3 493.5L620.9 493.2L622.4 492.9L623.9 492.6L625.4 492.4L626.9 492.1L628.4 491.9L628.7 491.9L629.9 491.8L631.4 491.6L632.9 491.5L634.4 491.3L636.0 491.2L637.5 491.1L639.0 491.0L640.5 490.9L642.0 490.8L642.0 493.2L640.5 493.4L639.0 493.6L637.5 493.8L636.0 494.0L634.4 494.1L632.9 494.3L631.4 494.3L629.9 494.4L628.7 494.4L628.4 494.4L626.9 494.4L625.4 494.4L623.9 494.4L622.4 494.4L620.9 494.3L619.3 494.3L617.8 494.2ZM579.5 495.0L593.7 495.2L593.7 495.7L579.5 495.9ZM595.3 497.3L616.2 497.8L616.2 498.2L595.3 498.6ZM627.8 496.3L642.0 495.0L642.0 499.0L627.8 496.7ZM577.0 499.2L593.7 499.3L593.7 499.7L577.0 499.8ZM562.0 500.7L582.8 501.5L582.8 502.2L562.0 502.3ZM648.0 449.8L649.5 449.8L651.0 449.7L652.5 449.6L654.0 449.6L655.5 449.5L657.0 449.4L658.5 449.4L660.0 449.3L661.5 449.2L663.0 449.2L664.5 449.1L666.0 449.1L667.5 449.0L669.0 448.9L670.5 448.9L672.0 448.8L673.5 448.8L675.0 448.7L676.5 448.7L678.0 448.6L679.5 448.6L679.7 448.6L681.0 448.5L682.5 448.5L684.0 448.5L685.5 448.4L687.0 448.4L688.5 448.3L690.0 448.3L691.5 448.2L693.0 448.2L694.5 448.2L696.0 448.1L697.5 448.1L699.0 448.1L700.5 448.0L702.0 448.0L703.5 448.0L705.0 447.9L706.5 447.9L708.0 447.9L709.5 447.8L711.0 447.8L712.5 447.8L714.0 447.8L714.0 450.0L712.5 450.1L711.0 450.1L709.5 450.2L708.0 450.2L706.5 450.3L705.0 450.3L703.5 450.3L702.0 450.4L700.5 450.4L699.0 450.5L697.5 450.5L696.0 450.5L694.5 450.5L693.0 450.6L691.5 450.6L690.0 450.6L688.5 450.6L687.0 450.6L685.5 450.6L684.0 450.7L682.5 450.7L681.0 450.7L679.7 450.7L679.5 450.7L678.0 450.7L676.5 450.7L675.0 450.7L673.5 450.6L672.0 450.6L670.5 450.6L669.0 450.6L667.5 450.6L666.0 450.6L664.5 450.6L663.0 450.5L661.5 450.5L660.0 450.5L658.5 450.4L657.0 450.4L655.5 450.4L654.0 450.3L652.5 450.3L651.0 450.3L649.5 450.2L648.0 450.2ZM638.0 458.6L639.5 458.3L641.0 458.0L642.5 457.7L644.0 457.4L645.5 457.2L647.0 457.0L648.5 456.8L650.0 456.6L651.5 456.5L653.0 456.4L654.0 456.3L654.5 456.3L656.0 456.3L657.5 456.2L659.0 456.2L660.5 456.2L662.0 456.1L663.5 456.1L665.0 456.1L666.5 456.1L667.2 456.1L668.0 456.1L669.5 456.1L671.0 456.1L672.5 456.1L674.0 456.1L675.5 456.1L677.0 456.1L678.5 456.1L680.0 456.1L681.5 456.1L683.0 456.2L683.8 456.2L684.5 456.2L686.0 456.2L687.5 456.2L689.0 456.2L690.5 456.3L692.0 456.3L693.5 456.4L695.0 456.4L696.5 456.5L698.0 456.5L698.0 456.8L696.5 457.1L695.0 457.3L693.5 457.5L692.0 457.8L690.5 458.0L689.0 458.2L687.5 458.4L686.0 458.7L684.5 458.9L683.8 459.0L683.0 459.1L681.5 459.4L680.0 459.7L678.5 460.0L677.0 460.2L675.5 460.5L674.0 460.8L672.5 461.0L671.0 461.2L669.5 461.4L668.0 461.5L667.2 461.5L666.5 461.5L665.0 461.5L663.5 461.6L662.0 461.6L660.5 461.6L659.0 461.6L657.5 461.7L656.0 461.7L654.5 461.7L654.0 461.7L653.0 461.7L651.5 461.6L650.0 461.4L648.5 461.3L647.0 461.0L645.5 460.8L644.0 460.5L642.5 460.1L641.0 459.8L639.5 459.4L638.0 459.0ZM676.3 462.2L677.8 461.9L679.3 461.6L680.9 461.4L682.4 461.1L683.9 460.9L685.4 460.7L686.9 460.5L688.4 460.3L689.9 460.1L691.4 459.9L692.2 459.8L692.9 459.8L694.4 459.6L695.9 459.5L697.4 459.3L698.9 459.2L700.4 459.1L701.9 459.0L703.5 458.9L705.0 458.8L706.5 458.7L708.0 458.6L709.5 458.5L711.0 458.4L712.5 458.4L714.0 458.3L714.0 459.0L712.5 459.1L711.0 459.3L709.5 459.4L708.0 459.6L706.5 459.7L705.0 459.9L703.5 460.0L701.9 460.2L700.4 460.3L698.9 460.5L697.4 460.6L695.9 460.7L694.4 460.9L692.9 461.0L692.2 461.1L691.4 461.2L689.9 461.3L688.4 461.4L686.9 461.6L685.4 461.7L683.9 461.8L682.4 462.0L680.9 462.1L679.3 462.2L677.8 462.4L676.3 462.5ZM694.7 465.8L696.3 465.5L697.9 465.2L699.5 464.9L701.1 464.6L702.7 464.3L704.3 464.1L704.7 464.0L705.9 463.8L707.6 463.5L709.2 463.3L710.8 463.0L712.4 462.7L714.0 462.5L714.0 465.5L712.4 465.6L710.8 465.6L709.2 465.7L707.6 465.7L705.9 465.8L704.7 465.8L704.3 465.8L702.7 465.9L701.1 466.0L699.5 466.0L697.9 466.1L696.3 466.1L694.7 466.2ZM650.5 468.8L679.7 468.8L679.7 469.2L650.5 469.2ZM688.0 468.8L714.0 468.6L714.0 469.8L688.0 469.7ZM658.8 472.5L660.3 472.5L661.9 472.4L663.4 472.4L664.9 472.3L666.4 472.2L667.9 472.1L669.4 472.0L670.9 471.9L671.3 471.9L672.4 471.8L673.9 471.7L675.4 471.6L677.0 471.4L678.5 471.2L680.0 471.1L681.5 470.9L683.0 470.7L683.0 471.2L681.5 471.6L680.0 471.9L678.5 472.3L677.0 472.6L675.4 472.8L673.9 473.0L672.4 473.1L671.3 473.2L670.9 473.2L669.4 473.2L667.9 473.2L666.4 473.1L664.9 473.1L663.4 473.1L661.9 473.0L660.3 472.9L658.8 472.8ZM696.3 477.1L714.0 476.9L714.0 478.2L696.3 478.0ZM644.7 479.2L658.8 479.2L658.8 479.6L644.7 479.7ZM671.3 481.1L672.9 481.1L674.4 481.0L675.9 481.0L677.4 481.0L679.0 481.0L680.5 480.9L682.0 480.9L683.5 480.9L685.0 480.8L686.6 480.8L688.1 480.8L689.6 480.7L691.1 480.7L692.2 480.7L692.7 480.7L694.2 480.6L695.7 480.6L697.2 480.5L698.8 480.5L700.3 480.4L701.8 480.4L703.3 480.3L704.9 480.2L706.4 480.2L707.9 480.1L709.4 480.0L711.0 480.0L712.5 479.9L714.0 479.8L714.0 481.5L712.5 481.6L711.0 481.6L709.4 481.7L707.9 481.7L706.4 481.7L704.9 481.8L703.3 481.8L701.8 481.8L700.3 481.9L698.8 481.9L697.2 481.9L695.7 481.9L694.2 481.9L692.7 481.9L692.2 481.9L691.1 481.9L689.6 481.9L688.1 481.9L686.6 481.9L685.0 481.9L683.5 481.8L682.0 481.8L680.5 481.8L679.0 481.7L677.4 481.7L675.9 481.6L674.4 481.5L672.9 481.5L671.3 481.4ZM684.7 484.5L686.2 484.5L687.8 484.4L689.3 484.4L690.8 484.4L692.4 484.3L693.9 484.3L695.5 484.3L697.0 484.2L698.6 484.2L700.1 484.2L700.5 484.2L701.6 484.1L703.2 484.1L704.7 484.1L706.3 484.1L707.8 484.1L709.4 484.0L710.9 484.0L712.5 484.0L714.0 484.0L714.0 486.9L712.5 486.9L710.9 486.9L709.4 486.9L707.8 486.8L706.3 486.8L704.7 486.7L703.2 486.6L701.6 486.6L700.5 486.5L700.1 486.5L698.6 486.4L697.0 486.3L695.5 486.2L693.9 486.0L692.4 485.8L690.8 485.7L689.3 485.5L687.8 485.3L686.2 485.1L684.7 484.8ZM643.0 488.6L644.6 488.1L646.1 487.6L647.7 487.2L649.2 486.9L650.8 486.6L652.3 486.3L653.9 486.2L655.4 486.1L656.3 486.1L657.0 486.1L658.5 486.1L660.1 486.2L661.6 486.3L663.2 486.4L664.7 486.6L666.3 486.9L667.8 487.2L669.4 487.5L671.0 487.9L672.5 488.3L674.1 488.8L675.6 489.4L677.2 490.0L677.2 490.3L675.6 490.4L674.1 490.5L672.5 490.5L671.0 490.6L669.4 490.6L667.8 490.6L666.3 490.6L664.7 490.6L663.2 490.7L661.6 490.7L660.1 490.7L658.5 490.7L657.0 490.7L656.3 490.7L655.4 490.7L653.9 490.6L652.3 490.4L650.8 490.3L649.2 490.0L647.7 489.8L646.1 489.5L644.6 489.2L643.0 488.9ZM669.7 485.3L671.2 485.5L672.7 485.6L674.3 485.8L675.8 486.0L677.3 486.1L678.8 486.3L680.4 486.5L681.9 486.7L683.4 486.9L683.8 486.9L685.0 487.1L686.5 487.3L688.0 487.5L689.5 487.7L691.1 487.9L692.6 488.1L694.1 488.3L695.7 488.5L696.3 488.6L697.2 488.7L698.7 488.9L700.2 489.1L701.8 489.3L703.3 489.5L704.8 489.7L706.4 489.9L707.9 490.1L709.4 490.3L710.9 490.5L712.5 490.6L714.0 490.8L714.0 493.2L712.5 493.1L710.9 493.0L709.4 492.8L707.9 492.7L706.4 492.6L704.8 492.4L703.3 492.2L701.8 492.0L700.2 491.8L698.7 491.7L697.2 491.4L696.3 491.3L695.7 491.2L694.1 491.0L692.6 490.7L691.1 490.5L689.5 490.2L688.0 489.9L686.5 489.6L685.0 489.2L683.8 489.0L683.4 488.9L681.9 488.6L680.4 488.3L678.8 487.9L677.3 487.6L675.8 487.2L674.3 486.8L672.7 486.4L671.2 486.1L669.7 485.7ZM638.0 491.2L645.5 491.7L645.5 492.2L638.0 492.6ZM638.0 496.5L639.5 496.0L641.1 495.5L642.6 495.1L644.1 494.7L645.7 494.4L647.2 494.1L648.7 493.8L650.3 493.6L651.8 493.4L653.3 493.4L654.7 493.3L654.8 493.3L656.4 493.3L657.9 493.4L659.4 493.4L661.0 493.4L662.5 493.5L663.0 493.5L664.0 493.5L665.6 493.6L667.1 493.6L668.6 493.6L670.2 493.7L671.7 493.7L673.2 493.8L674.8 493.8L675.5 493.8L676.3 493.9L677.8 493.9L679.4 494.0L680.9 494.1L682.4 494.3L683.9 494.4L685.5 494.6L687.0 494.7L688.5 494.9L690.1 495.1L691.6 495.3L693.1 495.5L694.7 495.7L694.7 496.0L693.1 496.4L691.6 496.7L690.1 497.0L688.5 497.3L687.0 497.6L685.5 497.9L683.9 498.2L682.4 498.5L680.9 498.7L679.4 498.9L677.8 499.1L676.3 499.3L675.5 499.4L674.8 499.5L673.2 499.7L671.7 499.9L670.2 500.0L668.6 500.2L667.1 500.3L665.6 500.4L664.0 500.5L663.0 500.5L662.5 500.5L661.0 500.5L659.4 500.4L657.9 500.3L656.4 500.1L654.8 500.0L654.7 500.0L653.3 499.9L651.8 499.7L650.3 499.5L648.7 499.3L647.2 499.1L645.7 498.9L644.1 498.6L642.6 498.3L641.1 498.0L639.5 497.7L638.0 497.3ZM698.0 498.6L714.0 497.3L714.0 499.4L698.0 498.9ZM702.2 501.7L714.0 501.5L714.0 503.2L702.2 503.0ZM415.0 497.3L430.8 497.6L430.8 497.9L415.0 498.2ZM435.0 501.7L436.5 501.4L438.1 501.1L439.6 500.9L441.1 500.8L442.6 500.7L443.3 500.7L444.2 500.7L445.7 500.7L447.2 500.7L448.8 500.8L450.3 500.9L451.8 501.1L453.3 501.3L453.3 501.8L451.8 502.1L450.3 502.3L448.8 502.5L447.2 502.6L445.7 502.7L444.2 502.7L443.3 502.8L442.6 502.7L441.1 502.7L439.6 502.6L438.1 502.4L436.5 502.2L435.0 502.0ZM445.0 504.2L446.5 503.9L448.1 503.6L449.6 503.4L451.1 503.3L452.6 503.2L454.2 503.2L454.2 503.2L455.7 503.2L457.2 503.2L458.8 503.3L460.3 503.4L461.8 503.6L463.3 503.8L463.3 504.3L461.8 504.6L460.3 504.8L458.8 505.0L457.2 505.1L455.7 505.2L454.2 505.2L454.2 505.2L452.6 505.2L451.1 505.2L449.6 505.1L448.1 504.9L446.5 504.7L445.0 504.5ZM457.5 499.5L459.0 499.4L460.6 499.3L462.1 499.3L463.7 499.2L465.2 499.1L466.8 499.1L468.3 499.1L469.9 499.0L471.4 499.0L473.0 499.0L473.3 499.0L474.5 499.0L476.1 499.0L477.6 499.0L479.2 499.0L480.7 499.1L482.3 499.1L483.8 499.1L485.4 499.2L486.9 499.2L488.5 499.3L490.0 499.3L490.0 500.3L488.5 500.4L486.9 500.5L485.4 500.5L483.8 500.6L482.3 500.6L480.7 500.6L479.2 500.6L477.6 500.7L476.1 500.7L474.5 500.7L473.3 500.7L473.0 500.7L471.4 500.7L469.9 500.6L468.3 500.6L466.8 500.5L465.2 500.4L463.7 500.3L462.1 500.2L460.6 500.1L459.0 500.0L457.5 499.8ZM488.5 497.2L502.7 497.3L502.7 497.8L488.5 498.0ZM506.0 497.5L517.7 497.8L517.7 498.2L506.0 498.3ZM496.8 501.7L524.3 502.0L524.3 502.7L496.8 503.0ZM577.0 495.5L595.3 495.7L595.3 496.2L577.0 496.3ZM595.3 497.5L612.0 497.7L612.0 498.2L595.3 498.3ZM630.3 496.1L642.0 495.2L642.0 499.0L630.3 496.4ZM567.0 501.7L582.8 501.8L582.8 502.2L567.0 502.3ZM638.0 495.2L639.5 495.0L641.0 494.9L642.5 494.8L644.0 494.7L645.5 494.6L647.0 494.5L648.5 494.4L648.8 494.4L650.0 494.4L651.5 494.3L653.0 494.2L654.6 494.2L656.1 494.1L657.6 494.1L659.1 494.0L660.6 494.0L662.1 494.0L663.0 494.0L663.6 494.0L665.1 494.0L666.6 494.0L668.1 494.0L669.6 494.0L671.1 494.0L672.6 494.0L674.1 494.0L675.6 494.0L677.1 494.0L678.6 494.0L679.7 494.0L680.1 494.0L681.6 494.1L683.1 494.2L684.6 494.4L686.1 494.6L687.7 494.8L689.2 495.1L690.7 495.4L692.2 495.7L692.2 496.0L690.7 496.5L689.2 496.9L687.7 497.3L686.1 497.7L684.6 498.1L683.1 498.4L681.6 498.7L680.1 498.9L679.7 499.0L678.6 499.1L677.1 499.3L675.6 499.5L674.1 499.6L672.6 499.8L671.1 499.9L669.6 500.0L668.1 500.1L666.6 500.2L665.1 500.2L663.6 500.2L663.0 500.2L662.1 500.2L660.6 500.2L659.1 500.0L657.6 499.8L656.1 499.6L654.6 499.4L653.0 499.3L651.5 499.1L650.0 499.0L648.8 499.0L648.5 499.0L647.0 499.0L645.5 499.1L644.0 499.2L642.5 499.3L641.0 499.4L639.5 499.6L638.0 499.8ZM714.0 497.3L704.7 497.7L704.7 498.7L714.0 499.0ZM496.8 502.5L498.4 502.4L500.0 502.2L501.6 502.1L503.1 502.1L504.7 502.0L506.3 501.9L507.9 501.9L509.4 501.8L511.0 501.8L512.6 501.8L514.1 501.9L515.7 501.9L517.3 501.9L518.9 502.0L520.4 502.0L522.0 502.1L523.6 502.2L525.2 502.3L525.2 502.7L523.6 502.8L522.0 503.0L520.4 503.1L518.9 503.2L517.3 503.3L515.7 503.4L514.1 503.5L512.6 503.5L511.0 503.5L509.4 503.5L507.9 503.5L506.3 503.4L504.7 503.4L503.1 503.3L501.6 503.2L500.0 503.1L498.4 503.0L496.8 502.8ZM527.7 505.3L529.2 505.2L530.7 505.2L532.2 505.1L533.7 505.0L535.2 504.9L536.7 504.9L538.2 504.8L539.7 504.8L541.2 504.8L542.7 504.8L544.2 504.8L544.3 504.8L545.7 504.8L547.2 504.8L548.7 504.8L550.2 504.8L551.7 504.8L553.2 504.8L554.7 504.9L556.2 504.9L557.7 505.0L557.7 505.5L556.2 505.9L554.7 506.2L553.2 506.6L551.7 506.8L550.2 507.1L548.7 507.3L547.2 507.4L545.7 507.5L544.3 507.5L544.2 507.5L542.7 507.5L541.2 507.5L539.7 507.4L538.2 507.3L536.7 507.2L535.2 507.0L533.7 506.8L532.2 506.6L530.7 506.3L529.2 506.0L527.7 505.7ZM486.0 507.0L504.3 507.5L504.3 508.0L486.0 508.5ZM516.0 507.2L529.3 507.7L529.3 508.0L516.0 508.3ZM556.0 508.1L566.0 507.2L566.0 509.3L556.0 508.5ZM500.2 510.3L501.7 510.1L503.3 509.8L504.8 509.6L506.4 509.5L508.0 509.4L509.3 509.3L509.5 509.3L511.1 509.4L512.6 509.5L514.2 509.7L515.7 509.9L517.3 510.1L518.9 510.3L520.4 510.4L522.0 510.5L523.5 510.6L523.5 510.6L525.1 510.6L526.7 510.6L528.2 510.6L529.8 510.5L531.3 510.5L532.9 510.4L534.4 510.3L536.0 510.2L536.0 510.5L534.4 510.7L532.9 510.9L531.3 511.1L529.8 511.3L528.2 511.4L526.7 511.5L525.1 511.6L523.5 511.7L523.5 511.7L522.0 511.7L520.4 511.7L518.9 511.8L517.3 511.8L515.7 511.8L514.2 511.8L512.6 511.8L511.1 511.8L509.5 511.8L509.3 511.8L508.0 511.8L506.4 511.7L504.8 511.5L503.3 511.2L501.7 511.0L500.2 510.7ZM536.8 512.7L538.3 512.5L539.8 512.3L541.3 512.2L542.8 512.0L544.3 511.9L545.8 511.9L547.3 511.8L548.5 511.8L548.8 511.8L550.3 511.8L551.8 511.9L553.3 511.9L554.8 512.0L556.3 512.1L557.8 512.2L559.3 512.3L559.3 512.7L557.8 513.0L556.3 513.2L554.8 513.5L553.3 513.6L551.8 513.8L550.3 513.9L548.8 513.9L548.5 513.9L547.3 513.9L545.8 513.9L544.3 513.8L542.8 513.7L541.3 513.6L539.8 513.4L538.3 513.2L536.8 513.0ZM486.0 477.5L499.3 478.3L499.3 478.7L486.0 479.5ZM552.7 482.3L566.0 481.2L566.0 483.9L552.7 482.7ZM487.7 484.2L489.2 483.9L490.7 483.6L492.2 483.3L493.7 483.1L495.2 482.9L496.8 482.8L498.3 482.7L498.5 482.7L499.8 482.6L501.3 482.6L502.8 482.5L504.3 482.5L504.3 482.8L502.8 483.4L501.3 483.8L499.8 484.2L498.5 484.3L498.3 484.3L496.8 484.4L495.2 484.4L493.7 484.4L492.2 484.5L490.7 484.5L489.2 484.5L487.7 484.5ZM698.0 498.2L714.0 497.8L714.0 499.2L698.0 498.5ZM684.7 502.0L686.2 501.9L687.8 501.9L689.3 501.8L690.8 501.7L692.4 501.7L693.9 501.6L695.5 501.5L697.0 501.5L698.6 501.5L700.1 501.4L700.5 501.4L701.6 501.4L703.2 501.4L704.7 501.3L706.3 501.3L707.8 501.3L709.4 501.3L710.9 501.3L712.5 501.3L714.0 501.2L714.0 503.1L712.5 503.1L710.9 503.0L709.4 503.0L707.8 503.0L706.3 503.0L704.7 502.9L703.2 502.9L701.6 502.9L700.5 502.8L700.1 502.8L698.6 502.8L697.0 502.7L695.5 502.7L693.9 502.7L692.4 502.6L690.8 502.6L689.3 502.5L687.8 502.4L686.2 502.4L684.7 502.3ZM412.5 395.9L420.8 396.2L420.8 397.0L412.5 397.2ZM412.5 346.3L420.8 346.7L420.8 347.2L412.5 347.5Z" fill="#fff" stroke="none"/>
<path clip-path="url(#c3)" d="M412.0 190.8L414.0 190.7L416.0 190.6L418.1 190.5L420.1 190.4L422.1 190.3L424.1 190.2L426.1 190.0L428.2 189.9L430.2 189.7L432.2 189.6L433.0 189.5L434.2 189.4L436.2 189.2L438.3 188.9L440.3 188.6L442.3 188.3L444.3 188.0L446.4 187.7L448.4 187.4L450.4 187.1L451.8 187.0L452.4 186.9L454.4 186.7L456.5 186.5L458.5 186.4L460.5 186.2L462.5 186.0L464.5 185.9L466.6 185.7L468.6 185.6L470.5 185.5L470.6 185.5L472.6 185.4L474.6 185.3L476.7 185.2L478.7 185.2L480.7 185.1L481.0 185.1L482.7 185.1L484.8 185.2L486.8 185.3L488.8 185.5L490.8 185.6L492.8 185.8L494.9 186.0L495.5 186.0L496.9 186.1L498.9 186.2L500.9 186.4L502.9 186.5L505.0 186.7L507.0 186.8L509.0 187.0M412.0 207.9L414.0 206.9L416.0 205.9L418.1 204.9L420.1 203.9L422.1 202.9L424.1 202.0L426.1 201.0L426.8 200.8L428.2 200.1L430.2 199.1L432.2 198.2L434.2 197.3L436.2 196.4L438.3 195.5L439.2 195.1L440.3 194.7L442.3 193.9L444.3 193.2L446.4 192.4L448.4 191.7L450.4 191.1L451.8 190.8L452.4 190.6L454.4 190.1L456.5 189.6L458.5 189.1L460.5 188.7L462.5 188.4L464.2 188.2L464.5 188.2L466.6 188.1L468.6 188.0L470.6 187.9L472.6 187.8L474.6 187.7L476.7 187.7L478.7 187.6L480.7 187.6L481.0 187.6L482.7 187.6L484.8 187.6L486.8 187.6L488.8 187.6L490.8 187.6L492.8 187.6L494.9 187.6L496.9 187.6L498.9 187.6L500.9 187.6L502.9 187.6L505.0 187.6L507.0 187.6L509.0 187.6M412.0 209.1L414.0 208.2L416.0 207.4L418.1 206.5L420.1 205.6L422.1 204.7L424.1 203.8L426.1 202.9L426.8 202.6L428.2 202.0L430.2 201.0L432.2 200.1L434.2 199.2L436.2 198.3L438.3 197.4L439.2 197.0L440.3 196.6L442.3 195.8L444.3 195.1L446.4 194.4L448.4 193.7L450.4 193.0L451.8 192.6L452.4 192.4L454.4 191.8L456.5 191.2L458.5 190.6L460.5 190.1L462.5 189.7L464.2 189.5L464.5 189.5L466.6 189.4L468.6 189.3L470.6 189.2L472.6 189.1L474.6 189.0L476.7 189.0L478.7 188.9L480.7 188.9L481.0 188.9L482.7 188.8L484.8 188.8L486.8 188.7L488.8 188.7L490.8 188.6L492.8 188.6L494.9 188.5L496.9 188.5L498.9 188.4L500.9 188.4L502.9 188.3L505.0 188.3L507.0 188.3L509.0 188.2M412.0 210.4L414.0 209.7L416.0 209.0L418.1 208.3L420.1 207.6L422.1 206.8L424.1 206.1L426.1 205.4L426.8 205.1L428.2 204.6L430.2 203.8L432.2 202.9L434.2 202.1L436.2 201.3L438.3 200.5L439.2 200.1L440.3 199.7L442.3 199.0L444.3 198.2L446.4 197.5L448.4 196.8L450.4 196.2L451.8 195.8L452.4 195.6L454.4 194.9L456.5 194.3L458.5 193.7L460.5 193.2L462.5 192.8L464.2 192.6L464.5 192.6L466.6 192.4L468.6 192.3L470.6 192.1L472.6 192.0L474.6 191.9L476.7 191.8L478.7 191.8L480.7 191.8L481.0 191.8L482.7 191.8L484.8 191.8L486.8 191.8L488.8 191.8L490.8 191.8L492.8 191.8L494.9 191.8L496.9 191.8L498.9 191.8L500.9 191.8L502.9 191.9L505.0 191.9L507.0 191.9L509.0 192.0M412.0 211.8L414.0 211.8L416.0 211.8L418.1 211.8L420.1 211.9L422.1 211.9L424.1 211.9L426.1 211.9L428.2 211.9L430.2 211.9L432.2 212.0L434.2 212.0L436.2 212.0L438.3 212.0L440.3 212.0L442.3 212.0L444.3 212.0L445.5 212.0L446.4 212.0L448.4 212.0L450.4 212.0L452.4 212.0L454.4 212.0L456.5 211.9L458.5 211.9L460.5 211.9L462.5 211.9L464.5 211.9L466.6 211.8L468.6 211.8L470.6 211.8L472.6 211.8L474.6 211.8L476.7 211.8L478.7 211.8L480.7 211.8L481.0 211.8L482.7 211.8L484.8 212.0L486.8 212.4L488.8 212.8L490.8 213.3L492.8 213.8L493.0 213.9L494.9 214.5L496.9 215.4L498.9 216.4L500.9 217.3L501.8 217.6L502.9 218.0L505.0 218.6L507.0 219.1L509.0 219.5M412.0 214.2L414.0 214.5L416.0 214.8L418.1 215.2L420.1 215.6L422.1 216.0L424.1 216.4L426.1 216.9L426.8 217.0L428.2 217.4L430.2 217.9L432.2 218.6L434.2 219.3L436.2 219.9L438.3 220.5L439.2 220.8L440.3 221.0L442.3 221.4L444.3 221.9L446.4 222.3L448.4 222.7L450.4 223.0L451.8 223.2L452.4 223.4L454.4 223.7L456.5 224.1L458.5 224.4L460.5 224.7L462.5 225.0L464.2 225.1L464.5 225.1L466.6 225.3L468.6 225.4L470.6 225.5L472.6 225.6L474.6 225.6L476.7 225.7L478.7 225.7L480.7 225.7L481.0 225.8L482.7 225.7L484.8 225.6L486.8 225.5L488.8 225.3L490.8 225.2L492.8 225.1L493.0 225.1L494.9 225.1L496.9 225.2L498.9 225.2L500.9 225.3L502.9 225.4L505.0 225.6L507.0 225.8L509.0 226.0M412.0 216.1L414.0 216.5L416.0 216.9L418.1 217.4L420.1 217.8L422.1 218.2L424.1 218.7L426.1 219.1L426.8 219.2L428.2 219.6L430.2 220.1L432.2 220.5L434.2 221.0L436.2 221.5L438.3 222.0L439.2 222.2L440.3 222.5L442.3 223.0L444.3 223.5L446.4 224.0L448.4 224.5L450.4 224.9L451.8 225.1L452.4 225.2L454.4 225.6L456.5 225.9L458.5 226.2L460.5 226.4L462.5 226.6L464.2 226.8L464.5 226.8L466.6 226.9L468.6 227.0L470.6 227.0L472.6 227.1L474.6 227.2L476.7 227.2L478.7 227.2L480.7 227.2L481.0 227.2L482.7 227.2L484.8 227.2L486.8 227.2L488.8 227.2L490.8 227.2L492.8 227.2L494.9 227.2L496.9 227.2L498.9 227.2L500.9 227.2L502.9 227.1L505.0 227.1L507.0 227.1L509.0 227.0M412.0 218.0L414.0 218.2L416.1 218.5L418.1 218.7L420.1 219.0L422.1 219.3L424.2 219.7L426.2 220.0L426.8 220.1L428.2 220.4L430.3 220.8L432.3 221.3L434.3 221.8L436.4 222.3L438.4 222.8L439.2 223.0L440.4 223.3L442.4 223.7L444.5 224.2L446.5 224.7L448.5 225.2L450.6 225.6L451.8 225.8L452.6 225.9L454.6 226.2L456.6 226.5L458.7 226.8L460.7 227.0L462.7 227.2L464.2 227.2L464.8 227.3L466.8 227.3L468.8 227.4L470.9 227.5L472.9 227.5L474.9 227.6L476.9 227.6L479.0 227.6L481.0 227.6M412.0 232.0L414.0 232.0L416.0 231.9L418.1 231.9L420.1 231.9L422.1 231.9L424.1 231.8L426.1 231.8L428.2 231.8L430.2 231.8L432.2 231.8L434.2 231.8L436.2 231.8L438.3 231.8L440.3 231.8L442.3 231.8L444.3 231.8L445.5 231.8L446.4 231.8L448.4 231.8L450.4 231.8L452.4 231.8L454.4 231.8L456.5 231.9L458.5 231.9L460.5 231.9L462.5 232.0L464.5 232.0L466.6 232.1L468.6 232.1L470.6 232.1L472.6 232.2L474.6 232.2L476.7 232.2L478.7 232.2L480.7 232.2L481.0 232.2L482.7 232.1L484.8 231.7L486.8 231.2L488.8 230.5L489.2 230.4L490.8 229.8L492.8 228.9L494.9 227.8L496.9 226.6L498.0 226.0L498.9 225.5L500.9 224.2L502.9 222.9L505.0 221.7L505.5 221.4L507.0 220.6L509.0 219.5M412.0 241.0L414.0 241.0L416.0 241.0L418.1 240.9L420.1 240.9L422.1 240.9L424.1 240.9L426.1 240.8L428.2 240.8L430.2 240.8L432.2 240.7L434.2 240.7L436.2 240.7L438.3 240.6L440.3 240.6L442.3 240.6L444.3 240.5L445.5 240.5L446.4 240.5L448.4 240.4L450.4 240.4L452.4 240.3L454.4 240.2L456.5 240.2L458.5 240.1L460.5 240.0L462.5 239.9L464.5 239.9L466.6 239.8L468.6 239.7L470.6 239.7L472.6 239.6L474.6 239.6L476.7 239.5L478.7 239.5L480.7 239.5L481.0 239.5L482.7 239.6L484.8 240.1L486.8 240.8L488.8 241.6L490.8 242.4L492.8 243.2L493.0 243.2L494.9 243.9L496.9 244.7L498.9 245.5L500.9 246.2L501.8 246.4L502.9 246.6L505.0 247.1L507.0 247.4L509.0 247.6M412.0 250.1L414.0 250.2L416.0 250.2L418.1 250.2L420.1 250.2L422.1 250.3L424.1 250.3L426.1 250.3L428.2 250.3L430.2 250.3L432.2 250.4L434.2 250.4L436.2 250.4L438.3 250.4L440.3 250.5L442.3 250.5L444.3 250.5L445.5 250.5L446.4 250.5L448.4 250.5L450.4 250.5L452.4 250.6L454.4 250.6L456.5 250.6L458.5 250.6L460.5 250.6L462.5 250.7L464.5 250.7L466.6 250.7L468.6 250.7L470.6 250.7L472.6 250.7L474.6 250.7L476.7 250.7L478.7 250.7L480.7 250.7L481.0 250.8L482.7 250.7L484.8 250.7L486.8 250.5L488.8 250.4L490.8 250.2L492.8 250.0L494.9 249.8L495.5 249.8L496.9 249.6L498.9 249.4L500.9 249.1L502.9 248.7L505.0 248.4L507.0 248.0L509.0 247.6M509.0 186.8L511.0 186.7L513.0 186.6L515.0 186.5L517.0 186.5L519.0 186.4L521.0 186.4L523.0 186.3L525.0 186.3L527.0 186.2L529.0 186.2L531.0 186.1L533.0 186.1L535.0 186.1L537.0 186.0L539.0 186.0L541.0 186.0L543.0 186.0L544.0 186.0L545.0 186.0L547.0 186.0L549.0 186.0L551.0 186.0L553.0 186.0L555.0 186.0L557.0 186.0L559.0 186.0L561.0 186.0L563.0 186.0L565.0 186.0L566.5 186.0L567.0 186.0L569.0 186.0L571.0 186.1L573.0 186.1L575.0 186.2L577.0 186.3L579.0 186.5L581.0 186.6L583.0 186.7L585.0 186.8L587.0 187.0L589.0 187.1L591.0 187.2L591.5 187.2L593.0 187.3L595.0 187.4L597.0 187.6L599.0 187.7L601.0 187.8L603.0 187.9L605.0 188.0L607.0 188.1L609.0 188.2M509.0 187.6L511.0 187.6L513.0 187.6L515.0 187.6L517.0 187.6L519.0 187.6L521.0 187.6L523.0 187.6L525.0 187.6L527.0 187.6L529.0 187.6L531.0 187.6L533.0 187.6L535.0 187.6L537.0 187.6L539.0 187.6L541.0 187.6L543.0 187.6L544.0 187.6L545.0 187.6L547.0 187.7L549.0 187.8L551.0 188.0L553.0 188.2L554.0 188.2L555.0 188.4L557.0 188.6L559.0 189.0L561.0 189.4L563.0 189.8L565.0 190.3L566.5 190.8L567.0 190.9L569.0 191.6L571.0 192.5L573.0 193.4L575.0 194.4L577.0 195.4L579.0 196.4L581.0 197.3L583.0 198.2L585.0 199.1L587.0 200.0L589.0 200.9L591.0 201.8L591.5 202.0L593.0 202.6L595.0 203.5L597.0 204.4L599.0 205.2L601.0 206.0L603.0 206.7L604.0 207.0L605.0 207.3L607.0 207.8L609.0 208.2M509.0 188.2L511.0 188.3L513.0 188.3L515.0 188.3L517.0 188.3L519.0 188.3L521.0 188.3L523.0 188.3L525.0 188.3L527.0 188.3L529.0 188.3L531.0 188.3L533.0 188.4L535.0 188.4L537.0 188.4L539.0 188.4L541.0 188.5L543.0 188.5L544.0 188.5L545.0 188.5L547.0 188.6L549.0 188.7L551.0 188.9L553.0 189.1L555.0 189.3L557.0 189.6L559.0 189.9L560.2 190.1L561.0 190.3L563.0 190.8L565.0 191.6L567.0 192.4L569.0 193.4L571.0 194.3L572.8 195.1L573.0 195.2L575.0 196.1L577.0 197.0L579.0 197.9L581.0 198.9L583.0 199.8L585.0 200.6L585.2 200.8L587.0 201.5L589.0 202.3L591.0 203.2L593.0 204.0L595.0 204.8L597.0 205.5L597.8 205.8L599.0 206.2L601.0 206.8L603.0 207.4L605.0 208.0L607.0 208.5L609.0 209.0M509.0 192.0L511.0 192.0L513.0 192.0L515.0 192.0L517.0 191.9L519.0 191.9L521.0 191.9L523.0 191.8L525.0 191.8L527.0 191.8L529.0 191.8L531.0 191.7L533.0 191.6L535.0 191.6L537.0 191.5L539.0 191.5L541.0 191.4L543.0 191.4L544.0 191.4L545.0 191.4L547.0 191.5L549.0 191.8L551.0 192.1L553.0 192.4L554.0 192.6L555.0 192.8L557.0 193.3L559.0 193.8L561.0 194.5L563.0 195.2L565.0 195.9L566.5 196.4L567.0 196.5L569.0 197.3L571.0 198.1L573.0 198.9L575.0 199.7L577.0 200.6L579.0 201.4L581.0 202.2L583.0 203.1L585.0 203.9L587.0 204.7L589.0 205.5L591.0 206.2L591.5 206.4L593.0 206.8L595.0 207.4L597.0 207.9L599.0 208.4L601.0 208.9L603.0 209.3L604.0 209.5L605.0 209.7L607.0 210.0L609.0 210.3M509.0 219.2L511.0 219.2L513.0 219.2L515.0 219.2L517.0 219.2L519.0 219.2L521.0 219.2L523.0 219.2L525.0 219.2L527.0 219.2L529.0 219.2L531.0 219.2L533.0 219.2L535.0 219.2L537.0 219.2L539.0 219.2L541.0 219.2L543.0 219.2L544.0 219.2L545.0 219.2L547.0 219.0L549.0 218.7L551.0 218.2L553.0 217.8L554.0 217.6L555.0 217.4L557.0 217.0L559.0 216.6L561.0 216.2L563.0 215.8L565.0 215.4L566.5 215.1L567.0 215.0L569.0 214.7L571.0 214.4L573.0 214.1L575.0 213.8L577.0 213.5L579.0 213.2L581.0 213.0L583.0 212.7L585.0 212.4L587.0 212.1L589.0 211.9L591.0 211.8L591.5 211.8L593.0 211.7L595.0 211.6L597.0 211.5L599.0 211.4L601.0 211.4L603.0 211.3L605.0 211.3L607.0 211.3L609.0 211.3M544.0 219.2L546.0 219.5L548.1 219.8L550.1 220.1L552.1 220.3L554.0 220.5L554.2 220.5L556.2 220.7L558.2 220.9L560.2 221.1L562.3 221.2L564.3 221.3L566.3 221.4L566.5 221.4L568.4 221.3L570.4 221.1L572.4 220.8L574.0 220.5L574.5 220.4L576.5 220.0L578.5 219.4L580.6 218.7L582.6 218.0L584.6 217.4L585.2 217.2L586.7 216.9L588.7 216.3L590.7 215.8L592.8 215.3L594.8 214.9L596.8 214.4L597.8 214.2L598.8 214.0L600.9 213.7L602.9 213.3L604.9 213.0L607.0 212.8L609.0 212.5M509.0 226.0L511.0 226.1L513.0 226.2L515.0 226.2L517.0 226.3L519.0 226.3L521.0 226.4L523.0 226.4L525.0 226.4L527.0 226.4L529.0 226.5L531.0 226.5L533.0 226.5L535.0 226.5L537.0 226.5L539.0 226.5L541.0 226.5L543.0 226.5L544.0 226.5L545.0 226.5L547.0 226.5L549.0 226.4L551.0 226.3L553.0 226.2L555.0 226.1L557.0 226.0L559.0 225.8L560.2 225.8L561.0 225.7L563.0 225.5L565.0 225.2L567.0 224.8L569.0 224.4L571.0 224.0L572.8 223.6L573.0 223.6L575.0 223.1L577.0 222.5L579.0 221.9L581.0 221.3L583.0 220.6L585.0 220.0L585.2 219.9L587.0 219.3L589.0 218.6L591.0 217.9L593.0 217.2L595.0 216.6L597.0 216.0L597.8 215.8L599.0 215.4L601.0 214.9L603.0 214.5L605.0 214.0L607.0 213.6L609.0 213.2M509.0 227.2L511.0 227.2L513.0 227.2L515.0 227.2L517.0 227.2L519.0 227.2L521.0 227.2L523.0 227.2L525.0 227.2L527.0 227.2L529.0 227.2L531.0 227.2L533.0 227.2L535.0 227.2L537.0 227.2L539.0 227.2L541.0 227.2L543.0 227.2L544.0 227.2L545.0 227.2L547.0 227.2L549.0 227.1L551.0 227.0L553.0 226.9L555.0 226.8L557.0 226.7L559.0 226.6L561.0 226.5L563.0 226.4L565.0 226.4L566.5 226.4L567.0 226.4L569.0 226.4L571.0 226.5L573.0 226.6L575.0 226.7L577.0 226.8L579.0 227.0L581.0 227.3L583.0 227.7L585.0 228.1L587.0 228.6L589.0 229.1L591.0 229.4L591.5 229.5L593.0 229.7L595.0 229.9L597.0 230.1L599.0 230.3L601.0 230.4L603.0 230.5L604.0 230.5L605.0 230.5L607.0 230.5L609.0 230.5M509.0 247.4L511.0 247.4L513.0 247.4L515.0 247.4L517.0 247.4L519.0 247.3L521.0 247.3L523.0 247.3L525.0 247.3L527.0 247.3L529.0 247.3L531.0 247.2L533.0 247.2L535.0 247.2L537.0 247.1L539.0 247.1L541.0 247.1L543.0 247.0L544.0 247.0L545.0 247.0L547.0 246.8L549.0 246.7L551.0 246.4L553.0 246.1L555.0 245.9L557.0 245.6L559.0 245.3L560.2 245.1L561.0 245.0L563.0 244.8L565.0 244.5L567.0 244.2L569.0 244.0L571.0 243.7L573.0 243.4L575.0 243.1L577.0 242.9L579.0 242.6L581.0 242.4L583.0 242.1L585.0 241.8L587.0 241.5L589.0 241.2L591.0 240.9L593.0 240.7L595.0 240.6L597.0 240.5L597.8 240.5L599.0 240.5L601.0 240.5L603.0 240.5L605.0 240.5L607.0 240.5L609.0 240.5M509.0 247.6L511.0 247.6L513.0 247.6L515.0 247.6L517.0 247.6L519.0 247.6L521.0 247.6L523.0 247.6L525.0 247.6L527.0 247.6L529.0 247.6L531.0 247.6L533.0 247.6L535.0 247.6L537.0 247.6L539.0 247.6L541.0 247.6L543.0 247.6L544.0 247.6L545.0 247.6L547.0 247.7L549.0 247.7L551.0 247.8L553.0 248.0L555.0 248.1L557.0 248.2L559.0 248.4L561.0 248.5L563.0 248.7L565.0 248.8L566.5 248.9L567.0 248.9L569.0 249.0L571.0 249.1L573.0 249.2L575.0 249.3L577.0 249.5L579.0 249.6L581.0 249.7L583.0 249.8L585.0 249.9L587.0 250.0L589.0 250.0L591.0 250.1L591.5 250.1L593.0 250.2L595.0 250.2L597.0 250.3L599.0 250.3L601.0 250.4L603.0 250.4L605.0 250.4L607.0 250.5L609.0 250.5M609.0 207.4L654.0 208.0M609.0 208.9L654.0 209.2M609.0 210.4L654.0 210.4M609.0 211.9L654.0 211.6M609.0 213.5L654.0 212.8M609.0 226.4L611.0 226.3L613.1 226.1L615.1 225.9L617.2 225.7L619.2 225.4L621.3 225.1L623.3 224.8L625.0 224.5L625.4 224.4L627.4 224.0L629.5 223.5L631.5 223.0L633.5 222.4L635.6 221.8L637.5 221.4L637.6 221.3L639.7 220.9L641.7 220.4L643.8 220.0L645.8 219.5L647.9 219.1L649.9 218.7L652.0 218.3L654.0 217.9M654.0 207.6L656.0 206.8L658.0 205.9L660.0 205.0L662.0 204.1L662.5 203.9L664.0 203.2L666.0 202.2L668.0 201.1L670.0 200.1L672.0 199.1L674.0 198.1L675.0 197.6L676.0 197.1L678.0 196.2L680.0 195.2L682.0 194.3L684.0 193.4L686.0 192.6L687.5 192.0L688.0 191.8L690.0 191.1L692.0 190.4L694.0 189.7L696.0 189.1L698.0 188.6L700.0 188.2L702.0 188.0L704.0 187.7L706.0 187.5L708.0 187.3L710.0 187.1L712.0 187.0L714.0 187.0M654.0 208.9L656.0 208.4L658.0 207.8L660.0 207.2L662.0 206.5L662.5 206.4L664.0 205.8L666.0 205.0L668.0 204.0L670.0 203.1L672.0 202.1L674.0 201.2L675.0 200.8L676.0 200.3L678.0 199.5L680.0 198.6L682.0 197.8L684.0 197.0L686.0 196.2L687.5 195.8L688.0 195.6L690.0 195.0L692.0 194.4L694.0 193.8L696.0 193.4L698.0 192.9L700.0 192.6L702.0 192.4L704.0 192.1L706.0 191.9L708.0 191.7L710.0 191.5L712.0 191.4L714.0 191.4M654.0 212.0L656.0 212.6L658.0 213.2L660.0 213.8L662.0 214.4L662.5 214.5L664.0 214.9L666.0 215.5L668.0 216.1L670.0 216.6L672.0 217.1L674.0 217.5L675.0 217.6L676.0 217.8L678.0 218.0L680.0 218.3L682.0 218.5L684.0 218.7L686.0 218.8L687.5 218.9L688.0 218.9L690.0 218.9L692.0 219.0L694.0 219.0L696.0 219.1L698.0 219.1L700.0 219.1L702.0 219.2L704.0 219.2L706.0 219.2L708.0 219.2L710.0 219.2L712.0 219.2L714.0 219.2M654.0 213.2L656.0 213.8L658.0 214.4L660.0 215.0L662.0 215.6L664.0 216.1L665.0 216.4L666.0 216.7L668.0 217.3L670.0 217.9L672.0 218.4L674.0 218.8L675.0 218.9L676.0 219.0L678.0 219.1L680.0 219.2L682.0 219.3L684.0 219.4L686.0 219.5L687.5 219.5L688.0 219.5L690.0 219.6L692.0 219.6L694.0 219.6L696.0 219.7L698.0 219.7L700.0 219.8L702.0 219.8L704.0 219.8L706.0 219.8L708.0 219.9L710.0 219.9L712.0 219.9L714.0 219.9M654.0 218.2L656.0 218.5L658.0 218.8L660.0 219.1L662.0 219.4L662.5 219.5L664.0 219.8L666.0 220.1L668.0 220.5L670.0 221.0L672.0 221.4L674.0 221.8L675.0 222.0L676.0 222.2L678.0 222.6L680.0 223.0L682.0 223.4L684.0 223.9L686.0 224.2L687.5 224.5L688.0 224.6L690.0 224.9L692.0 225.3L694.0 225.6L696.0 225.9L698.0 226.2L700.0 226.4L702.0 226.5L704.0 226.6L706.0 226.8L708.0 226.9L710.0 226.9L712.0 227.0L714.0 227.0M654.0 217.0L656.0 217.4L658.0 217.8L660.0 218.2L662.0 218.6L664.0 219.1L666.0 219.5L668.0 220.0L668.8 220.1L670.0 220.4L672.0 220.9L674.0 221.5L676.0 222.0L678.0 222.5L680.0 223.0L681.2 223.2L682.0 223.4L684.0 223.8L686.0 224.3L688.0 224.6L690.0 225.0L692.0 225.3L693.8 225.5L694.0 225.5L696.0 225.7L698.0 225.9L700.0 226.1L702.0 226.2L704.0 226.4L706.0 226.5L708.0 226.6L710.0 226.7L712.0 226.7L714.0 226.8M609.0 240.5L611.0 240.5L613.0 240.5L615.1 240.6L617.1 240.7L618.8 240.8L619.1 240.8L621.1 241.0L623.1 241.3L625.2 241.8L627.2 242.3L629.2 242.8L631.2 243.2L631.2 243.2L633.2 243.7L635.2 244.3L637.3 244.8L639.3 245.4L641.3 245.9L643.3 246.3L643.8 246.4L645.3 246.6L647.4 247.0L649.4 247.3L651.4 247.5L653.4 247.6L654.0 247.6L655.4 247.6L657.5 247.6L659.5 247.6L661.5 247.6L663.5 247.6L665.5 247.6L667.6 247.6L669.6 247.6L671.6 247.6L673.6 247.6L675.6 247.6L677.7 247.6L679.7 247.6L681.7 247.6L683.7 247.6L685.7 247.6L687.8 247.6L689.8 247.6L691.8 247.6L693.8 247.6L695.8 247.5L697.8 247.5L699.9 247.5L701.9 247.5L703.9 247.5L705.9 247.5L707.9 247.4L710.0 247.4L712.0 247.4L714.0 247.4M609.0 251.0L611.0 251.2L613.0 251.3L615.1 251.3L617.1 251.4L618.8 251.4L619.1 251.4L621.1 251.3L623.1 251.2L625.2 251.0L627.2 250.8L629.2 250.5L631.2 250.3L633.2 250.0L635.2 249.7L637.3 249.5L637.5 249.5L639.3 249.3L641.3 249.1L643.3 248.8L645.3 248.5L647.4 248.3L649.4 248.1L651.4 248.0L653.4 247.9L654.0 247.9L655.4 247.9L657.5 247.9L659.5 247.8L661.5 247.8L663.5 247.8L665.5 247.8L667.6 247.8L669.6 247.8L671.6 247.8L673.6 247.8L675.6 247.8L677.7 247.8L679.7 247.8L681.7 247.8L683.7 247.8L685.7 247.8L687.8 247.8L689.8 247.8L691.8 247.8L693.8 247.8L695.8 247.8L697.8 247.8L699.9 247.8L701.9 247.8L703.9 247.8L705.9 247.8L707.9 247.8L710.0 247.8L712.0 247.8L714.0 247.8M412.0 282.0L414.0 282.0L416.0 282.0L418.1 282.0L420.1 282.1L422.1 282.1L424.1 282.1L426.1 282.2L428.2 282.2L430.2 282.2L432.2 282.3L434.2 282.3L436.2 282.4L438.3 282.4L440.3 282.5L442.3 282.5L444.3 282.6L445.5 282.6L446.4 282.7L448.4 282.7L450.4 282.8L452.4 282.9L454.4 283.1L456.5 283.2L458.5 283.3L460.5 283.5L462.5 283.6L464.5 283.8L466.6 283.9L468.6 284.0L470.6 284.2L472.6 284.3L474.6 284.4L476.7 284.4L478.7 284.5L480.7 284.5L481.0 284.5L482.7 284.5L484.8 284.5L486.8 284.5L488.8 284.5L490.8 284.5L492.8 284.5L494.9 284.5L496.9 284.5L498.9 284.5L500.9 284.5L502.9 284.5L505.0 284.5L507.0 284.5L509.0 284.5M412.0 283.9L414.0 283.9L416.0 283.9L418.1 284.0L420.1 284.0L422.1 284.0L424.1 284.0L426.1 284.1L428.2 284.1L430.2 284.2L432.2 284.2L434.2 284.2L436.2 284.3L438.3 284.3L440.3 284.4L442.3 284.4L444.3 284.5L445.5 284.5L446.4 284.5L448.4 284.6L450.4 284.7L452.4 284.7L454.4 284.8L456.5 284.9L458.5 285.0L460.5 285.1L462.5 285.2L464.5 285.3L466.6 285.4L468.6 285.5L470.6 285.5L472.6 285.6L474.6 285.7L476.7 285.7L478.7 285.7L480.7 285.7L481.0 285.8L482.7 285.8L484.8 285.8L486.8 285.8L488.8 285.8L490.8 285.8L492.8 285.8L494.9 285.8L496.9 285.8L498.9 285.8L500.9 285.8L502.9 285.8L505.0 285.8L507.0 285.8L509.0 285.8M412.0 286.4L414.0 286.4L416.0 286.4L418.1 286.4L420.1 286.4L422.1 286.4L424.1 286.4L426.1 286.4L428.2 286.4L430.2 286.4L432.2 286.4L434.2 286.4L436.2 286.4L438.3 286.4L440.3 286.4L442.3 286.4L444.3 286.4L445.5 286.4L446.4 286.4L448.4 286.4L450.4 286.4L452.4 286.4L454.4 286.4L456.5 286.5L458.5 286.5L460.5 286.5L462.5 286.6L464.5 286.6L466.6 286.6L468.6 286.6L470.6 286.7L472.6 286.7L474.6 286.7L476.7 286.7L478.7 286.7L480.7 286.7L481.0 286.8L482.7 286.7L484.8 286.7L486.8 286.7L488.8 286.7L490.8 286.7L492.8 286.7L494.9 286.7L496.9 286.7L498.9 286.7L500.9 286.7L502.9 286.7L505.0 286.7L507.0 286.6L509.0 286.6M412.0 288.2L414.0 288.2L416.1 288.1L418.1 288.1L420.1 288.0L422.1 287.9L424.2 287.9L426.2 287.8L428.2 287.8L430.3 287.7L432.3 287.6L433.0 287.6L434.3 287.6L436.4 287.5L438.4 287.5L440.4 287.4L442.4 287.3L444.5 287.3L446.5 287.2L448.5 287.1L450.6 287.1L452.6 287.1L454.6 287.0L456.6 287.0L458.0 287.0L458.7 287.0L460.7 287.0L462.7 287.0L464.8 287.0L466.8 287.0L468.8 287.1L470.9 287.1L472.9 287.1L474.9 287.2L476.9 287.2L479.0 287.3L481.0 287.4M412.0 292.0L414.0 292.0L416.0 292.0L418.1 292.0L420.1 292.0L422.1 292.0L424.1 292.0L426.1 292.0L428.2 292.0L430.2 292.0L432.2 292.0L434.2 292.0L436.2 292.0L438.3 292.0L439.2 292.0L440.3 292.0L442.3 292.0L444.3 292.0L446.4 292.0L448.4 292.0L450.4 292.0L452.4 292.0L454.4 292.0L456.5 292.0L458.0 292.0L458.5 292.0L460.5 292.0L462.5 292.0L464.5 292.0L466.6 292.0L468.6 292.0L470.6 292.0L472.6 292.0L474.6 292.0L476.7 292.0L478.7 292.0L480.7 292.0L481.0 292.0L482.7 292.0L484.8 292.0L486.8 292.0L488.8 292.0L490.8 292.0L492.8 292.0L494.9 292.0L496.9 292.0L498.9 292.0L500.9 292.0L502.9 292.0L505.0 292.0L507.0 292.0L509.0 292.0M412.0 294.8L414.0 294.6L416.0 294.4L418.1 294.3L420.1 294.2L422.1 294.1L424.1 294.0L426.1 294.0L428.2 293.9L430.2 293.9L432.2 293.9L434.2 293.9L436.2 293.9L438.3 293.9L439.2 293.9L440.3 293.9L442.3 293.9L444.3 294.0L446.4 294.1L448.4 294.2L450.4 294.4L452.4 294.6L454.4 294.8L456.5 295.0L458.0 295.1L458.5 295.2L460.5 295.5L462.5 295.9L464.5 296.4L466.6 296.9L468.6 297.3L470.5 297.6L470.6 297.6L472.6 297.9L474.6 298.2L476.7 298.4L478.7 298.7L480.7 298.8L482.7 298.9L483.0 298.9L484.8 298.9L486.8 298.9L488.8 298.9L490.8 298.9L492.8 298.9L494.9 298.9L495.5 298.9L496.9 298.9L498.9 298.8L500.9 298.7L502.9 298.6L505.0 298.5L507.0 298.4L509.0 298.2M412.0 296.4L414.0 296.4L416.1 296.3L418.1 296.3L420.1 296.3L422.1 296.2L424.2 296.1L426.2 296.0L428.2 296.0L430.3 295.9L432.3 295.8L433.0 295.8L434.3 295.7L436.4 295.5L438.4 295.3L440.4 295.1L442.4 294.9L444.5 294.6L446.5 294.4L448.5 294.1L450.6 293.9L452.6 293.7L454.6 293.5L456.6 293.3L458.0 293.2L458.7 293.2L460.7 293.1L462.7 293.1L464.8 293.0L466.8 292.9L468.8 292.8L470.9 292.8L472.9 292.7L474.9 292.7L476.9 292.7L479.0 292.6L481.0 292.6M412.0 299.5L414.0 299.5L416.0 299.5L418.1 299.5L420.1 299.5L422.1 299.5L424.1 299.5L426.1 299.5L428.2 299.5L430.2 299.5L432.2 299.5L434.2 299.5L436.2 299.5L438.3 299.5L440.3 299.5L442.3 299.5L444.3 299.5L445.5 299.5L446.4 299.5L448.4 299.5L450.4 299.6L452.4 299.6L454.4 299.7L456.5 299.8L458.5 299.9L460.5 300.0L462.5 300.1L464.5 300.2L466.6 300.3L468.6 300.4L470.6 300.5L472.6 300.6L474.6 300.6L476.7 300.7L478.7 300.7L480.7 300.7L481.0 300.8L482.7 300.8L484.8 300.8L486.8 300.8L488.8 300.8L490.8 300.8L492.8 300.8L494.9 300.8L496.9 300.8L498.9 300.8L500.9 300.8L502.9 300.8L505.0 300.8L507.0 300.8L509.0 300.8M412.0 300.8L414.0 300.8L416.0 300.8L418.1 300.9L420.1 300.9L422.1 300.9L424.1 301.0L426.1 301.0L428.2 301.1L430.2 301.1L432.2 301.1L434.2 301.2L436.2 301.2L438.3 301.2L440.3 301.3L442.3 301.3L444.3 301.4L445.5 301.4L446.4 301.4L448.4 301.4L450.4 301.5L452.4 301.5L454.4 301.5L456.5 301.6L458.5 301.6L460.5 301.6L462.5 301.7L464.5 301.7L466.6 301.7L468.6 301.8L470.6 301.8L472.6 301.8L474.6 301.9L476.7 301.9L478.7 302.0L480.7 302.0L481.0 302.0L482.7 302.0L484.8 302.1L486.8 302.1L488.8 302.2L490.8 302.2L492.8 302.2L494.9 302.3L496.9 302.3L498.9 302.4L500.9 302.4L502.9 302.5L505.0 302.5L507.0 302.6L509.0 302.6M412.0 303.9L414.0 304.2L416.0 304.5L418.1 304.8L420.1 305.1L422.1 305.5L424.1 305.9L426.1 306.3L426.8 306.4L428.2 306.7L430.2 307.1L432.2 307.6L434.2 308.1L436.2 308.6L438.3 309.0L439.2 309.2L440.3 309.5L442.3 309.9L444.3 310.3L446.4 310.7L448.4 311.1L450.4 311.4L450.5 311.4L452.4 311.6L454.4 311.8L456.5 312.0L458.5 312.2L460.5 312.4L462.5 312.5L464.2 312.6L464.5 312.6L466.6 312.7L468.6 312.8L470.6 312.9L472.6 313.0L474.6 313.1L476.7 313.2L478.7 313.2L480.7 313.2L481.0 313.2L482.7 313.3L484.8 313.3L486.8 313.3L488.8 313.4L490.8 313.4L492.8 313.4L494.9 313.4L496.9 313.4L498.9 313.5L500.9 313.5L502.9 313.5L505.0 313.5L507.0 313.5L509.0 313.5M412.0 313.2L414.0 313.2L416.0 313.2L418.1 313.1L420.1 313.0L422.1 312.9L424.1 312.8L426.1 312.7L426.8 312.6L428.2 312.5L430.2 312.3L432.2 312.0L434.2 311.6L436.2 311.3L438.3 310.9L439.2 310.8L440.3 310.6L442.3 310.3L444.3 309.9L446.4 309.6L448.4 309.2L450.4 308.9L450.5 308.9L452.4 308.5L454.4 308.2L456.5 307.8L458.5 307.4L460.5 307.0L462.5 306.7L464.2 306.4L464.5 306.3L466.6 306.0L468.6 305.6L470.6 305.3L472.6 305.0L474.6 304.6L476.7 304.4L478.7 304.1L480.7 303.9L481.0 303.9L482.7 303.7L484.8 303.6L486.8 303.5L488.8 303.4L490.8 303.3L492.8 303.1L494.9 303.0L495.5 303.0L496.9 302.9L498.9 302.8L500.9 302.7L502.9 302.6L505.0 302.5L507.0 302.4L509.0 302.2M412.0 315.8L414.0 315.7L416.0 315.7L418.1 315.7L420.1 315.7L422.1 315.6L424.1 315.6L426.1 315.6L428.2 315.5L430.2 315.5L432.2 315.4L434.2 315.4L436.2 315.3L438.3 315.3L440.3 315.3L442.3 315.2L444.3 315.2L445.5 315.1L446.4 315.1L448.4 315.0L450.4 315.0L452.4 314.9L454.4 314.8L456.5 314.7L458.5 314.6L460.5 314.6L462.5 314.5L464.2 314.5L464.5 314.5L466.6 314.5L468.6 314.6L470.6 314.7L472.6 314.8L474.6 314.9L476.7 315.0L478.7 315.1L480.7 315.1L481.0 315.1L482.7 315.1L484.8 315.1L486.8 315.1L488.8 315.1L490.8 315.1L492.8 315.1L494.9 315.1L496.9 315.1L498.9 315.1L500.9 315.1L502.9 315.1L505.0 315.1L507.0 315.1L509.0 315.1M412.0 314.5L414.0 314.5L416.0 314.5L418.1 314.4L420.1 314.4L422.1 314.3L424.1 314.3L426.1 314.2L428.2 314.1L430.2 314.0L432.2 313.9L433.0 313.9L434.2 313.8L436.2 313.6L438.3 313.3L440.3 312.9L442.3 312.5L444.3 312.0L446.4 311.6L448.4 311.2L450.4 310.8L450.5 310.8L452.4 310.4L454.4 310.0L456.5 309.6L458.5 309.3L460.5 308.9L462.5 308.5L464.2 308.2L464.5 308.2L466.6 307.9L468.6 307.5L470.6 307.2L472.6 306.9L474.6 306.5L476.7 306.3L478.7 306.0L480.7 305.8L481.0 305.8L482.7 305.6L484.8 305.4L486.8 305.2L488.8 305.0L490.8 304.9L492.8 304.7L494.9 304.5L496.9 304.4L498.9 304.3L500.9 304.2L502.9 304.1L505.0 304.0L507.0 303.9L509.0 303.9M509.0 284.5L511.0 284.5L513.0 284.5L515.0 284.5L517.0 284.5L519.0 284.5L521.0 284.5L523.0 284.5L525.0 284.4L527.0 284.4L529.0 284.4L531.0 284.4L533.0 284.4L535.0 284.4L537.0 284.3L539.0 284.3L541.0 284.3L543.0 284.3L544.0 284.2L545.0 284.2L547.0 284.2L549.0 284.1L551.0 283.9L553.0 283.8L555.0 283.6L557.0 283.4L559.0 283.2L561.0 283.0L563.0 282.9L565.0 282.7L566.5 282.6L567.0 282.6L569.0 282.5L571.0 282.4L573.0 282.2L575.0 282.1L577.0 282.0L579.0 281.9L581.0 281.8L583.0 281.7L585.0 281.6L587.0 281.5L589.0 281.5L591.0 281.4L591.5 281.4L593.0 281.3L595.0 281.3L597.0 281.2L599.0 281.2L601.0 281.1L603.0 281.1L605.0 281.1L607.0 281.0L609.0 281.0M509.0 285.8L511.0 285.7L513.0 285.7L515.0 285.7L517.0 285.7L519.0 285.7L521.0 285.7L523.0 285.7L525.0 285.7L527.0 285.7L529.0 285.7L531.0 285.6L533.0 285.6L535.0 285.6L537.0 285.6L539.0 285.6L541.0 285.5L543.0 285.5L544.0 285.5L545.0 285.5L547.0 285.5L549.0 285.4L551.0 285.4L553.0 285.3L555.0 285.3L557.0 285.2L559.0 285.1L561.0 285.1L563.0 285.0L565.0 284.9L567.0 284.9L569.0 284.8L571.0 284.7L573.0 284.7L575.0 284.6L577.0 284.6L579.0 284.5L581.0 284.5L583.0 284.4L585.0 284.4L587.0 284.3L589.0 284.3L591.0 284.2L593.0 284.2L595.0 284.1L597.0 284.1L599.0 284.1L601.0 284.0L603.0 284.0L605.0 283.9L607.0 283.9L609.0 283.9M509.0 286.8L511.0 286.8L513.0 286.9L515.0 287.0L517.0 287.1L519.0 287.2L521.0 287.2L523.0 287.3L525.0 287.4L527.0 287.5L529.0 287.6L531.0 287.7L533.0 287.9L535.0 288.0L537.0 288.1L539.0 288.3L541.0 288.4L543.0 288.5L544.0 288.5L545.0 288.5L547.0 288.6L549.0 288.6L551.0 288.7L553.0 288.7L555.0 288.7L557.0 288.7L559.0 288.8L561.0 288.8L563.0 288.8L565.0 288.9L566.5 288.9L567.0 288.9L569.0 288.9L571.0 288.9L573.0 289.0L575.0 289.0L577.0 289.0L579.0 289.0L581.0 289.1L583.0 289.1L585.0 289.1L587.0 289.2L589.0 289.2L591.0 289.2L591.5 289.2L593.0 289.3L595.0 289.3L597.0 289.4L599.0 289.4L601.0 289.5L603.0 289.6L605.0 289.6L607.0 289.7L609.0 289.8M509.0 292.0L511.0 292.0L513.0 292.0L515.0 292.0L517.0 292.0L519.0 292.0L521.0 292.0L523.0 292.0L525.0 292.0L527.0 292.0L529.0 292.0L531.0 292.0L533.0 292.0L535.0 292.0L537.0 292.0L539.0 292.0L541.0 292.0L543.0 292.0L544.0 292.0L545.0 292.0L547.0 292.0L549.0 292.0L551.0 292.0L553.0 292.1L555.0 292.1L557.0 292.1L559.0 292.2L561.0 292.2L563.0 292.3L565.0 292.3L567.0 292.4L569.0 292.4L571.0 292.5L573.0 292.5L575.0 292.5L577.0 292.6L579.0 292.6L581.0 292.7L583.0 292.7L585.0 292.7L587.0 292.8L589.0 292.8L591.0 292.9L593.0 292.9L595.0 292.9L597.0 293.0L599.0 293.0L601.0 293.1L603.0 293.1L605.0 293.2L607.0 293.2L609.0 293.2M509.0 299.0L511.0 298.9L513.0 298.7L515.0 298.4L516.5 298.2L517.0 298.2L519.0 297.8L521.0 297.4L523.0 297.0L525.0 296.5L527.0 296.1L529.0 295.8L531.0 295.4L533.0 295.1L535.0 294.8L537.0 294.4L539.0 294.2L541.0 294.0L543.0 293.9L544.0 293.9L545.0 293.9L547.0 293.9L549.0 293.9L551.0 293.9L553.0 293.9L555.0 293.9L557.0 293.9L559.0 293.9L561.0 293.9L563.0 293.9L565.0 293.9L566.5 293.9L567.0 293.9L569.0 293.9L571.0 294.0L573.0 294.0L575.0 294.1L577.0 294.2L579.0 294.4L581.0 294.5L583.0 294.6L585.0 294.8L587.0 294.9L589.0 295.0L591.0 295.1L591.5 295.1L593.0 295.2L595.0 295.3L597.0 295.3L599.0 295.4L601.0 295.5L603.0 295.6L605.0 295.6L607.0 295.7L609.0 295.8M509.0 302.2L511.0 302.3L513.0 302.4L515.0 302.5L516.5 302.6L517.0 302.7L519.0 302.9L521.0 303.3L523.0 303.8L525.0 304.3L527.0 304.8L529.0 305.1L531.0 305.4L533.0 305.8L535.0 306.1L537.0 306.4L539.0 306.7L541.0 306.9L543.0 307.0L544.0 307.0L545.0 307.0L547.0 306.9L549.0 306.8L551.0 306.7L553.0 306.5L555.0 306.3L557.0 306.1L559.0 305.9L560.2 305.8L561.0 305.7L563.0 305.3L565.0 305.0L567.0 304.5L569.0 304.1L571.0 303.6L572.8 303.2L573.0 303.2L575.0 302.8L577.0 302.4L579.0 302.0L581.0 301.5L583.0 301.2L585.0 300.8L585.2 300.8L587.0 300.4L589.0 300.1L591.0 299.8L593.0 299.4L595.0 299.2L597.0 298.9L597.8 298.9L599.0 298.8L601.0 298.6L603.0 298.5L605.0 298.4L607.0 298.3L609.0 298.2M509.0 302.9L511.0 303.1L513.0 303.3L515.0 303.6L516.5 303.9L517.0 304.0L519.0 304.5L521.0 305.1L523.0 305.7L525.0 306.4L527.0 307.1L529.0 307.6L531.0 308.1L533.0 308.6L535.0 309.0L537.0 309.4L539.0 309.7L541.0 310.1L541.5 310.1L543.0 310.3L545.0 310.5L547.0 310.7L549.0 310.9L551.0 311.1L553.0 311.3L554.0 311.4L555.0 311.5L557.0 311.7L559.0 311.9L561.0 312.1L563.0 312.3L565.0 312.5L566.5 312.6L567.0 312.7L569.0 312.9L571.0 313.2L573.0 313.5L575.0 313.8L577.0 314.1L579.0 314.4L581.0 314.7L583.0 314.9L585.0 315.2L587.0 315.4L589.0 315.6L591.0 315.7L591.5 315.8L593.0 315.8L595.0 315.9L597.0 316.0L599.0 316.1L601.0 316.2L603.0 316.3L605.0 316.3L607.0 316.4L609.0 316.4M509.0 314.5L511.0 314.5L513.0 314.4L515.0 314.3L517.0 314.2L519.0 314.1L521.0 314.0L522.8 313.9L523.0 313.9L525.0 313.7L527.0 313.5L529.0 313.2L531.0 313.0L533.0 312.7L535.0 312.4L537.0 312.1L539.0 311.7L541.0 311.4L541.5 311.4L543.0 311.2L545.0 310.9L547.0 310.6L549.0 310.3L551.0 310.0L553.0 309.7L554.0 309.5L555.0 309.4L557.0 309.1L559.0 308.8L561.0 308.5L563.0 308.2L565.0 307.9L566.5 307.6L567.0 307.5L569.0 307.1L571.0 306.7L573.0 306.3L575.0 305.8L577.0 305.4L579.0 305.1L581.0 304.9L583.0 304.6L585.0 304.4L587.0 304.3L589.0 304.1L591.0 303.9L591.5 303.9L593.0 303.7L595.0 303.6L597.0 303.4L599.0 303.3L601.0 303.1L603.0 303.0L605.0 302.9L607.0 302.7L609.0 302.6M509.0 313.5L511.0 313.4L513.0 313.3L515.0 313.2L517.0 313.1L519.0 313.1L521.0 313.0L523.0 312.9L525.0 312.8L527.0 312.7L529.0 312.6L531.0 312.5L533.0 312.4L535.0 312.3L537.0 312.2L539.0 312.1L541.0 312.0L543.0 312.0L544.0 312.0L545.0 312.0L547.0 312.0L549.0 312.0L551.0 312.0L553.0 312.0L555.0 312.0L557.0 312.0L559.0 312.0L561.0 312.0L563.0 312.0L565.0 312.0L566.5 312.0L567.0 312.0L569.0 312.0L571.0 312.0L573.0 312.1L575.0 312.1L577.0 312.2L579.0 312.2L581.0 312.3L583.0 312.3L585.0 312.4L587.0 312.5L589.0 312.5L591.0 312.6L591.5 312.6L593.0 312.7L595.0 312.7L597.0 312.8L599.0 312.9L601.0 312.9L603.0 313.0L605.0 313.1L607.0 313.2L609.0 313.2M509.0 300.8L511.0 300.8L513.0 300.9L515.0 300.9L517.0 300.9L519.0 301.0L521.0 301.0L523.0 301.0L525.0 301.0L527.0 301.0L529.0 301.0L531.0 301.0L533.0 300.8L535.0 300.6L537.0 300.4L539.0 300.1L541.0 299.9L543.0 299.6L544.0 299.5L545.0 299.4L547.0 299.1L549.0 298.8L551.0 298.5L553.0 298.2L555.0 297.9L557.0 297.6L559.0 297.3L561.0 297.0L563.0 296.7L565.0 296.5L566.5 296.4L567.0 296.3L569.0 296.2L571.0 296.0L573.0 295.8L575.0 295.7L577.0 295.5L579.0 295.4L581.0 295.3L583.0 295.2L585.0 295.0L587.0 294.9L589.0 294.9L591.0 294.8L591.5 294.8L593.0 294.7L595.0 294.6L597.0 294.5L599.0 294.5L601.0 294.4L603.0 294.4L605.0 294.3L607.0 294.3L609.0 294.2M609.0 278.0L611.0 278.0L613.0 278.0L615.1 278.0L617.1 278.0L619.1 278.1L621.1 278.1L623.1 278.1L625.2 278.1L627.2 278.2L629.2 278.2L631.2 278.2L631.2 278.2L633.2 278.3L635.2 278.4L637.3 278.4L639.3 278.5L641.3 278.6L643.3 278.8L645.3 278.9L647.4 279.0L649.4 279.2L651.4 279.3L653.4 279.5L654.0 279.5L655.4 279.6L657.5 279.8L659.5 280.0L661.5 280.3L663.5 280.5L665.5 280.8L667.6 281.1L669.6 281.3L671.6 281.6L673.6 281.8L675.0 282.0L675.6 282.1L677.7 282.3L679.7 282.5L681.7 282.7L683.7 282.9L685.7 283.2L687.8 283.4L689.8 283.5L691.8 283.7L693.8 283.9L693.8 283.9L695.8 284.0L697.8 284.2L699.9 284.3L701.9 284.5L703.9 284.6L705.9 284.7L707.9 284.8L710.0 284.9L712.0 285.0L714.0 285.1M609.0 281.4L611.0 281.5L613.0 281.5L615.1 281.6L617.1 281.7L619.1 281.8L621.1 281.9L623.1 282.0L625.2 282.0L627.2 282.1L629.2 282.2L631.2 282.3L633.2 282.4L635.2 282.5L637.3 282.6L637.5 282.6L639.3 282.7L641.3 282.8L643.3 282.9L645.3 283.0L647.4 283.1L649.4 283.3L651.4 283.4L653.4 283.5L654.0 283.5L655.4 283.6L657.5 283.7L659.5 283.8L661.5 283.9L663.5 284.0L665.5 284.1L667.6 284.2L669.6 284.3L671.6 284.4L673.6 284.4L675.0 284.5L675.6 284.5L677.7 284.6L679.7 284.7L681.7 284.8L683.7 284.8L685.7 284.9L687.8 285.0L689.8 285.0L691.8 285.1L693.8 285.2L695.8 285.3L697.8 285.3L699.9 285.4L701.9 285.4L703.9 285.5L705.9 285.6L707.9 285.6L710.0 285.7L712.0 285.7L714.0 285.7M609.0 283.9L611.0 283.9L613.0 283.9L615.1 283.9L617.1 283.9L619.1 283.9L621.1 283.9L623.1 283.9L625.2 283.9L627.2 283.9L629.2 283.9L631.2 283.9L633.2 283.9L635.2 283.9L637.3 283.9L637.5 283.9L639.3 283.9L641.3 283.9L643.3 284.0L645.3 284.1L647.4 284.2L649.4 284.3L651.4 284.4L653.4 284.5L654.0 284.5L655.4 284.5L657.5 284.6L659.5 284.7L661.5 284.7L663.5 284.8L665.5 284.9L667.6 284.9L669.6 285.0L671.6 285.0L673.6 285.1L675.6 285.1L677.7 285.2L679.7 285.3L681.7 285.3L683.7 285.4L685.7 285.4L687.8 285.5L689.8 285.5L691.8 285.6L693.8 285.6L695.8 285.7L697.8 285.7L699.9 285.7L701.9 285.8L703.9 285.8L705.9 285.9L707.9 285.9L710.0 285.9L712.0 286.0L714.0 286.0M609.0 287.6L611.0 287.6L613.0 287.5L615.1 287.4L617.1 287.4L619.1 287.3L621.1 287.2L623.1 287.1L625.0 287.0L625.2 287.0L627.2 286.9L629.2 286.8L631.2 286.6L633.2 286.5L635.2 286.3L637.3 286.2L639.3 286.1L641.3 285.9L643.3 285.8L643.8 285.8L645.3 285.6L647.4 285.5L649.4 285.3L651.4 285.2L653.4 285.1L654.0 285.1L655.4 285.1L657.5 285.1L659.5 285.1L661.5 285.1L663.5 285.1L665.5 285.1L667.6 285.1L669.6 285.1L671.6 285.1L673.6 285.1L675.6 285.2L677.7 285.2L679.7 285.2L681.7 285.2L683.7 285.2L685.7 285.2L687.8 285.2L689.8 285.3L691.8 285.3L693.8 285.3L695.8 285.3L697.8 285.4L699.9 285.4L701.9 285.4L703.9 285.5L705.9 285.5L707.9 285.6L710.0 285.6L712.0 285.7L714.0 285.8M609.0 293.2L611.0 293.2L613.0 293.2L615.1 293.1L617.1 293.1L619.1 293.0L621.1 293.0L623.1 292.9L625.2 292.9L627.2 292.9L629.2 292.8L631.2 292.8L633.2 292.8L635.2 292.8L637.3 292.7L639.3 292.7L641.3 292.7L643.3 292.7L645.3 292.7L647.4 292.6L649.4 292.6L651.4 292.6L653.4 292.6L654.0 292.6L655.4 292.6L657.5 292.6L659.5 292.6L661.5 292.6L663.5 292.6L665.5 292.6L667.6 292.6L669.6 292.6L671.6 292.6L673.6 292.6L675.0 292.6L675.6 292.6L677.7 292.6L679.7 292.6L681.7 292.6L683.7 292.6L685.7 292.6L687.8 292.5L689.8 292.5L691.8 292.5L693.8 292.5L695.8 292.4L697.8 292.4L699.9 292.3L701.9 292.3L703.9 292.3L705.9 292.2L707.9 292.2L710.0 292.1L712.0 292.1L714.0 292.0M609.0 295.1L611.0 295.1L613.0 295.1L615.1 295.0L617.1 295.0L619.1 295.0L621.1 294.9L623.1 294.9L625.2 294.9L627.2 294.8L629.2 294.8L631.2 294.8L631.2 294.8L633.2 294.7L635.2 294.7L637.3 294.6L639.3 294.6L641.3 294.6L643.3 294.5L645.3 294.5L647.4 294.4L649.4 294.4L651.4 294.3L653.4 294.3L654.0 294.2L655.4 294.2L657.5 294.1L659.5 293.9L661.5 293.8L663.5 293.6L665.5 293.5L667.6 293.3L668.8 293.2L669.6 293.2L671.6 293.1L673.6 293.0L675.6 292.8L677.7 292.7L679.7 292.6L681.7 292.5L683.7 292.4L685.7 292.3L687.5 292.2L687.8 292.2L689.8 292.2L691.8 292.1L693.8 292.0L695.8 291.9L697.8 291.8L699.9 291.8L701.9 291.7L703.9 291.6L705.9 291.6L707.9 291.5L710.0 291.5L712.0 291.4L714.0 291.4M609.0 297.0L611.0 297.2L613.0 297.4L615.1 297.5L617.1 297.5L619.1 297.6L621.1 297.6L623.1 297.6L625.0 297.6L625.2 297.6L627.2 297.6L629.2 297.4L631.2 297.1L633.2 296.9L635.2 296.6L637.3 296.4L637.5 296.4L639.3 296.2L641.3 296.0L643.3 295.8L645.3 295.6L647.4 295.4L649.4 295.3L651.4 295.2L653.4 295.1L654.0 295.1L655.4 295.1L657.5 295.1L659.5 295.2L661.5 295.2L663.5 295.3L665.5 295.3L667.6 295.4L669.6 295.5L671.6 295.6L673.6 295.7L675.0 295.8L675.6 295.8L677.7 296.0L679.7 296.3L681.7 296.6L683.7 297.0L685.7 297.4L687.8 297.9L689.8 298.3L691.8 298.6L693.8 298.9L693.8 298.9L695.8 299.1L697.8 299.3L699.9 299.6L701.9 299.8L703.9 300.0L705.9 300.2L707.9 300.3L710.0 300.5L712.0 300.6L714.0 300.8M609.0 298.2L611.0 298.7L613.0 299.2L615.1 299.8L617.1 300.3L618.8 300.8L619.1 300.8L621.1 301.4L623.1 302.0L625.2 302.7L627.2 303.3L629.2 303.9L631.2 304.5L631.2 304.5L633.2 305.1L635.2 305.6L637.3 306.2L639.3 306.7L641.3 307.2L643.3 307.6L643.8 307.6L645.3 307.9L647.4 308.2L649.4 308.5L651.4 308.8L653.4 308.9L654.0 308.9L655.4 308.9L657.5 308.8L659.5 308.8L661.5 308.7L663.5 308.6L665.5 308.5L667.6 308.3L668.8 308.2L669.6 308.2L671.6 308.0L673.6 307.7L675.6 307.4L677.7 307.0L679.7 306.7L681.7 306.3L683.7 305.9L685.7 305.5L687.5 305.1L687.8 305.1L689.8 304.7L691.8 304.2L693.8 303.8L695.8 303.3L697.8 302.9L699.9 302.6L700.0 302.6L701.9 302.4L703.9 302.2L705.9 301.9L707.9 301.7L710.0 301.6L712.0 301.5L714.0 301.4M609.0 305.1L611.0 304.5L613.0 304.0L615.1 303.6L617.1 303.3L618.8 303.2L619.1 303.3L621.1 303.3L623.1 303.3L625.2 303.4L627.2 303.6L629.2 303.7L631.2 303.9L631.2 303.9L633.2 304.2L635.2 304.6L637.3 305.2L639.3 305.8L641.3 306.4L643.3 306.9L643.8 307.0L645.3 307.3L647.4 307.7L649.4 308.1L651.4 308.3L653.4 308.5L654.0 308.5L655.4 308.5L657.5 308.5L659.5 308.5L661.5 308.5L663.5 308.5L665.5 308.5L667.6 308.5L668.8 308.5L669.6 308.5L671.6 308.4L673.6 308.2L675.6 308.0L677.7 307.7L679.7 307.4L681.7 307.0L683.7 306.7L685.7 306.3L687.5 306.0L687.8 306.0L689.8 305.6L691.8 305.1L693.8 304.6L695.8 304.1L697.8 303.6L699.9 303.3L700.0 303.2L701.9 303.0L703.9 302.7L705.9 302.5L707.9 302.2L710.0 302.0L712.0 301.9L714.0 301.8M609.0 302.6L611.0 302.2L613.1 301.8L615.1 301.4L617.2 301.0L618.8 300.8L619.2 300.7L621.3 300.3L623.3 300.0L625.4 299.7L627.4 299.4L629.5 299.1L631.2 298.9L631.5 298.8L633.5 298.5L635.6 298.2L637.6 297.9L639.7 297.5L641.7 297.3L643.8 297.0L643.8 297.0L645.8 296.8L647.9 296.5L649.9 296.3L652.0 296.2L654.0 296.0M609.0 313.2L611.0 313.5L613.0 313.6L615.1 313.8L617.1 313.9L618.8 313.9L619.1 313.9L621.1 313.8L623.1 313.8L625.2 313.6L627.2 313.5L629.2 313.3L631.2 313.1L633.2 313.0L635.2 312.8L637.3 312.6L637.5 312.6L639.3 312.5L641.3 312.3L643.3 312.1L645.3 311.9L647.4 311.7L649.4 311.5L651.4 311.4L653.4 311.4L654.0 311.4L655.4 311.4L657.5 311.4L659.5 311.4L661.5 311.5L663.5 311.5L665.5 311.6L667.6 311.7L669.6 311.8L671.6 311.8L673.6 311.9L675.0 312.0L675.6 312.0L677.7 312.2L679.7 312.4L681.7 312.6L683.7 312.9L685.7 313.1L687.8 313.4L689.8 313.6L691.8 313.8L693.8 313.9L693.8 313.9L695.8 314.0L697.8 314.1L699.9 314.2L701.9 314.2L703.9 314.3L705.9 314.4L707.9 314.4L710.0 314.5L712.0 314.5L714.0 314.5M609.0 316.4L611.0 316.2L613.0 316.0L615.1 315.8L617.1 315.6L619.1 315.4L621.1 315.2L623.1 315.0L625.0 314.8L625.2 314.7L627.2 314.5L629.2 314.2L631.2 314.0L633.2 313.7L635.2 313.4L637.3 313.1L639.3 312.8L641.3 312.6L643.3 312.3L643.8 312.2L645.3 312.0L647.4 311.7L649.4 311.4L651.4 311.1L653.4 311.0L654.0 311.0L655.4 311.0L657.5 311.1L659.5 311.1L661.5 311.2L663.5 311.3L665.5 311.4L667.6 311.6L668.8 311.6L669.6 311.7L671.6 311.8L673.6 312.0L675.6 312.2L677.7 312.4L679.7 312.6L681.7 312.8L683.7 313.0L685.7 313.1L687.5 313.2L687.8 313.3L689.8 313.4L691.8 313.5L693.8 313.6L695.8 313.7L697.8 313.8L699.9 313.9L701.9 313.9L703.9 314.0L705.9 314.1L707.9 314.1L710.0 314.2L712.0 314.2L714.0 314.2M412.5 546.1L414.5 543.9L416.6 541.8L418.6 539.7L420.7 537.6L422.5 535.7L422.7 535.5L424.7 533.4L426.8 531.3L428.8 529.3L430.8 527.3L430.9 527.3L432.9 525.4L434.9 523.5L437.0 521.7L439.0 520.0L439.2 519.8L441.1 518.4L443.1 516.9L445.1 515.5L447.2 514.2L447.5 514.0L449.2 513.0L451.2 511.9L453.3 510.9L455.3 510.0L455.8 509.8L457.4 509.3L459.4 508.7L461.4 508.2L463.5 507.8L464.2 507.8L465.5 507.6L467.6 507.5L469.6 507.4L471.6 507.3L473.7 507.2L475.7 507.2L476.7 507.2L477.8 507.2L479.8 507.2L481.8 507.2L483.9 507.2L485.9 507.2L488.0 507.3L490.0 507.3M412.5 546.1L414.5 544.6L416.6 543.2L418.6 541.9L420.7 540.6L422.5 539.4L422.7 539.3L424.7 538.0L426.8 536.8L428.8 535.6L430.9 534.5L432.9 533.4L434.9 532.4L435.0 532.3L437.0 531.4L439.0 530.5L441.1 529.7L443.1 528.9L445.1 528.1L447.2 527.4L447.5 527.3L449.2 526.8L451.2 526.2L453.3 525.6L455.3 525.1L457.4 524.6L459.4 524.1L460.0 524.0L461.4 523.7L463.5 523.3L465.5 523.0L467.6 522.6L469.6 522.3L471.6 522.0L472.5 521.9L473.7 521.8L475.7 521.5L477.8 521.3L479.8 521.2L481.0 521.1L481.8 521.0L483.9 520.9L485.9 520.8L488.0 520.7L490.0 520.7M412.5 546.1L414.5 544.8L416.6 543.6L418.6 542.3L420.7 541.1L422.5 540.1L422.7 540.0L424.7 538.8L426.8 537.7L428.8 536.6L430.9 535.5L432.9 534.4L434.9 533.4L435.0 533.4L437.0 532.5L439.0 531.6L441.1 530.7L443.1 529.9L445.1 529.1L447.2 528.4L447.5 528.3L449.2 527.8L451.2 527.1L453.3 526.5L455.3 526.0L457.4 525.5L459.4 525.1L460.0 525.0L461.4 524.8L463.5 524.4L465.5 524.1L467.6 523.9L469.6 523.7L471.6 523.6L472.5 523.6L473.7 523.6L475.7 523.6L477.8 523.7L479.8 523.8L481.0 523.8L481.8 523.9L483.9 523.9L485.9 524.0L488.0 524.1L490.0 524.2M412.5 546.1L414.5 544.9L416.6 543.8L418.6 542.7L420.7 541.6L422.5 540.7L422.7 540.6L424.7 539.5L426.8 538.4L428.8 537.4L430.9 536.4L432.9 535.4L434.9 534.4L435.0 534.4L437.0 533.5L439.0 532.7L441.1 531.8L443.1 531.0L445.1 530.2L447.2 529.5L447.5 529.4L449.2 528.9L451.2 528.2L453.3 527.6L455.3 527.0L457.4 526.6L459.4 526.2L460.0 526.1L461.4 525.9L463.5 525.6L465.5 525.3L467.6 525.1L469.6 524.9L471.6 524.8L472.5 524.8L473.7 524.8L475.7 524.9L477.8 524.9L479.8 525.0L481.0 525.0L481.8 525.0L483.9 524.9L485.9 524.8L488.0 524.6L490.0 524.4M412.5 519.0L414.5 519.0L416.6 518.8L418.6 518.6L420.7 518.4L422.5 518.2L422.7 518.1L424.7 517.7L426.8 517.1L428.8 516.3L430.8 515.7L430.9 515.7L432.9 515.0L434.9 514.4L437.0 513.8L439.0 513.2L439.2 513.2L441.1 512.6L443.1 512.0L445.1 511.4L447.2 511.1L447.5 511.1L449.2 511.0L451.2 510.9L453.3 510.8L455.3 510.7L457.4 510.7L459.4 510.7L460.0 510.7L461.4 510.7L463.5 511.1L465.5 511.5L467.6 512.0L469.6 512.5L471.6 512.7L472.5 512.8L473.7 512.7L475.7 512.5L477.8 512.2L479.8 512.0L481.0 511.9L481.8 511.9L483.9 512.1L485.9 512.3L488.0 512.7L490.0 513.2M412.5 516.5L414.5 516.5L416.6 516.4L418.6 516.3L420.7 516.2L422.5 516.1L422.7 516.1L424.7 515.7L426.8 515.2L428.8 514.6L430.8 514.0L430.9 514.0L432.9 513.4L434.9 512.7L437.0 512.1L439.0 511.5L439.2 511.5L441.1 511.0L443.1 510.6L445.1 510.2L447.2 509.9L447.5 509.8L449.2 509.7L451.2 509.5L453.3 509.3L455.3 509.1L457.4 509.1L459.4 509.0L460.0 509.0L461.4 509.0L463.5 509.1L465.5 509.1L467.6 509.3L469.6 509.4L471.6 509.5L473.7 509.7L475.7 509.8L476.7 509.8L477.8 509.9L479.8 510.0L481.8 510.1L483.9 510.3L485.9 510.4L488.0 510.5L490.0 510.7M412.5 512.8L414.5 512.7L416.6 512.5L418.6 512.3L420.7 512.1L422.5 511.9L422.7 511.9L424.7 511.6L426.8 511.2L428.8 510.7L430.9 510.2L432.9 509.8L434.9 509.4L435.0 509.4L437.0 509.1L439.0 508.8L441.1 508.4L443.1 508.2L445.1 507.9L447.2 507.8L447.5 507.8L449.2 507.7L451.2 507.6L453.3 507.5L455.3 507.5L457.4 507.4L459.4 507.4L460.0 507.3L461.4 507.3L463.5 507.2L465.5 507.1L467.6 507.0L469.6 506.8L471.6 506.7L473.7 506.6L475.7 506.5L476.7 506.5L477.8 506.5L479.8 506.4L481.8 506.3L483.9 506.2L485.9 506.2L488.0 506.1L490.0 506.1M412.5 514.0L414.5 513.9L416.6 513.8L418.6 513.6L420.7 513.4L422.7 513.2L424.7 513.0L426.7 512.8L426.8 512.7L428.8 512.4L430.9 512.0L432.9 511.5L434.9 511.0L437.0 510.5L439.0 510.1L441.1 509.7L443.1 509.4L443.3 509.4L445.1 509.3L447.2 509.1L449.2 509.0L451.2 508.9L453.3 508.8L455.3 508.7L457.4 508.6L459.4 508.6L460.0 508.6L461.4 508.6L463.5 508.7L465.5 508.8L467.6 509.0L469.6 509.2L471.6 509.4L473.7 509.6L475.7 509.8L476.7 509.8L477.8 509.9L479.8 510.0L481.8 510.2L483.9 510.3L485.9 510.4L488.0 510.5L490.0 510.7M412.5 504.8L414.5 504.9L416.6 505.0L418.6 505.1L420.7 505.3L422.7 505.4L424.7 505.5L426.7 505.7L426.8 505.7L428.8 505.8L430.9 506.0L432.9 506.2L434.9 506.4L437.0 506.6L439.0 506.9L441.1 507.1L443.1 507.3L443.3 507.3L445.1 507.5L447.2 507.8L449.2 508.0L451.2 508.2L453.3 508.5L455.3 508.8L456.7 509.0L457.4 509.1L459.4 509.6L461.4 510.1L463.5 510.7L465.5 511.1L467.6 511.4L468.3 511.5L469.6 511.6L471.6 511.6L473.7 511.7L475.7 511.7L477.8 511.8L479.8 511.9L480.8 511.9L481.8 512.0L483.9 512.1L485.9 512.3L488.0 512.5L490.0 512.8M412.5 511.5L414.6 511.4L416.6 511.3L418.7 511.2L420.8 511.1L422.8 511.0L424.9 510.8L426.7 510.7L427.0 510.6L429.0 510.4L431.1 510.2L433.2 509.8L435.2 509.5L437.3 509.2L439.3 508.9L441.4 508.7L443.3 508.6L443.5 508.6L445.5 508.5L447.6 508.4L449.7 508.3L451.7 508.3L453.8 508.2L455.9 508.2L457.9 508.2L460.0 508.2M412.5 505.2L414.5 505.2L416.6 505.1L418.6 505.1L420.7 505.1L422.7 505.1L424.7 505.0L426.8 505.0L428.8 505.0L430.9 505.0L432.9 505.0L434.9 505.0L435.0 505.0L437.0 505.0L439.0 505.0L441.1 505.1L443.1 505.2L445.1 505.2L447.2 505.3L449.2 505.4L451.2 505.5L453.3 505.5L455.3 505.6L457.4 505.6L459.4 505.7L460.0 505.7L461.4 505.7L463.5 505.7L465.5 505.7L467.6 505.7L469.6 505.6L471.6 505.6L473.7 505.6L475.7 505.6L477.8 505.6L479.8 505.5L481.8 505.5L483.9 505.4L485.9 505.4L488.0 505.3L490.0 505.2M460.0 510.2L462.0 510.2L464.0 510.2L466.0 510.2L468.0 510.2L468.3 510.2L470.0 510.3L472.0 510.3L474.0 510.3L476.0 510.4L478.0 510.4L480.0 510.5L480.8 510.5L482.0 510.6L484.0 510.7L486.0 510.9L488.0 511.2L490.0 511.5M486.0 524.4L488.0 524.3L490.0 524.1L492.0 523.9L494.0 523.6L494.3 523.6L496.0 523.3L498.0 522.7L500.0 522.1L502.0 521.6L502.7 521.5L504.0 521.3L506.0 520.9L508.0 520.7L509.0 520.7L510.0 520.7L512.0 520.9L514.0 521.3L516.0 521.6L518.0 521.9L519.3 521.9L520.0 521.9L522.0 521.9L524.0 521.9L526.0 521.9L527.7 521.9L528.0 521.9L530.0 521.7L532.0 521.4L534.0 521.0L536.0 520.7L538.0 520.3L540.0 519.9L542.0 519.6L544.0 519.4L546.0 519.5L548.0 519.8L550.0 520.1L552.0 520.5L552.7 520.7L554.0 521.0L556.0 521.6L558.0 522.3L560.0 523.2L562.0 524.2M486.0 520.7L488.0 520.4L490.0 520.1L492.0 519.8L494.0 519.5L494.3 519.4L496.0 519.1L498.0 518.5L500.0 518.1L502.0 517.8L502.7 517.8L504.0 517.8L506.0 517.9L508.0 518.1L509.0 518.2L510.0 518.3L512.0 518.8L514.0 519.3L515.2 519.4L516.0 519.4L518.0 519.2L520.0 518.8L522.0 518.4L523.5 518.2L524.0 518.1L526.0 517.8L528.0 517.6L530.0 517.4L531.8 517.3L532.0 517.3L534.0 517.4L536.0 517.5L538.0 517.6L540.0 517.8L542.0 518.0L544.0 518.2L546.0 518.3L548.0 518.5L550.0 518.7L552.0 518.9L552.7 519.0L554.0 519.3L556.0 519.8L558.0 520.6L560.0 521.5L562.0 522.5M486.0 520.5L488.0 520.1L490.0 519.7L492.0 519.3L494.0 518.8L496.0 518.4L498.0 517.9L498.5 517.8L500.0 517.3L502.0 516.6L504.0 515.9L506.0 515.3L508.0 514.9L509.0 514.8L510.0 514.8L512.0 514.9L514.0 515.0L516.0 515.1L518.0 515.2L519.3 515.2L520.0 515.3L522.0 515.4L524.0 515.5L526.0 515.5L528.0 515.6L530.0 515.7L532.0 515.8L534.0 515.8L536.0 515.8L538.0 515.8L540.0 515.8L542.0 515.8L544.0 515.8L544.3 515.8L546.0 515.9L548.0 515.9L550.0 516.0L552.0 516.1L552.7 516.1L554.0 516.1L556.0 516.2L558.0 516.2L560.0 516.3L562.0 516.4L564.0 516.4L566.0 516.5M486.0 513.6L488.0 513.4L490.0 513.3L492.0 513.2L494.0 513.2L496.0 513.2L498.0 513.2L498.5 513.2L500.0 513.2L502.0 513.4L504.0 513.6L506.0 513.8L508.0 514.0L509.0 514.0L510.0 514.0L512.0 514.0L514.0 513.9L516.0 513.8L518.0 513.7L520.0 513.6L522.0 513.6L523.5 513.6L524.0 513.6L526.0 513.7L528.0 514.0L530.0 514.2L532.0 514.5L534.0 514.7L536.0 514.8L538.0 514.8L540.0 514.8L542.0 514.8L544.0 514.8L546.0 514.8L548.0 514.8L550.0 514.8L552.0 514.8L552.7 514.8L554.0 514.8L556.0 514.8L558.0 514.7L560.0 514.5L562.0 514.4L564.0 514.2L566.0 514.0M486.0 513.6L488.1 513.7L490.2 513.8L492.3 513.9L494.3 514.0L494.4 514.0L496.5 514.1L498.5 514.3L500.6 514.4L502.7 514.4L502.7 514.4L504.8 514.4L506.9 514.3L509.0 514.2M562.0 522.3L564.0 523.4L566.1 524.4L568.1 525.4L570.2 526.4L570.3 526.5L572.2 527.4L574.3 528.5L576.3 529.5L578.3 530.5L578.7 530.7L580.4 531.5L582.4 532.6L584.5 533.6L586.5 534.6L587.0 534.8L588.6 535.6L590.6 536.6L592.7 537.6L594.7 538.7L595.3 539.0L596.7 539.8L598.8 540.9L600.8 542.1L602.9 543.2L603.7 543.6L604.9 544.2L607.0 545.2L609.0 546.1M562.0 524.0L564.0 524.9L566.1 525.8L568.1 526.7L570.2 527.7L570.3 527.8L572.2 528.7L574.3 529.7L576.3 530.7L578.3 531.8L578.7 531.9L580.4 532.8L582.4 533.8L584.5 534.9L586.5 535.9L587.0 536.1L588.6 536.8L590.6 537.7L592.7 538.6L594.7 539.5L595.3 539.8L596.7 540.5L598.8 541.6L600.8 542.6L602.9 543.6L603.7 544.0L604.9 544.5L607.0 545.3L609.0 546.1M562.0 511.9L564.0 512.0L566.1 512.2L568.1 512.4L570.2 512.7L570.3 512.8L572.2 513.2L574.3 513.8L576.3 514.6L578.3 515.5L578.7 515.7L580.4 516.6L582.4 517.9L584.5 519.5L586.5 521.1L587.0 521.5L588.6 522.9L590.6 524.8L592.7 527.0L594.7 529.1L595.3 529.8L596.7 531.4L598.8 533.7L600.8 536.0L602.9 538.5L603.7 539.4L604.9 540.9L607.0 543.5L609.0 546.1M562.0 510.7L564.0 510.7L566.0 510.7L568.0 510.7L570.0 510.7L572.0 510.7L574.0 510.7L574.5 510.7L576.0 510.7L578.0 510.9L580.0 511.1L582.0 511.4L582.8 511.5L584.0 511.7L586.0 512.1L588.0 512.7L590.0 513.2L591.2 513.6L592.0 513.8L594.0 514.6L596.0 515.4L598.0 516.1L599.5 516.5L600.0 516.6L602.0 517.0L604.0 517.3L606.0 517.6L608.0 517.8L609.0 517.9L610.0 518.0L612.0 518.2L614.0 518.3L616.0 518.5L618.0 518.6L620.0 518.8L620.3 518.8L622.0 519.0L624.0 519.4L626.0 519.7L628.0 520.1L630.0 520.3L632.0 520.5L632.8 520.5L634.0 520.5L636.0 520.4L638.0 520.3L640.0 520.1L642.0 519.8M562.0 507.3L564.0 507.4L566.0 507.4L568.0 507.5L570.0 507.6L572.0 507.7L574.0 507.9L576.0 508.0L578.0 508.1L578.7 508.2L580.0 508.3L582.0 508.4L584.0 508.6L586.0 508.9L587.0 509.0L588.0 509.2L590.0 509.6L592.0 510.2L594.0 510.7L595.3 511.1L596.0 511.3L598.0 511.8L600.0 512.4L602.0 512.9L603.7 513.2L604.0 513.2L606.0 513.4L608.0 513.6L609.0 513.6L610.0 513.6L612.0 513.5L614.0 513.5L616.0 513.4L618.0 513.4L620.0 513.3L620.3 513.3L622.0 513.3L624.0 513.4L626.0 513.4L628.0 513.4L630.0 513.5L632.0 513.6L632.8 513.6L634.0 513.6L636.0 513.8L638.0 514.1L640.0 514.5L642.0 514.8M562.0 504.8L564.0 504.8L566.0 504.9L568.0 505.0L570.0 505.0L572.0 505.2L574.0 505.3L576.0 505.4L578.0 505.6L578.7 505.7L580.0 505.8L582.0 506.3L584.0 506.9L586.0 507.5L587.0 507.8L588.0 508.0L590.0 508.6L592.0 509.3L594.0 509.9L595.3 510.2L596.0 510.4L598.0 511.0L600.0 511.5L602.0 512.0L603.7 512.3L604.0 512.4L606.0 512.7L608.0 513.0L609.0 513.0L610.0 513.0L612.0 513.0L614.0 512.9L616.0 512.9L618.0 512.9L620.0 512.8L620.3 512.8L622.0 512.8L624.0 512.8L626.0 512.9L628.0 512.9L630.0 512.9L632.0 513.0L632.8 513.0L634.0 513.0L636.0 513.2L638.0 513.4L640.0 513.7L642.0 514.0M578.7 509.4L580.7 509.1L582.8 508.9L584.8 508.5L586.8 508.2L587.0 508.2L588.9 507.8L590.9 507.3L593.0 506.9L595.0 506.5L595.3 506.5L597.1 506.3L599.1 506.0L601.1 505.8L603.2 505.6L605.2 505.4L607.3 505.3L609.0 505.2L609.3 505.2L611.4 505.2L613.4 505.2L615.4 505.2L616.2 505.2L617.5 505.4L619.5 505.9L621.6 506.6L623.6 507.4L624.5 507.8L625.7 508.1L627.7 508.9L629.7 509.7L631.8 510.4L632.8 510.7L633.8 510.9L635.9 511.5L637.9 512.0L640.0 512.4L642.0 512.8M562.0 504.8L564.0 504.8L566.0 504.8L568.0 504.7L570.0 504.7L572.0 504.6L574.0 504.6L576.0 504.6L578.0 504.5L580.0 504.5L582.0 504.5L584.0 504.5L586.0 504.4L587.0 504.4L588.0 504.4L590.0 504.4L592.0 504.3L594.0 504.3L596.0 504.3L598.0 504.3L600.0 504.2L602.0 504.2L604.0 504.2L606.0 504.2L608.0 504.2L609.0 504.2L610.0 504.2L612.0 504.2L614.0 504.2L616.0 504.2L618.0 504.2L620.0 504.3L622.0 504.3L624.0 504.3L626.0 504.4L628.0 504.4L628.7 504.4L630.0 504.4L632.0 504.5L634.0 504.5L636.0 504.5L638.0 504.6L640.0 504.6L642.0 504.7M562.0 509.4L564.1 509.6L566.2 509.7L568.2 509.8L570.3 509.8L570.3 509.8L572.4 509.8L574.5 509.7L576.6 509.4L578.7 509.2M562.0 499.0L564.0 499.1L566.0 499.2L568.0 499.3L570.0 499.4L572.0 499.5L574.0 499.6L576.0 499.7L578.0 499.7L580.0 499.8L582.0 499.8L584.0 499.8L586.0 499.8L587.0 499.8L588.0 499.8L590.0 499.8L592.0 499.8L594.0 499.7L596.0 499.7L598.0 499.6L600.0 499.6L602.0 499.5L604.0 499.5L606.0 499.4L608.0 499.4L609.0 499.4L610.0 499.4L612.0 499.4L614.0 499.5L616.0 499.6L618.0 499.6L620.0 499.7L622.0 499.8L624.0 500.0L626.0 500.1L628.0 500.2L628.7 500.2L630.0 500.3L632.0 500.5L634.0 500.8L636.0 501.0L638.0 501.3L640.0 501.6L642.0 501.9M562.0 502.8L564.0 502.8L566.0 502.9L568.0 503.0L570.0 503.0L572.0 503.1L574.0 503.1L576.0 503.1L578.0 503.1L580.0 503.2L582.0 503.2L584.0 503.2L586.0 503.2L587.0 503.2L588.0 503.2L590.0 503.1L592.0 503.1L594.0 503.0L596.0 502.9L598.0 502.8L600.0 502.6L602.0 502.5L604.0 502.4L606.0 502.4L608.0 502.3L609.0 502.3L610.0 502.3L612.0 502.3L614.0 502.3L616.0 502.3L618.0 502.3L620.0 502.3L622.0 502.3L624.0 502.3L626.0 502.3L628.0 502.3L628.7 502.3L630.0 502.3L632.0 502.4L634.0 502.5L636.0 502.7L638.0 502.8L640.0 503.0L642.0 503.2M638.0 513.2L640.0 514.3L642.0 515.4L644.0 516.3L646.0 517.2L646.3 517.3L648.0 518.0L650.0 518.8L652.0 519.4L654.0 519.8L656.0 520.1L658.0 520.4L660.0 520.5L662.0 520.7L663.0 520.7L664.0 520.7L666.0 520.6L668.0 520.5L670.0 520.3L672.0 520.2L674.0 520.1L676.0 519.9L678.0 519.9L679.7 519.8L680.0 519.8L682.0 519.8L684.0 519.9L686.0 519.9L688.0 520.0L690.0 520.0L692.0 520.1L694.0 520.2L696.0 520.2L696.3 520.2L698.0 520.3L700.0 520.4L702.0 520.5L704.0 520.6L706.0 520.6L708.0 520.8L710.0 520.9L712.0 521.0L714.0 521.1M638.0 518.2L640.0 517.4L642.0 516.7L644.0 516.0L646.0 515.3L646.3 515.2L648.0 514.8L650.0 514.2L652.0 513.7L654.0 513.3L654.7 513.2L656.0 512.9L658.0 512.6L660.0 512.3L662.0 512.0L664.0 511.7L666.0 511.4L668.0 511.1L670.0 510.9L671.3 510.7L672.0 510.6L674.0 510.2L676.0 509.9L678.0 509.6L680.0 509.3L682.0 508.9L684.0 508.7L686.0 508.4L688.0 508.2L690.0 508.0L692.0 507.8L694.0 507.6L696.0 507.4L698.0 507.2L700.0 507.1L702.0 507.0L704.0 506.9L704.7 506.9L706.0 506.9L708.0 506.9L710.0 506.9L712.0 506.9L714.0 506.9M638.0 499.8L640.0 500.1L642.0 500.3L644.0 500.5L646.0 500.7L648.0 500.9L650.0 501.0L650.5 501.1L652.0 501.2L654.0 501.4L656.0 501.6L658.0 501.7L660.0 501.8L662.0 501.9L663.0 501.9L664.0 501.9L666.0 501.9L668.0 501.9L670.0 501.8L672.0 501.8L674.0 501.7L676.0 501.6L678.0 501.6L679.7 501.5L680.0 501.5L682.0 501.4L684.0 501.2L686.0 501.0L688.0 500.8L690.0 500.5L692.0 500.3L694.0 500.1L696.0 499.9L696.3 499.8L698.0 499.7L700.0 499.5L702.0 499.4L704.0 499.2L706.0 499.1L708.0 499.0L710.0 498.8L712.0 498.7L714.0 498.6M638.0 501.1L640.0 501.3L642.0 501.5L644.0 501.6L646.0 501.8L648.0 502.0L650.0 502.1L650.5 502.2L652.0 502.3L654.0 502.5L656.0 502.6L658.0 502.8L660.0 502.9L662.0 503.0L663.0 503.0L664.0 503.0L666.0 503.0L668.0 502.9L670.0 502.8L672.0 502.8L674.0 502.7L676.0 502.5L678.0 502.4L679.7 502.3L680.0 502.3L682.0 502.2L684.0 502.0L686.0 501.8L688.0 501.6L690.0 501.3L692.0 501.1L694.0 500.9L696.0 500.7L696.3 500.7L698.0 500.5L700.0 500.4L702.0 500.2L704.0 500.1L706.0 499.9L708.0 499.8L710.0 499.7L712.0 499.5L714.0 499.4M638.0 502.3L640.0 502.5L642.0 502.6L644.0 502.7L646.0 502.8L648.0 502.9L650.0 502.9L652.0 503.0L654.0 503.0L654.7 503.0L656.0 503.0L658.0 503.0L660.0 503.0L662.0 503.0L664.0 503.0L666.0 503.0L668.0 503.0L670.0 503.0L671.3 503.0L672.0 503.0L674.0 502.9L676.0 502.8L678.0 502.6L680.0 502.4L682.0 502.2L684.0 502.0L686.0 501.8L688.0 501.7L690.0 501.5L692.0 501.4L694.0 501.3L696.0 501.2L698.0 501.0L700.0 500.9L702.0 500.8L704.0 500.7L706.0 500.6L708.0 500.5L710.0 500.4L712.0 500.3L714.0 500.2M643.0 504.8L645.0 505.9L647.1 507.0L648.8 507.8L649.1 507.9L651.1 508.8L653.1 509.6L654.7 509.8L655.2 509.8L657.2 509.8L659.2 509.7L661.3 509.5L663.3 509.4L665.3 509.2L667.2 509.0L667.3 509.0L669.4 508.7L671.4 508.3L673.4 507.9L675.5 507.4L677.5 506.9L679.5 506.5L679.7 506.5L681.5 506.2L683.6 505.8L685.6 505.5L687.6 505.2L689.7 504.9L691.7 504.6L693.7 504.3L695.7 504.1L696.3 504.0L697.8 503.8L699.8 503.6L701.8 503.4L703.9 503.2L705.9 503.0L707.9 502.8L709.9 502.6L712.0 502.5L714.0 502.3M638.0 510.7L640.1 511.2L642.2 511.6L644.2 511.8L646.3 511.9L648.4 511.8L650.5 511.4L652.6 511.0L654.7 510.7L656.8 510.4L658.8 510.0L660.9 509.7L663.0 509.4M638.0 494.8L646.3 494.4M684.7 495.7L686.8 495.5L688.9 495.3L691.0 495.1L693.0 495.0L695.1 494.9L696.3 494.8L697.2 494.8L699.3 494.7L701.4 494.7L703.5 494.6L705.6 494.5L707.7 494.5L709.8 494.4L711.9 494.4L714.0 494.4M609.0 546.1L611.0 543.9L613.0 541.8L615.0 539.8L616.5 538.3L617.1 537.8L619.1 535.9L621.1 534.1L623.1 532.3L624.8 530.8L625.1 530.6L627.1 529.0L629.1 527.3L631.1 525.8L633.2 524.4L634.8 523.3L635.2 523.1L637.2 522.2L639.2 521.3L641.2 520.3L641.5 520.2L643.2 519.1L645.2 517.8L647.2 516.3L647.3 516.2L649.3 514.6L651.3 512.7L653.3 511.2L654.0 510.8L655.3 510.4L657.3 509.8L659.3 509.3L661.3 508.9L662.3 508.8L663.3 508.6L665.4 508.3L667.4 508.0L669.4 507.8L671.4 507.6L673.4 507.3L674.8 507.1L675.4 507.0L677.4 506.6L679.4 506.3L681.5 505.9L683.5 505.5L684.0 505.4L685.5 505.1L687.5 504.7L689.5 504.3L691.5 503.9L693.5 503.6L695.6 503.3L695.7 503.3L697.6 503.2L699.6 503.0L701.6 502.9L703.6 502.8L705.6 502.7L707.6 502.6L709.6 502.6L711.7 502.5L713.7 502.5M609.0 546.1L611.0 544.6L613.0 543.2L615.0 541.8L617.1 540.4L619.1 539.0L620.7 537.9L621.1 537.6L623.1 536.3L625.1 535.0L627.1 533.7L629.1 532.4L631.1 531.2L633.2 530.0L633.2 530.0L635.2 528.8L637.2 527.7L639.2 526.6L641.2 525.6L641.5 525.4L643.2 524.5L645.2 523.6L647.2 522.7L647.3 522.7L649.3 522.0L651.3 521.3L653.3 520.8L654.0 520.7L655.3 520.5L657.3 520.4L659.3 520.2L661.3 520.1L662.3 520.0L663.3 519.9L665.4 519.7L667.4 519.6L669.4 519.3L670.7 519.2L671.4 519.1L673.4 518.7L675.4 518.2L677.4 517.6L679.4 517.0L681.5 516.4L683.5 515.9L684.0 515.8L685.5 515.5L687.5 515.1L689.5 514.7L691.5 514.3L693.5 514.0L695.6 513.8L695.7 513.8L697.6 513.6L699.6 513.4L701.6 513.2L703.6 513.0L705.6 512.8L707.6 512.7L709.6 512.6L711.7 512.5L713.7 512.5M609.0 546.1L611.0 544.8L613.0 543.6L615.0 542.4L617.1 541.2L619.1 540.1L620.7 539.2L621.1 538.9L623.1 537.8L625.1 536.7L627.1 535.6L629.1 534.5L631.1 533.5L633.2 532.5L633.2 532.5L635.2 531.6L637.2 530.8L639.2 530.0L641.2 529.3L641.5 529.2L643.2 528.6L645.2 527.9L647.2 527.3L649.3 526.8L649.8 526.7L651.3 526.4L653.3 526.1L655.3 525.9L657.3 525.6L658.2 525.4L659.3 525.1L661.3 524.5L663.3 523.8L665.4 523.1L666.5 522.7L667.4 522.3L669.4 521.5L671.4 520.7L673.4 519.8L674.8 519.3L675.4 519.1L677.4 518.5L679.4 517.9L681.5 517.4L683.5 516.9L684.0 516.8L685.5 516.5L687.5 516.2L689.5 515.8L691.5 515.5L693.5 515.3L695.6 515.0L695.7 515.0L697.6 514.8L699.6 514.5L701.6 514.3L703.6 514.1L705.6 513.9L707.6 513.8L709.6 513.6L711.7 513.5L713.7 513.3M609.0 503.8L611.0 503.9L613.1 504.2L615.1 504.6L616.5 504.8L617.1 505.0L619.1 505.5L621.2 506.2L623.2 506.9L624.8 507.5L625.2 507.6L627.2 508.3L629.3 509.0L631.3 509.8L633.2 510.4L633.3 510.5L635.4 511.2L637.4 511.8L639.4 512.5L641.4 513.3L641.5 513.3L643.5 514.1L645.5 515.1L647.3 516.0L647.5 516.1L649.5 517.5L651.6 518.9L652.3 519.2L653.6 519.5L655.6 519.9L657.6 520.2L658.2 520.2L659.7 520.1L661.7 520.1L663.7 519.9L665.8 519.8L667.8 519.6L669.8 519.4L670.7 519.3L671.8 519.2L673.9 519.0L675.9 518.7L677.9 518.3L679.9 517.9L682.0 517.5L684.0 517.1M609.0 512.5L611.0 512.5L613.1 512.5L615.1 512.5L617.1 512.6L619.1 512.6L621.2 512.7L623.2 512.7L625.2 512.8L627.2 512.9L629.0 512.9L629.3 512.9L631.3 513.1L633.3 513.3L635.4 513.6L637.4 513.9L639.4 514.1L641.4 514.2L641.5 514.2L643.5 514.0L645.5 513.7L647.5 513.3L649.5 512.8L650.7 512.5L651.6 512.3L653.6 511.7L655.6 511.1L657.6 510.5L658.2 510.4L659.7 510.1L661.7 509.7L663.7 509.3L665.8 508.9L667.8 508.5L669.8 508.1L670.7 507.9L671.8 507.7L673.9 507.2L675.9 506.8L677.9 506.4L679.9 505.9L682.0 505.5L684.0 505.0M609.0 517.9L611.0 518.0L613.1 518.2L615.1 518.3L617.2 518.5L619.2 518.6L620.7 518.8L621.3 518.8L623.3 519.0L625.4 519.3L627.4 519.5L629.5 519.8L631.5 520.0L633.2 520.2L633.5 520.2L635.6 520.4L637.6 520.6L639.0 520.7L639.7 520.6L641.7 519.5L643.8 518.1L644.0 517.9L645.8 516.6L647.9 515.0L649.0 514.2L649.9 513.5L652.0 512.1L654.0 510.8M635.7 523.3L637.7 523.3L639.8 523.3L641.9 523.3L643.9 523.3L645.7 523.3L646.0 523.3L648.0 523.6L650.1 524.1L652.2 524.6L654.0 525.0L654.2 525.0L656.3 525.4L658.3 525.7L660.4 525.8L660.7 525.8L662.5 525.5L664.5 524.5L666.6 523.3L667.3 522.9L668.6 522.3L670.7 521.3L672.8 520.4L674.8 519.3M562.0 508.6L564.0 508.6L566.0 508.7L568.0 508.8L570.0 508.9L572.0 509.0L574.0 509.1L576.0 509.2L578.0 509.4L578.7 509.4L580.0 509.5L582.0 509.7L584.0 509.9L586.0 510.1L587.0 510.2L588.0 510.4L590.0 510.9L592.0 511.4L594.0 512.0L595.3 512.3L596.0 512.5L598.0 513.1L600.0 513.7L602.0 514.1L603.7 514.4L604.0 514.5L606.0 514.7L608.0 514.8L609.0 514.8L610.0 514.8L612.0 514.8L614.0 514.7L616.0 514.7L618.0 514.6L620.0 514.6L620.3 514.6L622.0 514.6L624.0 514.6L626.0 514.6L628.0 514.7L630.0 514.7L632.0 514.8L632.8 514.8L634.0 514.9L636.0 515.1L638.0 515.4L640.0 515.7L642.0 516.1" fill="none" stroke="#f00" stroke-width="2.08" stroke-linejoin="round"/>
<path clip-path="url(#c4)" d="M729.5 291.0L731.0 291.0L813.1 293.1L731.0 295.2L731.0 294.0L770.9 295.6L731.0 297.3L731.0 296.0L755.2 297.5L731.0 299.0L729.5 299.0M729.5 304.5L731.0 304.5L753.7 305.9L731.0 307.4L731.0 307.4L739.6 308.8L731.0 310.1L731.0 311.5L767.8 313.1L731.0 314.8L729.5 314.8M729.5 344.8L731.0 344.8L755.2 346.2L731.0 347.7L731.0 351.4L766.2 353.0L731.0 354.6L731.0 361.8L767.8 363.4L731.0 365.1L729.5 365.1M729.5 344.7L731.0 344.7L756.0 346.2L731.0 347.8L731.0 351.5L786.5 353.3L731.0 355.1L729.5 355.1M729.5 360.6L731.0 360.6L768.5 362.2L731.0 363.8L731.0 364.0L770.1 365.6L731.0 367.3L731.0 368.0L791.2 369.8L731.0 371.7L729.5 371.7M729.5 387.0L731.0 387.0L777.1 388.8L731.0 390.5L729.5 390.5M729.5 419.6L731.0 419.6L768.5 421.2L731.0 422.9L731.0 422.0L759.9 423.6L731.0 425.1L729.5 425.1M729.5 465.9L729.5 465.9L738.1 469.1L733.4 473.8L739.6 476.9L729.5 481.6L729.5 481.6" fill="none" stroke="#1f77b4" stroke-width="3.1" stroke-linejoin="round"/>
<path clip-path="url(#c4)" d="M729.5 183.8L729.5 183.8L746.5 187.5L736.5 190.0L756.5 192.5L740.2 195.6L738.4 200.0L739.6 206.2L736.5 211.2L739.0 215.0L749.0 218.8L750.2 222.5L761.5 225.0L780.2 226.5L742.8 228.1L729.5 229.0L729.5 229.0M729.5 381.0L731.0 381.0L755.2 382.5L731.0 384.0L731.0 382.6L766.2 384.2L731.0 385.8L731.0 384.9L755.2 386.4L731.0 387.9L729.5 387.9M729.5 408.5L731.0 408.5L755.2 410.0L731.0 411.5L731.0 409.6L767.0 411.2L731.0 412.9L731.0 410.9L763.1 412.5L731.0 414.1L731.0 412.2L761.5 413.8L731.0 415.3L731.0 414.5L747.4 415.9L731.0 417.4L729.5 417.4M729.5 423.7L731.0 423.7L753.7 425.2L731.0 426.6L731.0 425.8L747.4 427.2L731.0 428.6L731.0 427.6L753.7 429.1L731.0 430.5L729.5 430.5M729.5 453.4L729.5 453.4L741.2 455.8L756.8 457.3L763.1 460.5L752.1 462.8L764.6 467.5L745.9 469.8L755.2 473.8L757.6 476.9L761.5 480.3L742.8 483.9L733.4 487.8L729.5 492.5L729.5 492.5M729.5 500.3L729.5 500.3L739.6 506.6L738.1 511.2L729.5 514.4L729.5 514.4" fill="none" stroke="#ff7f0e" stroke-width="3.1" stroke-linejoin="round"/>
<path clip-path="url(#c4)" d="M729.5 211.0L729.5 211.0L746.5 212.1L729.5 213.2L729.5 213.2M729.5 239.4L729.5 239.4L746.5 241.2L737.8 243.1L749.0 246.2L737.8 248.1L774.0 250.0L729.5 251.5L729.5 251.5M729.5 373.3L731.0 373.3L739.6 374.7L731.0 376.0L729.5 376.0M729.5 449.9L731.0 449.9L771.7 451.6L731.0 453.2L731.0 451.3L755.2 452.8L731.0 454.3L729.5 454.3M729.5 473.8L729.5 473.8L739.6 476.1L729.5 478.4L729.5 478.4" fill="none" stroke="#2ca02c" stroke-width="3.1" stroke-linejoin="round"/>
<path clip-path="url(#c4)" d="M729.5 278.3L729.5 278.3L739.6 283.4L844.3 285.3L755.2 287.0L729.5 290.0L729.5 290.0M729.5 282.2L731.0 282.2L763.1 283.8L731.0 285.3L731.0 283.3L802.1 285.3L731.0 287.3L731.0 285.2L770.9 286.9L731.0 288.5L729.5 288.5M729.5 346.4L731.0 346.4L747.4 347.8L731.0 349.2L731.0 351.7L761.5 353.3L731.0 354.8L731.0 353.7L764.6 355.3L731.0 356.9L729.5 356.9M729.5 347.2L731.0 347.2L747.4 348.6L731.0 350.0L731.0 351.7L761.5 353.3L731.0 354.8L731.0 354.3L764.6 355.9L731.0 357.5L729.5 357.5M729.5 371.6L731.0 371.6L772.4 373.3L731.0 375.0L731.0 373.7L747.4 375.2L731.0 376.6L729.5 376.6M729.5 378.7L731.0 378.7L767.8 380.3L731.0 381.9L729.5 381.9M729.5 433.1L731.0 433.1L780.2 434.8L731.0 436.6L729.5 436.6M729.5 433.2L731.0 433.2L780.2 435.0L731.0 436.8L731.0 444.1L761.5 445.6L731.0 447.2L729.5 447.2" fill="none" stroke="#d62728" stroke-width="3.1" stroke-linejoin="round"/>
<path clip-path="url(#c4)" d="M729.5 184.4L729.5 184.4L736.5 187.5L733.4 191.2L745.2 192.8L736.5 195.0L735.9 200.0L736.5 206.2L731.5 211.2L734.0 215.0L736.5 218.8L736.5 225.0L744.0 226.9L729.5 228.8L729.5 228.8M729.5 292.6L731.0 292.6L741.2 293.9L731.0 295.3L731.0 305.1L736.5 306.4L731.0 307.7L731.0 312.8L744.3 314.2L731.0 315.6L729.5 315.6M729.5 344.9L731.0 344.9L736.5 346.2L731.0 347.6L731.0 351.6L744.3 353.0L731.0 354.4L729.5 354.4M729.5 345.7L731.0 345.7L736.5 347.0L731.0 348.3L731.0 352.4L744.3 353.8L731.0 355.1L729.5 355.1M729.5 387.2L731.0 387.2L763.1 388.8L731.0 390.3L731.0 388.8L752.1 390.3L731.0 391.8L731.0 390.2L744.3 391.6L731.0 392.9L731.0 393.4L736.5 394.7L731.0 396.0L729.5 396.0M729.5 408.9L731.0 408.9L747.4 410.3L731.0 411.7L731.0 411.3L742.8 412.7L731.0 414.0L731.0 413.6L742.8 415.0L731.0 416.4L731.0 419.9L744.3 421.2L731.0 422.6L731.0 426.1L747.4 427.5L731.0 428.9L731.0 428.5L739.6 429.8L731.0 431.2L729.5 431.2M729.5 467.5L729.5 467.5L734.9 470.6L733.4 475.3L729.5 478.4L729.5 478.4" fill="none" stroke="#9467bd" stroke-width="3.1" stroke-linejoin="round"/>
<path clip-path="url(#c4)" d="M729.5 210.0L729.5 210.0L741.5 212.5L732.8 216.2L734.0 225.0L736.5 230.0L729.5 231.2L729.5 231.2M729.5 240.0L729.5 240.0L732.8 242.5L731.5 247.5L740.2 250.0L729.5 251.5L729.5 251.5M729.5 281.2L731.0 281.2L739.6 282.5L731.0 283.8L731.0 282.7L745.9 284.1L731.0 285.5L731.0 284.2L747.4 285.6L731.0 287.0L731.0 285.8L742.8 287.2L731.0 288.6L731.0 287.4L736.5 288.8L731.0 290.1L729.5 290.1M729.5 376.1L731.0 376.1L741.2 377.5L731.0 378.9L729.5 378.9M729.5 397.0L731.0 397.0L852.1 399.4L731.0 401.8L729.5 401.8M729.5 476.9L729.5 476.9L733.4 483.1L731.8 492.5L729.5 497.2L729.5 497.2" fill="none" stroke="#8c564b" stroke-width="3.1" stroke-linejoin="round"/>
<path clip-path="url(#c4)" d="M729.5 343.1L729.5 343.1L734.9 349.4L731.8 355.6L734.9 363.4L733.4 368.1L739.6 374.4L741.2 380.6L733.4 386.9L736.5 393.1L739.6 398.6L731.8 401.7L733.4 407.2L738.1 413.4L734.9 421.2L738.1 427.5L733.4 433.8L729.5 433.8M729.5 436.2L729.5 436.2L733.4 439.4L749.0 445.6L742.8 449.5L733.4 453.4L739.6 461.2L741.2 469.1L753.7 473.0L741.2 476.9L749.0 480.3L739.6 484.7L736.5 490.2L750.6 494.1L747.4 498.8L752.1 503.4L745.9 508.1L745.9 514.4L738.1 517.5L739.6 523.8L729.5 533.1L729.5 533.1" fill="none" stroke="#e377c2" stroke-width="3.1" stroke-linejoin="round"/>
<path clip-path="url(#c4)" d="M729.5 386.9L729.5 386.9L738.1 390.0L736.5 393.9L729.5 396.2L729.5 396.2M729.5 407.2L729.5 407.2L741.2 409.5L734.9 413.4L738.1 418.1L734.9 422.8L739.6 427.5L729.5 432.2L729.5 432.2M729.5 453.4L729.5 453.4L736.5 456.6L734.9 469.1L749.0 473.8L747.4 476.1L734.9 480.0L733.4 489.4L739.6 492.5L736.5 498.8L738.1 503.4L734.9 514.4L729.5 519.1L729.5 519.1" fill="none" stroke="#7f7f7f" stroke-width="3.1" stroke-linejoin="round"/>
<path clip-path="url(#c4)" d="M729.5 180.0L729.5 183.8L746.5 186.9L759.0 188.1L742.8 189.4L774.0 192.5L749.0 195.0L744.6 200.0L745.2 205.0L747.8 207.5L742.8 210.0L764.0 212.1L749.0 213.8L755.2 216.2L767.8 222.5L780.2 225.6L802.8 226.5L742.8 228.1L746.5 230.6L729.5 232.5L729.5 239.4L749.0 241.2L739.0 243.1L752.8 246.2L739.0 248.1L785.2 250.0L729.5 251.9L729.5 274.4L733.4 279.1L861.5 285.6L759.9 289.2L733.4 290.8L837.3 293.1L763.1 297.8L772.4 298.6L733.4 301.7L763.1 305.3L769.3 307.2L752.1 309.5L786.5 313.1L733.4 316.6L729.5 318.1L729.5 341.6L759.9 342.8L786.5 346.2L747.4 348.6L739.6 350.3L851.3 353.0L794.3 354.4L805.2 355.6L733.4 356.9L770.9 358.1L733.4 359.5L783.4 361.6L733.4 362.3L775.6 363.0L733.4 364.2L786.5 365.8L739.6 366.9L778.7 367.3L733.4 368.4L802.1 370.0L733.4 370.8L814.6 372.8L744.3 374.1L778.7 374.4L744.3 375.6L805.2 377.0L778.7 378.3L831.8 380.3L778.7 380.9L828.7 383.0L778.7 384.1L805.2 386.1L783.4 386.9L874.0 388.8L767.8 389.7L788.1 392.0L755.2 393.9L770.9 394.7L739.6 397.0L877.1 399.4L733.4 401.2L729.5 402.5L729.5 406.4L755.2 407.7L733.4 408.4L845.9 409.5L777.1 410.6L817.8 411.6L783.4 412.2L814.6 413.1L786.5 413.8L825.6 415.0L763.1 416.6L778.7 417.7L806.8 420.5L786.5 422.3L830.2 424.4L786.5 426.7L811.5 429.8L747.4 432.2L739.6 433.4L739.6 433.4L878.7 435.0L739.6 437.0L731.8 439.4L742.8 442.5L824.8 445.6L786.5 448.0L824.0 451.6L770.9 453.1L741.2 454.7L770.9 455.8L794.3 458.9L783.4 460.0L806.8 461.2L783.4 463.6L810.7 467.2L774.0 469.1L819.3 470.9L811.5 471.9L835.7 473.0L814.6 475.3L828.7 476.9L794.3 478.4L828.7 480.0L756.8 480.6L797.4 483.9L783.4 486.2L804.5 488.1L767.8 489.7L770.9 492.5L800.6 494.8L758.4 496.4L800.6 498.0L759.9 499.5L777.1 501.1L806.8 503.4L766.2 507.3L778.7 509.7L770.9 512.0L777.9 514.4L749.0 515.6L755.2 519.8L753.7 522.2L742.1 524.5L743.6 526.9L736.5 529.2L733.6 531.8L733.1 534.3L730.8 536.8L729.5 539.4" fill="none" stroke="#000" stroke-width="1.5" stroke-dasharray="1.25 1.51"/>
<line x1="120" y1="546.5" x2="190" y2="546.5" stroke="#00f" stroke-width="1.3" stroke-dasharray="1.25 1.51"/>
<line x1="206" y1="546.5" x2="336" y2="546.5" stroke="#00f" stroke-width="1.3" stroke-dasharray="1.25 1.51"/>
<line x1="352.5" y1="546.5" x2="396.5" y2="546.5" stroke="#00f" stroke-width="1.3" stroke-dasharray="1.25 1.51"/>
<line x1="413" y1="546.5" x2="713.3" y2="546.5" stroke="#00f" stroke-width="1.3" stroke-dasharray="1.25 1.51"/>
<rect x="120" y="162" width="70" height="403" fill="none" stroke="#000" stroke-width="2"/>
<rect x="206" y="162" width="130" height="403" fill="none" stroke="#000" stroke-width="2"/>
<rect x="352.5" y="162" width="44.0" height="403" fill="none" stroke="#000" stroke-width="2"/>
<rect x="413" y="162" width="300.29999999999995" height="403" fill="none" stroke="#000" stroke-width="2"/>
<rect x="729.5" y="162" width="134.5" height="403" fill="none" stroke="#000" stroke-width="2"/>
<g font-family='"DejaVu Sans", "Liberation Sans", sans-serif' font-size="20.83px" fill="#000" opacity="0.999">
<text x="112.2" y="553.8" text-anchor="end">0</text>
<text x="112.2" y="504.1" text-anchor="end">5</text>
<text x="112.2" y="454.3" text-anchor="end">10</text>
<text x="112.2" y="404.6" text-anchor="end">15</text>
<text x="112.2" y="354.8" text-anchor="end">20</text>
<text x="112.2" y="305.1" text-anchor="end">25</text>
<text x="112.2" y="255.3" text-anchor="end">30</text>
<text x="112.2" y="205.6" text-anchor="end">35</text>
<text transform="translate(73.3 363.5) rotate(-90)" text-anchor="middle">Frequency (THz)</text>
<text x="120" y="587.2" text-anchor="middle">Γ</text>
<text x="176" y="587.2" text-anchor="middle">X</text>
<text x="189.5" y="587.2" text-anchor="middle">F<tspan font-size="14.58px" dy="4" dx="1.0">0</tspan></text>
<text x="205.3" y="587.2" text-anchor="middle">Σ<tspan font-size="14.58px" dy="4" dx="-0.3">0</tspan></text>
<text x="263.5" y="587.2" text-anchor="middle">Γ</text>
<text x="335.5" y="587.2" text-anchor="middle">Λ<tspan font-size="14.58px" dy="4" dx="0.4">0</tspan></text>
<text x="352.3" y="587.2" text-anchor="middle">G<tspan font-size="14.58px" dy="4" dx="-0.2">0</tspan></text>
<text x="396.3" y="587.2" text-anchor="middle">X</text>
<text x="413" y="587.2" text-anchor="middle">Γ</text>
<text x="481.5" y="587.2" text-anchor="middle">R</text>
<text x="509.3" y="587.2" text-anchor="middle">W</text>
<text x="544.8" y="587.2" text-anchor="middle">S</text>
<text x="609.8" y="587.2" text-anchor="middle">Γ</text>
<text x="654.8" y="587.2" text-anchor="middle">T</text>
<text x="714" y="587.2" text-anchor="middle">W</text>
<text x="729.7" y="587.2" text-anchor="middle">0</text>
<text x="835.2" y="587.2" text-anchor="middle">10</text>
</g>
</svg>
</body></html>
